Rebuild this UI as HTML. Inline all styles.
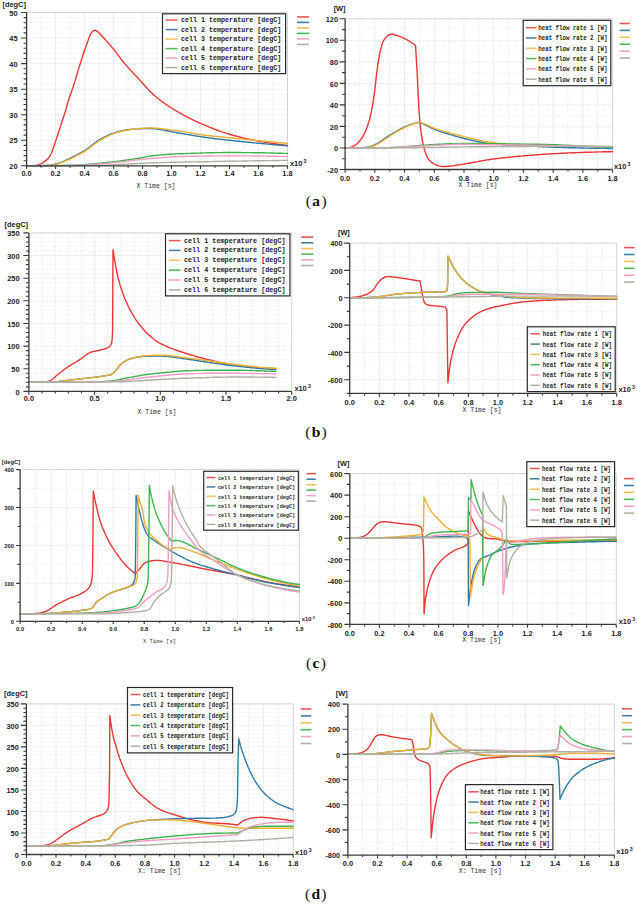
<!DOCTYPE html>
<html><head><meta charset="utf-8"><style>html,body{margin:0;padding:0;background:#fff;width:637px;height:904px;overflow:hidden}svg{display:block}</style></head><body>
<svg width="637" height="904" viewBox="0 0 637 904">
<rect width="637" height="904" fill="#fff"/>
<line x1="41.1" y1="12.5" x2="41.1" y2="165.8" stroke="#e2e2e2" stroke-width="0.9" stroke-dasharray="1 1"/>
<line x1="55.6" y1="12.5" x2="55.6" y2="165.8" stroke="#d8d8d8" stroke-width="0.9" stroke-dasharray="1 1"/>
<line x1="70.1" y1="12.5" x2="70.1" y2="165.8" stroke="#e2e2e2" stroke-width="0.9" stroke-dasharray="1 1"/>
<line x1="84.6" y1="12.5" x2="84.6" y2="165.8" stroke="#d8d8d8" stroke-width="0.9" stroke-dasharray="1 1"/>
<line x1="99.1" y1="12.5" x2="99.1" y2="165.8" stroke="#e2e2e2" stroke-width="0.9" stroke-dasharray="1 1"/>
<line x1="113.6" y1="12.5" x2="113.6" y2="165.8" stroke="#d8d8d8" stroke-width="0.9" stroke-dasharray="1 1"/>
<line x1="128.1" y1="12.5" x2="128.1" y2="165.8" stroke="#e2e2e2" stroke-width="0.9" stroke-dasharray="1 1"/>
<line x1="142.6" y1="12.5" x2="142.6" y2="165.8" stroke="#d8d8d8" stroke-width="0.9" stroke-dasharray="1 1"/>
<line x1="157" y1="12.5" x2="157" y2="165.8" stroke="#e2e2e2" stroke-width="0.9" stroke-dasharray="1 1"/>
<line x1="171.5" y1="12.5" x2="171.5" y2="165.8" stroke="#d8d8d8" stroke-width="0.9" stroke-dasharray="1 1"/>
<line x1="186" y1="12.5" x2="186" y2="165.8" stroke="#e2e2e2" stroke-width="0.9" stroke-dasharray="1 1"/>
<line x1="200.5" y1="12.5" x2="200.5" y2="165.8" stroke="#d8d8d8" stroke-width="0.9" stroke-dasharray="1 1"/>
<line x1="215" y1="12.5" x2="215" y2="165.8" stroke="#e2e2e2" stroke-width="0.9" stroke-dasharray="1 1"/>
<line x1="229.5" y1="12.5" x2="229.5" y2="165.8" stroke="#d8d8d8" stroke-width="0.9" stroke-dasharray="1 1"/>
<line x1="244" y1="12.5" x2="244" y2="165.8" stroke="#e2e2e2" stroke-width="0.9" stroke-dasharray="1 1"/>
<line x1="258.5" y1="12.5" x2="258.5" y2="165.8" stroke="#d8d8d8" stroke-width="0.9" stroke-dasharray="1 1"/>
<line x1="273" y1="12.5" x2="273" y2="165.8" stroke="#e2e2e2" stroke-width="0.9" stroke-dasharray="1 1"/>
<line x1="26.6" y1="160.7" x2="287.5" y2="160.7" stroke="#ececec" stroke-width="0.8" stroke-dasharray="1 1"/>
<line x1="26.6" y1="155.6" x2="287.5" y2="155.6" stroke="#ececec" stroke-width="0.8" stroke-dasharray="1 1"/>
<line x1="26.6" y1="150.5" x2="287.5" y2="150.5" stroke="#ececec" stroke-width="0.8" stroke-dasharray="1 1"/>
<line x1="26.6" y1="145.4" x2="287.5" y2="145.4" stroke="#ececec" stroke-width="0.8" stroke-dasharray="1 1"/>
<line x1="26.6" y1="140.2" x2="287.5" y2="140.2" stroke="#dcdcdc" stroke-width="0.8" stroke-dasharray="1 1"/>
<line x1="26.6" y1="135.1" x2="287.5" y2="135.1" stroke="#ececec" stroke-width="0.8" stroke-dasharray="1 1"/>
<line x1="26.6" y1="130" x2="287.5" y2="130" stroke="#ececec" stroke-width="0.8" stroke-dasharray="1 1"/>
<line x1="26.6" y1="124.9" x2="287.5" y2="124.9" stroke="#ececec" stroke-width="0.8" stroke-dasharray="1 1"/>
<line x1="26.6" y1="119.8" x2="287.5" y2="119.8" stroke="#ececec" stroke-width="0.8" stroke-dasharray="1 1"/>
<line x1="26.6" y1="114.7" x2="287.5" y2="114.7" stroke="#dcdcdc" stroke-width="0.8" stroke-dasharray="1 1"/>
<line x1="26.6" y1="109.6" x2="287.5" y2="109.6" stroke="#ececec" stroke-width="0.8" stroke-dasharray="1 1"/>
<line x1="26.6" y1="104.5" x2="287.5" y2="104.5" stroke="#ececec" stroke-width="0.8" stroke-dasharray="1 1"/>
<line x1="26.6" y1="99.4" x2="287.5" y2="99.4" stroke="#ececec" stroke-width="0.8" stroke-dasharray="1 1"/>
<line x1="26.6" y1="94.3" x2="287.5" y2="94.3" stroke="#ececec" stroke-width="0.8" stroke-dasharray="1 1"/>
<line x1="26.6" y1="89.2" x2="287.5" y2="89.2" stroke="#dcdcdc" stroke-width="0.8" stroke-dasharray="1 1"/>
<line x1="26.6" y1="84" x2="287.5" y2="84" stroke="#ececec" stroke-width="0.8" stroke-dasharray="1 1"/>
<line x1="26.6" y1="78.9" x2="287.5" y2="78.9" stroke="#ececec" stroke-width="0.8" stroke-dasharray="1 1"/>
<line x1="26.6" y1="73.8" x2="287.5" y2="73.8" stroke="#ececec" stroke-width="0.8" stroke-dasharray="1 1"/>
<line x1="26.6" y1="68.7" x2="287.5" y2="68.7" stroke="#ececec" stroke-width="0.8" stroke-dasharray="1 1"/>
<line x1="26.6" y1="63.6" x2="287.5" y2="63.6" stroke="#dcdcdc" stroke-width="0.8" stroke-dasharray="1 1"/>
<line x1="26.6" y1="58.5" x2="287.5" y2="58.5" stroke="#ececec" stroke-width="0.8" stroke-dasharray="1 1"/>
<line x1="26.6" y1="53.4" x2="287.5" y2="53.4" stroke="#ececec" stroke-width="0.8" stroke-dasharray="1 1"/>
<line x1="26.6" y1="48.3" x2="287.5" y2="48.3" stroke="#ececec" stroke-width="0.8" stroke-dasharray="1 1"/>
<line x1="26.6" y1="43.2" x2="287.5" y2="43.2" stroke="#ececec" stroke-width="0.8" stroke-dasharray="1 1"/>
<line x1="26.6" y1="38" x2="287.5" y2="38" stroke="#dcdcdc" stroke-width="0.8" stroke-dasharray="1 1"/>
<line x1="26.6" y1="32.9" x2="287.5" y2="32.9" stroke="#ececec" stroke-width="0.8" stroke-dasharray="1 1"/>
<line x1="26.6" y1="27.8" x2="287.5" y2="27.8" stroke="#ececec" stroke-width="0.8" stroke-dasharray="1 1"/>
<line x1="26.6" y1="22.7" x2="287.5" y2="22.7" stroke="#ececec" stroke-width="0.8" stroke-dasharray="1 1"/>
<line x1="26.6" y1="17.6" x2="287.5" y2="17.6" stroke="#ececec" stroke-width="0.8" stroke-dasharray="1 1"/>
<path d="M26.6 12.5 H287.5 V165.8" fill="none" stroke="#d4d4d4" stroke-width="1"/>
<path d="M26.6 165.8 L27.5 165.8 L28.6 165.8 L29.8 165.8 L31 165.7 L31.8 165.7 L32.6 165.7 L33.4 165.6 L34.2 165.6 L35.4 165.5 L36.6 165.3 L37.7 165 L38.9 164.6 L40 164.2 L41.1 163.7 L42.2 163.1 L43.2 162.5 L44.2 161.9 L44.8 161.4 L45.4 160.9 L46.1 160.4 L46.9 159.6 L47.8 158.7 L48.6 157.8 L49.3 156.9 L50 155.9 L50.6 154.8 L51.1 153.8 L51.5 153 L51.8 152.3 L52.1 151.5 L52.3 150.8 L52.6 150 L52.9 149.3 L53.1 148.5 L53.4 147.8 L53.7 147 L53.9 146.2 L54.2 145.5 L54.4 144.7 L54.7 144 L54.9 143.2 L55.2 142.5 L55.4 141.7 L55.7 140.9 L56 140.2 L56.2 139.4 L56.5 138.7 L56.7 137.9 L57 137.1 L57.2 136.4 L57.5 135.6 L57.7 134.9 L58 134.1 L58.2 133.3 L58.5 132.6 L58.7 131.8 L59 131 L59.2 130.3 L59.5 129.5 L59.7 128.8 L59.9 128 L60.2 127.2 L60.4 126.5 L60.7 125.7 L60.9 124.9 L61.2 124.2 L61.4 123.4 L61.7 122.7 L61.9 121.9 L62.2 121.1 L62.4 120.4 L62.7 119.6 L62.9 118.8 L63.2 118.1 L63.4 117.3 L63.7 116.6 L63.9 115.8 L64.2 115 L64.4 114.3 L64.7 113.5 L64.9 112.7 L65.2 112 L65.4 111.2 L65.6 110.4 L65.9 109.7 L66.1 108.9 L66.3 108.1 L66.5 107.4 L66.7 106.6 L66.9 105.8 L67.2 105.1 L67.4 104.3 L67.6 103.5 L67.8 102.7 L68 102 L68.2 101.2 L68.5 100.4 L68.7 99.7 L69 98.9 L69.2 98.1 L69.5 97.4 L69.7 96.6 L70 95.9 L70.3 95.1 L70.5 94.4 L70.8 93.6 L71.1 92.9 L71.4 92.1 L71.6 91.3 L71.9 90.6 L72.2 89.8 L72.4 89.1 L72.7 88.3 L72.9 87.6 L73.2 86.8 L73.4 86 L73.7 85.3 L73.9 84.5 L74.1 83.7 L74.4 83 L74.6 82.2 L74.8 81.4 L75.1 80.7 L75.3 79.9 L75.5 79.1 L75.8 78.4 L76 77.6 L76.2 76.8 L76.4 76.1 L76.7 75.3 L76.9 74.5 L77.1 73.8 L77.4 73 L77.6 72.2 L77.8 71.5 L78.1 70.7 L78.3 69.9 L78.5 69.2 L78.8 68.4 L79 67.6 L79.2 66.9 L79.5 66.1 L79.7 65.3 L80 64.6 L80.2 63.8 L80.4 63 L80.7 62.3 L80.9 61.5 L81.2 60.7 L81.4 60 L81.7 59.2 L81.9 58.5 L82.2 57.7 L82.4 56.9 L82.7 56.2 L82.9 55.4 L83.2 54.6 L83.4 53.9 L83.7 53.1 L83.9 52.4 L84.2 51.6 L84.4 50.8 L84.7 50.1 L84.9 49.3 L85.2 48.6 L85.5 47.8 L85.7 47.1 L86 46.3 L86.3 45.5 L86.5 44.8 L86.8 44 L87.1 43.3 L87.3 42.5 L87.6 41.8 L87.9 41 L88.1 40.3 L88.4 39.5 L88.7 38.7 L88.9 38 L89.2 37.2 L89.5 36.5 L89.8 35.7 L90.2 34.6 L90.8 33.6 L91.5 32.6 L92.2 31.7 L93.1 30.9 L94.1 30.4 L95.1 30.3 L96.2 30.6 L97.2 31.1 L98.1 31.9 L98.9 32.7 L99.5 33.3 L100 33.9 L100.6 34.5 L101.1 35.1 L101.6 35.7 L102.2 36.3 L102.7 36.8 L103.3 37.4 L103.9 38 L104.4 38.6 L105 39.2 L105.5 39.8 L106 40.4 L106.6 41 L107.1 41.6 L107.6 42.2 L108.1 42.8 L108.7 43.4 L109.2 44 L109.7 44.6 L110.2 45.2 L110.7 45.8 L111.2 46.5 L111.7 47.1 L112.2 47.7 L112.8 48.3 L113.3 48.9 L113.8 49.6 L114.3 50.2 L114.8 50.8 L115.3 51.4 L115.8 52.1 L116.3 52.7 L116.8 53.3 L117.2 54 L117.7 54.6 L118.2 55.2 L118.7 55.9 L119.2 56.5 L119.7 57.2 L120.1 57.8 L120.6 58.4 L121.1 59.1 L121.6 59.7 L122.1 60.3 L122.6 61 L123.1 61.6 L123.6 62.2 L124.1 62.8 L124.6 63.5 L125.1 64.1 L125.7 64.7 L126.2 65.3 L126.7 65.9 L127.2 66.5 L127.8 67.1 L128.3 67.7 L128.8 68.3 L129.4 68.9 L129.9 69.5 L130.4 70.1 L131 70.7 L131.5 71.2 L132.1 71.8 L132.6 72.4 L133.2 73 L133.7 73.6 L134.3 74.2 L134.8 74.8 L135.4 75.3 L135.9 75.9 L136.5 76.5 L137 77.1 L137.6 77.7 L138.1 78.3 L138.7 78.8 L139.2 79.4 L139.7 80 L140.3 80.6 L140.8 81.2 L141.4 81.8 L141.9 82.4 L142.4 83 L143 83.6 L143.5 84.2 L144 84.8 L144.6 85.4 L145.1 86 L145.6 86.6 L146.2 87.2 L146.7 87.8 L147.2 88.4 L147.8 89 L148.3 89.6 L148.9 90.1 L149.4 90.7 L150 91.3 L150.5 91.9 L151.1 92.4 L151.7 93 L152.3 93.5 L152.8 94.1 L153.4 94.6 L154 95.2 L154.6 95.7 L155.3 96.2 L155.9 96.7 L156.5 97.2 L157.1 97.7 L157.7 98.2 L158.4 98.7 L159 99.2 L159.6 99.7 L160.3 100.2 L160.9 100.7 L161.5 101.2 L162.2 101.6 L162.8 102.1 L163.5 102.6 L164.1 103.1 L164.8 103.5 L165.4 104 L166.1 104.4 L166.8 104.9 L167.4 105.3 L168.1 105.8 L168.8 106.2 L169.4 106.7 L170.1 107.1 L170.8 107.5 L171.5 108 L172.1 108.4 L172.8 108.8 L173.5 109.2 L174.2 109.7 L174.9 110.1 L175.6 110.5 L176.2 110.9 L176.9 111.3 L177.6 111.7 L178.3 112.1 L179 112.5 L179.7 112.9 L180.4 113.3 L181.1 113.7 L181.8 114.1 L182.5 114.5 L183.2 114.9 L183.9 115.3 L184.6 115.6 L185.3 116 L186 116.4 L186.7 116.8 L187.4 117.1 L188.2 117.5 L188.9 117.9 L189.6 118.2 L190.3 118.6 L191 118.9 L191.7 119.3 L192.5 119.6 L193.2 120 L193.9 120.3 L194.6 120.7 L195.4 121 L196.1 121.4 L196.8 121.7 L197.5 122 L198.3 122.4 L199 122.7 L199.7 123 L200.5 123.3 L201.2 123.6 L201.9 124 L202.7 124.3 L203.4 124.6 L204.2 124.9 L204.9 125.2 L205.6 125.5 L206.4 125.8 L207.1 126.1 L207.8 126.5 L208.6 126.8 L209.3 127.1 L210.1 127.4 L210.8 127.7 L211.6 128 L212.3 128.3 L213.1 128.5 L213.8 128.8 L214.6 129.1 L215.3 129.4 L216 129.7 L216.8 130 L217.5 130.3 L218.3 130.5 L219.1 130.8 L219.8 131.1 L220.6 131.3 L221.3 131.6 L222.1 131.9 L222.8 132.1 L223.6 132.4 L224.4 132.6 L225.1 132.9 L225.9 133.1 L226.6 133.4 L227.4 133.6 L228.2 133.8 L228.9 134.1 L229.7 134.3 L230.5 134.5 L231.3 134.7 L232 135 L232.8 135.2 L233.6 135.4 L234.3 135.6 L235.1 135.8 L235.9 136 L236.7 136.2 L237.4 136.4 L238.2 136.6 L239 136.8 L239.8 137 L240.5 137.2 L241.3 137.4 L242.1 137.6 L242.9 137.8 L243.7 138 L244.4 138.2 L245.2 138.4 L246 138.5 L246.8 138.7 L247.6 138.9 L248.3 139.1 L249.1 139.2 L249.9 139.4 L250.7 139.6 L251.5 139.7 L252.3 139.9 L253.1 140 L253.8 140.2 L254.6 140.3 L255.4 140.5 L256.2 140.6 L257 140.8 L257.8 140.9 L258.6 141.1 L259.4 141.2 L260.1 141.4 L260.9 141.5 L261.7 141.6 L262.5 141.8 L263.3 141.9 L264.1 142.1 L264.9 142.2 L265.7 142.3 L266.5 142.5 L267.3 142.6 L268 142.7 L268.8 142.9 L269.6 143 L270.4 143.1 L271.2 143.2 L272 143.4 L272.8 143.5 L273.6 143.6 L274.4 143.7 L275.2 143.8 L276 143.9 L276.8 144.1 L277.6 144.2 L278.3 144.3 L279.1 144.4 L279.9 144.5 L280.7 144.6 L281.5 144.7 L282.3 144.8 L283.1 144.9 L284.3 145 L285.5 145.1 L286.7 145.3 L287.5 145.4" fill="none" stroke="#ee3535" stroke-width="1.4" stroke-linejoin="round" stroke-linecap="round"/>
<path d="M26.6 165.8 L27.5 165.8 L28.6 165.8 L29.8 165.8 L31 165.8 L31.8 165.8 L32.6 165.8 L33.4 165.7 L34.2 165.7 L35 165.7 L35.8 165.7 L36.6 165.7 L37.4 165.7 L38.2 165.7 L39 165.6 L39.8 165.6 L40.6 165.6 L41.4 165.6 L42.2 165.5 L43 165.5 L43.8 165.5 L44.6 165.4 L45.5 165.4 L46.3 165.4 L47.1 165.3 L47.9 165.3 L48.7 165.2 L49.5 165.2 L50.2 165.1 L51 165 L51.8 164.8 L52.6 164.7 L53.4 164.5 L54.2 164.3 L55 164.1 L55.7 163.9 L56.5 163.7 L57.3 163.5 L58.1 163.3 L58.8 163.1 L59.6 162.8 L60.4 162.6 L61.1 162.3 L61.9 162 L62.6 161.7 L63.3 161.4 L64.1 161.1 L64.8 160.8 L65.5 160.4 L66.3 160.1 L67 159.7 L67.7 159.4 L68.4 159.1 L69.2 158.7 L69.9 158.3 L70.6 158 L71.3 157.6 L72 157.3 L72.8 156.9 L73.5 156.6 L74.2 156.2 L74.9 155.9 L75.6 155.5 L76.3 155.1 L77.1 154.8 L77.8 154.4 L78.5 154 L79.2 153.6 L79.9 153.2 L80.6 152.8 L81.3 152.4 L82 152 L82.7 151.6 L83.4 151.2 L84 150.8 L84.7 150.4 L85.4 150 L86.1 149.5 L86.7 149.1 L87.4 148.6 L88 148.1 L88.7 147.7 L89.3 147.2 L90 146.7 L90.6 146.2 L91.2 145.7 L91.8 145.2 L92.5 144.7 L93.1 144.2 L93.7 143.7 L94.4 143.2 L95 142.7 L95.7 142.3 L96.3 141.8 L97 141.3 L97.6 140.9 L98.3 140.5 L99 140.1 L99.7 139.6 L100.4 139.2 L101.1 138.8 L101.8 138.5 L102.5 138.1 L103.2 137.7 L103.9 137.3 L104.6 136.9 L105.3 136.6 L106 136.2 L106.8 135.9 L107.5 135.5 L108.2 135.2 L109 134.9 L109.7 134.5 L110.4 134.2 L111.2 133.9 L111.9 133.7 L112.7 133.4 L113.5 133.2 L114.2 132.9 L115 132.7 L115.7 132.4 L116.5 132.2 L117.3 132 L118.1 131.8 L118.8 131.5 L119.6 131.3 L120.4 131.1 L121.2 130.9 L121.9 130.8 L122.7 130.6 L123.5 130.4 L124.3 130.2 L125.1 130.1 L125.9 130 L126.7 129.8 L127.5 129.7 L128.3 129.6 L129.1 129.6 L129.9 129.5 L130.7 129.4 L131.5 129.3 L132.3 129.3 L133.1 129.2 L133.9 129.1 L134.7 129.1 L135.5 129 L136.3 129 L137.1 128.9 L137.9 128.9 L138.7 128.8 L139.5 128.8 L140.3 128.7 L141.1 128.7 L141.9 128.7 L142.7 128.6 L143.5 128.6 L144.3 128.6 L145.1 128.6 L145.9 128.5 L146.7 128.5 L147.5 128.5 L148.3 128.5 L149.1 128.5 L149.9 128.5 L150.7 128.5 L151.5 128.6 L152.3 128.6 L153.1 128.7 L153.9 128.7 L154.7 128.8 L155.5 128.9 L156.3 129 L157.1 129.1 L157.9 129.2 L158.7 129.3 L159.5 129.4 L160.3 129.5 L161 129.6 L161.8 129.8 L162.6 129.9 L163.4 130.1 L164.2 130.2 L165 130.4 L165.8 130.5 L166.6 130.7 L167.4 130.8 L168.1 131 L168.9 131.1 L169.7 131.3 L170.5 131.5 L171.3 131.6 L172.1 131.8 L172.9 131.9 L173.6 132.1 L174.4 132.2 L175.2 132.4 L176 132.5 L176.8 132.7 L177.6 132.8 L178.4 133 L179.2 133.1 L180 133.2 L180.8 133.3 L181.5 133.5 L182.3 133.6 L183.1 133.7 L183.9 133.9 L184.7 134 L185.5 134.1 L186.3 134.3 L187.1 134.4 L187.9 134.5 L188.7 134.7 L189.5 134.8 L190.3 134.9 L191 135.1 L191.8 135.2 L192.6 135.4 L193.4 135.5 L194.2 135.6 L195 135.8 L195.8 135.9 L196.6 136 L197.4 136.1 L198.2 136.3 L199 136.4 L199.7 136.5 L200.5 136.6 L201.3 136.8 L202.1 136.9 L202.9 137 L203.7 137.1 L204.5 137.2 L205.3 137.3 L206.1 137.5 L206.9 137.6 L207.7 137.7 L208.5 137.8 L209.3 137.9 L210.1 138 L210.9 138.1 L211.7 138.2 L212.5 138.3 L213.3 138.4 L214.1 138.5 L214.9 138.6 L215.6 138.7 L216.4 138.8 L217.2 138.9 L218 139 L218.8 139.1 L219.6 139.2 L220.4 139.3 L221.2 139.4 L222 139.4 L222.8 139.5 L223.6 139.6 L224.4 139.7 L225.2 139.8 L226 139.9 L226.8 140 L227.6 140.1 L228.4 140.2 L229.2 140.3 L230 140.3 L230.8 140.4 L231.6 140.5 L232.4 140.6 L233.2 140.7 L234 140.8 L234.8 140.9 L235.6 141 L236.4 141 L237.2 141.1 L238 141.2 L238.8 141.3 L239.6 141.4 L240.4 141.4 L241.2 141.5 L242 141.6 L242.8 141.7 L243.6 141.8 L244.4 141.8 L245.2 141.9 L246 142 L246.8 142.1 L247.6 142.2 L248.4 142.2 L249.2 142.3 L249.9 142.4 L250.7 142.5 L251.5 142.6 L252.3 142.6 L253.1 142.7 L253.9 142.8 L254.7 142.9 L255.5 142.9 L256.3 143 L257.1 143.1 L257.9 143.2 L258.7 143.2 L259.5 143.3 L260.3 143.4 L261.1 143.5 L261.9 143.5 L262.7 143.6 L263.5 143.7 L264.3 143.8 L265.1 143.9 L265.9 143.9 L266.7 144 L267.5 144.1 L268.3 144.1 L269.1 144.2 L269.9 144.3 L270.7 144.4 L271.5 144.4 L272.3 144.5 L273.1 144.6 L273.9 144.7 L274.7 144.7 L275.5 144.8 L276.3 144.9 L277.1 145 L277.9 145 L278.7 145.1 L279.5 145.2 L280.3 145.2 L281.1 145.3 L281.9 145.4 L282.7 145.5 L283.5 145.5 L284.7 145.6 L285.9 145.7 L287.1 145.8 L287.5 145.9" fill="none" stroke="#2d7ba6" stroke-width="1.4" stroke-linejoin="round" stroke-linecap="round"/>
<path d="M26.6 165.8 L27.5 165.8 L28.6 165.8 L29.8 165.8 L31 165.8 L31.8 165.8 L32.6 165.8 L33.4 165.8 L34.2 165.8 L35 165.8 L35.8 165.8 L36.6 165.7 L37.4 165.7 L38.2 165.7 L39 165.7 L39.8 165.7 L40.6 165.7 L41.4 165.7 L42.2 165.7 L43 165.7 L43.8 165.6 L44.6 165.6 L45.4 165.6 L46.2 165.6 L47 165.6 L47.8 165.5 L48.6 165.5 L49.4 165.4 L50.2 165.3 L51 165.2 L51.8 165.1 L52.6 165 L53.4 164.8 L54.2 164.6 L54.9 164.4 L55.7 164.2 L56.5 164 L57.3 163.8 L58 163.6 L58.8 163.4 L59.6 163.1 L60.3 162.9 L61.1 162.6 L61.9 162.4 L62.6 162.1 L63.4 161.8 L64.1 161.5 L64.8 161.2 L65.6 160.9 L66.3 160.6 L67.1 160.3 L67.8 160 L68.5 159.6 L69.3 159.3 L70 159 L70.7 158.7 L71.4 158.3 L72.2 158 L72.9 157.6 L73.6 157.3 L74.3 156.9 L75.1 156.6 L75.8 156.2 L76.5 155.9 L77.2 155.5 L77.9 155.1 L78.6 154.7 L79.3 154.3 L80 153.9 L80.7 153.6 L81.4 153.2 L82.1 152.7 L82.8 152.3 L83.5 151.9 L84.2 151.5 L84.8 151.1 L85.5 150.7 L86.2 150.2 L86.9 149.8 L87.5 149.3 L88.2 148.9 L88.8 148.4 L89.5 147.9 L90.1 147.4 L90.7 147 L91.4 146.5 L92 146 L92.7 145.5 L93.3 145 L93.9 144.5 L94.6 144.1 L95.2 143.6 L95.9 143.1 L96.5 142.7 L97.2 142.2 L97.9 141.8 L98.5 141.3 L99.2 140.9 L99.9 140.5 L100.6 140.1 L101.3 139.7 L102 139.3 L102.7 138.9 L103.4 138.5 L104.1 138.1 L104.8 137.7 L105.5 137.3 L106.2 136.9 L106.9 136.5 L107.6 136.2 L108.3 135.8 L109 135.5 L109.8 135.1 L110.5 134.8 L111.2 134.5 L112 134.2 L112.7 133.9 L113.5 133.7 L114.2 133.4 L115 133.2 L115.8 132.9 L116.5 132.7 L117.3 132.4 L118.1 132.2 L118.8 132 L119.6 131.8 L120.4 131.6 L121.2 131.4 L121.9 131.2 L122.7 131 L123.5 130.8 L124.3 130.6 L125.1 130.5 L125.9 130.3 L126.6 130.2 L127.4 130.1 L128.2 129.9 L129 129.8 L129.8 129.7 L130.6 129.6 L131.4 129.5 L132.2 129.4 L133 129.3 L133.8 129.2 L134.6 129.1 L135.4 129 L136.2 128.9 L137 128.8 L137.8 128.7 L138.6 128.6 L139.4 128.5 L140.2 128.5 L141 128.4 L141.8 128.3 L142.6 128.3 L143.4 128.2 L144.1 128.2 L145 128.1 L145.8 128.1 L146.6 128 L147.4 128 L148.2 128 L149 128 L149.8 128 L150.6 128 L151.4 128 L152.2 128 L153 128.1 L153.8 128.1 L154.6 128.2 L155.4 128.2 L156.2 128.3 L157 128.3 L157.8 128.4 L158.6 128.4 L159.4 128.5 L160.2 128.6 L161 128.7 L161.7 128.8 L162.5 128.9 L163.3 128.9 L164.1 129 L164.9 129.1 L165.7 129.2 L166.5 129.3 L167.3 129.4 L168.1 129.5 L168.9 129.7 L169.7 129.8 L170.5 129.9 L171.3 130 L172.1 130.1 L172.9 130.2 L173.7 130.3 L174.5 130.4 L175.3 130.5 L176.1 130.6 L176.8 130.7 L177.6 130.8 L178.4 131 L179.2 131.1 L180 131.2 L180.8 131.3 L181.6 131.4 L182.4 131.5 L183.2 131.6 L184 131.8 L184.8 131.9 L185.6 132 L186.4 132.1 L187.2 132.3 L187.9 132.4 L188.7 132.6 L189.5 132.7 L190.3 132.8 L191.1 133 L191.9 133.1 L192.7 133.3 L193.5 133.4 L194.3 133.6 L195 133.7 L195.8 133.8 L196.6 134 L197.4 134.1 L198.2 134.2 L199 134.4 L199.8 134.5 L200.6 134.6 L201.4 134.7 L202.2 134.9 L203 135 L203.7 135.1 L204.5 135.2 L205.3 135.3 L206.1 135.4 L206.9 135.5 L207.7 135.6 L208.5 135.7 L209.3 135.7 L210.1 135.8 L210.9 135.9 L211.7 136 L212.5 136.1 L213.3 136.2 L214.1 136.2 L214.9 136.3 L215.7 136.4 L216.5 136.5 L217.3 136.6 L218.1 136.6 L218.9 136.7 L219.7 136.8 L220.5 136.9 L221.3 136.9 L222.1 137 L222.9 137.1 L223.7 137.2 L224.5 137.2 L225.3 137.3 L226.1 137.4 L226.9 137.5 L227.7 137.6 L228.5 137.6 L229.3 137.7 L230.1 137.8 L230.9 137.9 L231.7 138 L232.4 138 L233.2 138.1 L234 138.2 L234.8 138.3 L235.6 138.4 L236.4 138.5 L237.2 138.5 L238 138.6 L238.8 138.7 L239.6 138.8 L240.4 138.9 L241.2 138.9 L242 139 L242.8 139.1 L243.6 139.2 L244.4 139.3 L245.2 139.4 L246 139.4 L246.8 139.5 L247.6 139.6 L248.4 139.7 L249.2 139.8 L250 139.8 L250.8 139.9 L251.6 140 L252.4 140.1 L253.2 140.2 L254 140.2 L254.8 140.3 L255.6 140.4 L256.4 140.5 L257.2 140.5 L258 140.6 L258.8 140.7 L259.6 140.8 L260.4 140.8 L261.2 140.9 L262 141 L262.8 141.1 L263.6 141.1 L264.4 141.2 L265.1 141.3 L265.9 141.4 L266.7 141.4 L267.5 141.5 L268.3 141.6 L269.1 141.7 L269.9 141.7 L270.7 141.8 L271.5 141.9 L272.3 142 L273.1 142 L273.9 142.1 L274.7 142.2 L275.5 142.3 L276.3 142.3 L277.1 142.4 L277.9 142.5 L278.7 142.5 L279.5 142.6 L280.3 142.7 L281.1 142.8 L281.9 142.8 L282.7 142.9 L283.5 143 L284.7 143.1 L285.9 143.2 L287.1 143.3 L287.5 143.3" fill="none" stroke="#eeae32" stroke-width="1.4" stroke-linejoin="round" stroke-linecap="round"/>
<path d="M26.6 165.8 L27.5 165.8 L28.6 165.8 L29.8 165.8 L31 165.8 L31.8 165.8 L32.6 165.8 L33.4 165.8 L34.2 165.8 L35 165.8 L35.8 165.8 L36.6 165.8 L37.4 165.8 L38.2 165.8 L39 165.8 L39.8 165.7 L40.6 165.7 L41.4 165.7 L42.2 165.7 L43 165.7 L43.8 165.7 L44.6 165.7 L45.4 165.7 L46.2 165.7 L47 165.7 L47.8 165.7 L48.6 165.7 L49.4 165.6 L50.2 165.6 L51 165.6 L51.8 165.6 L52.6 165.6 L53.4 165.6 L54.2 165.6 L55 165.6 L55.8 165.5 L56.6 165.5 L57.5 165.5 L58.3 165.5 L59.1 165.5 L59.9 165.5 L60.7 165.5 L61.5 165.5 L62.3 165.4 L63.1 165.4 L63.9 165.4 L64.7 165.4 L65.5 165.4 L66.3 165.4 L67.1 165.3 L67.9 165.3 L68.7 165.3 L69.5 165.3 L70.3 165.3 L71.1 165.3 L71.9 165.2 L72.7 165.2 L73.5 165.2 L74.3 165.2 L75.1 165.1 L75.9 165.1 L76.7 165.1 L77.5 165 L78.3 165 L79.1 164.9 L79.9 164.9 L80.7 164.8 L81.5 164.8 L82.3 164.7 L83.1 164.7 L83.9 164.6 L84.7 164.6 L85.5 164.5 L86.3 164.4 L87.1 164.4 L87.9 164.3 L88.7 164.2 L89.5 164.2 L90.3 164.1 L91.1 164 L91.9 164 L92.7 163.9 L93.5 163.8 L94.3 163.7 L95.1 163.7 L95.8 163.6 L96.6 163.5 L97.4 163.4 L98.2 163.3 L99 163.3 L99.8 163.2 L100.6 163.1 L101.4 163 L102.2 162.9 L103 162.8 L103.8 162.8 L104.6 162.7 L105.4 162.6 L106.2 162.5 L107 162.4 L107.8 162.3 L108.6 162.2 L109.4 162.2 L110.2 162.1 L111 162 L111.8 161.9 L112.6 161.8 L113.4 161.7 L114.2 161.6 L115 161.6 L115.8 161.5 L116.6 161.4 L117.4 161.3 L118.2 161.2 L119 161.1 L119.7 161 L120.5 160.9 L121.3 160.8 L122.1 160.7 L122.9 160.6 L123.7 160.5 L124.5 160.3 L125.3 160.2 L126.1 160.1 L126.9 160 L127.7 159.9 L128.5 159.8 L129.3 159.7 L130.1 159.5 L130.9 159.4 L131.6 159.3 L132.4 159.2 L133.2 159.1 L134 158.9 L134.8 158.8 L135.6 158.7 L136.4 158.6 L137.2 158.4 L138 158.3 L138.8 158.2 L139.6 158.1 L140.4 157.9 L141.1 157.8 L141.9 157.7 L142.7 157.5 L143.5 157.4 L144.3 157.2 L145.1 157.1 L145.9 156.9 L146.7 156.8 L147.4 156.6 L148.2 156.5 L149 156.3 L149.8 156.2 L150.6 156.1 L151.4 156 L152.2 155.8 L153 155.7 L153.8 155.6 L154.6 155.5 L155.4 155.5 L156.2 155.4 L157 155.3 L157.8 155.2 L158.6 155.1 L159.4 155.1 L160.2 155 L161 154.9 L161.8 154.9 L162.6 154.8 L163.4 154.7 L164.2 154.7 L165 154.6 L165.8 154.6 L166.6 154.5 L167.3 154.4 L168.1 154.4 L168.9 154.3 L169.7 154.3 L170.5 154.2 L171.3 154.2 L172.1 154.1 L172.9 154.1 L173.7 154 L174.5 154 L175.3 154 L176.1 153.9 L176.9 153.9 L177.8 153.9 L178.6 153.8 L179.4 153.8 L180.2 153.8 L181 153.7 L181.8 153.7 L182.6 153.7 L183.4 153.6 L184.2 153.6 L185 153.6 L185.8 153.5 L186.6 153.5 L187.4 153.5 L188.2 153.4 L189 153.4 L189.8 153.4 L190.6 153.4 L191.4 153.3 L192.2 153.3 L193 153.3 L193.8 153.2 L194.6 153.2 L195.4 153.2 L196.2 153.2 L197 153.1 L197.8 153.1 L198.6 153.1 L199.4 153.1 L200.2 153 L201 153 L201.8 153 L202.6 153 L203.4 152.9 L204.2 152.9 L205 152.9 L205.8 152.9 L206.6 152.8 L207.4 152.8 L208.2 152.8 L209 152.8 L209.8 152.8 L210.6 152.7 L211.4 152.7 L212.2 152.7 L213 152.7 L213.8 152.7 L214.6 152.7 L215.4 152.6 L216.2 152.6 L217 152.6 L217.8 152.6 L218.6 152.6 L219.4 152.6 L220.2 152.6 L221 152.6 L221.8 152.6 L222.6 152.5 L223.4 152.5 L224.2 152.5 L225 152.5 L225.8 152.5 L226.6 152.5 L227.4 152.5 L228.2 152.5 L229 152.5 L229.8 152.5 L230.6 152.5 L231.4 152.5 L232.2 152.5 L233 152.5 L233.8 152.5 L234.6 152.5 L235.4 152.5 L236.2 152.5 L237 152.5 L237.8 152.5 L238.6 152.5 L239.4 152.5 L240.2 152.5 L241 152.5 L241.8 152.6 L242.6 152.6 L243.4 152.6 L244.2 152.6 L245 152.6 L245.8 152.6 L246.6 152.6 L247.4 152.6 L248.2 152.6 L249 152.6 L249.8 152.6 L250.7 152.6 L251.5 152.6 L252.3 152.6 L253.1 152.7 L253.9 152.7 L254.7 152.7 L255.5 152.7 L256.3 152.7 L257.1 152.7 L257.9 152.7 L258.7 152.7 L259.5 152.7 L260.3 152.8 L261.1 152.8 L261.9 152.8 L262.7 152.8 L263.5 152.8 L264.3 152.8 L265.1 152.9 L265.9 152.9 L266.7 152.9 L267.5 152.9 L268.3 152.9 L269.1 152.9 L269.9 153 L270.7 153 L271.5 153 L272.3 153 L273.1 153 L273.9 153.1 L274.7 153.1 L275.5 153.1 L276.3 153.1 L277.1 153.2 L277.9 153.2 L278.7 153.2 L279.5 153.2 L280.3 153.3 L281.1 153.3 L281.9 153.3 L282.7 153.4 L283.5 153.4 L284.7 153.4 L285.9 153.5 L287.1 153.5 L287.5 153.5" fill="none" stroke="#3cb64c" stroke-width="1.4" stroke-linejoin="round" stroke-linecap="round"/>
<path d="M26.6 165.8 L27.5 165.8 L28.6 165.8 L29.8 165.8 L31 165.8 L31.8 165.8 L32.6 165.8 L33.4 165.8 L34.2 165.8 L35 165.8 L35.8 165.8 L36.6 165.8 L37.4 165.8 L38.2 165.8 L39 165.8 L39.8 165.8 L40.6 165.8 L41.4 165.8 L42.2 165.8 L43 165.8 L43.8 165.8 L44.6 165.8 L45.4 165.7 L46.2 165.7 L47 165.7 L47.8 165.7 L48.6 165.7 L49.4 165.7 L50.2 165.7 L51 165.7 L51.9 165.7 L52.7 165.7 L53.5 165.7 L54.3 165.7 L55.1 165.7 L55.9 165.7 L56.7 165.7 L57.5 165.7 L58.3 165.7 L59.1 165.7 L59.9 165.6 L60.7 165.6 L61.5 165.6 L62.3 165.6 L63.1 165.6 L63.9 165.6 L64.7 165.6 L65.5 165.6 L66.3 165.6 L67.1 165.6 L67.9 165.6 L68.7 165.6 L69.5 165.5 L70.3 165.5 L71.1 165.5 L71.9 165.5 L72.7 165.5 L73.5 165.5 L74.3 165.5 L75.1 165.4 L75.9 165.4 L76.7 165.4 L77.5 165.4 L78.3 165.3 L79.1 165.3 L79.9 165.3 L80.7 165.2 L81.5 165.2 L82.3 165.1 L83.1 165.1 L83.9 165.1 L84.7 165 L85.5 165 L86.3 164.9 L87.1 164.9 L87.9 164.8 L88.7 164.8 L89.5 164.7 L90.3 164.7 L91.1 164.6 L91.9 164.5 L92.7 164.5 L93.5 164.4 L94.3 164.4 L95.1 164.3 L95.9 164.2 L96.7 164.2 L97.5 164.1 L98.3 164 L99.1 164 L99.9 163.9 L100.7 163.8 L101.5 163.8 L102.3 163.7 L103.1 163.6 L103.9 163.6 L104.7 163.5 L105.5 163.4 L106.3 163.4 L107.1 163.3 L107.9 163.2 L108.7 163.2 L109.5 163.1 L110.3 163 L111.1 162.9 L111.9 162.9 L112.7 162.8 L113.5 162.7 L114.3 162.7 L115.1 162.6 L115.9 162.5 L116.7 162.4 L117.5 162.3 L118.3 162.3 L119.1 162.2 L119.9 162.1 L120.6 162 L121.4 161.9 L122.2 161.8 L123 161.7 L123.8 161.6 L124.6 161.5 L125.4 161.4 L126.2 161.3 L127 161.1 L127.8 161 L128.6 160.9 L129.4 160.8 L130.2 160.7 L131 160.6 L131.8 160.5 L132.6 160.4 L133.4 160.3 L134.2 160.2 L135 160.1 L135.8 160 L136.5 159.9 L137.3 159.9 L138.1 159.8 L138.9 159.7 L139.7 159.6 L140.5 159.5 L141.3 159.5 L142.1 159.4 L142.9 159.3 L143.7 159.2 L144.5 159.2 L145.3 159.1 L146.1 159 L146.9 158.9 L147.7 158.8 L148.5 158.8 L149.3 158.7 L150.1 158.6 L150.9 158.5 L151.7 158.5 L152.5 158.4 L153.3 158.3 L154.1 158.2 L154.9 158.2 L155.7 158.1 L156.5 158 L157.3 158 L158.1 157.9 L158.9 157.8 L159.7 157.8 L160.5 157.7 L161.3 157.6 L162.1 157.6 L162.9 157.5 L163.7 157.4 L164.5 157.4 L165.3 157.3 L166.1 157.3 L166.9 157.2 L167.7 157.2 L168.5 157.1 L169.3 157.1 L170.1 157 L170.9 157 L171.7 156.9 L172.5 156.9 L173.3 156.8 L174.1 156.8 L174.9 156.8 L175.7 156.7 L176.5 156.7 L177.3 156.7 L178.1 156.6 L178.9 156.6 L179.7 156.6 L180.5 156.6 L181.3 156.5 L182.1 156.5 L182.9 156.5 L183.7 156.5 L184.5 156.5 L185.3 156.4 L186.1 156.4 L186.9 156.4 L187.7 156.4 L188.5 156.4 L189.3 156.4 L190.1 156.3 L190.9 156.3 L191.7 156.3 L192.5 156.3 L193.3 156.3 L194.1 156.2 L194.9 156.2 L195.7 156.2 L196.5 156.2 L197.3 156.2 L198.1 156.2 L198.9 156.1 L199.7 156.1 L200.5 156.1 L201.3 156.1 L202.1 156.1 L202.9 156.1 L203.7 156.1 L204.5 156 L205.3 156 L206.1 156 L206.9 156 L207.7 156 L208.5 156 L209.3 156 L210.2 156 L211 156 L211.8 155.9 L212.6 155.9 L213.4 155.9 L214.2 155.9 L215 155.9 L215.8 155.9 L216.6 155.9 L217.4 155.9 L218.2 155.9 L219 155.9 L219.8 155.9 L220.6 155.9 L221.4 155.9 L222.2 155.9 L223 155.9 L223.8 155.8 L224.6 155.8 L225.4 155.8 L226.2 155.8 L227 155.8 L227.8 155.8 L228.6 155.8 L229.4 155.8 L230.2 155.8 L231 155.8 L231.8 155.8 L232.6 155.8 L233.4 155.8 L234.2 155.8 L235 155.8 L235.8 155.8 L236.6 155.8 L237.4 155.8 L238.2 155.9 L239 155.9 L239.8 155.9 L240.6 155.9 L241.4 155.9 L242.2 155.9 L243 155.9 L243.8 155.9 L244.6 155.9 L245.4 155.9 L246.2 155.9 L247 155.9 L247.8 155.9 L248.6 155.9 L249.4 155.9 L250.2 155.9 L251 155.9 L251.8 155.9 L252.6 155.9 L253.4 156 L254.2 156 L255 156 L255.8 156 L256.6 156 L257.4 156 L258.2 156 L259 156 L259.9 156 L260.7 156 L261.5 156.1 L262.3 156.1 L263.1 156.1 L263.9 156.1 L264.7 156.1 L265.5 156.1 L266.3 156.1 L267.1 156.1 L267.9 156.2 L268.7 156.2 L269.5 156.2 L270.3 156.2 L271.1 156.2 L271.9 156.2 L272.7 156.2 L273.5 156.3 L274.3 156.3 L275.1 156.3 L275.9 156.3 L276.7 156.3 L277.5 156.3 L278.3 156.4 L279.1 156.4 L279.9 156.4 L280.7 156.4 L281.5 156.4 L282.3 156.5 L283.1 156.5 L284.3 156.5 L285.5 156.5 L286.6 156.6 L287.5 156.6" fill="none" stroke="#f39cc6" stroke-width="1.4" stroke-linejoin="round" stroke-linecap="round"/>
<path d="M26.6 165.8 L27.5 165.8 L28.6 165.8 L29.8 165.8 L31 165.8 L31.8 165.8 L32.6 165.8 L33.4 165.8 L34.2 165.8 L35 165.8 L35.8 165.8 L36.6 165.8 L37.4 165.8 L38.2 165.8 L39 165.8 L39.8 165.8 L40.6 165.8 L41.4 165.8 L42.2 165.8 L43 165.8 L43.8 165.8 L44.6 165.8 L45.4 165.8 L46.2 165.8 L47 165.8 L47.8 165.7 L48.6 165.7 L49.5 165.7 L50.3 165.7 L51.1 165.7 L51.9 165.7 L52.7 165.7 L53.5 165.7 L54.3 165.7 L55.1 165.7 L55.9 165.7 L56.7 165.7 L57.5 165.7 L58.3 165.7 L59.1 165.7 L59.9 165.7 L60.7 165.7 L61.5 165.7 L62.3 165.7 L63.1 165.7 L63.9 165.7 L64.7 165.6 L65.5 165.6 L66.3 165.6 L67.1 165.6 L67.9 165.6 L68.7 165.6 L69.5 165.6 L70.3 165.6 L71.1 165.6 L71.9 165.6 L72.7 165.6 L73.5 165.6 L74.3 165.6 L75.1 165.6 L75.9 165.5 L76.7 165.5 L77.5 165.5 L78.3 165.5 L79.1 165.5 L79.9 165.5 L80.7 165.5 L81.5 165.5 L82.3 165.5 L83.1 165.5 L83.9 165.5 L84.7 165.5 L85.5 165.4 L86.3 165.4 L87.1 165.4 L87.9 165.4 L88.7 165.4 L89.5 165.4 L90.3 165.4 L91.1 165.4 L91.9 165.4 L92.7 165.4 L93.5 165.4 L94.4 165.3 L95.2 165.3 L96 165.3 L96.8 165.3 L97.6 165.3 L98.4 165.3 L99.2 165.3 L100 165.3 L100.8 165.3 L101.6 165.2 L102.4 165.2 L103.2 165.2 L104 165.2 L104.8 165.2 L105.6 165.1 L106.4 165.1 L107.2 165.1 L108 165.1 L108.8 165 L109.6 165 L110.4 165 L111.2 164.9 L112 164.9 L112.8 164.9 L113.6 164.8 L114.4 164.8 L115.2 164.8 L116 164.7 L116.8 164.7 L117.6 164.6 L118.4 164.6 L119.2 164.5 L120 164.5 L120.8 164.5 L121.6 164.4 L122.4 164.4 L123.2 164.3 L124 164.3 L124.8 164.2 L125.6 164.2 L126.4 164.1 L127.2 164.1 L128 164 L128.8 164 L129.6 163.9 L130.4 163.9 L131.2 163.8 L132 163.8 L132.8 163.8 L133.6 163.7 L134.4 163.7 L135.2 163.6 L136 163.6 L136.8 163.5 L137.6 163.5 L138.4 163.4 L139.2 163.4 L140 163.3 L140.8 163.3 L141.6 163.3 L142.4 163.2 L143.2 163.2 L144 163.1 L144.8 163.1 L145.6 163.1 L146.4 163 L147.2 163 L148 163 L148.8 162.9 L149.6 162.9 L150.4 162.9 L151.2 162.8 L152 162.8 L152.8 162.8 L153.6 162.8 L154.4 162.7 L155.2 162.7 L156 162.7 L156.8 162.7 L157.6 162.6 L158.4 162.6 L159.2 162.6 L160 162.6 L160.8 162.6 L161.6 162.5 L162.4 162.5 L163.2 162.5 L164 162.5 L164.8 162.5 L165.6 162.4 L166.4 162.4 L167.2 162.4 L168 162.4 L168.9 162.4 L169.7 162.4 L170.5 162.3 L171.3 162.3 L172.1 162.3 L172.9 162.3 L173.7 162.3 L174.5 162.3 L175.3 162.2 L176.1 162.2 L176.9 162.2 L177.7 162.2 L178.5 162.2 L179.3 162.2 L180.1 162.1 L180.9 162.1 L181.7 162.1 L182.5 162.1 L183.3 162.1 L184.1 162.1 L184.9 162.1 L185.7 162 L186.5 162 L187.3 162 L188.1 162 L188.9 162 L189.7 162 L190.5 162 L191.3 161.9 L192.1 161.9 L192.9 161.9 L193.7 161.9 L194.5 161.9 L195.3 161.9 L196.1 161.9 L196.9 161.8 L197.7 161.8 L198.5 161.8 L199.3 161.8 L200.1 161.8 L200.9 161.8 L201.7 161.8 L202.5 161.7 L203.3 161.7 L204.1 161.7 L204.9 161.7 L205.7 161.7 L206.5 161.7 L207.3 161.7 L208.1 161.6 L208.9 161.6 L209.7 161.6 L210.5 161.6 L211.3 161.6 L212.1 161.6 L212.9 161.6 L213.7 161.5 L214.5 161.5 L215.3 161.5 L216.1 161.5 L217 161.5 L217.8 161.5 L218.6 161.5 L219.4 161.4 L220.2 161.4 L221 161.4 L221.8 161.4 L222.6 161.4 L223.4 161.4 L224.2 161.4 L225 161.3 L225.8 161.3 L226.6 161.3 L227.4 161.3 L228.2 161.3 L229 161.3 L229.8 161.3 L230.6 161.2 L231.4 161.2 L232.2 161.2 L233 161.2 L233.8 161.2 L234.6 161.2 L235.4 161.2 L236.2 161.1 L237 161.1 L237.8 161.1 L238.6 161.1 L239.4 161.1 L240.2 161.1 L241 161.1 L241.8 161 L242.6 161 L243.4 161 L244.2 161 L245 161 L245.8 161 L246.6 161 L247.4 161 L248.2 160.9 L249 160.9 L249.8 160.9 L250.6 160.9 L251.4 160.9 L252.2 160.9 L253 160.9 L253.8 160.8 L254.6 160.8 L255.4 160.8 L256.2 160.8 L257 160.8 L257.8 160.8 L258.6 160.8 L259.4 160.8 L260.2 160.7 L261 160.7 L261.8 160.7 L262.6 160.7 L263.4 160.7 L264.3 160.7 L265.1 160.7 L265.9 160.7 L266.7 160.6 L267.5 160.6 L268.3 160.6 L269.1 160.6 L269.9 160.6 L270.7 160.6 L271.5 160.6 L272.3 160.6 L273.1 160.5 L273.9 160.5 L274.7 160.5 L275.5 160.5 L276.3 160.5 L277.1 160.5 L277.9 160.5 L278.7 160.5 L279.5 160.4 L280.3 160.4 L281.1 160.4 L281.9 160.4 L282.7 160.4 L283.5 160.4 L284.7 160.4 L285.9 160.4 L287.1 160.3 L287.5 160.3" fill="none" stroke="#b0b0a0" stroke-width="1.4" stroke-linejoin="round" stroke-linecap="round"/>
<path d="M26.6 12.5 V165.8 H287.5" fill="none" stroke="#3a3a3a" stroke-width="1.3"/>
<path d="M21.1 165.8H26.6M23.6 160.7H26.6M23.6 155.6H26.6M23.6 150.5H26.6M23.6 145.4H26.6M21.1 140.2H26.6M23.6 135.1H26.6M23.6 130H26.6M23.6 124.9H26.6M23.6 119.8H26.6M21.1 114.7H26.6M23.6 109.6H26.6M23.6 104.5H26.6M23.6 99.4H26.6M23.6 94.3H26.6M21.1 89.2H26.6M23.6 84H26.6M23.6 78.9H26.6M23.6 73.8H26.6M23.6 68.7H26.6M21.1 63.6H26.6M23.6 58.5H26.6M23.6 53.4H26.6M23.6 48.3H26.6M23.6 43.2H26.6M21.1 38H26.6M23.6 32.9H26.6M23.6 27.8H26.6M23.6 22.7H26.6M23.6 17.6H26.6M21.1 12.5H26.6M26.6 165.8V169.1M41.1 165.8V167.8M55.6 165.8V169.1M70.1 165.8V167.8M84.6 165.8V169.1M99.1 165.8V167.8M113.6 165.8V169.1M128.1 165.8V167.8M142.6 165.8V169.1M157 165.8V167.8M171.5 165.8V169.1M186 165.8V167.8M200.5 165.8V169.1M215 165.8V167.8M229.5 165.8V169.1M244 165.8V167.8M258.5 165.8V169.1M273 165.8V167.8M287.5 165.8V169.1" stroke="#3a3a3a" stroke-width="1.1"/>
<g font-family="Liberation Sans, sans-serif" font-weight="bold" font-size="7.4" fill="#1c1c24"><text x="17.6" y="166.4" text-anchor="end" dominant-baseline="central">20</text><text x="17.6" y="140.8" text-anchor="end" dominant-baseline="central">25</text><text x="17.6" y="115.3" text-anchor="end" dominant-baseline="central">30</text><text x="17.6" y="89.8" text-anchor="end" dominant-baseline="central">35</text><text x="17.6" y="64.2" text-anchor="end" dominant-baseline="central">40</text><text x="17.6" y="38.6" text-anchor="end" dominant-baseline="central">45</text><text x="17.6" y="13.1" text-anchor="end" dominant-baseline="central">50</text><text x="26.6" y="173.2" text-anchor="middle" dominant-baseline="central">0.0</text><text x="55.6" y="173.2" text-anchor="middle" dominant-baseline="central">0.2</text><text x="84.6" y="173.2" text-anchor="middle" dominant-baseline="central">0.4</text><text x="113.6" y="173.2" text-anchor="middle" dominant-baseline="central">0.6</text><text x="142.6" y="173.2" text-anchor="middle" dominant-baseline="central">0.8</text><text x="171.5" y="173.2" text-anchor="middle" dominant-baseline="central">1.0</text><text x="200.5" y="173.2" text-anchor="middle" dominant-baseline="central">1.2</text><text x="229.5" y="173.2" text-anchor="middle" dominant-baseline="central">1.4</text><text x="258.5" y="173.2" text-anchor="middle" dominant-baseline="central">1.6</text><text x="287.5" y="173.2" text-anchor="middle" dominant-baseline="central">1.8</text></g>
<text x="14.2" y="4.5" font-family="Liberation Sans, sans-serif" font-weight="bold" font-size="7.4" fill="#1c1c24" text-anchor="middle" dominant-baseline="central">[degC]</text>
<text x="290" y="163" font-family="Liberation Sans, sans-serif" font-weight="bold" font-size="7.4" fill="#1c1c24" dominant-baseline="central">x10<tspan font-size="5.2" dx="1.2" dy="-2.5">3</tspan></text>
<text x="156" y="186.3" font-family="Liberation Mono, monospace" font-size="6.5" fill="#333" text-anchor="middle" dominant-baseline="central">X Time [s]</text>
<rect x="162.5" y="13.8" width="123.1" height="59.8" fill="#fff" stroke="#2a2a2a" stroke-width="1.2"/>
<line x1="165.5" y1="20.1" x2="177.6" y2="20.1" stroke="#ee5555" stroke-width="1.5"/>
<text x="180.9" y="20.1" font-family="Liberation Mono, monospace" font-weight="bold" font-size="6.7" fill="#222" dominant-baseline="central" textLength="100.5" lengthAdjust="spacingAndGlyphs">cell 1 temperature [degC]</text>
<line x1="165.5" y1="29.6" x2="177.6" y2="29.6" stroke="#3d7fa6" stroke-width="1.5"/>
<text x="180.9" y="29.6" font-family="Liberation Mono, monospace" font-weight="bold" font-size="6.7" fill="#222" dominant-baseline="central" textLength="100.5" lengthAdjust="spacingAndGlyphs">cell 2 temperature [degC]</text>
<line x1="165.5" y1="39.1" x2="177.6" y2="39.1" stroke="#fbbd5a" stroke-width="1.5"/>
<text x="180.9" y="39.1" font-family="Liberation Mono, monospace" font-weight="bold" font-size="6.7" fill="#222" dominant-baseline="central" textLength="100.5" lengthAdjust="spacingAndGlyphs">cell 3 temperature [degC]</text>
<line x1="165.5" y1="48.6" x2="177.6" y2="48.6" stroke="#4cba5a" stroke-width="1.5"/>
<text x="180.9" y="48.6" font-family="Liberation Mono, monospace" font-weight="bold" font-size="6.7" fill="#222" dominant-baseline="central" textLength="100.5" lengthAdjust="spacingAndGlyphs">cell 4 temperature [degC]</text>
<line x1="165.5" y1="58.1" x2="177.6" y2="58.1" stroke="#f2a2c8" stroke-width="1.5"/>
<text x="180.9" y="58.1" font-family="Liberation Mono, monospace" font-weight="bold" font-size="6.7" fill="#222" dominant-baseline="central" textLength="100.5" lengthAdjust="spacingAndGlyphs">cell 5 temperature [degC]</text>
<line x1="165.5" y1="67.6" x2="177.6" y2="67.6" stroke="#b0b0a0" stroke-width="1.5"/>
<text x="180.9" y="67.6" font-family="Liberation Mono, monospace" font-weight="bold" font-size="6.7" fill="#222" dominant-baseline="central" textLength="100.5" lengthAdjust="spacingAndGlyphs">cell 6 temperature [degC]</text>
<line x1="297" y1="16.9" x2="309.1" y2="16.9" stroke="#ee5555" stroke-width="1.6"/>
<line x1="297" y1="22.4" x2="309.1" y2="22.4" stroke="#3d7fa6" stroke-width="1.6"/>
<line x1="297" y1="27.9" x2="309.1" y2="27.9" stroke="#fbbd5a" stroke-width="1.6"/>
<line x1="297" y1="33.4" x2="309.1" y2="33.4" stroke="#4cba5a" stroke-width="1.6"/>
<line x1="297" y1="38.9" x2="309.1" y2="38.9" stroke="#f2a2c8" stroke-width="1.6"/>
<line x1="297" y1="44.4" x2="309.1" y2="44.4" stroke="#b0b0a0" stroke-width="1.6"/>
<line x1="360" y1="18.8" x2="360" y2="169.5" stroke="#e2e2e2" stroke-width="0.9" stroke-dasharray="1 1"/>
<line x1="374.8" y1="18.8" x2="374.8" y2="169.5" stroke="#d8d8d8" stroke-width="0.9" stroke-dasharray="1 1"/>
<line x1="389.7" y1="18.8" x2="389.7" y2="169.5" stroke="#e2e2e2" stroke-width="0.9" stroke-dasharray="1 1"/>
<line x1="404.5" y1="18.8" x2="404.5" y2="169.5" stroke="#d8d8d8" stroke-width="0.9" stroke-dasharray="1 1"/>
<line x1="419.4" y1="18.8" x2="419.4" y2="169.5" stroke="#e2e2e2" stroke-width="0.9" stroke-dasharray="1 1"/>
<line x1="434.3" y1="18.8" x2="434.3" y2="169.5" stroke="#d8d8d8" stroke-width="0.9" stroke-dasharray="1 1"/>
<line x1="449.1" y1="18.8" x2="449.1" y2="169.5" stroke="#e2e2e2" stroke-width="0.9" stroke-dasharray="1 1"/>
<line x1="464" y1="18.8" x2="464" y2="169.5" stroke="#d8d8d8" stroke-width="0.9" stroke-dasharray="1 1"/>
<line x1="478.9" y1="18.8" x2="478.9" y2="169.5" stroke="#e2e2e2" stroke-width="0.9" stroke-dasharray="1 1"/>
<line x1="493.7" y1="18.8" x2="493.7" y2="169.5" stroke="#d8d8d8" stroke-width="0.9" stroke-dasharray="1 1"/>
<line x1="508.6" y1="18.8" x2="508.6" y2="169.5" stroke="#e2e2e2" stroke-width="0.9" stroke-dasharray="1 1"/>
<line x1="523.4" y1="18.8" x2="523.4" y2="169.5" stroke="#d8d8d8" stroke-width="0.9" stroke-dasharray="1 1"/>
<line x1="538.3" y1="18.8" x2="538.3" y2="169.5" stroke="#e2e2e2" stroke-width="0.9" stroke-dasharray="1 1"/>
<line x1="553.2" y1="18.8" x2="553.2" y2="169.5" stroke="#d8d8d8" stroke-width="0.9" stroke-dasharray="1 1"/>
<line x1="568" y1="18.8" x2="568" y2="169.5" stroke="#e2e2e2" stroke-width="0.9" stroke-dasharray="1 1"/>
<line x1="582.9" y1="18.8" x2="582.9" y2="169.5" stroke="#d8d8d8" stroke-width="0.9" stroke-dasharray="1 1"/>
<line x1="597.7" y1="18.8" x2="597.7" y2="169.5" stroke="#e2e2e2" stroke-width="0.9" stroke-dasharray="1 1"/>
<line x1="345.1" y1="158.7" x2="612.6" y2="158.7" stroke="#ececec" stroke-width="0.8" stroke-dasharray="1 1"/>
<line x1="345.1" y1="148" x2="612.6" y2="148" stroke="#dcdcdc" stroke-width="0.8" stroke-dasharray="1 1"/>
<line x1="345.1" y1="137.2" x2="612.6" y2="137.2" stroke="#ececec" stroke-width="0.8" stroke-dasharray="1 1"/>
<line x1="345.1" y1="126.4" x2="612.6" y2="126.4" stroke="#dcdcdc" stroke-width="0.8" stroke-dasharray="1 1"/>
<line x1="345.1" y1="115.7" x2="612.6" y2="115.7" stroke="#ececec" stroke-width="0.8" stroke-dasharray="1 1"/>
<line x1="345.1" y1="104.9" x2="612.6" y2="104.9" stroke="#dcdcdc" stroke-width="0.8" stroke-dasharray="1 1"/>
<line x1="345.1" y1="94.2" x2="612.6" y2="94.2" stroke="#ececec" stroke-width="0.8" stroke-dasharray="1 1"/>
<line x1="345.1" y1="83.4" x2="612.6" y2="83.4" stroke="#dcdcdc" stroke-width="0.8" stroke-dasharray="1 1"/>
<line x1="345.1" y1="72.6" x2="612.6" y2="72.6" stroke="#ececec" stroke-width="0.8" stroke-dasharray="1 1"/>
<line x1="345.1" y1="61.9" x2="612.6" y2="61.9" stroke="#dcdcdc" stroke-width="0.8" stroke-dasharray="1 1"/>
<line x1="345.1" y1="51.1" x2="612.6" y2="51.1" stroke="#ececec" stroke-width="0.8" stroke-dasharray="1 1"/>
<line x1="345.1" y1="40.3" x2="612.6" y2="40.3" stroke="#dcdcdc" stroke-width="0.8" stroke-dasharray="1 1"/>
<line x1="345.1" y1="29.6" x2="612.6" y2="29.6" stroke="#ececec" stroke-width="0.8" stroke-dasharray="1 1"/>
<path d="M345.1 18.8 H612.6 V169.5" fill="none" stroke="#d4d4d4" stroke-width="1"/>
<path d="M345.1 148 L346 147.9 L347.1 147.9 L348.3 147.7 L349.5 147.5 L350.6 147.2 L351.8 146.8 L352.5 146.5 L353.2 146.1 L354 145.8 L355 145.2 L356 144.6 L357 143.8 L357.8 143 L358.7 142.1 L359.2 141.5 L359.7 140.9 L360.2 140.3 L360.7 139.6 L361.1 139 L361.6 138.3 L362 137.7 L362.5 137 L362.9 136.3 L363.3 135.6 L363.7 134.9 L364.1 134.2 L364.4 133.5 L364.8 132.8 L365.1 132 L365.4 131.3 L365.7 130.6 L366 129.8 L366.3 129.1 L366.6 128.3 L366.9 127.6 L367.1 126.8 L367.4 126.1 L367.7 125.3 L367.9 124.5 L368.2 123.8 L368.4 123 L368.7 122.2 L368.9 121.5 L369.1 120.7 L369.4 119.9 L369.6 119.2 L369.8 118.4 L370 117.6 L370.2 116.8 L370.4 116.1 L370.5 115.3 L370.7 114.5 L370.9 113.7 L371.1 112.9 L371.2 112.1 L371.4 111.4 L371.6 110.6 L371.7 109.8 L371.9 109 L372 108.2 L372.2 107.4 L372.3 106.6 L372.5 105.8 L372.6 105 L372.7 104.3 L372.9 103.5 L373 102.7 L373.1 101.9 L373.3 101.1 L373.4 100.3 L373.5 99.5 L373.6 98.7 L373.7 97.9 L373.8 97.1 L373.9 96.3 L374.1 95.5 L374.2 94.7 L374.3 93.9 L374.4 93.1 L374.5 92.3 L374.6 91.5 L374.7 90.8 L374.8 90 L374.9 89.2 L375 88.4 L375.1 87.6 L375.2 86.8 L375.3 86 L375.4 85.2 L375.5 84.4 L375.5 83.6 L375.6 82.8 L375.7 82 L375.8 81.2 L375.9 80.4 L376 79.6 L376.1 78.8 L376.1 78 L376.2 77.2 L376.3 76.4 L376.4 75.6 L376.5 74.8 L376.6 74 L376.7 73.2 L376.8 72.4 L376.9 71.6 L377 70.8 L377.1 70 L377.2 69.2 L377.3 68.4 L377.5 67.6 L377.6 66.9 L377.7 66.1 L377.8 65.3 L377.9 64.5 L378 63.7 L378.1 62.9 L378.3 62.1 L378.4 61.3 L378.5 60.5 L378.7 59.7 L378.8 58.9 L378.9 58.1 L379.1 57.3 L379.2 56.5 L379.4 55.8 L379.5 55 L379.7 54.2 L379.8 53.4 L380 52.6 L380.2 51.8 L380.4 51 L380.5 50.3 L380.7 49.5 L380.9 48.7 L381.1 47.9 L381.3 47.1 L381.5 46.4 L381.7 45.6 L381.9 44.8 L382.1 44 L382.4 43.3 L382.8 42.2 L383.3 41.1 L383.9 40.1 L384.6 39.1 L385.1 38.4 L385.6 37.8 L386.1 37.2 L386.9 36.3 L387.8 35.6 L388.8 34.9 L389.9 34.5 L391.1 34.3 L392.2 34.3 L393.4 34.5 L394.6 34.8 L395.3 35 L396.1 35.2 L396.9 35.4 L397.6 35.7 L398.4 36 L399.2 36.2 L399.9 36.5 L400.7 36.8 L401.4 37.1 L402.1 37.4 L402.9 37.7 L403.6 38.1 L404.3 38.4 L405 38.8 L405.8 39.1 L406.5 39.5 L407.2 39.9 L407.9 40.3 L408.6 40.7 L409.2 41.1 L409.9 41.5 L410.6 41.9 L411.3 42.4 L411.9 42.8 L412.9 43.5 L413.9 44.2 L414.9 44.9 L415.5 45.4 L415.5 45.4 L415.6 46.2 L415.7 47.4 L415.7 48.6 L415.8 49.8 L415.9 50.6 L415.9 51.4 L415.9 52.2 L416 53 L416 53.8 L416.1 54.6 L416.1 55.4 L416.2 56.2 L416.2 57 L416.3 57.8 L416.3 58.6 L416.4 59.4 L416.4 60.2 L416.5 61 L416.5 61.8 L416.6 62.6 L416.6 63.4 L416.6 64.2 L416.7 65 L416.7 65.8 L416.8 66.6 L416.8 67.4 L416.9 68.2 L416.9 69 L417 69.8 L417 70.6 L417 71.4 L417.1 72.2 L417.1 73 L417.2 73.8 L417.2 74.6 L417.3 75.4 L417.3 76.2 L417.3 77 L417.4 77.8 L417.4 78.6 L417.5 79.4 L417.5 80.2 L417.6 81 L417.6 81.8 L417.6 82.6 L417.7 83.4 L417.7 84.2 L417.7 85 L417.8 85.8 L417.8 86.6 L417.9 87.4 L417.9 88.2 L417.9 89 L418 89.8 L418 90.6 L418 91.4 L418.1 92.2 L418.1 93 L418.2 93.8 L418.2 94.6 L418.2 95.4 L418.3 96.2 L418.3 97 L418.3 97.8 L418.4 98.6 L418.4 99.4 L418.5 100.2 L418.5 101 L418.5 101.8 L418.6 102.6 L418.6 103.4 L418.7 104.2 L418.7 105 L418.7 105.8 L418.8 106.6 L418.8 107.4 L418.9 108.2 L418.9 109 L419 109.8 L419 110.6 L419.1 111.4 L419.1 112.2 L419.2 113 L419.2 113.8 L419.3 114.6 L419.4 115.4 L419.4 116.2 L419.5 117 L419.6 117.8 L419.6 118.6 L419.7 119.4 L419.8 120.2 L419.8 121 L419.9 121.8 L420 122.6 L420.1 123.4 L420.1 124.2 L420.2 125 L420.3 125.8 L420.4 126.6 L420.5 127.4 L420.6 128.2 L420.7 129 L420.8 129.7 L420.9 130.5 L421 131.3 L421.1 132.1 L421.2 132.9 L421.3 133.7 L421.4 134.5 L421.5 135.3 L421.7 136.1 L421.8 136.9 L421.9 137.7 L422 138.5 L422.2 139.3 L422.3 140.1 L422.5 140.8 L422.6 141.6 L422.8 142.4 L422.9 143.2 L423.1 144 L423.2 144.8 L423.4 145.5 L423.6 146.3 L423.8 147.1 L424 147.9 L424.2 148.6 L424.4 149.4 L424.7 150.2 L424.9 150.9 L425.2 151.7 L425.4 152.5 L425.7 153.2 L426 154 L426.2 154.7 L426.5 155.5 L427 156.6 L427.6 157.6 L428.2 158.7 L428.9 159.6 L429.7 160.5 L430.5 161.4 L431.4 162.2 L432.4 162.9 L433.4 163.6 L434.4 164.2 L435.5 164.7 L436.6 165.1 L437.7 165.5 L438.5 165.7 L439.3 165.9 L440.5 166.2 L441.6 166.4 L442.8 166.5 L444 166.5 L445.2 166.5 L446 166.5 L446.8 166.5 L447.6 166.4 L448.4 166.3 L449.2 166.3 L450 166.2 L450.8 166.1 L451.6 166 L452.4 165.9 L453.2 165.7 L454 165.6 L454.8 165.5 L455.6 165.4 L456.4 165.3 L457.1 165.1 L457.9 165 L458.7 164.9 L459.5 164.8 L460.3 164.6 L461.1 164.5 L461.9 164.4 L462.7 164.3 L463.5 164.1 L464.3 164 L465.1 163.9 L465.8 163.7 L466.6 163.6 L467.4 163.4 L468.2 163.3 L469 163.2 L469.8 163 L470.6 162.9 L471.4 162.7 L472.2 162.6 L472.9 162.5 L473.7 162.3 L474.5 162.2 L475.3 162 L476.1 161.9 L476.9 161.8 L477.7 161.6 L478.5 161.5 L479.3 161.3 L480 161.2 L480.8 161 L481.6 160.9 L482.4 160.8 L483.2 160.6 L484 160.5 L484.8 160.3 L485.6 160.2 L486.4 160.1 L487.2 159.9 L487.9 159.8 L488.7 159.7 L489.5 159.6 L490.3 159.5 L491.1 159.3 L491.9 159.2 L492.7 159.1 L493.5 159 L494.3 158.9 L495.1 158.8 L495.9 158.7 L496.7 158.6 L497.5 158.5 L498.3 158.4 L499.1 158.3 L499.9 158.2 L500.6 158.1 L501.4 158 L502.2 157.9 L503 157.8 L503.8 157.8 L504.6 157.7 L505.4 157.6 L506.2 157.5 L507 157.4 L507.8 157.3 L508.6 157.3 L509.4 157.2 L510.2 157.1 L511 157 L511.8 156.9 L512.6 156.9 L513.4 156.8 L514.2 156.7 L515 156.6 L515.8 156.6 L516.6 156.5 L517.4 156.4 L518.2 156.3 L519 156.3 L519.8 156.2 L520.6 156.1 L521.4 156 L522.2 156 L523 155.9 L523.8 155.8 L524.6 155.8 L525.4 155.7 L526.2 155.6 L527 155.6 L527.8 155.5 L528.6 155.4 L529.4 155.4 L530.2 155.3 L531 155.2 L531.8 155.2 L532.6 155.1 L533.4 155.1 L534.2 155 L535 154.9 L535.8 154.9 L536.6 154.8 L537.4 154.7 L538.2 154.7 L538.9 154.6 L539.7 154.6 L540.5 154.5 L541.3 154.5 L542.1 154.4 L542.9 154.3 L543.7 154.3 L544.5 154.2 L545.3 154.2 L546.1 154.1 L546.9 154.1 L547.7 154 L548.5 154 L549.3 153.9 L550.1 153.9 L550.9 153.8 L551.7 153.8 L552.5 153.7 L553.3 153.7 L554.1 153.6 L554.9 153.6 L555.7 153.6 L556.5 153.5 L557.3 153.5 L558.1 153.4 L558.9 153.4 L559.7 153.4 L560.5 153.3 L561.3 153.3 L562.1 153.2 L562.9 153.2 L563.7 153.2 L564.5 153.1 L565.3 153.1 L566.1 153 L566.9 153 L567.7 153 L568.5 152.9 L569.3 152.9 L570.1 152.9 L571 152.8 L571.8 152.8 L572.6 152.8 L573.4 152.7 L574.2 152.7 L575 152.7 L575.8 152.6 L576.6 152.6 L577.4 152.6 L578.2 152.6 L579 152.5 L579.8 152.5 L580.6 152.5 L581.4 152.4 L582.2 152.4 L583 152.4 L583.8 152.4 L584.6 152.3 L585.4 152.3 L586.2 152.3 L587 152.3 L587.8 152.2 L588.6 152.2 L589.4 152.2 L590.2 152.2 L591 152.1 L591.8 152.1 L592.6 152.1 L593.4 152.1 L594.2 152.1 L595 152 L595.8 152 L596.6 152 L597.4 152 L598.2 151.9 L599 151.9 L599.8 151.9 L600.6 151.9 L601.4 151.9 L602.2 151.8 L603 151.8 L603.8 151.8 L604.6 151.8 L605.4 151.8 L606.2 151.8 L607 151.7 L607.8 151.7 L608.6 151.7 L609.8 151.7 L611 151.7 L612.2 151.6 L612.6 151.6" fill="none" stroke="#ee3535" stroke-width="1.4" stroke-linejoin="round" stroke-linecap="round"/>
<path d="M345.1 148 L346 148 L347.1 148 L348.3 148 L349.1 148 L349.9 148 L350.7 148 L351.6 148 L352.4 147.9 L353.2 147.9 L354 147.9 L354.8 147.9 L355.6 147.9 L356.4 147.9 L357.2 147.9 L358 147.9 L358.8 147.9 L359.6 147.9 L360.4 147.8 L361.2 147.8 L362 147.7 L362.8 147.7 L363.7 147.6 L364.5 147.5 L365.3 147.4 L366.1 147.3 L366.9 147.2 L367.7 147.1 L368.4 146.9 L369.2 146.8 L370 146.6 L370.8 146.3 L371.5 146.1 L372.3 145.8 L373.1 145.5 L373.8 145.2 L374.5 144.9 L375.3 144.6 L376 144.2 L376.7 143.8 L377.4 143.5 L378.1 143 L378.8 142.6 L379.5 142.2 L380.2 141.7 L380.8 141.3 L381.5 140.8 L382.1 140.3 L382.8 139.8 L383.4 139.4 L384.1 138.9 L384.7 138.4 L385.4 138 L386.1 137.5 L386.7 137.1 L387.4 136.6 L388.1 136.2 L388.8 135.8 L389.5 135.4 L390.2 134.9 L390.9 134.5 L391.6 134.1 L392.2 133.7 L392.9 133.3 L393.6 132.9 L394.3 132.5 L395 132.1 L395.7 131.7 L396.5 131.3 L397.2 130.9 L397.9 130.5 L398.6 130.1 L399.3 129.7 L400 129.3 L400.7 129 L401.4 128.6 L402.1 128.2 L402.8 127.8 L403.5 127.5 L404.3 127.1 L405 126.7 L405.7 126.4 L406.5 126.1 L407.2 125.8 L408 125.5 L408.7 125.2 L409.5 124.9 L410.3 124.7 L411 124.4 L411.8 124.2 L412.6 123.9 L413.3 123.7 L414.1 123.5 L414.9 123.3 L415.7 123.1 L416.8 122.8 L418 122.5 L418.8 122.4 L418.8 122.4 L419.6 122.6 L420.7 123 L421.8 123.4 L423 123.8 L423.7 124.1 L424.4 124.4 L425.2 124.8 L425.9 125.1 L426.6 125.5 L427.3 125.8 L428.1 126.2 L428.8 126.6 L429.5 126.9 L430.2 127.3 L430.9 127.7 L431.6 128.1 L432.3 128.4 L433 128.8 L433.8 129.1 L434.5 129.4 L435.3 129.7 L436 130 L436.8 130.3 L437.5 130.5 L438.3 130.8 L439 131.1 L439.8 131.3 L440.5 131.6 L441.3 131.8 L442.1 132.1 L442.8 132.3 L443.6 132.6 L444.4 132.8 L445.1 133 L445.9 133.3 L446.7 133.5 L447.4 133.7 L448.2 134 L449 134.2 L449.8 134.4 L450.5 134.6 L451.3 134.9 L452.1 135.1 L452.8 135.3 L453.6 135.5 L454.4 135.8 L455.1 136 L455.9 136.2 L456.7 136.4 L457.5 136.7 L458.2 136.9 L459 137.1 L459.8 137.3 L460.5 137.5 L461.3 137.8 L462.1 138 L462.9 138.2 L463.6 138.4 L464.4 138.6 L465.2 138.8 L466 139 L466.7 139.2 L467.5 139.4 L468.3 139.6 L469.1 139.8 L469.9 139.9 L470.6 140.1 L471.4 140.3 L472.2 140.5 L473 140.6 L473.8 140.8 L474.6 140.9 L475.4 141.1 L476.1 141.3 L476.9 141.4 L477.7 141.6 L478.5 141.7 L479.3 141.9 L480.1 142 L480.9 142.2 L481.7 142.3 L482.4 142.4 L483.2 142.6 L484 142.7 L484.8 142.8 L485.6 142.9 L486.4 143.1 L487.2 143.2 L488 143.3 L488.8 143.4 L489.6 143.5 L490.4 143.6 L491.2 143.6 L492 143.7 L492.8 143.8 L493.6 143.9 L494.4 144 L495.2 144 L496 144.1 L496.8 144.2 L497.6 144.2 L498.4 144.3 L499.2 144.4 L500 144.4 L500.8 144.5 L501.6 144.6 L502.4 144.6 L503.2 144.7 L504 144.7 L504.8 144.8 L505.6 144.8 L506.4 144.9 L507.2 144.9 L508 145 L508.8 145 L509.6 145.1 L510.4 145.1 L511.2 145.2 L512 145.2 L512.8 145.3 L513.6 145.3 L514.4 145.4 L515.2 145.4 L516 145.5 L516.8 145.5 L517.6 145.5 L518.4 145.6 L519.2 145.6 L520 145.7 L520.8 145.7 L521.6 145.7 L522.4 145.8 L523.2 145.8 L524 145.9 L524.8 145.9 L525.6 145.9 L526.4 146 L527.2 146 L528 146 L528.8 146.1 L529.6 146.1 L530.4 146.2 L531.2 146.2 L532 146.2 L532.8 146.3 L533.6 146.3 L534.4 146.3 L535.2 146.4 L536 146.4 L536.8 146.4 L537.6 146.5 L538.4 146.5 L539.2 146.5 L540 146.6 L540.8 146.6 L541.6 146.6 L542.4 146.7 L543.2 146.7 L544 146.8 L544.8 146.8 L545.6 146.8 L546.4 146.9 L547.2 146.9 L548 146.9 L548.8 147 L549.6 147 L550.4 147 L551.2 147.1 L552 147.1 L552.9 147.1 L553.7 147.2 L554.5 147.2 L555.3 147.2 L556.1 147.3 L556.9 147.3 L557.7 147.3 L558.5 147.3 L559.3 147.4 L560.1 147.4 L560.9 147.4 L561.7 147.5 L562.5 147.5 L563.3 147.5 L564.1 147.5 L564.9 147.6 L565.7 147.6 L566.5 147.6 L567.3 147.6 L568.1 147.6 L568.9 147.7 L569.7 147.7 L570.5 147.7 L571.3 147.7 L572.1 147.8 L572.9 147.8 L573.7 147.8 L574.5 147.8 L575.3 147.8 L576.1 147.9 L576.9 147.9 L577.7 147.9 L578.5 147.9 L579.3 147.9 L580.1 148 L580.9 148 L581.7 148 L582.5 148 L583.3 148 L584.1 148 L584.9 148.1 L585.7 148.1 L586.5 148.1 L587.3 148.1 L588.1 148.1 L588.9 148.2 L589.7 148.2 L590.5 148.2 L591.3 148.2 L592.1 148.2 L592.9 148.2 L593.7 148.2 L594.6 148.3 L595.4 148.3 L596.2 148.3 L597 148.3 L597.8 148.3 L598.6 148.3 L599.4 148.3 L600.2 148.4 L601 148.4 L601.8 148.4 L602.6 148.4 L603.4 148.4 L604.2 148.4 L605 148.4 L605.8 148.4 L606.6 148.4 L607.4 148.5 L608.2 148.5 L609.4 148.5 L610.6 148.5 L611.7 148.5 L612.6 148.5" fill="none" stroke="#2d7ba6" stroke-width="1.4" stroke-linejoin="round" stroke-linecap="round"/>
<path d="M345.1 148 L346 148 L347.1 148 L348.3 148 L349.1 148 L349.9 148 L350.7 148 L351.5 148 L352.4 148 L353.2 148 L354 148 L354.8 147.9 L355.6 147.9 L356.4 147.9 L357.2 147.9 L358 147.9 L358.8 147.9 L359.6 147.9 L360.4 147.9 L361.2 147.9 L362 147.8 L362.8 147.8 L363.6 147.8 L364.4 147.7 L365.2 147.6 L366 147.6 L366.8 147.5 L367.6 147.4 L368.4 147.3 L369.2 147.1 L370 147 L370.8 146.8 L371.6 146.5 L372.3 146.3 L373.1 146 L373.9 145.7 L374.6 145.5 L375.3 145.1 L376.1 144.8 L376.8 144.5 L377.5 144.1 L378.2 143.7 L378.9 143.3 L379.6 142.9 L380.3 142.4 L380.9 142 L381.6 141.5 L382.3 141.1 L382.9 140.6 L383.6 140.1 L384.2 139.6 L384.9 139.2 L385.5 138.7 L386.2 138.3 L386.9 137.8 L387.6 137.4 L388.2 137 L388.9 136.5 L389.6 136.1 L390.3 135.7 L391 135.2 L391.7 134.8 L392.3 134.4 L393 134 L393.7 133.6 L394.4 133.1 L395.1 132.7 L395.8 132.3 L396.5 131.9 L397.2 131.5 L397.9 131.1 L398.6 130.7 L399.3 130.3 L400 129.9 L400.7 129.5 L401.4 129.1 L402.1 128.8 L402.8 128.4 L403.5 128 L404.3 127.6 L405 127.3 L405.7 126.9 L406.4 126.6 L407.2 126.3 L407.9 125.9 L408.7 125.6 L409.4 125.4 L410.2 125.1 L410.9 124.8 L411.7 124.5 L412.4 124.2 L413.2 124 L414 123.7 L414.7 123.5 L415.5 123.3 L416.3 123 L417.4 122.7 L418.6 122.4 L419.4 122.2 L419.4 122.2 L420.2 122.5 L421.4 122.8 L422.5 123.2 L423.6 123.6 L424.4 123.9 L425.1 124.2 L425.8 124.5 L426.6 124.8 L427.3 125.1 L428 125.5 L428.8 125.8 L429.5 126.2 L430.2 126.5 L430.9 126.9 L431.7 127.2 L432.4 127.5 L433.1 127.9 L433.9 128.2 L434.6 128.4 L435.4 128.7 L436.1 129 L436.9 129.2 L437.7 129.5 L438.4 129.7 L439.2 130 L440 130.2 L440.7 130.4 L441.5 130.7 L442.3 130.9 L443 131.1 L443.8 131.3 L444.6 131.6 L445.4 131.8 L446.1 132 L446.9 132.2 L447.7 132.4 L448.5 132.6 L449.2 132.8 L450 133 L450.8 133.2 L451.6 133.5 L452.3 133.7 L453.1 133.9 L453.9 134.1 L454.7 134.3 L455.4 134.5 L456.2 134.7 L457 134.9 L457.8 135.1 L458.5 135.3 L459.3 135.5 L460.1 135.7 L460.9 135.9 L461.6 136.1 L462.4 136.3 L463.2 136.5 L464 136.7 L464.8 136.9 L465.5 137.1 L466.3 137.3 L467.1 137.5 L467.9 137.6 L468.7 137.8 L469.5 138 L470.2 138.2 L471 138.4 L471.8 138.5 L472.6 138.7 L473.4 138.9 L474.1 139.1 L474.9 139.3 L475.7 139.4 L476.5 139.6 L477.3 139.8 L478.1 140 L478.8 140.1 L479.6 140.3 L480.4 140.5 L481.2 140.6 L482 140.8 L482.8 141 L483.6 141.1 L484.4 141.3 L485.1 141.4 L485.9 141.6 L486.7 141.7 L487.5 141.8 L488.3 142 L489.1 142.1 L489.9 142.2 L490.7 142.3 L491.5 142.4 L492.3 142.5 L493.1 142.6 L493.9 142.7 L494.7 142.8 L495.5 142.9 L496.3 143 L497.1 143.1 L497.9 143.2 L498.7 143.3 L499.5 143.4 L500.3 143.5 L501.1 143.5 L501.9 143.6 L502.7 143.7 L503.5 143.8 L504.3 143.8 L505.1 143.9 L505.9 144 L506.7 144 L507.5 144.1 L508.3 144.1 L509.1 144.2 L509.9 144.2 L510.7 144.3 L511.5 144.3 L512.3 144.4 L513.1 144.4 L513.9 144.5 L514.7 144.5 L515.5 144.5 L516.3 144.6 L517.1 144.6 L517.9 144.7 L518.7 144.7 L519.5 144.7 L520.3 144.8 L521.1 144.8 L521.9 144.8 L522.7 144.9 L523.5 144.9 L524.3 144.9 L525.1 144.9 L525.9 145 L526.7 145 L527.5 145 L528.3 145.1 L529.1 145.1 L529.9 145.1 L530.7 145.1 L531.5 145.2 L532.3 145.2 L533.1 145.2 L533.9 145.2 L534.7 145.3 L535.5 145.3 L536.3 145.3 L537.1 145.3 L537.9 145.4 L538.7 145.4 L539.5 145.4 L540.3 145.4 L541.1 145.5 L542 145.5 L542.8 145.5 L543.6 145.5 L544.4 145.6 L545.2 145.6 L546 145.6 L546.8 145.6 L547.6 145.7 L548.4 145.7 L549.2 145.7 L550 145.7 L550.8 145.8 L551.6 145.8 L552.4 145.8 L553.2 145.8 L554 145.8 L554.8 145.9 L555.6 145.9 L556.4 145.9 L557.2 145.9 L558 145.9 L558.8 146 L559.6 146 L560.4 146 L561.2 146 L562 146 L562.8 146 L563.6 146.1 L564.4 146.1 L565.2 146.1 L566 146.1 L566.8 146.1 L567.6 146.1 L568.4 146.1 L569.2 146.2 L570 146.2 L570.8 146.2 L571.7 146.2 L572.5 146.2 L573.3 146.2 L574.1 146.2 L574.9 146.3 L575.7 146.3 L576.5 146.3 L577.3 146.3 L578.1 146.3 L578.9 146.3 L579.7 146.3 L580.5 146.3 L581.3 146.4 L582.1 146.4 L582.9 146.4 L583.7 146.4 L584.5 146.4 L585.3 146.4 L586.1 146.4 L586.9 146.4 L587.7 146.4 L588.5 146.5 L589.3 146.5 L590.1 146.5 L590.9 146.5 L591.7 146.5 L592.5 146.5 L593.3 146.5 L594.1 146.5 L594.9 146.5 L595.7 146.5 L596.5 146.6 L597.3 146.6 L598.1 146.6 L599 146.6 L599.8 146.6 L600.6 146.6 L601.4 146.6 L602.2 146.6 L603 146.6 L603.8 146.6 L604.6 146.6 L605.4 146.6 L606.2 146.6 L607 146.6 L607.8 146.7 L608.6 146.7 L609.8 146.7 L611 146.7 L612.2 146.7 L612.6 146.7" fill="none" stroke="#eeae32" stroke-width="1.4" stroke-linejoin="round" stroke-linecap="round"/>
<path d="M345.1 148 L346 148 L347.1 148 L348.3 148 L349.5 148 L350.3 148 L351.1 148 L351.9 148 L352.7 148 L353.5 148 L354.3 148 L355.1 148 L355.9 148 L356.7 148 L357.5 148 L358.3 147.9 L359.1 147.9 L359.9 147.9 L360.7 147.9 L361.5 147.9 L362.3 147.9 L363.1 147.9 L363.9 147.9 L364.7 147.9 L365.5 147.9 L366.3 147.9 L367.1 147.9 L367.9 147.9 L368.7 147.9 L369.5 147.9 L370.3 147.9 L371.1 147.9 L372 147.9 L372.8 147.9 L373.6 147.9 L374.4 147.9 L375.2 147.9 L376 147.9 L376.8 147.8 L377.6 147.8 L378.4 147.8 L379.2 147.8 L380 147.8 L380.8 147.8 L381.6 147.8 L382.4 147.8 L383.2 147.7 L384 147.7 L384.8 147.7 L385.6 147.7 L386.4 147.7 L387.2 147.6 L388 147.6 L388.8 147.6 L389.6 147.6 L390.4 147.5 L391.2 147.5 L392 147.5 L392.8 147.4 L393.6 147.4 L394.4 147.3 L395.2 147.3 L396 147.2 L396.8 147.2 L397.6 147.1 L398.4 147.1 L399.2 147 L400 147 L400.8 146.9 L401.6 146.9 L402.4 146.8 L403.2 146.8 L404 146.7 L404.8 146.7 L405.6 146.6 L406.4 146.5 L407.2 146.5 L408 146.4 L408.8 146.4 L409.6 146.3 L410.4 146.2 L411.2 146.2 L412 146.1 L412.8 146 L413.6 146 L414.4 145.9 L415.2 145.8 L416 145.8 L416.8 145.7 L417.6 145.6 L418.4 145.6 L419.2 145.5 L420 145.5 L420.8 145.4 L421.6 145.3 L422.4 145.3 L423.2 145.2 L424 145.2 L424.8 145.1 L425.6 145.1 L426.4 145 L427.2 145 L428 144.9 L428.8 144.9 L429.6 144.8 L430.4 144.8 L431.2 144.7 L432 144.7 L432.8 144.6 L433.6 144.6 L434.4 144.5 L435.2 144.5 L436 144.4 L436.8 144.4 L437.6 144.3 L438.4 144.3 L439.2 144.3 L440 144.2 L440.8 144.2 L441.6 144.1 L442.4 144.1 L443.2 144 L444 144 L444.8 144 L445.6 143.9 L446.4 143.9 L447.2 143.8 L448 143.8 L448.8 143.8 L449.6 143.8 L450.4 143.7 L451.2 143.7 L452 143.7 L452.8 143.7 L453.6 143.7 L454.4 143.6 L455.2 143.6 L456 143.6 L456.8 143.6 L457.6 143.6 L458.4 143.6 L459.2 143.6 L460 143.5 L460.8 143.5 L461.6 143.5 L462.4 143.5 L463.2 143.5 L464 143.5 L464.8 143.5 L465.6 143.5 L466.4 143.5 L467.2 143.5 L468 143.5 L468.8 143.5 L469.6 143.5 L470.4 143.5 L471.2 143.5 L472 143.5 L472.8 143.5 L473.6 143.5 L474.4 143.5 L475.2 143.5 L476 143.5 L476.8 143.5 L477.6 143.5 L478.4 143.5 L479.2 143.5 L480 143.5 L480.8 143.5 L481.6 143.5 L482.4 143.5 L483.2 143.5 L484 143.5 L484.8 143.5 L485.6 143.5 L486.4 143.6 L487.2 143.6 L488 143.6 L488.8 143.6 L489.6 143.6 L490.4 143.6 L491.2 143.6 L492 143.6 L492.8 143.6 L493.7 143.7 L494.5 143.7 L495.3 143.7 L496.1 143.7 L496.9 143.7 L497.7 143.7 L498.5 143.7 L499.3 143.7 L500.1 143.8 L500.9 143.8 L501.7 143.8 L502.5 143.8 L503.3 143.8 L504.1 143.8 L504.9 143.8 L505.7 143.8 L506.5 143.9 L507.3 143.9 L508.1 143.9 L508.9 143.9 L509.7 143.9 L510.5 143.9 L511.3 143.9 L512.1 143.9 L512.9 143.9 L513.7 143.9 L514.5 144 L515.3 144 L516.1 144 L516.9 144 L517.7 144 L518.5 144 L519.3 144 L520.1 144 L520.9 144 L521.7 144.1 L522.5 144.1 L523.3 144.1 L524.1 144.1 L524.9 144.1 L525.7 144.1 L526.5 144.1 L527.3 144.1 L528.1 144.1 L528.9 144.2 L529.7 144.2 L530.5 144.2 L531.3 144.2 L532.1 144.2 L532.9 144.2 L533.7 144.2 L534.5 144.2 L535.3 144.3 L536.1 144.3 L536.9 144.3 L537.7 144.3 L538.5 144.3 L539.3 144.3 L540.1 144.3 L540.9 144.4 L541.7 144.4 L542.5 144.4 L543.3 144.4 L544.1 144.4 L544.9 144.4 L545.7 144.5 L546.5 144.5 L547.3 144.5 L548.1 144.5 L549 144.5 L549.8 144.6 L550.6 144.6 L551.4 144.6 L552.2 144.6 L553 144.6 L553.8 144.7 L554.6 144.7 L555.4 144.7 L556.2 144.8 L557 144.8 L557.8 144.8 L558.6 144.9 L559.4 144.9 L560.2 144.9 L561 145 L561.8 145 L562.6 145 L563.4 145.1 L564.2 145.1 L565 145.1 L565.8 145.2 L566.6 145.2 L567.4 145.3 L568.2 145.3 L569 145.3 L569.8 145.4 L570.6 145.4 L571.4 145.5 L572.2 145.5 L573 145.5 L573.8 145.6 L574.6 145.6 L575.4 145.7 L576.2 145.7 L577 145.7 L577.8 145.8 L578.6 145.8 L579.4 145.9 L580.2 145.9 L581 145.9 L581.8 146 L582.6 146 L583.4 146.1 L584.2 146.1 L585 146.1 L585.8 146.2 L586.6 146.2 L587.4 146.2 L588.2 146.3 L589 146.3 L589.8 146.4 L590.6 146.4 L591.4 146.4 L592.2 146.5 L593 146.5 L593.8 146.6 L594.6 146.6 L595.4 146.6 L596.2 146.7 L597 146.7 L597.8 146.8 L598.6 146.8 L599.4 146.8 L600.2 146.9 L601 146.9 L601.8 147 L602.6 147 L603.4 147.1 L604.2 147.1 L605 147.1 L605.8 147.2 L606.6 147.2 L607.4 147.3 L608.2 147.3 L609.4 147.4 L610.6 147.4 L611.7 147.5 L612.6 147.5" fill="none" stroke="#3cb64c" stroke-width="1.4" stroke-linejoin="round" stroke-linecap="round"/>
<path d="M345.1 148 L346 148 L347.1 148 L348.3 148 L349.5 148 L350.3 148 L351.1 148 L351.9 148 L352.7 148 L353.5 148 L354.3 148 L355.1 148 L355.9 148 L356.7 148 L357.5 148 L358.3 148 L359.1 148 L359.9 147.9 L360.7 147.9 L361.5 147.9 L362.3 147.9 L363.1 147.9 L363.9 147.9 L364.7 147.9 L365.5 147.9 L366.3 147.9 L367.1 147.9 L367.9 147.9 L368.7 147.9 L369.5 147.9 L370.3 147.9 L371.1 147.9 L371.9 147.9 L372.7 147.9 L373.5 147.9 L374.3 147.9 L375.1 147.9 L375.9 147.9 L376.7 147.9 L377.5 147.9 L378.4 147.9 L379.2 147.8 L380 147.8 L380.8 147.8 L381.6 147.8 L382.4 147.8 L383.2 147.8 L384 147.8 L384.8 147.8 L385.6 147.8 L386.4 147.8 L387.2 147.8 L388 147.8 L388.8 147.8 L389.6 147.8 L390.4 147.7 L391.2 147.7 L392 147.7 L392.8 147.7 L393.6 147.6 L394.4 147.6 L395.2 147.5 L396 147.5 L396.8 147.4 L397.6 147.4 L398.4 147.3 L399.2 147.3 L400 147.2 L400.8 147.1 L401.6 147.1 L402.4 147 L403.2 147 L404 146.9 L404.8 146.9 L405.6 146.8 L406.4 146.8 L407.2 146.8 L408 146.7 L408.8 146.7 L409.6 146.6 L410.4 146.6 L411.2 146.5 L412 146.5 L412.8 146.5 L413.6 146.4 L414.4 146.4 L415.2 146.3 L416 146.3 L416.8 146.3 L417.6 146.2 L418.4 146.2 L419.2 146.1 L420 146.1 L420.8 146.1 L421.6 146 L422.4 146 L423.2 145.9 L424 145.9 L424.8 145.9 L425.6 145.8 L426.4 145.8 L427.2 145.7 L428 145.7 L428.8 145.7 L429.6 145.6 L430.4 145.6 L431.2 145.6 L432 145.5 L432.8 145.5 L433.6 145.4 L434.4 145.4 L435.2 145.4 L436 145.3 L436.8 145.3 L437.6 145.3 L438.4 145.2 L439.2 145.2 L440 145.1 L440.8 145.1 L441.6 145.1 L442.4 145 L443.2 145 L444 144.9 L444.8 144.9 L445.6 144.8 L446.4 144.8 L447.2 144.8 L448 144.7 L448.8 144.7 L449.6 144.6 L450.4 144.6 L451.2 144.6 L452 144.5 L452.8 144.5 L453.6 144.5 L454.4 144.4 L455.2 144.4 L456 144.4 L456.8 144.4 L457.6 144.3 L458.4 144.3 L459.2 144.3 L460 144.3 L460.8 144.3 L461.6 144.3 L462.4 144.3 L463.2 144.3 L464 144.3 L464.8 144.3 L465.6 144.3 L466.4 144.3 L467.2 144.3 L468 144.4 L468.8 144.4 L469.6 144.4 L470.4 144.4 L471.2 144.4 L472 144.4 L472.8 144.4 L473.6 144.4 L474.4 144.4 L475.2 144.4 L476 144.5 L476.8 144.5 L477.6 144.5 L478.4 144.5 L479.2 144.5 L480 144.5 L480.8 144.5 L481.6 144.5 L482.4 144.6 L483.2 144.6 L484 144.6 L484.8 144.6 L485.6 144.6 L486.4 144.6 L487.2 144.6 L488 144.7 L488.8 144.7 L489.6 144.7 L490.4 144.7 L491.2 144.7 L492 144.7 L492.8 144.7 L493.6 144.7 L494.4 144.8 L495.2 144.8 L496 144.8 L496.8 144.8 L497.6 144.8 L498.4 144.8 L499.2 144.8 L500 144.8 L500.8 144.8 L501.6 144.9 L502.4 144.9 L503.2 144.9 L504 144.9 L504.8 144.9 L505.7 144.9 L506.5 144.9 L507.3 144.9 L508.1 144.9 L508.9 145 L509.7 145 L510.5 145 L511.3 145 L512.1 145 L512.9 145 L513.7 145 L514.5 145 L515.3 145.1 L516.1 145.1 L516.9 145.1 L517.7 145.1 L518.5 145.1 L519.3 145.1 L520.1 145.1 L520.9 145.1 L521.7 145.1 L522.5 145.2 L523.3 145.2 L524.1 145.2 L524.9 145.2 L525.7 145.2 L526.5 145.2 L527.3 145.2 L528.1 145.2 L528.9 145.3 L529.7 145.3 L530.5 145.3 L531.3 145.3 L532.1 145.3 L532.9 145.3 L533.7 145.3 L534.5 145.3 L535.3 145.4 L536.1 145.4 L536.9 145.4 L537.7 145.4 L538.5 145.4 L539.3 145.4 L540.1 145.4 L540.9 145.4 L541.7 145.5 L542.5 145.5 L543.3 145.5 L544.1 145.5 L544.9 145.5 L545.7 145.5 L546.5 145.5 L547.3 145.5 L548.1 145.6 L548.9 145.6 L549.7 145.6 L550.5 145.6 L551.3 145.6 L552.1 145.6 L552.9 145.6 L553.7 145.6 L554.5 145.7 L555.3 145.7 L556.1 145.7 L556.9 145.7 L557.7 145.7 L558.5 145.7 L559.3 145.7 L560.1 145.8 L560.9 145.8 L561.7 145.8 L562.5 145.8 L563.3 145.8 L564.1 145.8 L564.9 145.8 L565.7 145.8 L566.5 145.9 L567.3 145.9 L568.1 145.9 L568.9 145.9 L569.7 145.9 L570.5 145.9 L571.3 145.9 L572.1 146 L572.9 146 L573.7 146 L574.5 146 L575.3 146 L576.2 146 L577 146 L577.8 146 L578.6 146.1 L579.4 146.1 L580.2 146.1 L581 146.1 L581.8 146.1 L582.6 146.1 L583.4 146.1 L584.2 146.2 L585 146.2 L585.8 146.2 L586.6 146.2 L587.4 146.2 L588.2 146.2 L589 146.2 L589.8 146.3 L590.6 146.3 L591.4 146.3 L592.2 146.3 L593 146.3 L593.8 146.3 L594.6 146.3 L595.4 146.4 L596.2 146.4 L597 146.4 L597.8 146.4 L598.6 146.4 L599.4 146.4 L600.2 146.4 L601 146.5 L601.8 146.5 L602.6 146.5 L603.4 146.5 L604.2 146.5 L605 146.5 L605.8 146.6 L606.6 146.6 L607.4 146.6 L608.2 146.6 L609.4 146.6 L610.6 146.6 L611.7 146.7 L612.6 146.7" fill="none" stroke="#f39cc6" stroke-width="1.4" stroke-linejoin="round" stroke-linecap="round"/>
<path d="M345.1 148 L346 148 L347.1 148 L348.3 148 L349.5 148 L350.3 148 L351.1 148 L351.9 148 L352.7 148 L353.5 148 L354.3 148 L355.1 148 L355.9 148 L356.7 148 L357.5 148 L358.3 148 L359.1 148 L359.9 148 L360.7 148 L361.5 148 L362.3 147.9 L363.1 147.9 L363.9 147.9 L364.8 147.9 L365.6 147.9 L366.4 147.9 L367.2 147.9 L368 147.9 L368.8 147.9 L369.6 147.9 L370.4 147.9 L371.2 147.9 L372 147.9 L372.8 147.9 L373.6 147.9 L374.4 147.9 L375.2 147.9 L376 147.9 L376.8 147.9 L377.6 147.9 L378.4 147.9 L379.2 147.9 L380 147.9 L380.8 147.9 L381.6 147.9 L382.4 147.9 L383.2 147.9 L384 147.9 L384.8 147.9 L385.6 147.9 L386.4 147.9 L387.2 147.9 L388 147.8 L388.8 147.8 L389.6 147.8 L390.4 147.8 L391.2 147.8 L392 147.8 L392.8 147.8 L393.6 147.8 L394.4 147.8 L395.2 147.8 L396 147.8 L396.8 147.8 L397.6 147.8 L398.4 147.8 L399.2 147.8 L400 147.8 L400.8 147.8 L401.6 147.8 L402.5 147.8 L403.3 147.8 L404.1 147.8 L404.9 147.7 L405.7 147.7 L406.5 147.7 L407.3 147.7 L408.1 147.7 L408.9 147.7 L409.7 147.7 L410.5 147.7 L411.3 147.7 L412.1 147.7 L412.9 147.7 L413.7 147.7 L414.5 147.7 L415.3 147.7 L416.1 147.7 L416.9 147.7 L417.7 147.7 L418.5 147.7 L419.3 147.6 L420.1 147.6 L420.9 147.6 L421.7 147.6 L422.5 147.6 L423.3 147.6 L424.1 147.6 L424.9 147.6 L425.7 147.6 L426.5 147.6 L427.3 147.6 L428.1 147.5 L428.9 147.5 L429.7 147.5 L430.5 147.5 L431.3 147.5 L432.1 147.5 L432.9 147.5 L433.7 147.4 L434.5 147.4 L435.3 147.4 L436.1 147.4 L436.9 147.4 L437.7 147.4 L438.5 147.4 L439.3 147.3 L440.1 147.3 L441 147.3 L441.8 147.3 L442.6 147.3 L443.4 147.3 L444.2 147.2 L445 147.2 L445.8 147.2 L446.6 147.2 L447.4 147.2 L448.2 147.2 L449 147.1 L449.8 147.1 L450.6 147.1 L451.4 147.1 L452.2 147.1 L453 147.1 L453.8 147 L454.6 147 L455.4 147 L456.2 147 L457 147 L457.8 147 L458.6 147 L459.4 147 L460.2 146.9 L461 146.9 L461.8 146.9 L462.6 146.9 L463.4 146.9 L464.2 146.9 L465 146.9 L465.8 146.9 L466.6 146.9 L467.4 146.9 L468.2 146.9 L469 146.8 L469.8 146.8 L470.6 146.8 L471.4 146.8 L472.2 146.8 L473 146.8 L473.8 146.8 L474.6 146.8 L475.4 146.8 L476.2 146.8 L477 146.8 L477.8 146.8 L478.6 146.7 L479.4 146.7 L480.3 146.7 L481.1 146.7 L481.9 146.7 L482.7 146.7 L483.5 146.7 L484.3 146.7 L485.1 146.7 L485.9 146.7 L486.7 146.7 L487.5 146.7 L488.3 146.7 L489.1 146.7 L489.9 146.6 L490.7 146.6 L491.5 146.6 L492.3 146.6 L493.1 146.6 L493.9 146.6 L494.7 146.6 L495.5 146.6 L496.3 146.6 L497.1 146.6 L497.9 146.6 L498.7 146.6 L499.5 146.6 L500.3 146.6 L501.1 146.6 L501.9 146.6 L502.7 146.6 L503.5 146.6 L504.3 146.5 L505.1 146.5 L505.9 146.5 L506.7 146.5 L507.5 146.5 L508.3 146.5 L509.1 146.5 L509.9 146.5 L510.7 146.5 L511.5 146.5 L512.3 146.5 L513.1 146.5 L513.9 146.5 L514.7 146.5 L515.5 146.5 L516.3 146.5 L517.1 146.5 L517.9 146.5 L518.8 146.5 L519.6 146.5 L520.4 146.5 L521.2 146.5 L522 146.5 L522.8 146.5 L523.6 146.5 L524.4 146.5 L525.2 146.5 L526 146.5 L526.8 146.5 L527.6 146.5 L528.4 146.5 L529.2 146.5 L530 146.5 L530.8 146.4 L531.6 146.4 L532.4 146.4 L533.2 146.4 L534 146.4 L534.8 146.4 L535.6 146.4 L536.4 146.4 L537.2 146.4 L538 146.4 L538.8 146.4 L539.6 146.4 L540.4 146.4 L541.2 146.4 L542 146.4 L542.8 146.4 L543.6 146.4 L544.4 146.4 L545.2 146.4 L546 146.4 L546.8 146.4 L547.6 146.4 L548.4 146.4 L549.2 146.4 L550 146.4 L550.8 146.4 L551.6 146.4 L552.4 146.4 L553.2 146.4 L554 146.4 L554.8 146.4 L555.6 146.4 L556.5 146.4 L557.3 146.4 L558.1 146.4 L558.9 146.4 L559.7 146.4 L560.5 146.4 L561.3 146.4 L562.1 146.4 L562.9 146.4 L563.7 146.4 L564.5 146.4 L565.3 146.4 L566.1 146.4 L566.9 146.4 L567.7 146.4 L568.5 146.4 L569.3 146.4 L570.1 146.4 L570.9 146.4 L571.7 146.4 L572.5 146.4 L573.3 146.4 L574.1 146.4 L574.9 146.4 L575.7 146.4 L576.5 146.4 L577.3 146.4 L578.1 146.4 L578.9 146.4 L579.7 146.4 L580.5 146.4 L581.3 146.4 L582.1 146.4 L582.9 146.4 L583.7 146.4 L584.5 146.4 L585.3 146.4 L586.1 146.4 L586.9 146.4 L587.7 146.4 L588.5 146.4 L589.3 146.4 L590.1 146.4 L590.9 146.4 L591.7 146.4 L592.5 146.4 L593.3 146.4 L594.2 146.4 L595 146.4 L595.8 146.4 L596.6 146.4 L597.4 146.4 L598.2 146.4 L599 146.4 L599.8 146.4 L600.6 146.4 L601.4 146.4 L602.2 146.4 L603 146.4 L603.8 146.4 L604.6 146.4 L605.4 146.4 L606.2 146.4 L607 146.4 L607.8 146.4 L608.6 146.4 L609.8 146.4 L611 146.4 L612.2 146.4 L612.6 146.4" fill="none" stroke="#b0b0a0" stroke-width="1.4" stroke-linejoin="round" stroke-linecap="round"/>
<path d="M345.1 18.8 V169.5 H612.6" fill="none" stroke="#3a3a3a" stroke-width="1.3"/>
<path d="M339.6 169.5H345.1M342.1 158.7H345.1M339.6 148H345.1M342.1 137.2H345.1M339.6 126.4H345.1M342.1 115.7H345.1M339.6 104.9H345.1M342.1 94.2H345.1M339.6 83.4H345.1M342.1 72.6H345.1M339.6 61.9H345.1M342.1 51.1H345.1M339.6 40.3H345.1M342.1 29.6H345.1M339.6 18.8H345.1M345.1 169.5V172.8M360 169.5V171.5M374.8 169.5V172.8M389.7 169.5V171.5M404.5 169.5V172.8M419.4 169.5V171.5M434.3 169.5V172.8M449.1 169.5V171.5M464 169.5V172.8M478.9 169.5V171.5M493.7 169.5V172.8M508.6 169.5V171.5M523.4 169.5V172.8M538.3 169.5V171.5M553.2 169.5V172.8M568 169.5V171.5M582.9 169.5V172.8M597.7 169.5V171.5M612.6 169.5V172.8" stroke="#3a3a3a" stroke-width="1.1"/>
<g font-family="Liberation Sans, sans-serif" font-weight="bold" font-size="7.4" fill="#1c1c24"><text x="338" y="170.1" text-anchor="end" dominant-baseline="central">-20</text><text x="338" y="148.6" text-anchor="end" dominant-baseline="central">0</text><text x="338" y="127" text-anchor="end" dominant-baseline="central">20</text><text x="338" y="105.5" text-anchor="end" dominant-baseline="central">40</text><text x="338" y="84" text-anchor="end" dominant-baseline="central">60</text><text x="338" y="62.5" text-anchor="end" dominant-baseline="central">80</text><text x="338" y="40.9" text-anchor="end" dominant-baseline="central">100</text><text x="338" y="19.4" text-anchor="end" dominant-baseline="central">120</text><text x="345.1" y="178.1" text-anchor="middle" dominant-baseline="central">0.0</text><text x="374.8" y="178.1" text-anchor="middle" dominant-baseline="central">0.2</text><text x="404.5" y="178.1" text-anchor="middle" dominant-baseline="central">0.4</text><text x="434.3" y="178.1" text-anchor="middle" dominant-baseline="central">0.6</text><text x="464" y="178.1" text-anchor="middle" dominant-baseline="central">0.8</text><text x="493.7" y="178.1" text-anchor="middle" dominant-baseline="central">1.0</text><text x="523.4" y="178.1" text-anchor="middle" dominant-baseline="central">1.2</text><text x="553.2" y="178.1" text-anchor="middle" dominant-baseline="central">1.4</text><text x="582.9" y="178.1" text-anchor="middle" dominant-baseline="central">1.6</text><text x="612.6" y="178.1" text-anchor="middle" dominant-baseline="central">1.8</text></g>
<text x="339.6" y="8.2" font-family="Liberation Sans, sans-serif" font-weight="bold" font-size="7.4" fill="#1c1c24" text-anchor="middle" dominant-baseline="central">[W]</text>
<text x="614" y="166" font-family="Liberation Sans, sans-serif" font-weight="bold" font-size="7.4" fill="#1c1c24" dominant-baseline="central">x10<tspan font-size="5.2" dx="1.2" dy="-2.5">3</tspan></text>
<text x="478" y="185.6" font-family="Liberation Mono, monospace" font-size="6.5" fill="#333" text-anchor="middle" dominant-baseline="central">X Time [s]</text>
<rect x="523.2" y="20.3" width="87.6" height="65.4" fill="#fff" stroke="#2a2a2a" stroke-width="1.2"/>
<line x1="526" y1="27.7" x2="536.4" y2="27.7" stroke="#ee5555" stroke-width="1.5"/>
<text x="538.3" y="28.6" font-family="Liberation Mono, monospace" font-weight="bold" font-size="6.4" fill="#222" dominant-baseline="central" textLength="69.1" lengthAdjust="spacingAndGlyphs">heat flow rate 1 [W]</text>
<line x1="526" y1="38" x2="536.4" y2="38" stroke="#3d7fa6" stroke-width="1.5"/>
<text x="538.3" y="38.9" font-family="Liberation Mono, monospace" font-weight="bold" font-size="6.4" fill="#222" dominant-baseline="central" textLength="69.1" lengthAdjust="spacingAndGlyphs">heat flow rate 2 [W]</text>
<line x1="526" y1="48.3" x2="536.4" y2="48.3" stroke="#fbbd5a" stroke-width="1.5"/>
<text x="538.3" y="49.2" font-family="Liberation Mono, monospace" font-weight="bold" font-size="6.4" fill="#222" dominant-baseline="central" textLength="69.1" lengthAdjust="spacingAndGlyphs">heat flow rate 3 [W]</text>
<line x1="526" y1="58.6" x2="536.4" y2="58.6" stroke="#4cba5a" stroke-width="1.5"/>
<text x="538.3" y="59.5" font-family="Liberation Mono, monospace" font-weight="bold" font-size="6.4" fill="#222" dominant-baseline="central" textLength="69.1" lengthAdjust="spacingAndGlyphs">heat flow rate 4 [W]</text>
<line x1="526" y1="68.9" x2="536.4" y2="68.9" stroke="#f2a2c8" stroke-width="1.5"/>
<text x="538.3" y="69.8" font-family="Liberation Mono, monospace" font-weight="bold" font-size="6.4" fill="#222" dominant-baseline="central" textLength="69.1" lengthAdjust="spacingAndGlyphs">heat flow rate 5 [W]</text>
<line x1="526" y1="79.2" x2="536.4" y2="79.2" stroke="#b0b0a0" stroke-width="1.5"/>
<text x="538.3" y="80.1" font-family="Liberation Mono, monospace" font-weight="bold" font-size="6.4" fill="#222" dominant-baseline="central" textLength="69.1" lengthAdjust="spacingAndGlyphs">heat flow rate 6 [W]</text>
<line x1="619.6" y1="23.5" x2="630" y2="23.5" stroke="#ee5555" stroke-width="1.6"/>
<line x1="619.6" y1="30.4" x2="630" y2="30.4" stroke="#3d7fa6" stroke-width="1.6"/>
<line x1="619.6" y1="37.3" x2="630" y2="37.3" stroke="#fbbd5a" stroke-width="1.6"/>
<line x1="619.6" y1="44.2" x2="630" y2="44.2" stroke="#4cba5a" stroke-width="1.6"/>
<line x1="619.6" y1="51.1" x2="630" y2="51.1" stroke="#f2a2c8" stroke-width="1.6"/>
<line x1="619.6" y1="58" x2="630" y2="58" stroke="#b0b0a0" stroke-width="1.6"/>
<line x1="42" y1="232.9" x2="42" y2="391.4" stroke="#e2e2e2" stroke-width="0.9" stroke-dasharray="1 1"/>
<line x1="55.2" y1="232.9" x2="55.2" y2="391.4" stroke="#e2e2e2" stroke-width="0.9" stroke-dasharray="1 1"/>
<line x1="68.3" y1="232.9" x2="68.3" y2="391.4" stroke="#e2e2e2" stroke-width="0.9" stroke-dasharray="1 1"/>
<line x1="81.5" y1="232.9" x2="81.5" y2="391.4" stroke="#e2e2e2" stroke-width="0.9" stroke-dasharray="1 1"/>
<line x1="94.6" y1="232.9" x2="94.6" y2="391.4" stroke="#d8d8d8" stroke-width="0.9" stroke-dasharray="1 1"/>
<line x1="107.7" y1="232.9" x2="107.7" y2="391.4" stroke="#e2e2e2" stroke-width="0.9" stroke-dasharray="1 1"/>
<line x1="120.9" y1="232.9" x2="120.9" y2="391.4" stroke="#e2e2e2" stroke-width="0.9" stroke-dasharray="1 1"/>
<line x1="134" y1="232.9" x2="134" y2="391.4" stroke="#e2e2e2" stroke-width="0.9" stroke-dasharray="1 1"/>
<line x1="147.2" y1="232.9" x2="147.2" y2="391.4" stroke="#e2e2e2" stroke-width="0.9" stroke-dasharray="1 1"/>
<line x1="160.3" y1="232.9" x2="160.3" y2="391.4" stroke="#d8d8d8" stroke-width="0.9" stroke-dasharray="1 1"/>
<line x1="173.4" y1="232.9" x2="173.4" y2="391.4" stroke="#e2e2e2" stroke-width="0.9" stroke-dasharray="1 1"/>
<line x1="186.6" y1="232.9" x2="186.6" y2="391.4" stroke="#e2e2e2" stroke-width="0.9" stroke-dasharray="1 1"/>
<line x1="199.7" y1="232.9" x2="199.7" y2="391.4" stroke="#e2e2e2" stroke-width="0.9" stroke-dasharray="1 1"/>
<line x1="212.9" y1="232.9" x2="212.9" y2="391.4" stroke="#e2e2e2" stroke-width="0.9" stroke-dasharray="1 1"/>
<line x1="226" y1="232.9" x2="226" y2="391.4" stroke="#d8d8d8" stroke-width="0.9" stroke-dasharray="1 1"/>
<line x1="239.1" y1="232.9" x2="239.1" y2="391.4" stroke="#e2e2e2" stroke-width="0.9" stroke-dasharray="1 1"/>
<line x1="252.3" y1="232.9" x2="252.3" y2="391.4" stroke="#e2e2e2" stroke-width="0.9" stroke-dasharray="1 1"/>
<line x1="265.4" y1="232.9" x2="265.4" y2="391.4" stroke="#e2e2e2" stroke-width="0.9" stroke-dasharray="1 1"/>
<line x1="278.6" y1="232.9" x2="278.6" y2="391.4" stroke="#e2e2e2" stroke-width="0.9" stroke-dasharray="1 1"/>
<line x1="28.9" y1="386.9" x2="291.7" y2="386.9" stroke="#ececec" stroke-width="0.8" stroke-dasharray="1 1"/>
<line x1="28.9" y1="382.3" x2="291.7" y2="382.3" stroke="#ececec" stroke-width="0.8" stroke-dasharray="1 1"/>
<line x1="28.9" y1="377.8" x2="291.7" y2="377.8" stroke="#ececec" stroke-width="0.8" stroke-dasharray="1 1"/>
<line x1="28.9" y1="373.3" x2="291.7" y2="373.3" stroke="#ececec" stroke-width="0.8" stroke-dasharray="1 1"/>
<line x1="28.9" y1="368.8" x2="291.7" y2="368.8" stroke="#dcdcdc" stroke-width="0.8" stroke-dasharray="1 1"/>
<line x1="28.9" y1="364.2" x2="291.7" y2="364.2" stroke="#ececec" stroke-width="0.8" stroke-dasharray="1 1"/>
<line x1="28.9" y1="359.7" x2="291.7" y2="359.7" stroke="#ececec" stroke-width="0.8" stroke-dasharray="1 1"/>
<line x1="28.9" y1="355.2" x2="291.7" y2="355.2" stroke="#ececec" stroke-width="0.8" stroke-dasharray="1 1"/>
<line x1="28.9" y1="350.6" x2="291.7" y2="350.6" stroke="#ececec" stroke-width="0.8" stroke-dasharray="1 1"/>
<line x1="28.9" y1="346.1" x2="291.7" y2="346.1" stroke="#dcdcdc" stroke-width="0.8" stroke-dasharray="1 1"/>
<line x1="28.9" y1="341.6" x2="291.7" y2="341.6" stroke="#ececec" stroke-width="0.8" stroke-dasharray="1 1"/>
<line x1="28.9" y1="337.1" x2="291.7" y2="337.1" stroke="#ececec" stroke-width="0.8" stroke-dasharray="1 1"/>
<line x1="28.9" y1="332.5" x2="291.7" y2="332.5" stroke="#ececec" stroke-width="0.8" stroke-dasharray="1 1"/>
<line x1="28.9" y1="328" x2="291.7" y2="328" stroke="#ececec" stroke-width="0.8" stroke-dasharray="1 1"/>
<line x1="28.9" y1="323.5" x2="291.7" y2="323.5" stroke="#dcdcdc" stroke-width="0.8" stroke-dasharray="1 1"/>
<line x1="28.9" y1="318.9" x2="291.7" y2="318.9" stroke="#ececec" stroke-width="0.8" stroke-dasharray="1 1"/>
<line x1="28.9" y1="314.4" x2="291.7" y2="314.4" stroke="#ececec" stroke-width="0.8" stroke-dasharray="1 1"/>
<line x1="28.9" y1="309.9" x2="291.7" y2="309.9" stroke="#ececec" stroke-width="0.8" stroke-dasharray="1 1"/>
<line x1="28.9" y1="305.4" x2="291.7" y2="305.4" stroke="#ececec" stroke-width="0.8" stroke-dasharray="1 1"/>
<line x1="28.9" y1="300.8" x2="291.7" y2="300.8" stroke="#dcdcdc" stroke-width="0.8" stroke-dasharray="1 1"/>
<line x1="28.9" y1="296.3" x2="291.7" y2="296.3" stroke="#ececec" stroke-width="0.8" stroke-dasharray="1 1"/>
<line x1="28.9" y1="291.8" x2="291.7" y2="291.8" stroke="#ececec" stroke-width="0.8" stroke-dasharray="1 1"/>
<line x1="28.9" y1="287.2" x2="291.7" y2="287.2" stroke="#ececec" stroke-width="0.8" stroke-dasharray="1 1"/>
<line x1="28.9" y1="282.7" x2="291.7" y2="282.7" stroke="#ececec" stroke-width="0.8" stroke-dasharray="1 1"/>
<line x1="28.9" y1="278.2" x2="291.7" y2="278.2" stroke="#dcdcdc" stroke-width="0.8" stroke-dasharray="1 1"/>
<line x1="28.9" y1="273.7" x2="291.7" y2="273.7" stroke="#ececec" stroke-width="0.8" stroke-dasharray="1 1"/>
<line x1="28.9" y1="269.1" x2="291.7" y2="269.1" stroke="#ececec" stroke-width="0.8" stroke-dasharray="1 1"/>
<line x1="28.9" y1="264.6" x2="291.7" y2="264.6" stroke="#ececec" stroke-width="0.8" stroke-dasharray="1 1"/>
<line x1="28.9" y1="260.1" x2="291.7" y2="260.1" stroke="#ececec" stroke-width="0.8" stroke-dasharray="1 1"/>
<line x1="28.9" y1="255.5" x2="291.7" y2="255.5" stroke="#dcdcdc" stroke-width="0.8" stroke-dasharray="1 1"/>
<line x1="28.9" y1="251" x2="291.7" y2="251" stroke="#ececec" stroke-width="0.8" stroke-dasharray="1 1"/>
<line x1="28.9" y1="246.5" x2="291.7" y2="246.5" stroke="#ececec" stroke-width="0.8" stroke-dasharray="1 1"/>
<line x1="28.9" y1="242" x2="291.7" y2="242" stroke="#ececec" stroke-width="0.8" stroke-dasharray="1 1"/>
<line x1="28.9" y1="237.4" x2="291.7" y2="237.4" stroke="#ececec" stroke-width="0.8" stroke-dasharray="1 1"/>
<path d="M28.9 232.9 H291.7 V391.4" fill="none" stroke="#d4d4d4" stroke-width="1"/>
<path d="M28.9 382.3 L29.8 382.3 L30.9 382.3 L32.1 382.3 L33.3 382.3 L34.1 382.3 L34.9 382.3 L35.7 382.3 L36.5 382.3 L37.3 382.3 L38.1 382.3 L38.9 382.3 L39.8 382.3 L40.6 382.3 L41.4 382.3 L42.2 382.2 L43 382.1 L43.8 382.1 L44.6 382 L45.4 381.9 L46.1 381.7 L46.9 381.6 L47.7 381.4 L48.5 381.2 L49.6 380.8 L50.7 380.3 L51.8 379.7 L52.7 379 L53.3 378.5 L53.9 378 L54.5 377.4 L55.1 376.9 L55.7 376.3 L56.3 375.8 L56.9 375.3 L57.5 374.7 L58.1 374.2 L58.7 373.7 L59.4 373.2 L60 372.7 L60.6 372.2 L61.3 371.7 L61.9 371.2 L62.5 370.7 L63.2 370.3 L63.8 369.8 L64.5 369.3 L65.1 368.8 L65.8 368.4 L66.4 367.9 L67.1 367.4 L67.8 367 L68.4 366.5 L69.1 366.1 L69.8 365.7 L70.5 365.2 L71.1 364.8 L71.8 364.4 L72.5 364 L73.2 363.6 L73.9 363.2 L74.6 362.8 L75.3 362.4 L76 362 L76.7 361.5 L77.4 361.1 L78.1 360.7 L78.7 360.3 L79.4 359.9 L80.1 359.4 L80.8 359 L81.4 358.5 L82.1 358 L82.7 357.5 L83.3 357 L83.9 356.5 L84.6 356 L85.2 355.5 L85.8 355 L86.5 354.6 L87.1 354.1 L87.8 353.6 L88.8 353.1 L89.9 352.5 L91.1 352.1 L91.8 351.9 L92.6 351.7 L93.4 351.6 L94.2 351.4 L95 351.2 L95.8 351.1 L96.5 350.9 L97.3 350.8 L98.1 350.6 L98.9 350.4 L99.7 350.2 L100.5 350 L101.2 349.8 L102 349.6 L102.8 349.4 L103.6 349.2 L104.3 349 L105.1 348.8 L105.9 348.5 L106.6 348.2 L107.7 347.7 L108.7 347.2 L109.7 346.4 L110.4 345.6 L111 344.5 L111.5 343.4 L111.7 342.3 L111.9 341.5 L112 340.7 L112.1 339.9 L112.1 339.1 L112.2 338.3 L112.3 337.5 L112.3 336.7 L112.3 335.9 L112.4 335.1 L112.4 334.3 L112.5 333.1 L112.5 331.9 L112.6 330.7 L112.6 330.3 L113 249.7 L113 249.7 L113.1 250.5 L113.3 251.7 L113.5 252.8 L113.7 254 L113.8 254.8 L113.9 255.6 L114.1 256.4 L114.2 257.2 L114.3 258 L114.4 258.8 L114.6 259.6 L114.7 260.3 L114.8 261.1 L115 261.9 L115.1 262.7 L115.2 263.5 L115.4 264.3 L115.5 265.1 L115.7 265.9 L115.8 266.7 L116 267.5 L116.1 268.2 L116.3 269 L116.4 269.8 L116.6 270.6 L116.7 271.4 L116.9 272.2 L117 273 L117.2 273.8 L117.4 274.5 L117.6 275.3 L117.7 276.1 L117.9 276.9 L118.1 277.7 L118.3 278.4 L118.5 279.2 L118.7 280 L118.9 280.8 L119.1 281.5 L119.3 282.3 L119.6 283.1 L119.8 283.9 L120 284.6 L120.2 285.4 L120.5 286.2 L120.7 286.9 L120.9 287.7 L121.2 288.5 L121.4 289.2 L121.7 290 L121.9 290.8 L122.2 291.5 L122.4 292.3 L122.7 293 L123 293.8 L123.3 294.5 L123.5 295.3 L123.8 296 L124.1 296.8 L124.4 297.5 L124.7 298.3 L125 299 L125.3 299.7 L125.7 300.5 L126 301.2 L126.3 301.9 L126.6 302.7 L127 303.4 L127.3 304.1 L127.6 304.9 L128 305.6 L128.3 306.3 L128.7 307 L129 307.8 L129.4 308.5 L129.8 309.2 L130.1 309.9 L130.5 310.6 L130.9 311.3 L131.3 312 L131.7 312.7 L132.1 313.4 L132.5 314.1 L132.9 314.8 L133.3 315.5 L133.7 316.2 L134.1 316.9 L134.5 317.6 L134.9 318.2 L135.4 318.9 L135.8 319.6 L136.3 320.2 L136.7 320.9 L137.2 321.6 L137.7 322.2 L138.1 322.9 L138.6 323.5 L139.1 324.1 L139.6 324.8 L140.1 325.4 L140.6 326 L141.1 326.7 L141.6 327.3 L142.1 327.9 L142.6 328.5 L143.2 329.1 L143.7 329.7 L144.2 330.3 L144.8 330.9 L145.3 331.5 L145.9 332 L146.5 332.6 L147 333.2 L147.6 333.7 L148.2 334.3 L148.8 334.8 L149.4 335.4 L150 335.9 L150.6 336.4 L151.2 337 L151.8 337.5 L152.4 338 L153 338.5 L153.6 339 L154.3 339.5 L154.9 340 L155.6 340.4 L156.2 340.9 L156.9 341.4 L157.5 341.8 L158.2 342.2 L158.9 342.7 L159.6 343.1 L160.3 343.4 L161 343.8 L161.7 344.2 L162.4 344.5 L163.2 344.9 L163.9 345.2 L164.6 345.6 L165.3 345.9 L166.1 346.2 L166.8 346.5 L167.6 346.9 L168.3 347.2 L169 347.5 L169.8 347.8 L170.5 348.1 L171.3 348.4 L172 348.6 L172.8 348.9 L173.5 349.2 L174.3 349.5 L175 349.7 L175.8 350 L176.6 350.3 L177.3 350.5 L178.1 350.8 L178.8 351 L179.6 351.3 L180.4 351.5 L181.1 351.8 L181.9 352 L182.6 352.3 L183.4 352.5 L184.2 352.8 L184.9 353 L185.7 353.3 L186.5 353.5 L187.2 353.8 L188 354 L188.8 354.2 L189.5 354.5 L190.3 354.7 L191.1 354.9 L191.8 355.2 L192.6 355.4 L193.4 355.6 L194.1 355.9 L194.9 356.1 L195.7 356.3 L196.4 356.5 L197.2 356.7 L198 357 L198.8 357.2 L199.5 357.4 L200.3 357.6 L201.1 357.8 L201.9 358 L202.6 358.2 L203.4 358.4 L204.2 358.6 L205 358.8 L205.7 359 L206.5 359.2 L207.3 359.4 L208.1 359.6 L208.9 359.8 L209.6 360 L210.4 360.1 L211.2 360.3 L212 360.5 L212.8 360.7 L213.5 360.9 L214.3 361.1 L215.1 361.2 L215.9 361.4 L216.7 361.6 L217.5 361.8 L218.2 362 L219 362.1 L219.8 362.3 L220.6 362.5 L221.4 362.7 L222.2 362.8 L222.9 363 L223.7 363.2 L224.5 363.3 L225.3 363.5 L226.1 363.7 L226.9 363.8 L227.7 364 L228.4 364.1 L229.2 364.2 L230 364.4 L230.8 364.5 L231.6 364.6 L232.4 364.8 L233.2 364.9 L234 365 L234.8 365.1 L235.6 365.2 L236.4 365.3 L237.2 365.4 L238 365.5 L238.8 365.6 L239.6 365.7 L240.4 365.8 L241.2 365.9 L241.9 366 L242.7 366.1 L243.5 366.1 L244.3 366.2 L245.1 366.3 L245.9 366.4 L246.7 366.5 L247.5 366.6 L248.3 366.7 L249.1 366.8 L249.9 366.8 L250.7 366.9 L251.5 367 L252.3 367.1 L253.1 367.2 L253.9 367.2 L254.7 367.3 L255.5 367.4 L256.3 367.5 L257.1 367.5 L257.9 367.6 L258.7 367.7 L259.5 367.7 L260.3 367.8 L261.1 367.8 L261.9 367.9 L262.7 368 L263.5 368 L264.3 368.1 L265.1 368.1 L265.9 368.2 L266.7 368.2 L267.5 368.2 L268.3 368.3 L269.1 368.3 L269.9 368.3 L270.7 368.4 L271.5 368.4 L272.7 368.4 L273.9 368.5 L275.1 368.5 L275.9 368.5" fill="none" stroke="#ee3535" stroke-width="1.4" stroke-linejoin="round" stroke-linecap="round"/>
<path d="M28.9 382.3 L29.8 382.3 L30.9 382.3 L32.1 382.3 L32.9 382.3 L33.7 382.3 L34.5 382.3 L35.3 382.3 L36.2 382.3 L37 382.3 L37.8 382.3 L38.6 382.3 L39.4 382.3 L40.2 382.3 L41 382.3 L41.8 382.3 L42.6 382.3 L43.4 382.3 L44.2 382.3 L45 382.2 L45.8 382.2 L46.6 382.2 L47.4 382.2 L48.2 382.2 L49.1 382.2 L49.9 382.2 L50.7 382.1 L51.5 382.1 L52.3 382.1 L53.1 382 L53.9 382 L54.7 381.9 L55.5 381.8 L56.3 381.8 L57.1 381.7 L57.9 381.6 L58.7 381.5 L59.5 381.4 L60.3 381.3 L61.1 381.2 L61.9 381.1 L62.7 381 L63.5 380.9 L64.3 380.8 L65.1 380.7 L65.9 380.6 L66.7 380.5 L67.5 380.4 L68.3 380.3 L69.1 380.2 L69.9 380.1 L70.7 380 L71.5 379.9 L72.3 379.8 L73.1 379.7 L73.9 379.6 L74.7 379.5 L75.5 379.4 L76.3 379.3 L77.1 379.2 L77.9 379.1 L78.7 379 L79.5 379 L80.3 378.9 L81.1 378.8 L81.9 378.7 L82.7 378.6 L83.5 378.5 L84.3 378.4 L85.1 378.4 L85.9 378.3 L86.7 378.2 L87.5 378.1 L88.3 378 L89.1 377.9 L89.9 377.8 L90.7 377.7 L91.5 377.6 L92.3 377.5 L93.1 377.4 L93.9 377.3 L94.7 377.2 L95.5 377.1 L96.3 377 L97.1 376.9 L97.9 376.8 L98.7 376.7 L99.5 376.6 L100.3 376.5 L101.1 376.4 L101.9 376.2 L102.7 376.1 L103.5 376 L104.3 375.8 L105.1 375.7 L105.9 375.6 L106.7 375.4 L107.5 375.3 L108.3 375.1 L109.4 374.9 L110.6 374.7 L111.4 374.5 L111.8 374.4 L111.8 374.4 L112.4 373.8 L113.3 373 L114.1 372.2 L115 371.3 L115.5 370.7 L116 370.1 L116.5 369.5 L117 368.9 L117.5 368.2 L118 367.6 L118.5 366.9 L119 366.3 L119.7 365.4 L120.6 364.6 L121.5 363.8 L122.1 363.3 L122.7 362.8 L123.4 362.3 L124.1 361.9 L124.7 361.4 L125.4 361 L126.1 360.6 L126.8 360.2 L127.5 359.9 L128.3 359.5 L129 359.2 L129.8 359 L130.5 358.7 L131.3 358.5 L132.1 358.3 L132.8 358.1 L133.6 357.9 L134.4 357.8 L135.2 357.6 L136 357.4 L136.8 357.3 L137.6 357.2 L138.4 357 L139.2 356.9 L139.9 356.8 L140.7 356.7 L141.5 356.6 L142.3 356.5 L143.1 356.5 L143.9 356.4 L144.7 356.4 L145.5 356.3 L146.3 356.3 L147.1 356.3 L147.9 356.2 L148.8 356.2 L149.6 356.2 L150.4 356.2 L151.2 356.2 L152 356.2 L152.8 356.1 L153.6 356.1 L154.4 356.1 L155.2 356.1 L156 356.1 L156.8 356.1 L157.6 356.1 L158.4 356.1 L159.2 356.1 L160 356.1 L160.8 356.1 L161.6 356.1 L162.4 356.1 L163.2 356.2 L164 356.2 L164.8 356.3 L165.6 356.3 L166.4 356.4 L167.2 356.4 L168 356.5 L168.8 356.6 L169.6 356.7 L170.4 356.8 L171.2 356.9 L172 357 L172.8 357.1 L173.6 357.2 L174.4 357.3 L175.2 357.4 L176 357.5 L176.8 357.7 L177.5 357.8 L178.3 357.9 L179.1 358 L179.9 358.1 L180.7 358.2 L181.5 358.4 L182.3 358.5 L183.1 358.6 L183.9 358.7 L184.7 358.8 L185.5 358.9 L186.3 359 L187.1 359.1 L187.9 359.2 L188.7 359.3 L189.5 359.5 L190.3 359.6 L191.1 359.7 L191.9 359.8 L192.6 359.9 L193.4 360 L194.2 360.2 L195 360.3 L195.8 360.4 L196.6 360.5 L197.4 360.7 L198.2 360.8 L199 360.9 L199.8 361 L200.6 361.2 L201.4 361.3 L202.2 361.4 L203 361.5 L203.8 361.7 L204.5 361.8 L205.3 361.9 L206.1 362 L206.9 362.1 L207.7 362.3 L208.5 362.4 L209.3 362.5 L210.1 362.6 L210.9 362.7 L211.7 362.8 L212.5 363 L213.3 363.1 L214.1 363.2 L214.9 363.3 L215.7 363.4 L216.5 363.5 L217.3 363.6 L218 363.7 L218.8 363.9 L219.6 364 L220.4 364.1 L221.2 364.2 L222 364.3 L222.8 364.4 L223.6 364.5 L224.4 364.6 L225.2 364.7 L226 364.8 L226.8 365 L227.6 365.1 L228.4 365.2 L229.2 365.3 L230 365.4 L230.8 365.5 L231.6 365.6 L232.4 365.7 L233.2 365.7 L234 365.8 L234.8 365.9 L235.6 366 L236.4 366.1 L237.2 366.2 L238 366.3 L238.8 366.4 L239.6 366.5 L240.4 366.5 L241.1 366.6 L241.9 366.7 L242.7 366.8 L243.5 366.9 L244.3 367 L245.1 367 L245.9 367.1 L246.7 367.2 L247.5 367.3 L248.3 367.4 L249.1 367.4 L249.9 367.5 L250.7 367.6 L251.5 367.7 L252.3 367.8 L253.1 367.8 L253.9 367.9 L254.7 368 L255.5 368.1 L256.3 368.1 L257.1 368.2 L257.9 368.3 L258.7 368.3 L259.5 368.4 L260.3 368.5 L261.1 368.6 L261.9 368.6 L262.7 368.7 L263.5 368.8 L264.3 368.8 L265.1 368.9 L265.9 368.9 L266.7 369 L267.5 369.1 L268.3 369.1 L269.1 369.2 L269.9 369.3 L270.7 369.3 L271.5 369.4 L272.3 369.4 L273.5 369.5 L274.7 369.6 L275.5 369.6 L275.9 369.7" fill="none" stroke="#2d7ba6" stroke-width="1.4" stroke-linejoin="round" stroke-linecap="round"/>
<path d="M28.9 382.3 L29.8 382.3 L30.9 382.3 L32.1 382.3 L32.9 382.3 L33.7 382.3 L34.5 382.3 L35.3 382.3 L36.2 382.3 L37 382.3 L37.8 382.3 L38.6 382.3 L39.4 382.3 L40.2 382.3 L41 382.3 L41.8 382.3 L42.6 382.3 L43.4 382.3 L44.2 382.3 L45 382.2 L45.8 382.2 L46.6 382.2 L47.4 382.2 L48.2 382.2 L49 382.2 L49.9 382.2 L50.7 382.1 L51.5 382.1 L52.3 382.1 L53.1 382 L53.9 382 L54.7 381.9 L55.5 381.8 L56.3 381.8 L57.1 381.7 L57.9 381.6 L58.7 381.5 L59.5 381.5 L60.3 381.4 L61.1 381.3 L61.9 381.2 L62.7 381.1 L63.5 381 L64.3 380.9 L65.1 380.8 L65.9 380.7 L66.7 380.6 L67.5 380.5 L68.3 380.4 L69.1 380.3 L69.9 380.2 L70.7 380.1 L71.5 380 L72.3 379.9 L73.1 379.8 L73.9 379.7 L74.7 379.6 L75.5 379.5 L76.3 379.4 L77.1 379.3 L77.9 379.2 L78.7 379.1 L79.5 379.1 L80.3 379 L81.1 378.9 L81.9 378.8 L82.7 378.7 L83.5 378.6 L84.3 378.5 L85.1 378.4 L85.9 378.4 L86.7 378.3 L87.5 378.2 L88.3 378.1 L89.1 378 L89.9 377.9 L90.7 377.8 L91.5 377.7 L92.3 377.6 L93.1 377.5 L93.9 377.4 L94.7 377.3 L95.5 377.2 L96.3 377.1 L97.1 377 L97.9 376.9 L98.7 376.8 L99.5 376.7 L100.3 376.6 L101.1 376.5 L101.9 376.3 L102.7 376.2 L103.5 376.1 L104.3 375.9 L105.1 375.8 L105.9 375.7 L106.7 375.5 L107.5 375.4 L108.3 375.2 L109.4 375 L110.6 374.8 L111.4 374.6 L111.8 374.5 L111.8 374.5 L112.5 373.9 L113.3 373.1 L114.1 372.3 L115 371.4 L115.5 370.8 L116 370.2 L116.5 369.6 L117 368.9 L117.5 368.3 L118 367.7 L118.4 367 L118.9 366.4 L119.4 365.8 L120.3 364.9 L121.1 364.1 L121.7 363.5 L122.4 363 L123 362.6 L123.7 362.1 L124.3 361.7 L125 361.2 L125.7 360.8 L126.4 360.4 L127.1 360 L127.8 359.7 L128.6 359.4 L129.3 359.1 L130.1 358.8 L130.8 358.5 L131.6 358.3 L132.4 358.1 L133.1 357.9 L133.9 357.7 L134.7 357.5 L135.5 357.4 L136.3 357.2 L137.1 357 L137.9 356.9 L138.6 356.7 L139.4 356.6 L140.2 356.5 L141 356.4 L141.8 356.3 L142.6 356.2 L143.4 356.1 L144.2 356 L145 355.9 L145.8 355.9 L146.6 355.8 L147.4 355.7 L148.2 355.7 L149 355.6 L149.8 355.6 L150.6 355.5 L151.4 355.5 L152.2 355.4 L153 355.4 L153.8 355.3 L154.6 355.3 L155.4 355.3 L156.2 355.2 L157 355.2 L157.8 355.2 L158.6 355.2 L159.5 355.2 L160.3 355.2 L161.1 355.2 L161.9 355.2 L162.7 355.2 L163.5 355.3 L164.3 355.3 L165.1 355.3 L165.9 355.4 L166.7 355.5 L167.5 355.5 L168.3 355.6 L169.1 355.7 L169.9 355.8 L170.7 355.8 L171.5 355.9 L172.3 356 L173.1 356.1 L173.9 356.2 L174.7 356.3 L175.5 356.4 L176.3 356.5 L177 356.6 L177.8 356.8 L178.6 356.9 L179.4 357 L180.2 357.1 L181 357.2 L181.8 357.3 L182.6 357.4 L183.4 357.5 L184.2 357.6 L185 357.7 L185.8 357.8 L186.6 357.9 L187.4 358 L188.2 358.1 L189 358.2 L189.8 358.3 L190.6 358.4 L191.4 358.5 L192.2 358.6 L193 358.7 L193.8 358.8 L194.6 358.9 L195.4 359 L196.2 359.1 L197 359.2 L197.8 359.3 L198.6 359.4 L199.4 359.5 L200.2 359.6 L201 359.7 L201.7 359.8 L202.5 359.9 L203.3 360 L204.1 360.2 L204.9 360.3 L205.7 360.4 L206.5 360.5 L207.3 360.6 L208.1 360.7 L208.9 360.8 L209.7 360.9 L210.5 361 L211.3 361.2 L212.1 361.3 L212.9 361.4 L213.7 361.5 L214.5 361.6 L215.3 361.7 L216.1 361.9 L216.9 362 L217.7 362.1 L218.4 362.2 L219.2 362.3 L220 362.5 L220.8 362.6 L221.6 362.7 L222.4 362.8 L223.2 362.9 L224 363.1 L224.8 363.2 L225.6 363.3 L226.4 363.4 L227.2 363.5 L228 363.7 L228.8 363.8 L229.6 363.9 L230.4 364 L231.2 364.1 L232 364.2 L232.8 364.3 L233.6 364.4 L234.4 364.5 L235.1 364.6 L235.9 364.7 L236.7 364.8 L237.5 364.9 L238.3 365 L239.1 365.1 L239.9 365.2 L240.7 365.3 L241.5 365.3 L242.3 365.4 L243.1 365.5 L243.9 365.6 L244.7 365.7 L245.5 365.8 L246.3 365.9 L247.1 366 L247.9 366 L248.7 366.1 L249.5 366.2 L250.3 366.3 L251.1 366.4 L251.9 366.5 L252.7 366.5 L253.5 366.6 L254.3 366.7 L255.1 366.8 L255.9 366.9 L256.7 366.9 L257.5 367 L258.3 367.1 L259.1 367.2 L259.9 367.2 L260.7 367.3 L261.5 367.4 L262.3 367.4 L263.1 367.5 L263.9 367.6 L264.7 367.6 L265.5 367.7 L266.3 367.8 L267.1 367.8 L267.9 367.9 L268.7 368 L269.5 368 L270.3 368.1 L271.1 368.2 L271.9 368.2 L273.1 368.3 L274.3 368.4 L275.5 368.5 L275.9 368.5" fill="none" stroke="#eeae32" stroke-width="1.4" stroke-linejoin="round" stroke-linecap="round"/>
<path d="M28.9 382.3 L29.8 382.3 L30.9 382.3 L32.1 382.3 L33.3 382.3 L34.1 382.3 L34.9 382.3 L35.7 382.3 L36.5 382.3 L37.3 382.3 L38.1 382.3 L38.9 382.3 L39.7 382.3 L40.5 382.3 L41.3 382.3 L42.1 382.3 L42.9 382.3 L43.7 382.3 L44.5 382.3 L45.3 382.3 L46.1 382.3 L46.9 382.3 L47.8 382.3 L48.6 382.3 L49.4 382.3 L50.2 382.3 L51 382.3 L51.8 382.3 L52.6 382.3 L53.4 382.3 L54.2 382.3 L55 382.3 L55.8 382.3 L56.6 382.3 L57.4 382.3 L58.2 382.3 L59 382.3 L59.8 382.3 L60.6 382.3 L61.4 382.3 L62.2 382.3 L63 382.3 L63.8 382.3 L64.6 382.3 L65.4 382.3 L66.2 382.3 L67 382.3 L67.8 382.3 L68.6 382.3 L69.4 382.3 L70.2 382.3 L71 382.3 L71.8 382.3 L72.6 382.3 L73.4 382.3 L74.2 382.3 L75 382.3 L75.8 382.3 L76.6 382.3 L77.4 382.3 L78.2 382.3 L79 382.3 L79.8 382.3 L80.6 382.3 L81.4 382.3 L82.2 382.2 L83 382.2 L83.8 382.2 L84.7 382.2 L85.5 382.2 L86.3 382.2 L87.1 382.2 L87.9 382.2 L88.7 382.1 L89.5 382.1 L90.3 382.1 L91.1 382.1 L91.9 382 L92.7 382 L93.5 382 L94.3 382 L95.1 381.9 L95.9 381.9 L96.7 381.9 L97.5 381.8 L98.3 381.8 L99.1 381.8 L99.9 381.7 L100.7 381.7 L101.5 381.6 L102.3 381.6 L103.1 381.6 L103.9 381.5 L104.7 381.5 L105.5 381.4 L106.3 381.3 L107.1 381.3 L107.9 381.2 L108.7 381.1 L109.5 381.1 L110.3 381 L111.1 380.9 L111.9 380.8 L112.7 380.7 L113.5 380.6 L114.3 380.5 L115.1 380.4 L115.9 380.3 L116.6 380.1 L117.4 380 L118.2 379.8 L119 379.7 L119.8 379.5 L120.6 379.3 L121.4 379.2 L122.1 379 L122.9 378.8 L123.7 378.7 L124.5 378.5 L125.3 378.3 L126.1 378.2 L126.9 378 L127.6 377.9 L128.4 377.7 L129.2 377.6 L130 377.4 L130.8 377.3 L131.6 377.1 L132.4 377 L133.2 376.8 L133.9 376.7 L134.7 376.5 L135.5 376.4 L136.3 376.2 L137.1 376.1 L137.9 375.9 L138.7 375.8 L139.5 375.7 L140.3 375.5 L141 375.4 L141.8 375.2 L142.6 375.1 L143.4 375 L144.2 374.8 L145 374.7 L145.8 374.6 L146.6 374.5 L147.4 374.4 L148.2 374.3 L149 374.2 L149.8 374.1 L150.6 374 L151.4 373.9 L152.2 373.8 L153 373.7 L153.8 373.6 L154.6 373.6 L155.4 373.5 L156.2 373.4 L157 373.3 L157.8 373.3 L158.6 373.2 L159.4 373.1 L160.2 373.1 L160.9 373 L161.7 372.9 L162.5 372.8 L163.3 372.7 L164.1 372.7 L164.9 372.6 L165.7 372.5 L166.5 372.4 L167.3 372.3 L168.1 372.2 L168.9 372.1 L169.7 372.1 L170.5 372 L171.3 371.9 L172.1 371.8 L172.9 371.7 L173.7 371.6 L174.5 371.6 L175.3 371.5 L176.1 371.4 L176.9 371.3 L177.7 371.3 L178.5 371.2 L179.3 371.1 L180.1 371.1 L180.9 371 L181.7 371 L182.5 370.9 L183.3 370.9 L184.1 370.8 L184.9 370.8 L185.7 370.8 L186.5 370.8 L187.3 370.7 L188.1 370.7 L188.9 370.7 L189.7 370.7 L190.5 370.6 L191.3 370.6 L192.1 370.6 L192.9 370.6 L193.7 370.5 L194.5 370.5 L195.3 370.5 L196.1 370.5 L196.9 370.5 L197.7 370.4 L198.5 370.4 L199.3 370.4 L200.1 370.4 L200.9 370.4 L201.8 370.4 L202.6 370.4 L203.4 370.4 L204.2 370.3 L205 370.3 L205.8 370.3 L206.6 370.3 L207.4 370.3 L208.2 370.3 L209 370.3 L209.8 370.3 L210.6 370.3 L211.4 370.3 L212.2 370.3 L213 370.3 L213.8 370.3 L214.6 370.3 L215.4 370.3 L216.2 370.3 L217 370.3 L217.8 370.3 L218.6 370.3 L219.4 370.3 L220.2 370.3 L221 370.3 L221.8 370.3 L222.6 370.3 L223.4 370.3 L224.2 370.3 L225 370.3 L225.8 370.3 L226.6 370.3 L227.4 370.3 L228.2 370.3 L229 370.3 L229.8 370.3 L230.6 370.3 L231.4 370.3 L232.2 370.3 L233 370.3 L233.8 370.3 L234.6 370.3 L235.4 370.3 L236.2 370.3 L237 370.3 L237.8 370.3 L238.7 370.3 L239.5 370.3 L240.3 370.3 L241.1 370.3 L241.9 370.3 L242.7 370.3 L243.5 370.4 L244.3 370.4 L245.1 370.4 L245.9 370.4 L246.7 370.4 L247.5 370.4 L248.3 370.4 L249.1 370.5 L249.9 370.5 L250.7 370.5 L251.5 370.5 L252.3 370.5 L253.1 370.6 L253.9 370.6 L254.7 370.6 L255.5 370.6 L256.3 370.7 L257.1 370.7 L257.9 370.7 L258.7 370.7 L259.5 370.8 L260.3 370.8 L261.1 370.8 L261.9 370.9 L262.7 370.9 L263.5 370.9 L264.3 371 L265.1 371 L265.9 371 L266.7 371.1 L267.5 371.1 L268.3 371.1 L269.1 371.2 L269.9 371.2 L270.7 371.2 L271.5 371.3 L272.7 371.3 L273.9 371.4 L275.1 371.4 L275.9 371.5" fill="none" stroke="#3cb64c" stroke-width="1.4" stroke-linejoin="round" stroke-linecap="round"/>
<path d="M28.9 382.3 L29.8 382.3 L30.9 382.3 L32.1 382.3 L33.3 382.3 L34.1 382.3 L34.9 382.3 L35.7 382.3 L36.5 382.3 L37.3 382.3 L38.1 382.3 L38.9 382.3 L39.7 382.3 L40.5 382.3 L41.3 382.3 L42.1 382.3 L42.9 382.3 L43.7 382.3 L44.5 382.3 L45.3 382.3 L46.1 382.3 L46.9 382.3 L47.8 382.3 L48.6 382.3 L49.4 382.3 L50.2 382.3 L51 382.3 L51.8 382.3 L52.6 382.3 L53.4 382.3 L54.2 382.3 L55 382.3 L55.8 382.3 L56.6 382.3 L57.4 382.3 L58.2 382.3 L59 382.3 L59.8 382.3 L60.6 382.3 L61.4 382.3 L62.2 382.3 L63 382.3 L63.8 382.3 L64.6 382.3 L65.4 382.3 L66.2 382.3 L67 382.3 L67.8 382.3 L68.6 382.3 L69.4 382.3 L70.2 382.3 L71 382.3 L71.8 382.3 L72.6 382.2 L73.4 382.2 L74.2 382.2 L75 382.2 L75.8 382.2 L76.6 382.2 L77.4 382.2 L78.2 382.2 L79 382.2 L79.8 382.2 L80.6 382.2 L81.4 382.2 L82.2 382.2 L83 382.2 L83.8 382.2 L84.7 382.2 L85.5 382.2 L86.3 382.2 L87.1 382.2 L87.9 382.2 L88.7 382.2 L89.5 382.2 L90.3 382.1 L91.1 382.1 L91.9 382.1 L92.7 382.1 L93.5 382.1 L94.3 382.1 L95.1 382.1 L95.9 382.1 L96.7 382.1 L97.5 382.1 L98.3 382.1 L99.1 382 L99.9 382 L100.7 382 L101.5 382 L102.3 381.9 L103.1 381.9 L103.9 381.9 L104.7 381.8 L105.5 381.8 L106.3 381.8 L107.1 381.7 L107.9 381.7 L108.7 381.7 L109.5 381.6 L110.3 381.6 L111.1 381.5 L111.9 381.5 L112.7 381.4 L113.5 381.4 L114.3 381.4 L115.1 381.3 L115.9 381.2 L116.7 381.2 L117.5 381.1 L118.3 381 L119.1 381 L119.9 380.9 L120.7 380.8 L121.5 380.7 L122.3 380.6 L123.1 380.5 L123.9 380.4 L124.7 380.4 L125.5 380.3 L126.3 380.2 L127.1 380 L127.9 379.9 L128.7 379.8 L129.5 379.7 L130.3 379.6 L131.1 379.5 L131.8 379.4 L132.6 379.3 L133.4 379.2 L134.2 379.1 L135 378.9 L135.8 378.8 L136.6 378.7 L137.4 378.6 L138.2 378.5 L139 378.4 L139.8 378.3 L140.6 378.2 L141.4 378 L142.2 377.9 L143 377.8 L143.8 377.7 L144.6 377.6 L145.4 377.5 L146.2 377.4 L147 377.3 L147.7 377.2 L148.5 377.2 L149.3 377.1 L150.1 377 L150.9 376.9 L151.7 376.8 L152.5 376.7 L153.3 376.7 L154.1 376.6 L154.9 376.5 L155.7 376.4 L156.5 376.3 L157.3 376.3 L158.1 376.2 L158.9 376.1 L159.7 376 L160.5 375.9 L161.3 375.9 L162.1 375.8 L162.9 375.7 L163.7 375.6 L164.5 375.5 L165.3 375.5 L166.1 375.4 L166.9 375.3 L167.7 375.2 L168.5 375.2 L169.3 375.1 L170.1 375 L170.9 375 L171.7 374.9 L172.5 374.8 L173.3 374.8 L174.1 374.7 L174.9 374.6 L175.7 374.6 L176.5 374.5 L177.3 374.5 L178.1 374.4 L178.9 374.4 L179.7 374.3 L180.5 374.3 L181.3 374.2 L182.1 374.2 L182.9 374.1 L183.7 374.1 L184.5 374 L185.3 374 L186.1 374 L186.9 373.9 L187.7 373.9 L188.5 373.9 L189.3 373.8 L190.1 373.8 L190.9 373.8 L191.7 373.7 L192.5 373.7 L193.3 373.7 L194.1 373.7 L194.9 373.6 L195.7 373.6 L196.5 373.6 L197.3 373.5 L198.1 373.5 L198.9 373.5 L199.7 373.5 L200.5 373.4 L201.3 373.4 L202.1 373.4 L202.9 373.4 L203.7 373.4 L204.5 373.3 L205.3 373.3 L206.1 373.3 L207 373.3 L207.8 373.3 L208.6 373.3 L209.4 373.3 L210.2 373.3 L211 373.3 L211.8 373.3 L212.6 373.3 L213.4 373.3 L214.2 373.3 L215 373.3 L215.8 373.3 L216.6 373.3 L217.4 373.3 L218.2 373.3 L219 373.3 L219.8 373.3 L220.6 373.3 L221.4 373.3 L222.2 373.3 L223 373.3 L223.8 373.3 L224.6 373.3 L225.4 373.3 L226.2 373.3 L227 373.3 L227.8 373.3 L228.6 373.3 L229.4 373.3 L230.2 373.3 L231 373.3 L231.8 373.3 L232.6 373.3 L233.4 373.3 L234.2 373.3 L235 373.3 L235.8 373.3 L236.6 373.3 L237.4 373.3 L238.2 373.3 L239 373.3 L239.8 373.4 L240.6 373.4 L241.4 373.4 L242.2 373.4 L243 373.4 L243.9 373.4 L244.7 373.4 L245.5 373.4 L246.3 373.4 L247.1 373.4 L247.9 373.4 L248.7 373.4 L249.5 373.4 L250.3 373.4 L251.1 373.5 L251.9 373.5 L252.7 373.5 L253.5 373.5 L254.3 373.5 L255.1 373.5 L255.9 373.5 L256.7 373.5 L257.5 373.6 L258.3 373.6 L259.1 373.6 L259.9 373.6 L260.7 373.6 L261.5 373.6 L262.3 373.6 L263.1 373.7 L263.9 373.7 L264.7 373.7 L265.5 373.7 L266.3 373.7 L267.1 373.8 L267.9 373.8 L268.7 373.8 L269.5 373.8 L270.3 373.8 L271.1 373.9 L271.9 373.9 L273.1 373.9 L274.3 374 L275.5 374 L275.9 374" fill="none" stroke="#f39cc6" stroke-width="1.4" stroke-linejoin="round" stroke-linecap="round"/>
<path d="M28.9 382.3 L29.8 382.3 L30.9 382.3 L32.1 382.3 L33.3 382.3 L34.1 382.3 L34.9 382.3 L35.7 382.3 L36.5 382.3 L37.3 382.3 L38.1 382.3 L38.9 382.3 L39.7 382.3 L40.5 382.3 L41.3 382.3 L42.1 382.3 L42.9 382.3 L43.7 382.3 L44.5 382.3 L45.3 382.3 L46.2 382.3 L47 382.3 L47.8 382.3 L48.6 382.3 L49.4 382.3 L50.2 382.3 L51 382.3 L51.8 382.3 L52.6 382.3 L53.4 382.3 L54.2 382.3 L55 382.3 L55.8 382.3 L56.6 382.3 L57.4 382.3 L58.2 382.3 L59 382.3 L59.8 382.3 L60.6 382.3 L61.4 382.3 L62.2 382.3 L63 382.3 L63.8 382.3 L64.6 382.3 L65.4 382.3 L66.2 382.3 L67 382.2 L67.8 382.2 L68.6 382.2 L69.4 382.2 L70.2 382.2 L71 382.2 L71.8 382.2 L72.6 382.2 L73.4 382.2 L74.2 382.2 L75 382.2 L75.8 382.2 L76.6 382.2 L77.4 382.2 L78.2 382.2 L79.1 382.2 L79.9 382.2 L80.7 382.2 L81.5 382.2 L82.3 382.2 L83.1 382.2 L83.9 382.1 L84.7 382.1 L85.5 382.1 L86.3 382.1 L87.1 382.1 L87.9 382.1 L88.7 382.1 L89.5 382.1 L90.3 382.1 L91.1 382.1 L91.9 382.1 L92.7 382.1 L93.5 382.1 L94.3 382.1 L95.1 382.1 L95.9 382.1 L96.7 382 L97.5 382 L98.3 382 L99.1 382 L99.9 382 L100.7 382 L101.5 382 L102.3 382 L103.1 382 L103.9 382 L104.7 382 L105.5 382 L106.3 382 L107.1 381.9 L107.9 381.9 L108.7 381.9 L109.5 381.9 L110.3 381.9 L111.1 381.9 L112 381.9 L112.8 381.9 L113.6 381.9 L114.4 381.9 L115.2 381.9 L116 381.8 L116.8 381.8 L117.6 381.8 L118.4 381.8 L119.2 381.8 L120 381.7 L120.8 381.7 L121.6 381.7 L122.4 381.7 L123.2 381.6 L124 381.6 L124.8 381.6 L125.6 381.5 L126.4 381.5 L127.2 381.4 L128 381.4 L128.8 381.4 L129.6 381.3 L130.4 381.3 L131.2 381.2 L132 381.2 L132.8 381.1 L133.6 381.1 L134.4 381.1 L135.2 381 L136 381 L136.8 380.9 L137.6 380.9 L138.4 380.8 L139.2 380.8 L140 380.7 L140.8 380.7 L141.6 380.6 L142.4 380.6 L143.2 380.5 L144 380.5 L144.8 380.4 L145.6 380.3 L146.4 380.3 L147.2 380.2 L148 380.2 L148.8 380.1 L149.6 380.1 L150.4 380 L151.2 380 L152 379.9 L152.8 379.9 L153.6 379.8 L154.4 379.8 L155.2 379.8 L156 379.7 L156.8 379.7 L157.6 379.6 L158.4 379.6 L159.2 379.5 L160 379.5 L160.8 379.5 L161.6 379.4 L162.4 379.4 L163.2 379.3 L164 379.3 L164.8 379.2 L165.6 379.2 L166.4 379.2 L167.2 379.1 L168 379.1 L168.8 379 L169.6 379 L170.4 379 L171.2 378.9 L172.1 378.9 L172.9 378.8 L173.7 378.8 L174.5 378.7 L175.3 378.7 L176.1 378.7 L176.9 378.6 L177.7 378.6 L178.5 378.5 L179.3 378.5 L180.1 378.5 L180.9 378.4 L181.7 378.4 L182.5 378.4 L183.3 378.3 L184.1 378.3 L184.9 378.3 L185.7 378.3 L186.5 378.2 L187.3 378.2 L188.1 378.2 L188.9 378.1 L189.7 378.1 L190.5 378.1 L191.3 378.1 L192.1 378 L192.9 378 L193.7 378 L194.5 377.9 L195.3 377.9 L196.1 377.9 L196.9 377.9 L197.7 377.8 L198.5 377.8 L199.3 377.8 L200.1 377.7 L200.9 377.7 L201.7 377.7 L202.5 377.7 L203.3 377.6 L204.1 377.6 L204.9 377.6 L205.7 377.6 L206.5 377.5 L207.3 377.5 L208.1 377.5 L208.9 377.5 L209.7 377.4 L210.5 377.4 L211.3 377.4 L212.1 377.4 L212.9 377.3 L213.7 377.3 L214.6 377.3 L215.4 377.3 L216.2 377.3 L217 377.2 L217.8 377.2 L218.6 377.2 L219.4 377.2 L220.2 377.2 L221 377.2 L221.8 377.1 L222.6 377.1 L223.4 377.1 L224.2 377.1 L225 377.1 L225.8 377.1 L226.6 377.1 L227.4 377.1 L228.2 377 L229 377 L229.8 377 L230.6 377 L231.4 377 L232.2 377 L233 377 L233.8 377 L234.6 377 L235.4 377 L236.2 377 L237 377 L237.8 377 L238.6 377 L239.4 377 L240.2 377 L241 377 L241.8 377 L242.6 377 L243.4 377 L244.2 377 L245 377 L245.8 377 L246.6 377 L247.4 377 L248.3 377 L249.1 377 L249.9 377 L250.7 377 L251.5 377 L252.3 377 L253.1 377 L253.9 377 L254.7 377.1 L255.5 377.1 L256.3 377.1 L257.1 377.1 L257.9 377.1 L258.7 377.1 L259.5 377.1 L260.3 377.1 L261.1 377.1 L261.9 377.1 L262.7 377.1 L263.5 377.1 L264.3 377.1 L265.1 377.2 L265.9 377.2 L266.7 377.2 L267.5 377.2 L268.3 377.2 L269.1 377.2 L269.9 377.2 L270.7 377.3 L271.5 377.3 L272.7 377.3 L273.9 377.3 L275.1 377.3 L275.9 377.4" fill="none" stroke="#b0b0a0" stroke-width="1.4" stroke-linejoin="round" stroke-linecap="round"/>
<path d="M28.9 232.9 V391.4 H291.7" fill="none" stroke="#3a3a3a" stroke-width="1.3"/>
<path d="M23.4 391.4H28.9M25.9 386.9H28.9M25.9 382.3H28.9M25.9 377.8H28.9M25.9 373.3H28.9M23.4 368.8H28.9M25.9 364.2H28.9M25.9 359.7H28.9M25.9 355.2H28.9M25.9 350.6H28.9M23.4 346.1H28.9M25.9 341.6H28.9M25.9 337.1H28.9M25.9 332.5H28.9M25.9 328H28.9M23.4 323.5H28.9M25.9 318.9H28.9M25.9 314.4H28.9M25.9 309.9H28.9M25.9 305.4H28.9M23.4 300.8H28.9M25.9 296.3H28.9M25.9 291.8H28.9M25.9 287.2H28.9M25.9 282.7H28.9M23.4 278.2H28.9M25.9 273.7H28.9M25.9 269.1H28.9M25.9 264.6H28.9M25.9 260.1H28.9M23.4 255.5H28.9M25.9 251H28.9M25.9 246.5H28.9M25.9 242H28.9M25.9 237.4H28.9M23.4 232.9H28.9M28.9 391.4V394.7M42 391.4V393.4M55.2 391.4V393.4M68.3 391.4V393.4M81.5 391.4V393.4M94.6 391.4V394.7M107.7 391.4V393.4M120.9 391.4V393.4M134 391.4V393.4M147.2 391.4V393.4M160.3 391.4V394.7M173.4 391.4V393.4M186.6 391.4V393.4M199.7 391.4V393.4M212.9 391.4V393.4M226 391.4V394.7M239.1 391.4V393.4M252.3 391.4V393.4M265.4 391.4V393.4M278.6 391.4V393.4M291.7 391.4V394.7" stroke="#3a3a3a" stroke-width="1.1"/>
<g font-family="Liberation Sans, sans-serif" font-weight="bold" font-size="7.4" fill="#1c1c24"><text x="19.6" y="392" text-anchor="end" dominant-baseline="central">0</text><text x="19.6" y="369.4" text-anchor="end" dominant-baseline="central">50</text><text x="19.6" y="346.7" text-anchor="end" dominant-baseline="central">100</text><text x="19.6" y="324.1" text-anchor="end" dominant-baseline="central">150</text><text x="19.6" y="301.4" text-anchor="end" dominant-baseline="central">200</text><text x="19.6" y="278.8" text-anchor="end" dominant-baseline="central">250</text><text x="19.6" y="256.1" text-anchor="end" dominant-baseline="central">300</text><text x="19.6" y="233.5" text-anchor="end" dominant-baseline="central">350</text><text x="28.9" y="398.6" text-anchor="middle" dominant-baseline="central">0.0</text><text x="94.6" y="398.6" text-anchor="middle" dominant-baseline="central">0.5</text><text x="160.3" y="398.6" text-anchor="middle" dominant-baseline="central">1.0</text><text x="226" y="398.6" text-anchor="middle" dominant-baseline="central">1.5</text><text x="291.7" y="398.6" text-anchor="middle" dominant-baseline="central">2.0</text></g>
<text x="16.3" y="224.4" font-family="Liberation Sans, sans-serif" font-weight="bold" font-size="7.4" fill="#1c1c24" text-anchor="middle" dominant-baseline="central">[degC]</text>
<text x="294.4" y="388.8" font-family="Liberation Sans, sans-serif" font-weight="bold" font-size="7.4" fill="#1c1c24" dominant-baseline="central">x10<tspan font-size="5.2" dx="1.2" dy="-2.5">3</tspan></text>
<text x="157" y="412" font-family="Liberation Mono, monospace" font-size="6.5" fill="#333" text-anchor="middle" dominant-baseline="central">X Time [s]</text>
<rect x="165.5" y="233.8" width="124.4" height="62.1" fill="#fff" stroke="#2a2a2a" stroke-width="1.2"/>
<line x1="168.8" y1="240.6" x2="180.6" y2="240.6" stroke="#ee5555" stroke-width="1.5"/>
<text x="183.9" y="240.6" font-family="Liberation Mono, monospace" font-weight="bold" font-size="6.8" fill="#222" dominant-baseline="central" textLength="101.7" lengthAdjust="spacingAndGlyphs">cell 1 temperature [degC]</text>
<line x1="168.8" y1="250.4" x2="180.6" y2="250.4" stroke="#3d7fa6" stroke-width="1.5"/>
<text x="183.9" y="250.4" font-family="Liberation Mono, monospace" font-weight="bold" font-size="6.8" fill="#222" dominant-baseline="central" textLength="101.7" lengthAdjust="spacingAndGlyphs">cell 2 temperature [degC]</text>
<line x1="168.8" y1="260.3" x2="180.6" y2="260.3" stroke="#fbbd5a" stroke-width="1.5"/>
<text x="183.9" y="260.3" font-family="Liberation Mono, monospace" font-weight="bold" font-size="6.8" fill="#222" dominant-baseline="central" textLength="101.7" lengthAdjust="spacingAndGlyphs">cell 3 temperature [degC]</text>
<line x1="168.8" y1="270.1" x2="180.6" y2="270.1" stroke="#4cba5a" stroke-width="1.5"/>
<text x="183.9" y="270.1" font-family="Liberation Mono, monospace" font-weight="bold" font-size="6.8" fill="#222" dominant-baseline="central" textLength="101.7" lengthAdjust="spacingAndGlyphs">cell 4 temperature [degC]</text>
<line x1="168.8" y1="280" x2="180.6" y2="280" stroke="#f2a2c8" stroke-width="1.5"/>
<text x="183.9" y="280" font-family="Liberation Mono, monospace" font-weight="bold" font-size="6.8" fill="#222" dominant-baseline="central" textLength="101.7" lengthAdjust="spacingAndGlyphs">cell 5 temperature [degC]</text>
<line x1="168.8" y1="289.9" x2="180.6" y2="289.9" stroke="#b0b0a0" stroke-width="1.5"/>
<text x="183.9" y="289.9" font-family="Liberation Mono, monospace" font-weight="bold" font-size="6.8" fill="#222" dominant-baseline="central" textLength="101.7" lengthAdjust="spacingAndGlyphs">cell 6 temperature [degC]</text>
<line x1="301.2" y1="237.1" x2="313.3" y2="237.1" stroke="#ee5555" stroke-width="1.6"/>
<line x1="301.2" y1="242.8" x2="313.3" y2="242.8" stroke="#3d7fa6" stroke-width="1.6"/>
<line x1="301.2" y1="248.5" x2="313.3" y2="248.5" stroke="#fbbd5a" stroke-width="1.6"/>
<line x1="301.2" y1="254.1" x2="313.3" y2="254.1" stroke="#4cba5a" stroke-width="1.6"/>
<line x1="301.2" y1="259.8" x2="313.3" y2="259.8" stroke="#f2a2c8" stroke-width="1.6"/>
<line x1="301.2" y1="265.5" x2="313.3" y2="265.5" stroke="#b0b0a0" stroke-width="1.6"/>
<line x1="364.5" y1="243.1" x2="364.5" y2="393.4" stroke="#e2e2e2" stroke-width="0.9" stroke-dasharray="1 1"/>
<line x1="379.4" y1="243.1" x2="379.4" y2="393.4" stroke="#d8d8d8" stroke-width="0.9" stroke-dasharray="1 1"/>
<line x1="394.2" y1="243.1" x2="394.2" y2="393.4" stroke="#e2e2e2" stroke-width="0.9" stroke-dasharray="1 1"/>
<line x1="409" y1="243.1" x2="409" y2="393.4" stroke="#d8d8d8" stroke-width="0.9" stroke-dasharray="1 1"/>
<line x1="423.9" y1="243.1" x2="423.9" y2="393.4" stroke="#e2e2e2" stroke-width="0.9" stroke-dasharray="1 1"/>
<line x1="438.7" y1="243.1" x2="438.7" y2="393.4" stroke="#d8d8d8" stroke-width="0.9" stroke-dasharray="1 1"/>
<line x1="453.5" y1="243.1" x2="453.5" y2="393.4" stroke="#e2e2e2" stroke-width="0.9" stroke-dasharray="1 1"/>
<line x1="468.4" y1="243.1" x2="468.4" y2="393.4" stroke="#d8d8d8" stroke-width="0.9" stroke-dasharray="1 1"/>
<line x1="483.2" y1="243.1" x2="483.2" y2="393.4" stroke="#e2e2e2" stroke-width="0.9" stroke-dasharray="1 1"/>
<line x1="498" y1="243.1" x2="498" y2="393.4" stroke="#d8d8d8" stroke-width="0.9" stroke-dasharray="1 1"/>
<line x1="512.9" y1="243.1" x2="512.9" y2="393.4" stroke="#e2e2e2" stroke-width="0.9" stroke-dasharray="1 1"/>
<line x1="527.7" y1="243.1" x2="527.7" y2="393.4" stroke="#d8d8d8" stroke-width="0.9" stroke-dasharray="1 1"/>
<line x1="542.5" y1="243.1" x2="542.5" y2="393.4" stroke="#e2e2e2" stroke-width="0.9" stroke-dasharray="1 1"/>
<line x1="557.4" y1="243.1" x2="557.4" y2="393.4" stroke="#d8d8d8" stroke-width="0.9" stroke-dasharray="1 1"/>
<line x1="572.2" y1="243.1" x2="572.2" y2="393.4" stroke="#e2e2e2" stroke-width="0.9" stroke-dasharray="1 1"/>
<line x1="587" y1="243.1" x2="587" y2="393.4" stroke="#d8d8d8" stroke-width="0.9" stroke-dasharray="1 1"/>
<line x1="601.9" y1="243.1" x2="601.9" y2="393.4" stroke="#e2e2e2" stroke-width="0.9" stroke-dasharray="1 1"/>
<line x1="349.7" y1="379.7" x2="616.7" y2="379.7" stroke="#dcdcdc" stroke-width="0.8" stroke-dasharray="1 1"/>
<line x1="349.7" y1="366.1" x2="616.7" y2="366.1" stroke="#ececec" stroke-width="0.8" stroke-dasharray="1 1"/>
<line x1="349.7" y1="352.4" x2="616.7" y2="352.4" stroke="#dcdcdc" stroke-width="0.8" stroke-dasharray="1 1"/>
<line x1="349.7" y1="338.7" x2="616.7" y2="338.7" stroke="#ececec" stroke-width="0.8" stroke-dasharray="1 1"/>
<line x1="349.7" y1="325.1" x2="616.7" y2="325.1" stroke="#dcdcdc" stroke-width="0.8" stroke-dasharray="1 1"/>
<line x1="349.7" y1="311.4" x2="616.7" y2="311.4" stroke="#ececec" stroke-width="0.8" stroke-dasharray="1 1"/>
<line x1="349.7" y1="297.8" x2="616.7" y2="297.8" stroke="#dcdcdc" stroke-width="0.8" stroke-dasharray="1 1"/>
<line x1="349.7" y1="284.1" x2="616.7" y2="284.1" stroke="#ececec" stroke-width="0.8" stroke-dasharray="1 1"/>
<line x1="349.7" y1="270.4" x2="616.7" y2="270.4" stroke="#dcdcdc" stroke-width="0.8" stroke-dasharray="1 1"/>
<line x1="349.7" y1="256.8" x2="616.7" y2="256.8" stroke="#ececec" stroke-width="0.8" stroke-dasharray="1 1"/>
<path d="M349.7 243.1 H616.7 V393.4" fill="none" stroke="#d4d4d4" stroke-width="1"/>
<path d="M349.7 297.8 L350.5 297.6 L351.7 297.5 L352.9 297.3 L353.7 297.2 L354.5 297.1 L355.3 297.1 L356.1 297 L356.9 296.9 L357.7 296.8 L358.5 296.6 L359.3 296.5 L360.1 296.3 L360.9 296.2 L361.7 296 L362.4 295.8 L363.2 295.5 L364 295.3 L364.8 295 L365.5 294.8 L366.3 294.5 L367 294.1 L367.7 293.8 L368.4 293.4 L369.1 293 L369.8 292.6 L370.5 292.1 L371.2 291.7 L371.8 291.2 L372.4 290.7 L373 290.1 L373.5 289.5 L374 288.9 L374.5 288.2 L374.9 287.6 L375.4 286.9 L375.8 286.2 L376.2 285.5 L376.7 284.8 L377.1 284.2 L377.6 283.5 L378.1 282.9 L378.6 282.2 L379.1 281.6 L379.6 281 L380.2 280.4 L380.8 279.9 L381.4 279.3 L382 278.8 L382.6 278.4 L383.3 277.9 L384 277.5 L385.1 277 L386.2 276.7 L387.4 276.6 L388.6 276.5 L389.4 276.6 L390.2 276.7 L391 276.7 L391.8 276.8 L392.6 276.9 L393.4 277 L394.2 277.1 L395 277.2 L395.8 277.3 L396.6 277.4 L397.4 277.5 L398.2 277.6 L399 277.7 L399.8 277.9 L400.6 278 L401.4 278.1 L402.2 278.2 L403 278.3 L403.8 278.5 L404.6 278.6 L405.4 278.7 L406.2 278.9 L407 279 L407.8 279.1 L408.6 279.2 L409.4 279.4 L410.2 279.5 L411 279.6 L411.8 279.7 L412.6 279.9 L413.4 280 L414.2 280.1 L415 280.2 L415.8 280.4 L416.6 280.5 L417.7 280.7 L418.9 280.9 L419.7 281 L420.2 281.1 L420.2 281.1 L420.3 281.9 L420.4 282.7 L420.6 283.9 L420.7 284.7 L420.9 285.5 L421 286.3 L421.1 287.1 L421.3 287.9 L421.4 288.7 L421.5 289.5 L421.7 290.3 L421.8 291.1 L422 291.9 L422.1 292.7 L422.2 293.5 L422.3 294.3 L422.5 295.1 L422.6 295.9 L422.8 296.7 L422.9 297.5 L423.1 298.3 L423.3 299.1 L423.5 299.9 L423.7 300.6 L424 301.4 L424.5 302.5 L425.2 303.4 L426.1 304.1 L427.2 304.7 L428.3 305 L429.1 305.2 L429.9 305.4 L430.7 305.5 L431.5 305.6 L432.3 305.7 L433.1 305.7 L433.9 305.8 L434.7 305.9 L435.5 305.9 L436.4 306 L437.2 306.1 L438 306.2 L438.8 306.2 L439.6 306.3 L440.4 306.4 L441.2 306.5 L442 306.6 L443.2 306.8 L444.4 306.9 L445.2 307 L445.2 307 L446.9 310.1 L447.3 338.7 L447.9 382.7 L447.9 382.7 L448 381.9 L448.1 380.7 L448.3 379.5 L448.4 378.4 L448.5 377.6 L448.6 376.8 L448.7 376 L448.7 375.2 L448.8 374.4 L448.9 373.6 L449 372.8 L449.1 372 L449.2 371.2 L449.3 370.4 L449.4 369.6 L449.5 368.8 L449.6 368 L449.7 367.2 L449.9 366.4 L450 365.6 L450.1 364.8 L450.2 364 L450.3 363.3 L450.5 362.5 L450.6 361.7 L450.8 360.9 L450.9 360.1 L451.1 359.3 L451.3 358.5 L451.4 357.7 L451.6 357 L451.8 356.2 L451.9 355.4 L452.1 354.6 L452.3 353.8 L452.5 353.1 L452.7 352.3 L452.9 351.5 L453.1 350.7 L453.3 350 L453.5 349.2 L453.7 348.4 L454 347.6 L454.2 346.9 L454.4 346.1 L454.7 345.3 L454.9 344.6 L455.2 343.8 L455.4 343.1 L455.7 342.3 L456 341.6 L456.3 340.8 L456.6 340.1 L456.9 339.3 L457.2 338.6 L457.5 337.8 L457.8 337.1 L458.1 336.4 L458.5 335.6 L458.8 334.9 L459.1 334.2 L459.5 333.5 L459.8 332.7 L460.2 332 L460.5 331.3 L460.9 330.6 L461.3 329.9 L461.7 329.2 L462.1 328.5 L462.5 327.8 L462.9 327.1 L463.4 326.5 L463.8 325.8 L464.3 325.2 L464.8 324.5 L465.3 323.9 L465.8 323.3 L466.3 322.7 L466.9 322.1 L467.5 321.5 L468 321 L468.6 320.4 L469.2 319.9 L469.8 319.3 L470.4 318.8 L471 318.3 L471.6 317.8 L472.2 317.2 L472.8 316.7 L473.5 316.3 L474.1 315.8 L474.8 315.3 L475.4 314.8 L476.1 314.4 L476.7 313.9 L477.4 313.5 L478.1 313.1 L478.8 312.7 L479.5 312.3 L480.2 311.9 L480.9 311.6 L481.6 311.2 L482.4 310.9 L483.1 310.6 L483.8 310.3 L484.6 310 L485.3 309.7 L486.1 309.4 L486.9 309.2 L487.6 308.9 L488.4 308.7 L489.2 308.5 L489.9 308.2 L490.7 308 L491.5 307.8 L492.2 307.6 L493 307.4 L493.8 307.2 L494.6 307 L495.4 306.9 L496.1 306.7 L496.9 306.5 L497.7 306.4 L498.5 306.2 L499.3 306 L500.1 305.9 L500.9 305.7 L501.6 305.5 L502.4 305.4 L503.2 305.2 L504 305.1 L504.8 304.9 L505.6 304.7 L506.4 304.6 L507.1 304.4 L507.9 304.3 L508.7 304.1 L509.5 304 L510.3 303.8 L511.1 303.7 L511.9 303.5 L512.7 303.4 L513.4 303.2 L514.2 303.1 L515 303 L515.8 302.8 L516.6 302.7 L517.4 302.6 L518.2 302.5 L519 302.4 L519.8 302.3 L520.6 302.2 L521.4 302.1 L522.2 302 L523 301.9 L523.8 301.9 L524.6 301.8 L525.4 301.7 L526.2 301.6 L527 301.6 L527.8 301.5 L528.6 301.4 L529.4 301.4 L530.2 301.3 L531 301.2 L531.8 301.2 L532.6 301.1 L533.4 301 L534.2 301 L535 300.9 L535.8 300.9 L536.6 300.8 L537.4 300.8 L538.2 300.7 L539 300.7 L539.8 300.6 L540.6 300.6 L541.4 300.5 L542.2 300.5 L543 300.5 L543.8 300.4 L544.6 300.4 L545.4 300.4 L546.2 300.3 L547 300.3 L547.8 300.3 L548.6 300.2 L549.4 300.2 L550.2 300.2 L551 300.1 L551.8 300.1 L552.6 300.1 L553.4 300 L554.2 300 L555 300 L555.8 299.9 L556.6 299.9 L557.4 299.9 L558.2 299.9 L559 299.8 L559.8 299.8 L560.6 299.8 L561.4 299.8 L562.2 299.7 L563 299.7 L563.8 299.7 L564.6 299.7 L565.4 299.7 L566.2 299.6 L567 299.6 L567.8 299.6 L568.6 299.6 L569.4 299.6 L570.2 299.6 L571 299.6 L571.8 299.5 L572.6 299.5 L573.4 299.5 L574.2 299.5 L575 299.5 L575.8 299.5 L576.6 299.5 L577.4 299.5 L578.2 299.4 L579 299.4 L579.8 299.4 L580.6 299.4 L581.4 299.4 L582.2 299.4 L583 299.4 L583.8 299.4 L584.6 299.4 L585.4 299.3 L586.2 299.3 L587 299.3 L587.8 299.3 L588.6 299.3 L589.4 299.3 L590.2 299.3 L591 299.3 L591.8 299.3 L592.6 299.3 L593.5 299.3 L594.3 299.2 L595.1 299.2 L595.9 299.2 L596.7 299.2 L597.5 299.2 L598.3 299.2 L599.1 299.2 L599.9 299.2 L600.7 299.2 L601.5 299.2 L602.3 299.2 L603.1 299.2 L603.9 299.2 L604.7 299.2 L605.5 299.2 L606.3 299.2 L607.1 299.1 L607.9 299.1 L608.7 299.1 L609.5 299.1 L610.3 299.1 L611.1 299.1 L611.9 299.1 L612.7 299.1 L613.9 299.1 L615.1 299.1 L616.3 299.1 L616.7 299.1" fill="none" stroke="#ee3535" stroke-width="1.4" stroke-linejoin="round" stroke-linecap="round"/>
<path d="M349.7 297.8 L350.6 297.8 L351.7 297.8 L352.9 297.7 L354.1 297.7 L354.9 297.7 L355.7 297.7 L356.5 297.7 L357.3 297.7 L358.1 297.7 L359 297.7 L359.8 297.7 L360.6 297.7 L361.4 297.7 L362.2 297.7 L363 297.6 L363.8 297.6 L364.6 297.6 L365.4 297.6 L366.2 297.6 L367 297.5 L367.8 297.5 L368.6 297.5 L369.4 297.4 L370.2 297.4 L371 297.3 L371.8 297.3 L372.6 297.2 L373.4 297.2 L374.2 297.1 L375 297 L375.8 297 L376.6 296.9 L377.4 296.8 L378.2 296.8 L379 296.7 L379.8 296.6 L380.6 296.5 L381.4 296.4 L382.2 296.3 L383 296.2 L383.8 296.1 L384.6 295.9 L385.4 295.8 L386.2 295.7 L387 295.5 L387.8 295.4 L388.6 295.2 L389.4 295.1 L390.2 295 L390.9 294.8 L391.7 294.7 L392.5 294.6 L393.3 294.5 L394.1 294.4 L394.9 294.3 L395.7 294.2 L396.5 294.1 L397.3 294 L398.1 293.9 L398.9 293.9 L399.7 293.8 L400.5 293.7 L401.3 293.7 L402.1 293.6 L402.9 293.5 L403.7 293.5 L404.5 293.4 L405.4 293.3 L406.2 293.3 L407 293.2 L407.8 293.2 L408.6 293.1 L409.4 293.1 L410.2 293 L411 293 L411.8 292.9 L412.6 292.9 L413.4 292.8 L414.2 292.8 L415 292.7 L415.8 292.7 L416.6 292.7 L417.4 292.6 L418.2 292.6 L419 292.6 L419.8 292.5 L420.6 292.5 L421.4 292.5 L422.2 292.4 L423 292.4 L423.8 292.4 L424.6 292.3 L425.4 292.3 L426.2 292.3 L427 292.3 L427.8 292.2 L428.7 292.2 L429.5 292.2 L430.3 292.2 L431.1 292.2 L431.9 292.1 L432.7 292.1 L433.5 292.1 L434.3 292.1 L435.1 292 L435.9 292 L436.7 292 L437.5 292 L438.3 291.9 L439.1 291.9 L439.9 291.9 L440.7 291.9 L441.5 291.9 L442.3 291.8 L443.1 291.8 L444.3 291.7 L445.4 291.6 L446.3 291.1 L446.8 290.3 L447.1 289.3 L447.3 288.1 L447.4 286.9 L447.5 285.7 L447.6 284.5 L447.6 284.1 L448 256.1 L448 256.1 L448.4 256.9 L448.9 257.9 L449.4 259 L449.9 260.1 L450.2 260.8 L450.6 261.6 L450.9 262.3 L451.3 263 L451.6 263.7 L452 264.4 L452.3 265.1 L452.7 265.9 L453.1 266.6 L453.5 267.3 L453.9 268 L454.3 268.7 L454.7 269.4 L455.1 270 L455.6 270.7 L456 271.4 L456.5 272 L456.9 272.7 L457.4 273.3 L457.9 274 L458.4 274.6 L458.9 275.2 L459.4 275.9 L459.9 276.5 L460.4 277.1 L460.9 277.7 L461.5 278.3 L462 278.9 L462.6 279.5 L463.2 280 L463.7 280.6 L464.3 281.1 L464.9 281.7 L465.5 282.2 L466.2 282.7 L466.8 283.2 L467.4 283.7 L468 284.2 L468.7 284.7 L469.3 285.2 L470 285.6 L470.6 286.1 L471.3 286.6 L472 287 L472.6 287.4 L473.3 287.9 L474 288.3 L474.7 288.7 L475.4 289.1 L476.1 289.5 L476.8 289.8 L477.5 290.2 L478.3 290.5 L479 290.8 L479.7 291.1 L480.5 291.4 L481.2 291.7 L482 292 L482.8 292.2 L483.5 292.5 L484.3 292.7 L485 293 L485.8 293.2 L486.6 293.5 L487.4 293.7 L488.1 293.9 L488.9 294.1 L489.7 294.3 L490.5 294.5 L491.3 294.7 L492 294.8 L492.8 295 L493.6 295.1 L494.4 295.3 L495.2 295.4 L496 295.6 L496.8 295.7 L497.6 295.9 L498.4 296 L499.1 296.1 L499.9 296.3 L500.7 296.4 L501.5 296.5 L502.3 296.6 L503.1 296.8 L503.9 296.9 L504.7 297 L505.5 297.1 L506.3 297.2 L507.1 297.3 L507.9 297.4 L508.7 297.4 L509.5 297.5 L510.3 297.6 L511.1 297.6 L511.9 297.7 L512.7 297.7 L513.5 297.8 L514.3 297.8 L515.1 297.9 L515.9 297.9 L516.7 297.9 L517.5 298 L518.3 298 L519.1 298 L519.9 298.1 L520.7 298.1 L521.5 298.1 L522.3 298.1 L523.1 298.2 L523.9 298.2 L524.7 298.2 L525.5 298.3 L526.3 298.3 L527.1 298.3 L527.9 298.3 L528.7 298.3 L529.6 298.4 L530.4 298.4 L531.2 298.4 L532 298.4 L532.8 298.4 L533.6 298.5 L534.4 298.5 L535.2 298.5 L536 298.5 L536.8 298.5 L537.6 298.5 L538.4 298.5 L539.2 298.5 L540 298.5 L540.8 298.6 L541.6 298.6 L542.4 298.6 L543.2 298.6 L544 298.6 L544.8 298.6 L545.6 298.6 L546.4 298.6 L547.2 298.6 L548 298.6 L548.8 298.6 L549.6 298.6 L550.4 298.6 L551.2 298.6 L552 298.6 L552.8 298.6 L553.6 298.6 L554.5 298.7 L555.3 298.7 L556.1 298.7 L556.9 298.7 L557.7 298.7 L558.5 298.7 L559.3 298.7 L560.1 298.7 L560.9 298.7 L561.7 298.7 L562.5 298.7 L563.3 298.7 L564.1 298.7 L564.9 298.7 L565.7 298.7 L566.5 298.7 L567.3 298.7 L568.1 298.7 L568.9 298.7 L569.7 298.7 L570.5 298.7 L571.3 298.7 L572.1 298.7 L572.9 298.8 L573.7 298.8 L574.5 298.8 L575.3 298.8 L576.1 298.8 L576.9 298.8 L577.7 298.8 L578.5 298.8 L579.4 298.8 L580.2 298.8 L581 298.8 L581.8 298.8 L582.6 298.8 L583.4 298.8 L584.2 298.8 L585 298.8 L585.8 298.8 L586.6 298.8 L587.4 298.8 L588.2 298.8 L589 298.8 L589.8 298.8 L590.6 298.8 L591.4 298.8 L592.2 298.8 L593 298.8 L593.8 298.8 L594.6 298.8 L595.4 298.8 L596.2 298.8 L597 298.8 L597.8 298.8 L598.6 298.8 L599.4 298.8 L600.2 298.8 L601 298.8 L601.8 298.8 L602.6 298.8 L603.4 298.8 L604.3 298.8 L605.1 298.8 L605.9 298.8 L606.7 298.8 L607.5 298.8 L608.3 298.8 L609.1 298.8 L609.9 298.8 L610.7 298.8 L611.5 298.8 L612.3 298.8 L613.1 298.8 L614.3 298.8 L615.4 298.8 L616.3 298.8 L616.7 298.8" fill="none" stroke="#2d7ba6" stroke-width="1.4" stroke-linejoin="round" stroke-linecap="round"/>
<path d="M349.7 297.8 L350.6 297.8 L351.7 297.8 L352.9 297.7 L354.1 297.7 L354.9 297.7 L355.7 297.7 L356.5 297.7 L357.3 297.7 L358.1 297.7 L359 297.7 L359.8 297.7 L360.6 297.7 L361.4 297.7 L362.2 297.7 L363 297.6 L363.8 297.6 L364.6 297.6 L365.4 297.6 L366.2 297.6 L367 297.5 L367.8 297.5 L368.6 297.5 L369.4 297.4 L370.2 297.4 L371 297.3 L371.8 297.3 L372.6 297.2 L373.4 297.2 L374.2 297.1 L375 297 L375.8 297 L376.6 296.9 L377.4 296.8 L378.2 296.8 L379 296.7 L379.8 296.6 L380.6 296.5 L381.4 296.4 L382.2 296.3 L383 296.2 L383.8 296.1 L384.6 295.9 L385.4 295.8 L386.2 295.7 L387 295.5 L387.8 295.4 L388.6 295.2 L389.4 295.1 L390.2 295 L390.9 294.8 L391.7 294.7 L392.5 294.6 L393.3 294.5 L394.1 294.4 L394.9 294.3 L395.7 294.2 L396.5 294.1 L397.3 294 L398.1 293.9 L398.9 293.9 L399.7 293.8 L400.5 293.7 L401.3 293.7 L402.1 293.6 L402.9 293.5 L403.7 293.5 L404.5 293.4 L405.4 293.3 L406.2 293.3 L407 293.2 L407.8 293.2 L408.6 293.1 L409.4 293.1 L410.2 293 L411 293 L411.8 292.9 L412.6 292.9 L413.4 292.8 L414.2 292.8 L415 292.7 L415.8 292.7 L416.6 292.7 L417.4 292.6 L418.2 292.6 L419 292.6 L419.8 292.5 L420.6 292.5 L421.4 292.5 L422.2 292.4 L423 292.4 L423.8 292.4 L424.6 292.3 L425.4 292.3 L426.2 292.3 L427 292.3 L427.8 292.2 L428.7 292.2 L429.5 292.2 L430.3 292.2 L431.1 292.2 L431.9 292.1 L432.7 292.1 L433.5 292.1 L434.3 292.1 L435.1 292 L435.9 292 L436.7 292 L437.5 292 L438.3 291.9 L439.1 291.9 L439.9 291.9 L440.7 291.9 L441.5 291.9 L442.3 291.8 L443.1 291.8 L444.3 291.7 L445.4 291.6 L446.3 291.1 L446.8 290.3 L447.1 289.3 L447.3 288.1 L447.4 286.9 L447.5 285.7 L447.6 284.5 L447.6 284.1 L448 256.1 L448 256.1 L448.4 256.9 L448.9 257.9 L449.4 259 L449.9 260.1 L450.2 260.8 L450.6 261.6 L450.9 262.3 L451.3 263 L451.6 263.7 L452 264.4 L452.3 265.1 L452.7 265.9 L453.1 266.6 L453.5 267.3 L453.9 268 L454.3 268.7 L454.7 269.3 L455.1 270 L455.6 270.7 L456 271.4 L456.5 272 L456.9 272.7 L457.4 273.3 L457.9 274 L458.4 274.6 L458.9 275.2 L459.4 275.9 L459.9 276.5 L460.4 277.1 L460.9 277.7 L461.5 278.3 L462 278.9 L462.6 279.4 L463.2 280 L463.7 280.6 L464.3 281.1 L464.9 281.6 L465.5 282.2 L466.1 282.7 L466.8 283.2 L467.4 283.7 L468 284.2 L468.7 284.7 L469.3 285.2 L469.9 285.6 L470.6 286.1 L471.2 286.6 L471.9 287 L472.6 287.5 L473.3 287.9 L473.9 288.3 L474.6 288.7 L475.3 289.1 L476 289.5 L476.8 289.8 L477.5 290.2 L478.2 290.5 L479 290.8 L479.7 291.1 L480.5 291.4 L481.2 291.6 L482 291.9 L482.8 292.1 L483.5 292.3 L484.3 292.6 L485.1 292.8 L485.8 293 L486.6 293.2 L487.4 293.4 L488.2 293.6 L489 293.7 L489.7 293.9 L490.5 294.1 L491.3 294.2 L492.1 294.4 L492.9 294.5 L493.7 294.6 L494.5 294.8 L495.3 294.9 L496.1 295 L496.9 295.1 L497.7 295.3 L498.4 295.4 L499.2 295.5 L500 295.6 L500.8 295.7 L501.6 295.8 L502.4 295.9 L503.2 296 L504 296.2 L504.8 296.3 L505.6 296.4 L506.4 296.4 L507.2 296.5 L508 296.6 L508.8 296.7 L509.6 296.8 L510.4 296.9 L511.2 297 L512 297 L512.8 297.1 L513.6 297.2 L514.4 297.2 L515.2 297.3 L516 297.3 L516.8 297.4 L517.6 297.4 L518.4 297.5 L519.2 297.5 L520 297.5 L520.8 297.6 L521.6 297.6 L522.4 297.6 L523.2 297.7 L524 297.7 L524.8 297.7 L525.6 297.7 L526.4 297.8 L527.2 297.8 L528 297.8 L528.8 297.8 L529.6 297.8 L530.4 297.9 L531.2 297.9 L532 297.9 L532.8 297.9 L533.6 297.9 L534.4 297.9 L535.2 298 L536 298 L536.8 298 L537.6 298 L538.4 298 L539.3 298 L540.1 298 L540.9 298 L541.7 298 L542.5 298 L543.3 298 L544.1 298 L544.9 298 L545.7 298 L546.5 298 L547.3 298 L548.1 298 L548.9 298.1 L549.7 298.1 L550.5 298.1 L551.3 298.1 L552.1 298.1 L552.9 298.1 L553.7 298.1 L554.5 298.1 L555.3 298.1 L556.1 298.1 L556.9 298.1 L557.7 298.1 L558.5 298.1 L559.3 298.1 L560.1 298.1 L560.9 298.1 L561.7 298.1 L562.5 298.1 L563.3 298.1 L564.1 298.1 L564.9 298.1 L565.7 298.1 L566.5 298.1 L567.3 298.1 L568.1 298.1 L568.9 298.1 L569.7 298.1 L570.6 298.1 L571.4 298.1 L572.2 298.1 L573 298.1 L573.8 298.1 L574.6 298.1 L575.4 298.1 L576.2 298.1 L577 298.1 L577.8 298.1 L578.6 298.1 L579.4 298.1 L580.2 298.1 L581 298.1 L581.8 298.1 L582.6 298.1 L583.4 298.1 L584.2 298.1 L585 298.1 L585.8 298.1 L586.6 298.1 L587.4 298.1 L588.2 298.1 L589 298.1 L589.8 298.1 L590.6 298.1 L591.4 298.2 L592.2 298.2 L593 298.2 L593.8 298.2 L594.6 298.2 L595.4 298.2 L596.2 298.2 L597 298.2 L597.8 298.2 L598.6 298.2 L599.4 298.2 L600.2 298.2 L601 298.2 L601.9 298.2 L602.7 298.2 L603.5 298.2 L604.3 298.2 L605.1 298.2 L605.9 298.2 L606.7 298.2 L607.5 298.2 L608.3 298.2 L609.1 298.2 L609.9 298.2 L610.7 298.2 L611.5 298.2 L612.3 298.2 L613.1 298.2 L614.3 298.2 L615.4 298.2 L616.3 298.2 L616.7 298.2" fill="none" stroke="#eeae32" stroke-width="1.4" stroke-linejoin="round" stroke-linecap="round"/>
<path d="M349.7 297.8 L350.6 297.8 L351.7 297.8 L352.9 297.8 L354.1 297.8 L354.9 297.7 L355.7 297.7 L356.5 297.7 L357.3 297.7 L358.1 297.7 L358.9 297.7 L359.7 297.7 L360.5 297.7 L361.3 297.7 L362.1 297.7 L362.9 297.7 L363.7 297.7 L364.5 297.7 L365.3 297.7 L366.1 297.7 L366.9 297.7 L367.7 297.7 L368.5 297.7 L369.4 297.7 L370.2 297.7 L371 297.7 L371.8 297.7 L372.6 297.7 L373.4 297.7 L374.2 297.7 L375 297.7 L375.8 297.7 L376.6 297.6 L377.4 297.6 L378.2 297.6 L379 297.6 L379.8 297.6 L380.6 297.6 L381.4 297.6 L382.2 297.6 L383 297.6 L383.8 297.6 L384.6 297.6 L385.4 297.6 L386.2 297.6 L387 297.6 L387.8 297.6 L388.6 297.5 L389.4 297.5 L390.2 297.5 L391 297.5 L391.8 297.5 L392.6 297.5 L393.4 297.5 L394.2 297.5 L395 297.5 L395.8 297.5 L396.6 297.5 L397.4 297.5 L398.2 297.5 L399 297.4 L399.8 297.4 L400.6 297.4 L401.4 297.4 L402.2 297.4 L403 297.4 L403.8 297.4 L404.6 297.4 L405.4 297.4 L406.2 297.4 L407 297.4 L407.9 297.4 L408.7 297.3 L409.5 297.3 L410.3 297.3 L411.1 297.3 L411.9 297.3 L412.7 297.3 L413.5 297.3 L414.3 297.3 L415.1 297.3 L415.9 297.3 L416.7 297.3 L417.5 297.2 L418.3 297.2 L419.1 297.2 L419.9 297.2 L420.7 297.2 L421.5 297.2 L422.3 297.2 L423.1 297.2 L423.9 297.2 L424.7 297.1 L425.5 297.1 L426.3 297.1 L427.1 297.1 L427.9 297.1 L428.7 297.1 L429.5 297 L430.3 297 L431.1 297 L431.9 297 L432.7 297 L433.5 297 L434.3 296.9 L435.1 296.9 L435.9 296.9 L436.7 296.9 L437.5 296.8 L438.3 296.8 L439.1 296.8 L439.9 296.7 L440.7 296.7 L441.5 296.7 L442.3 296.6 L443.1 296.5 L443.9 296.5 L444.7 296.4 L445.5 296.3 L446.3 296.2 L447.1 296.1 L447.9 296 L448.7 295.9 L449.5 295.7 L450.3 295.5 L451 295.3 L451.8 295.1 L452.6 294.8 L453.3 294.6 L454.1 294.4 L454.9 294.2 L455.7 294 L456.4 293.8 L457.2 293.7 L458 293.6 L458.8 293.5 L459.6 293.3 L460.4 293.2 L461.2 293.1 L462 293 L462.8 293 L463.6 292.9 L464.4 292.8 L465.2 292.7 L466 292.7 L466.8 292.6 L467.6 292.6 L468.4 292.6 L469.2 292.5 L470 292.5 L470.8 292.5 L471.6 292.5 L472.4 292.5 L473.2 292.5 L474 292.5 L474.8 292.4 L475.6 292.4 L476.4 292.4 L477.2 292.4 L478 292.4 L478.8 292.4 L479.6 292.4 L480.4 292.4 L481.2 292.4 L482 292.4 L482.8 292.3 L483.6 292.3 L484.4 292.3 L485.2 292.3 L486 292.3 L486.8 292.3 L487.6 292.3 L488.4 292.3 L489.2 292.3 L490 292.3 L490.8 292.3 L491.7 292.3 L492.5 292.3 L493.3 292.3 L494.1 292.3 L494.9 292.3 L495.7 292.3 L496.5 292.3 L497.3 292.3 L498.1 292.3 L498.9 292.3 L499.7 292.4 L500.5 292.4 L501.3 292.4 L502.1 292.4 L502.9 292.5 L503.7 292.5 L504.5 292.5 L505.3 292.6 L506.1 292.6 L506.9 292.6 L507.7 292.7 L508.5 292.7 L509.3 292.7 L510.1 292.8 L510.9 292.8 L511.7 292.9 L512.5 292.9 L513.3 292.9 L514.1 293 L514.9 293 L515.7 293.1 L516.5 293.1 L517.3 293.2 L518.1 293.2 L518.9 293.3 L519.7 293.3 L520.5 293.3 L521.3 293.4 L522.1 293.4 L522.9 293.5 L523.7 293.5 L524.5 293.5 L525.3 293.6 L526.1 293.6 L526.9 293.6 L527.7 293.7 L528.5 293.7 L529.3 293.7 L530.1 293.7 L530.9 293.8 L531.7 293.8 L532.5 293.8 L533.3 293.8 L534.1 293.9 L534.9 293.9 L535.7 293.9 L536.5 294 L537.3 294 L538.1 294 L538.9 294 L539.7 294.1 L540.5 294.1 L541.3 294.1 L542.1 294.1 L542.9 294.1 L543.7 294.2 L544.5 294.2 L545.4 294.2 L546.2 294.2 L547 294.3 L547.8 294.3 L548.6 294.3 L549.4 294.3 L550.2 294.4 L551 294.4 L551.8 294.4 L552.6 294.4 L553.4 294.5 L554.2 294.5 L555 294.5 L555.8 294.5 L556.6 294.5 L557.4 294.6 L558.2 294.6 L559 294.6 L559.8 294.6 L560.6 294.7 L561.4 294.7 L562.2 294.7 L563 294.7 L563.8 294.8 L564.6 294.8 L565.4 294.8 L566.2 294.8 L567 294.9 L567.8 294.9 L568.6 294.9 L569.4 294.9 L570.2 295 L571 295 L571.8 295 L572.6 295 L573.4 295.1 L574.2 295.1 L575 295.1 L575.8 295.1 L576.6 295.2 L577.4 295.2 L578.2 295.2 L579 295.2 L579.8 295.3 L580.6 295.3 L581.4 295.3 L582.2 295.3 L583 295.4 L583.8 295.4 L584.6 295.4 L585.4 295.5 L586.2 295.5 L587 295.5 L587.8 295.5 L588.6 295.6 L589.4 295.6 L590.2 295.6 L591 295.6 L591.8 295.7 L592.7 295.7 L593.5 295.7 L594.3 295.7 L595.1 295.8 L595.9 295.8 L596.7 295.8 L597.5 295.9 L598.3 295.9 L599.1 295.9 L599.9 295.9 L600.7 296 L601.5 296 L602.3 296 L603.1 296 L603.9 296.1 L604.7 296.1 L605.5 296.1 L606.3 296.2 L607.1 296.2 L607.9 296.2 L608.7 296.2 L609.5 296.3 L610.3 296.3 L611.1 296.3 L611.9 296.4 L612.7 296.4 L613.9 296.4 L615.1 296.5 L616.3 296.5 L616.7 296.5" fill="none" stroke="#3cb64c" stroke-width="1.4" stroke-linejoin="round" stroke-linecap="round"/>
<path d="M349.7 297.8 L350.6 297.8 L351.7 297.8 L352.9 297.8 L354.1 297.8 L354.9 297.8 L355.7 297.8 L356.5 297.7 L357.3 297.7 L358.1 297.7 L358.9 297.7 L359.7 297.7 L360.5 297.7 L361.3 297.7 L362.1 297.7 L362.9 297.7 L363.7 297.7 L364.5 297.7 L365.3 297.7 L366.1 297.7 L367 297.7 L367.8 297.7 L368.6 297.7 L369.4 297.7 L370.2 297.7 L371 297.7 L371.8 297.7 L372.6 297.7 L373.4 297.7 L374.2 297.7 L375 297.7 L375.8 297.7 L376.6 297.7 L377.4 297.7 L378.2 297.7 L379 297.7 L379.8 297.7 L380.6 297.7 L381.4 297.7 L382.2 297.7 L383 297.7 L383.8 297.6 L384.6 297.6 L385.4 297.6 L386.2 297.6 L387 297.6 L387.8 297.6 L388.6 297.6 L389.4 297.6 L390.2 297.6 L391 297.6 L391.8 297.6 L392.6 297.6 L393.4 297.6 L394.2 297.6 L395 297.6 L395.8 297.6 L396.6 297.6 L397.4 297.6 L398.2 297.6 L399 297.6 L399.8 297.5 L400.7 297.5 L401.5 297.5 L402.3 297.5 L403.1 297.5 L403.9 297.5 L404.7 297.5 L405.5 297.5 L406.3 297.5 L407.1 297.5 L407.9 297.5 L408.7 297.5 L409.5 297.5 L410.3 297.5 L411.1 297.5 L411.9 297.5 L412.7 297.5 L413.5 297.4 L414.3 297.4 L415.1 297.4 L415.9 297.4 L416.7 297.4 L417.5 297.4 L418.3 297.4 L419.1 297.4 L419.9 297.4 L420.7 297.4 L421.5 297.4 L422.3 297.4 L423.1 297.3 L423.9 297.3 L424.7 297.3 L425.5 297.3 L426.3 297.3 L427.1 297.3 L427.9 297.3 L428.7 297.3 L429.5 297.3 L430.3 297.2 L431.1 297.2 L431.9 297.2 L432.7 297.2 L433.5 297.2 L434.4 297.2 L435.2 297.1 L436 297.1 L436.8 297.1 L437.6 297.1 L438.4 297.1 L439.2 297.1 L440 297 L440.8 297 L441.6 297 L442.4 296.9 L443.2 296.9 L444 296.9 L444.8 296.8 L445.6 296.8 L446.4 296.7 L447.2 296.7 L448 296.6 L448.8 296.5 L449.6 296.4 L450.4 296.2 L451.1 296.1 L451.9 295.9 L452.7 295.8 L453.5 295.6 L454.3 295.5 L455.1 295.4 L455.9 295.3 L456.7 295.2 L457.5 295.1 L458.3 295 L459.1 295 L459.9 294.9 L460.7 294.9 L461.5 294.9 L462.3 294.8 L463.1 294.8 L463.9 294.7 L464.7 294.7 L465.5 294.6 L466.3 294.6 L467.1 294.6 L467.9 294.5 L468.7 294.5 L469.5 294.5 L470.3 294.4 L471.1 294.4 L471.9 294.4 L472.7 294.4 L473.5 294.3 L474.3 294.3 L475.1 294.3 L475.9 294.3 L476.7 294.3 L477.5 294.3 L478.3 294.2 L479.1 294.2 L479.9 294.2 L480.7 294.2 L481.5 294.2 L482.3 294.2 L483.1 294.2 L483.9 294.2 L484.7 294.2 L485.5 294.2 L486.3 294.2 L487.1 294.2 L487.9 294.2 L488.7 294.2 L489.5 294.2 L490.4 294.2 L491.2 294.2 L492 294.2 L492.8 294.2 L493.6 294.2 L494.4 294.2 L495.2 294.2 L496 294.2 L496.8 294.2 L497.6 294.2 L498.4 294.2 L499.2 294.2 L500 294.2 L500.8 294.2 L501.6 294.2 L502.4 294.2 L503.2 294.2 L504 294.2 L504.8 294.2 L505.6 294.2 L506.4 294.2 L507.2 294.2 L508 294.2 L508.8 294.3 L509.6 294.3 L510.4 294.3 L511.2 294.3 L512 294.3 L512.8 294.3 L513.6 294.3 L514.4 294.3 L515.2 294.3 L516 294.3 L516.8 294.3 L517.6 294.3 L518.4 294.3 L519.2 294.3 L520 294.3 L520.8 294.3 L521.6 294.3 L522.4 294.3 L523.2 294.3 L524.1 294.3 L524.9 294.3 L525.7 294.3 L526.5 294.3 L527.3 294.3 L528.1 294.3 L528.9 294.3 L529.7 294.4 L530.5 294.4 L531.3 294.4 L532.1 294.4 L532.9 294.4 L533.7 294.4 L534.5 294.4 L535.3 294.4 L536.1 294.4 L536.9 294.4 L537.7 294.5 L538.5 294.5 L539.3 294.5 L540.1 294.5 L540.9 294.5 L541.7 294.5 L542.5 294.5 L543.3 294.6 L544.1 294.6 L544.9 294.6 L545.7 294.6 L546.5 294.6 L547.3 294.6 L548.1 294.7 L548.9 294.7 L549.7 294.7 L550.5 294.7 L551.3 294.7 L552.1 294.8 L552.9 294.8 L553.7 294.8 L554.5 294.8 L555.3 294.9 L556.1 294.9 L556.9 294.9 L557.7 294.9 L558.5 294.9 L559.3 295 L560.2 295 L561 295 L561.8 295 L562.6 295 L563.4 295.1 L564.2 295.1 L565 295.1 L565.8 295.1 L566.6 295.2 L567.4 295.2 L568.2 295.2 L569 295.2 L569.8 295.2 L570.6 295.3 L571.4 295.3 L572.2 295.3 L573 295.3 L573.8 295.3 L574.6 295.4 L575.4 295.4 L576.2 295.4 L577 295.4 L577.8 295.4 L578.6 295.5 L579.4 295.5 L580.2 295.5 L581 295.5 L581.8 295.5 L582.6 295.6 L583.4 295.6 L584.2 295.6 L585 295.6 L585.8 295.6 L586.6 295.7 L587.4 295.7 L588.2 295.7 L589 295.7 L589.8 295.7 L590.6 295.8 L591.4 295.8 L592.2 295.8 L593 295.8 L593.8 295.9 L594.6 295.9 L595.4 295.9 L596.2 295.9 L597 295.9 L597.9 296 L598.7 296 L599.5 296 L600.3 296 L601.1 296.1 L601.9 296.1 L602.7 296.1 L603.5 296.1 L604.3 296.2 L605.1 296.2 L605.9 296.2 L606.7 296.2 L607.5 296.2 L608.3 296.3 L609.1 296.3 L609.9 296.3 L610.7 296.3 L611.5 296.4 L612.3 296.4 L613.5 296.4 L614.7 296.5 L615.8 296.5 L616.7 296.5" fill="none" stroke="#f39cc6" stroke-width="1.4" stroke-linejoin="round" stroke-linecap="round"/>
<path d="M349.7 297.8 L350.6 297.8 L351.7 297.8 L352.9 297.8 L354.1 297.8 L354.9 297.8 L355.7 297.8 L356.5 297.7 L357.3 297.7 L358.1 297.7 L358.9 297.7 L359.7 297.7 L360.5 297.7 L361.3 297.7 L362.1 297.7 L362.9 297.7 L363.7 297.7 L364.5 297.7 L365.3 297.7 L366.1 297.7 L366.9 297.7 L367.7 297.7 L368.5 297.7 L369.3 297.7 L370.1 297.7 L370.9 297.7 L371.8 297.7 L372.6 297.7 L373.4 297.7 L374.2 297.7 L375 297.7 L375.8 297.7 L376.6 297.7 L377.4 297.7 L378.2 297.7 L379 297.7 L379.8 297.7 L380.6 297.7 L381.4 297.7 L382.2 297.7 L383 297.7 L383.8 297.6 L384.6 297.6 L385.4 297.6 L386.2 297.6 L387 297.6 L387.8 297.6 L388.6 297.6 L389.4 297.6 L390.2 297.6 L391 297.6 L391.8 297.6 L392.6 297.6 L393.4 297.6 L394.2 297.6 L395 297.6 L395.8 297.6 L396.6 297.6 L397.4 297.6 L398.2 297.6 L399 297.5 L399.8 297.5 L400.6 297.5 L401.4 297.5 L402.2 297.5 L403 297.5 L403.8 297.5 L404.6 297.5 L405.4 297.5 L406.2 297.5 L407 297.5 L407.8 297.5 L408.6 297.5 L409.4 297.5 L410.2 297.5 L411 297.5 L411.8 297.4 L412.6 297.4 L413.4 297.4 L414.2 297.4 L415 297.4 L415.8 297.4 L416.7 297.4 L417.5 297.4 L418.3 297.4 L419.1 297.4 L419.9 297.4 L420.7 297.4 L421.5 297.4 L422.3 297.4 L423.1 297.4 L423.9 297.3 L424.7 297.3 L425.5 297.3 L426.3 297.3 L427.1 297.3 L427.9 297.3 L428.7 297.3 L429.5 297.3 L430.3 297.3 L431.1 297.3 L431.9 297.3 L432.7 297.2 L433.5 297.2 L434.3 297.2 L435.1 297.2 L435.9 297.2 L436.7 297.2 L437.5 297.2 L438.3 297.2 L439.1 297.1 L439.9 297.1 L440.7 297.1 L441.5 297.1 L442.3 297.1 L443.1 297.1 L443.9 297.1 L444.7 297 L445.5 297 L446.3 297 L447.1 297 L447.9 297 L448.7 297 L449.5 297 L450.3 296.9 L451.1 296.9 L451.9 296.9 L452.7 296.9 L453.5 296.9 L454.3 296.9 L455.1 296.9 L455.9 296.8 L456.7 296.8 L457.5 296.8 L458.3 296.8 L459.1 296.8 L459.9 296.8 L460.7 296.8 L461.5 296.8 L462.4 296.7 L463.2 296.7 L464 296.7 L464.8 296.7 L465.6 296.7 L466.4 296.7 L467.2 296.7 L468 296.7 L468.8 296.7 L469.6 296.6 L470.4 296.6 L471.2 296.6 L472 296.6 L472.8 296.6 L473.6 296.6 L474.4 296.6 L475.2 296.6 L476 296.6 L476.8 296.6 L477.6 296.5 L478.4 296.5 L479.2 296.5 L480 296.5 L480.8 296.5 L481.6 296.5 L482.4 296.5 L483.2 296.5 L484 296.5 L484.8 296.5 L485.6 296.4 L486.4 296.4 L487.2 296.4 L488 296.4 L488.8 296.4 L489.6 296.4 L490.4 296.4 L491.2 296.4 L492 296.4 L492.8 296.4 L493.6 296.4 L494.4 296.3 L495.2 296.3 L496 296.3 L496.8 296.3 L497.6 296.3 L498.4 296.3 L499.2 296.3 L500 296.3 L500.8 296.3 L501.6 296.3 L502.4 296.3 L503.2 296.2 L504 296.2 L504.8 296.2 L505.6 296.2 L506.4 296.2 L507.3 296.2 L508.1 296.2 L508.9 296.2 L509.7 296.2 L510.5 296.2 L511.3 296.2 L512.1 296.2 L512.9 296.2 L513.7 296.2 L514.5 296.2 L515.3 296.2 L516.1 296.1 L516.9 296.1 L517.7 296.1 L518.5 296.1 L519.3 296.1 L520.1 296.1 L520.9 296.1 L521.7 296.1 L522.5 296.1 L523.3 296.1 L524.1 296.1 L524.9 296.1 L525.7 296.1 L526.5 296.1 L527.3 296.1 L528.1 296.1 L528.9 296.1 L529.7 296.1 L530.5 296.1 L531.3 296.1 L532.1 296.1 L532.9 296.1 L533.7 296.1 L534.5 296.1 L535.3 296.1 L536.1 296.1 L536.9 296.1 L537.7 296.1 L538.5 296.1 L539.3 296.1 L540.1 296.1 L540.9 296.1 L541.7 296.1 L542.5 296.1 L543.3 296.1 L544.1 296.1 L544.9 296.1 L545.7 296.1 L546.5 296.1 L547.3 296.1 L548.1 296.1 L548.9 296.1 L549.7 296.1 L550.5 296.1 L551.4 296.1 L552.2 296.1 L553 296.1 L553.8 296.1 L554.6 296.1 L555.4 296.1 L556.2 296.1 L557 296.1 L557.8 296.1 L558.6 296.1 L559.4 296.1 L560.2 296.1 L561 296.1 L561.8 296.1 L562.6 296.1 L563.4 296.1 L564.2 296.1 L565 296.1 L565.8 296.1 L566.6 296.1 L567.4 296.1 L568.2 296.1 L569 296.1 L569.8 296.1 L570.6 296.1 L571.4 296.1 L572.2 296.1 L573 296.1 L573.8 296.1 L574.6 296.1 L575.4 296.1 L576.2 296.1 L577 296.1 L577.8 296.1 L578.6 296.1 L579.4 296.1 L580.2 296.1 L581 296.1 L581.8 296.1 L582.6 296.1 L583.4 296.1 L584.2 296.1 L585 296.1 L585.8 296.1 L586.6 296.1 L587.4 296.1 L588.2 296.1 L589 296.1 L589.8 296.1 L590.6 296.1 L591.4 296.1 L592.2 296.1 L593 296.1 L593.8 296.1 L594.6 296.1 L595.5 296.1 L596.3 296.1 L597.1 296.1 L597.9 296.1 L598.7 296.1 L599.5 296.1 L600.3 296.1 L601.1 296.1 L601.9 296.1 L602.7 296.1 L603.5 296.1 L604.3 296.1 L605.1 296.1 L605.9 296.1 L606.7 296.1 L607.5 296.1 L608.3 296.1 L609.1 296.1 L609.9 296.1 L610.7 296.1 L611.5 296.1 L612.3 296.1 L613.5 296.1 L614.7 296.1 L615.8 296.1 L616.7 296.1" fill="none" stroke="#b0b0a0" stroke-width="1.4" stroke-linejoin="round" stroke-linecap="round"/>
<path d="M349.7 243.1 V393.4 H616.7" fill="none" stroke="#3a3a3a" stroke-width="1.3"/>
<path d="M346.7 393.4H349.7M344.2 379.7H349.7M346.7 366.1H349.7M344.2 352.4H349.7M346.7 338.7H349.7M344.2 325.1H349.7M346.7 311.4H349.7M344.2 297.8H349.7M346.7 284.1H349.7M344.2 270.4H349.7M346.7 256.8H349.7M344.2 243.1H349.7M349.7 393.4V396.7M364.5 393.4V395.4M379.4 393.4V396.7M394.2 393.4V395.4M409 393.4V396.7M423.9 393.4V395.4M438.7 393.4V396.7M453.5 393.4V395.4M468.4 393.4V396.7M483.2 393.4V395.4M498 393.4V396.7M512.9 393.4V395.4M527.7 393.4V396.7M542.5 393.4V395.4M557.4 393.4V396.7M572.2 393.4V395.4M587 393.4V396.7M601.9 393.4V395.4M616.7 393.4V396.7" stroke="#3a3a3a" stroke-width="1.1"/>
<g font-family="Liberation Sans, sans-serif" font-weight="bold" font-size="7.4" fill="#1c1c24"><text x="342.6" y="380.3" text-anchor="end" dominant-baseline="central">-600</text><text x="342.6" y="353" text-anchor="end" dominant-baseline="central">-400</text><text x="342.6" y="325.7" text-anchor="end" dominant-baseline="central">-200</text><text x="342.6" y="298.4" text-anchor="end" dominant-baseline="central">0</text><text x="342.6" y="271" text-anchor="end" dominant-baseline="central">200</text><text x="342.6" y="243.7" text-anchor="end" dominant-baseline="central">400</text><text x="349.7" y="402.7" text-anchor="middle" dominant-baseline="central">0.0</text><text x="379.4" y="402.7" text-anchor="middle" dominant-baseline="central">0.2</text><text x="409" y="402.7" text-anchor="middle" dominant-baseline="central">0.4</text><text x="438.7" y="402.7" text-anchor="middle" dominant-baseline="central">0.6</text><text x="468.4" y="402.7" text-anchor="middle" dominant-baseline="central">0.8</text><text x="498" y="402.7" text-anchor="middle" dominant-baseline="central">1.0</text><text x="527.7" y="402.7" text-anchor="middle" dominant-baseline="central">1.2</text><text x="557.4" y="402.7" text-anchor="middle" dominant-baseline="central">1.4</text><text x="587" y="402.7" text-anchor="middle" dominant-baseline="central">1.6</text><text x="616.7" y="402.7" text-anchor="middle" dominant-baseline="central">1.8</text></g>
<text x="343.9" y="232" font-family="Liberation Sans, sans-serif" font-weight="bold" font-size="7.4" fill="#1c1c24" text-anchor="middle" dominant-baseline="central">[W]</text>
<text x="618.5" y="389.3" font-family="Liberation Sans, sans-serif" font-weight="bold" font-size="7.4" fill="#1c1c24" dominant-baseline="central">x10<tspan font-size="5.2" dx="1.2" dy="-2.5">3</tspan></text>
<text x="482" y="410" font-family="Liberation Mono, monospace" font-size="6.5" fill="#333" text-anchor="middle" dominant-baseline="central">X Time [s]</text>
<rect x="527.3" y="326.8" width="87.9" height="64.8" fill="#fff" stroke="#2a2a2a" stroke-width="1.2"/>
<line x1="530.5" y1="333.8" x2="539.8" y2="333.8" stroke="#ee5555" stroke-width="1.5"/>
<text x="542.8" y="334.7" font-family="Liberation Mono, monospace" font-weight="bold" font-size="6.4" fill="#222" dominant-baseline="central" textLength="69.1" lengthAdjust="spacingAndGlyphs">heat flow rate 1 [W]</text>
<line x1="530.5" y1="344.1" x2="539.8" y2="344.1" stroke="#3d7fa6" stroke-width="1.5"/>
<text x="542.8" y="345" font-family="Liberation Mono, monospace" font-weight="bold" font-size="6.4" fill="#222" dominant-baseline="central" textLength="69.1" lengthAdjust="spacingAndGlyphs">heat flow rate 2 [W]</text>
<line x1="530.5" y1="354.4" x2="539.8" y2="354.4" stroke="#fbbd5a" stroke-width="1.5"/>
<text x="542.8" y="355.3" font-family="Liberation Mono, monospace" font-weight="bold" font-size="6.4" fill="#222" dominant-baseline="central" textLength="69.1" lengthAdjust="spacingAndGlyphs">heat flow rate 3 [W]</text>
<line x1="530.5" y1="364.7" x2="539.8" y2="364.7" stroke="#4cba5a" stroke-width="1.5"/>
<text x="542.8" y="365.6" font-family="Liberation Mono, monospace" font-weight="bold" font-size="6.4" fill="#222" dominant-baseline="central" textLength="69.1" lengthAdjust="spacingAndGlyphs">heat flow rate 4 [W]</text>
<line x1="530.5" y1="375" x2="539.8" y2="375" stroke="#f2a2c8" stroke-width="1.5"/>
<text x="542.8" y="375.9" font-family="Liberation Mono, monospace" font-weight="bold" font-size="6.4" fill="#222" dominant-baseline="central" textLength="69.1" lengthAdjust="spacingAndGlyphs">heat flow rate 5 [W]</text>
<line x1="530.5" y1="385.3" x2="539.8" y2="385.3" stroke="#b0b0a0" stroke-width="1.5"/>
<text x="542.8" y="386.2" font-family="Liberation Mono, monospace" font-weight="bold" font-size="6.4" fill="#222" dominant-baseline="central" textLength="69.1" lengthAdjust="spacingAndGlyphs">heat flow rate 6 [W]</text>
<line x1="624" y1="247.6" x2="634.5" y2="247.6" stroke="#ee5555" stroke-width="1.6"/>
<line x1="624" y1="254.5" x2="634.5" y2="254.5" stroke="#3d7fa6" stroke-width="1.6"/>
<line x1="624" y1="261.4" x2="634.5" y2="261.4" stroke="#fbbd5a" stroke-width="1.6"/>
<line x1="624" y1="268.3" x2="634.5" y2="268.3" stroke="#4cba5a" stroke-width="1.6"/>
<line x1="624" y1="275.2" x2="634.5" y2="275.2" stroke="#f2a2c8" stroke-width="1.6"/>
<line x1="624" y1="282.1" x2="634.5" y2="282.1" stroke="#b0b0a0" stroke-width="1.6"/>
<line x1="35.6" y1="469.6" x2="35.6" y2="621.3" stroke="#e2e2e2" stroke-width="0.9" stroke-dasharray="1 1"/>
<line x1="51.1" y1="469.6" x2="51.1" y2="621.3" stroke="#d8d8d8" stroke-width="0.9" stroke-dasharray="1 1"/>
<line x1="66.7" y1="469.6" x2="66.7" y2="621.3" stroke="#e2e2e2" stroke-width="0.9" stroke-dasharray="1 1"/>
<line x1="82.2" y1="469.6" x2="82.2" y2="621.3" stroke="#d8d8d8" stroke-width="0.9" stroke-dasharray="1 1"/>
<line x1="97.7" y1="469.6" x2="97.7" y2="621.3" stroke="#e2e2e2" stroke-width="0.9" stroke-dasharray="1 1"/>
<line x1="113.2" y1="469.6" x2="113.2" y2="621.3" stroke="#d8d8d8" stroke-width="0.9" stroke-dasharray="1 1"/>
<line x1="128.7" y1="469.6" x2="128.7" y2="621.3" stroke="#e2e2e2" stroke-width="0.9" stroke-dasharray="1 1"/>
<line x1="144.2" y1="469.6" x2="144.2" y2="621.3" stroke="#d8d8d8" stroke-width="0.9" stroke-dasharray="1 1"/>
<line x1="159.7" y1="469.6" x2="159.7" y2="621.3" stroke="#e2e2e2" stroke-width="0.9" stroke-dasharray="1 1"/>
<line x1="175.3" y1="469.6" x2="175.3" y2="621.3" stroke="#d8d8d8" stroke-width="0.9" stroke-dasharray="1 1"/>
<line x1="190.8" y1="469.6" x2="190.8" y2="621.3" stroke="#e2e2e2" stroke-width="0.9" stroke-dasharray="1 1"/>
<line x1="206.3" y1="469.6" x2="206.3" y2="621.3" stroke="#d8d8d8" stroke-width="0.9" stroke-dasharray="1 1"/>
<line x1="221.8" y1="469.6" x2="221.8" y2="621.3" stroke="#e2e2e2" stroke-width="0.9" stroke-dasharray="1 1"/>
<line x1="237.3" y1="469.6" x2="237.3" y2="621.3" stroke="#d8d8d8" stroke-width="0.9" stroke-dasharray="1 1"/>
<line x1="252.8" y1="469.6" x2="252.8" y2="621.3" stroke="#e2e2e2" stroke-width="0.9" stroke-dasharray="1 1"/>
<line x1="268.4" y1="469.6" x2="268.4" y2="621.3" stroke="#d8d8d8" stroke-width="0.9" stroke-dasharray="1 1"/>
<line x1="283.9" y1="469.6" x2="283.9" y2="621.3" stroke="#e2e2e2" stroke-width="0.9" stroke-dasharray="1 1"/>
<line x1="20.1" y1="602.3" x2="299.4" y2="602.3" stroke="#ececec" stroke-width="0.8" stroke-dasharray="1 1"/>
<line x1="20.1" y1="583.4" x2="299.4" y2="583.4" stroke="#dcdcdc" stroke-width="0.8" stroke-dasharray="1 1"/>
<line x1="20.1" y1="564.4" x2="299.4" y2="564.4" stroke="#ececec" stroke-width="0.8" stroke-dasharray="1 1"/>
<line x1="20.1" y1="545.5" x2="299.4" y2="545.5" stroke="#dcdcdc" stroke-width="0.8" stroke-dasharray="1 1"/>
<line x1="20.1" y1="526.5" x2="299.4" y2="526.5" stroke="#ececec" stroke-width="0.8" stroke-dasharray="1 1"/>
<line x1="20.1" y1="507.5" x2="299.4" y2="507.5" stroke="#dcdcdc" stroke-width="0.8" stroke-dasharray="1 1"/>
<line x1="20.1" y1="488.6" x2="299.4" y2="488.6" stroke="#ececec" stroke-width="0.8" stroke-dasharray="1 1"/>
<path d="M20.1 469.6 H299.4 V621.3" fill="none" stroke="#d4d4d4" stroke-width="1"/>
<path d="M20.1 613.7 L21 613.7 L22.1 613.7 L23.3 613.7 L24.5 613.7 L25.3 613.7 L26.1 613.7 L26.9 613.7 L27.7 613.7 L28.5 613.7 L29.3 613.7 L30.1 613.6 L30.9 613.6 L31.8 613.6 L32.6 613.6 L33.4 613.6 L34.2 613.5 L35 613.5 L35.8 613.4 L36.6 613.4 L37.4 613.3 L38.2 613.2 L39 613.1 L39.8 613 L40.5 612.8 L41.3 612.7 L42.1 612.5 L42.9 612.3 L43.7 612.1 L44.4 611.8 L45.2 611.5 L45.9 611.3 L46.7 610.9 L47.4 610.6 L48.1 610.2 L48.8 609.8 L49.4 609.3 L50.1 608.9 L50.8 608.4 L51.4 608 L52.1 607.5 L52.7 607 L53.4 606.6 L54.1 606.2 L54.8 605.7 L55.5 605.3 L56.1 604.9 L56.8 604.5 L57.6 604.1 L58.3 603.8 L59 603.4 L59.7 603 L60.4 602.6 L61.1 602.3 L61.8 601.9 L62.5 601.5 L63.2 601.2 L64 600.8 L64.7 600.5 L65.4 600.1 L66.1 599.8 L66.9 599.4 L67.6 599.1 L68.3 598.8 L69.1 598.4 L69.8 598.1 L70.6 597.8 L71.3 597.5 L72.1 597.3 L72.8 597 L73.6 596.7 L74.3 596.4 L75.1 596.2 L75.8 595.9 L76.6 595.6 L77.3 595.3 L78.1 595 L78.8 594.7 L79.6 594.4 L80.3 594 L81 593.7 L81.7 593.3 L82.4 593 L83.1 592.6 L83.8 592.2 L84.5 591.7 L85.2 591.3 L85.8 590.8 L86.5 590.3 L87.1 589.8 L87.9 589 L88.7 588.1 L89.4 587.1 L90 586.1 L90.5 585 L91 583.9 L91.2 583.1 L91.4 582.3 L91.6 581.6 L91.7 580.8 L91.8 580 L91.9 579.2 L92 578.4 L92.1 577.6 L92.2 576.8 L92.2 576 L92.3 575.2 L92.3 574.4 L92.4 573.6 L92.4 572.8 L92.5 572 L92.5 571.2 L92.5 570.4 L92.5 569.6 L92.5 568.8 L92.6 568 L92.6 567.2 L92.6 566.4 L92.6 565.5 L92.6 564.7 L92.6 563.9 L92.6 563.1 L92.7 562.3 L92.7 561.5 L92.7 560.7 L92.7 559.9 L92.7 559.1 L92.7 558.3 L92.7 557.5 L92.7 556.7 L92.7 555.9 L92.7 555.1 L92.8 554.3 L92.8 553.5 L92.8 552.7 L92.8 551.9 L92.8 551.1 L92.8 550.3 L92.8 549.5 L92.8 548.7 L92.8 547.9 L92.8 547.1 L92.8 546.3 L92.8 545.5 L92.9 544.7 L92.9 543.9 L92.9 543 L92.9 542.2 L92.9 541.4 L92.9 540.6 L92.9 539.8 L92.9 539 L92.9 538.2 L92.9 537.4 L92.9 536.6 L92.9 535.8 L92.9 535 L93 534.2 L93 533.4 L93 532.6 L93 531.8 L93 531 L93 530.2 L93 529.4 L93 528.6 L93 527.8 L93 527 L93 526.2 L93 525.4 L93 524.6 L93 523.8 L93 523 L93.1 522.2 L93.1 521.4 L93.1 520.5 L93.1 519.7 L93.1 518.9 L93.1 518.1 L93.1 517.3 L93.1 516.5 L93.1 515.7 L93.1 514.9 L93.1 514.1 L93.1 513.3 L93.1 512.5 L93.1 511.7 L93.1 510.9 L93.1 510.1 L93.2 509.3 L93.2 508.5 L93.2 507.7 L93.2 506.9 L93.2 506.1 L93.2 505.3 L93.2 504.5 L93.2 503.7 L93.2 502.9 L93.2 502.1 L93.2 501.3 L93.2 500.5 L93.2 499.7 L93.2 498.9 L93.2 498 L93.2 497.2 L93.3 496.4 L93.3 495.6 L93.3 494.8 L93.3 493.6 L93.3 492.5 L93.3 491.7 L93.3 491.2 L93.3 491.2 L93.4 492.1 L93.7 493.2 L93.9 494.4 L94 495.2 L94.2 496 L94.3 496.8 L94.5 497.6 L94.7 498.3 L94.8 499.1 L95 499.9 L95.1 500.7 L95.3 501.5 L95.5 502.3 L95.6 503.1 L95.8 503.9 L96 504.7 L96.2 505.5 L96.3 506.2 L96.5 507 L96.7 507.8 L96.9 508.6 L97.1 509.4 L97.3 510.2 L97.4 511 L97.6 511.7 L97.8 512.5 L98 513.3 L98.2 514.1 L98.4 514.9 L98.6 515.6 L98.8 516.4 L99 517.2 L99.3 518 L99.5 518.8 L99.7 519.5 L99.9 520.3 L100.2 521.1 L100.4 521.8 L100.7 522.6 L100.9 523.4 L101.2 524.1 L101.5 524.9 L101.8 525.6 L102 526.4 L102.3 527.2 L102.6 527.9 L102.9 528.6 L103.3 529.4 L103.6 530.1 L103.9 530.9 L104.2 531.6 L104.6 532.3 L104.9 533.1 L105.2 533.8 L105.6 534.5 L105.9 535.3 L106.2 536 L106.6 536.7 L106.9 537.5 L107.3 538.2 L107.7 538.9 L108 539.6 L108.4 540.3 L108.8 541.1 L109.1 541.8 L109.5 542.5 L109.9 543.2 L110.3 543.9 L110.7 544.6 L111.1 545.3 L111.6 546 L112 546.7 L112.4 547.3 L112.9 548 L113.3 548.7 L113.7 549.4 L114.2 550 L114.6 550.7 L115.1 551.4 L115.6 552 L116 552.7 L116.5 553.3 L117 554 L117.4 554.7 L117.9 555.3 L118.4 556 L118.8 556.6 L119.3 557.3 L119.8 557.9 L120.2 558.6 L120.7 559.3 L121.2 559.9 L121.7 560.5 L122.2 561.2 L122.7 561.8 L123.2 562.4 L123.7 563 L124.3 563.6 L124.8 564.2 L125.3 564.8 L125.9 565.4 L126.5 566 L127 566.6 L127.6 567.1 L128.2 567.7 L128.8 568.3 L129.4 568.8 L130 569.3 L130.6 569.9 L131.2 570.4 L131.8 570.9 L132.4 571.4 L133.4 572.1 L134.3 572.8 L135 573.3 L135.4 573.5 L135.4 573.5 L136 572.9 L136.8 572.1 L137.6 571.2 L138.4 570.3 L139 569.7 L139.5 569.1 L140 568.5 L140.5 567.8 L141 567.2 L141.4 566.6 L141.9 565.9 L142.4 565.3 L143.1 564.3 L144 563.5 L145 562.9 L146 562.3 L147.1 561.9 L147.9 561.7 L148.7 561.5 L149.5 561.3 L150.3 561.1 L151 561 L151.8 560.8 L152.6 560.7 L153.4 560.6 L154.2 560.5 L155 560.4 L155.8 560.4 L156.6 560.4 L157.4 560.4 L158.2 560.4 L159 560.5 L159.8 560.5 L160.6 560.6 L161.4 560.7 L162.2 560.9 L163 561 L163.8 561.1 L164.6 561.2 L165.4 561.4 L166.2 561.5 L167 561.6 L167.8 561.8 L168.5 561.9 L169.3 562 L170.1 562.1 L170.9 562.3 L171.7 562.4 L172.5 562.5 L173.3 562.7 L174.1 562.8 L174.9 563 L175.7 563.1 L176.5 563.2 L177.3 563.4 L178 563.5 L178.8 563.7 L179.6 563.8 L180.4 564 L181.2 564.1 L182 564.3 L182.8 564.4 L183.6 564.6 L184.4 564.7 L185.1 564.9 L185.9 565.1 L186.7 565.2 L187.5 565.4 L188.3 565.5 L189.1 565.7 L189.9 565.9 L190.7 566 L191.4 566.2 L192.2 566.4 L193 566.5 L193.8 566.7 L194.6 566.9 L195.4 567 L196.1 567.2 L196.9 567.4 L197.7 567.5 L198.5 567.7 L199.3 567.9 L200.1 568 L200.9 568.2 L201.7 568.3 L202.4 568.5 L203.2 568.7 L204 568.8 L204.8 569 L205.6 569.1 L206.4 569.2 L207.2 569.4 L208 569.5 L208.8 569.7 L209.5 569.8 L210.3 570 L211.1 570.1 L211.9 570.2 L212.7 570.4 L213.5 570.5 L214.3 570.7 L215.1 570.8 L215.9 571 L216.7 571.1 L217.5 571.2 L218.2 571.4 L219 571.5 L219.8 571.7 L220.6 571.8 L221.4 572 L222.2 572.1 L223 572.3 L223.8 572.4 L224.6 572.6 L225.3 572.7 L226.1 572.8 L226.9 573 L227.7 573.1 L228.5 573.3 L229.3 573.4 L230.1 573.6 L230.9 573.7 L231.7 573.9 L232.5 574 L233.2 574.2 L234 574.3 L234.8 574.5 L235.6 574.7 L236.4 574.8 L237.2 575 L238 575.2 L238.7 575.4 L239.5 575.5 L240.3 575.7 L241.1 575.9 L241.9 576.1 L242.6 576.3 L243.4 576.5 L244.2 576.7 L245 576.9 L245.8 577.1 L246.5 577.3 L247.3 577.5 L248.1 577.7 L248.9 577.9 L249.7 578.1 L250.4 578.2 L251.2 578.4 L252 578.6 L252.8 578.8 L253.6 579 L254.3 579.2 L255.1 579.4 L255.9 579.5 L256.7 579.7 L257.5 579.9 L258.3 580.1 L259 580.3 L259.8 580.4 L260.6 580.6 L261.4 580.8 L262.2 581 L263 581.1 L263.7 581.3 L264.5 581.5 L265.3 581.6 L266.1 581.8 L266.9 581.9 L267.7 582.1 L268.5 582.3 L269.3 582.4 L270 582.6 L270.8 582.7 L271.6 582.8 L272.4 583 L273.2 583.1 L274 583.3 L274.8 583.4 L275.6 583.5 L276.4 583.7 L277.2 583.8 L278 583.9 L278.7 584.1 L279.5 584.2 L280.3 584.3 L281.1 584.5 L281.9 584.6 L282.7 584.7 L283.5 584.8 L284.3 585 L285.1 585.1 L285.9 585.2 L286.7 585.3 L287.5 585.4 L288.3 585.6 L289.1 585.7 L289.9 585.8 L290.7 585.9 L291.4 586 L292.2 586.2 L293 586.3 L293.8 586.4 L294.6 586.5 L295.4 586.6 L296.6 586.8 L297.8 586.9 L299 587.1 L299.4 587.2" fill="none" stroke="#ee3535" stroke-width="1.4" stroke-linejoin="round" stroke-linecap="round"/>
<path d="M20.1 613.7 L21 613.7 L22.1 613.7 L23.3 613.7 L24.1 613.7 L24.9 613.7 L25.7 613.7 L26.5 613.7 L27.3 613.7 L28.1 613.7 L29 613.7 L29.8 613.7 L30.6 613.7 L31.4 613.7 L32.2 613.7 L33 613.6 L33.8 613.6 L34.6 613.6 L35.4 613.6 L36.2 613.6 L37 613.6 L37.8 613.6 L38.6 613.6 L39.4 613.6 L40.2 613.6 L41 613.5 L41.8 613.5 L42.6 613.5 L43.4 613.5 L44.2 613.5 L45 613.5 L45.9 613.5 L46.7 613.4 L47.5 613.4 L48.3 613.4 L49.1 613.4 L49.9 613.4 L50.7 613.3 L51.5 613.3 L52.3 613.3 L53.1 613.2 L53.9 613.2 L54.7 613.1 L55.5 613.1 L56.3 613 L57.1 612.9 L57.9 612.8 L58.7 612.7 L59.5 612.7 L60.3 612.6 L61.1 612.5 L61.9 612.4 L62.7 612.3 L63.5 612.2 L64.3 612.2 L65.1 612.1 L65.9 612 L66.7 611.9 L67.5 611.9 L68.3 611.8 L69.1 611.7 L69.9 611.7 L70.7 611.6 L71.5 611.5 L72.3 611.4 L73.1 611.3 L73.9 611.3 L74.7 611.2 L75.5 611.1 L76.3 611 L77.1 610.9 L77.9 610.8 L78.7 610.7 L79.5 610.6 L80.3 610.5 L81.1 610.4 L81.9 610.3 L82.7 610.2 L83.5 610.1 L84.3 610 L85.1 609.9 L85.9 609.8 L86.7 609.7 L87.5 609.5 L88.3 609.4 L89.1 609.2 L90.2 608.9 L91.3 608.4 L92.3 607.7 L93.1 606.9 L93.8 605.9 L94.2 605.3 L94.6 604.6 L95.1 603.9 L95.5 603.3 L96.3 602.3 L97.1 601.5 L98 600.7 L98.7 600.3 L99.4 599.9 L100.1 599.4 L100.7 599 L101.4 598.6 L102.1 598.1 L102.8 597.7 L103.4 597.3 L104.1 596.8 L104.8 596.4 L105.5 595.9 L106.2 595.5 L106.8 595.1 L107.5 594.7 L108.2 594.3 L108.9 593.9 L109.7 593.5 L110.4 593.2 L111.1 592.9 L111.8 592.5 L112.6 592.2 L113.3 592 L114.1 591.7 L114.9 591.4 L115.6 591.2 L116.4 590.9 L117.2 590.7 L117.9 590.4 L118.7 590.2 L119.5 589.9 L120.2 589.7 L121 589.4 L121.8 589.2 L122.5 589 L123.3 588.7 L124.1 588.5 L124.8 588.3 L125.6 588 L126.4 587.8 L127.1 587.5 L127.9 587.2 L128.6 586.9 L129.3 586.5 L130 586.1 L131.1 585.5 L132 584.8 L132.8 584 L133.5 583 L134 581.9 L134.4 580.8 L134.7 579.7 L135 578.5 L135.2 577.7 L135.7 545.5 L136.1 495.4 L136.1 495.4 L136.3 496.2 L136.5 497.4 L136.7 498.6 L136.9 499.4 L137 500.2 L137.2 500.9 L137.4 501.7 L137.5 502.5 L137.7 503.3 L137.9 504.1 L138 504.9 L138.2 505.7 L138.4 506.5 L138.6 507.3 L138.7 508.1 L138.9 508.9 L139.1 509.6 L139.3 510.4 L139.5 511.2 L139.7 512 L139.9 512.8 L140.1 513.6 L140.3 514.4 L140.4 515.2 L140.6 515.9 L140.8 516.7 L141 517.5 L141.2 518.3 L141.4 519.1 L141.6 519.9 L141.8 520.6 L142 521.4 L142.3 522.2 L142.5 523 L142.7 523.8 L142.9 524.5 L143.2 525.3 L143.4 526.1 L143.7 526.9 L144 527.6 L144.3 528.4 L144.6 529.1 L144.9 529.9 L145.2 530.6 L145.6 531.3 L145.9 532 L146.3 532.8 L146.7 533.5 L147.1 534.2 L147.7 535.2 L148.4 536.1 L149 536.7 L149.4 537 L149.4 537 L150 537.5 L151 538.2 L152 538.9 L152.9 539.6 L153.6 540 L154.3 540.5 L154.9 540.9 L155.6 541.4 L156.3 541.8 L156.9 542.3 L157.6 542.7 L158.3 543.2 L158.9 543.6 L159.6 544 L160.3 544.5 L161 544.9 L161.6 545.3 L162.3 545.8 L163 546.2 L163.7 546.6 L164.4 547 L165 547.4 L165.7 547.9 L166.4 548.3 L167.1 548.7 L167.8 549.1 L168.5 549.5 L169.2 549.9 L169.9 550.3 L170.5 550.8 L171.2 551.2 L171.9 551.6 L172.6 552 L173.3 552.4 L174 552.7 L174.7 553.1 L175.4 553.5 L176.1 553.9 L176.8 554.3 L177.5 554.7 L178.2 555.1 L178.9 555.4 L179.7 555.8 L180.4 556.2 L181.1 556.6 L181.8 556.9 L182.5 557.3 L183.2 557.7 L183.9 558.1 L184.6 558.4 L185.4 558.8 L186.1 559.1 L186.8 559.5 L187.5 559.8 L188.3 560.2 L189 560.5 L189.7 560.8 L190.5 561.1 L191.2 561.4 L191.9 561.7 L192.7 562 L193.4 562.3 L194.2 562.6 L194.9 562.9 L195.7 563.2 L196.4 563.5 L197.2 563.7 L197.9 564 L198.7 564.3 L199.5 564.5 L200.2 564.8 L201 565.1 L201.7 565.3 L202.5 565.6 L203.3 565.8 L204 566 L204.8 566.3 L205.6 566.5 L206.3 566.7 L207.1 567 L207.9 567.2 L208.6 567.4 L209.4 567.7 L210.2 567.9 L210.9 568.1 L211.7 568.3 L212.5 568.5 L213.3 568.8 L214 569 L214.8 569.2 L215.6 569.4 L216.4 569.6 L217.1 569.8 L217.9 570 L218.7 570.3 L219.5 570.5 L220.2 570.7 L221 570.9 L221.8 571.1 L222.6 571.3 L223.3 571.5 L224.1 571.7 L224.9 571.9 L225.7 572.1 L226.4 572.3 L227.2 572.5 L228 572.7 L228.8 572.9 L229.6 573.1 L230.3 573.3 L231.1 573.5 L231.9 573.6 L232.7 573.8 L233.4 574 L234.2 574.2 L235 574.4 L235.8 574.6 L236.6 574.8 L237.3 575 L238.1 575.2 L238.9 575.4 L239.7 575.7 L240.4 575.9 L241.2 576.1 L242 576.3 L242.8 576.5 L243.5 576.7 L244.3 576.9 L245.1 577.1 L245.8 577.4 L246.6 577.6 L247.4 577.8 L248.2 578 L248.9 578.2 L249.7 578.4 L250.5 578.6 L251.3 578.8 L252 579 L252.8 579.2 L253.6 579.4 L254.4 579.6 L255.2 579.8 L255.9 579.9 L256.7 580.1 L257.5 580.3 L258.3 580.5 L259.1 580.7 L259.9 580.8 L260.6 581 L261.4 581.2 L262.2 581.4 L263 581.5 L263.8 581.7 L264.6 581.9 L265.4 582 L266.1 582.2 L266.9 582.3 L267.7 582.5 L268.5 582.6 L269.3 582.8 L270.1 582.9 L270.9 583.1 L271.7 583.2 L272.4 583.4 L273.2 583.5 L274 583.6 L274.8 583.8 L275.6 583.9 L276.4 584.1 L277.2 584.2 L278 584.3 L278.8 584.4 L279.6 584.6 L280.4 584.7 L281.1 584.8 L281.9 585 L282.7 585.1 L283.5 585.2 L284.3 585.3 L285.1 585.5 L285.9 585.6 L286.7 585.7 L287.5 585.8 L288.3 586 L289.1 586.1 L289.9 586.2 L290.7 586.3 L291.5 586.4 L292.2 586.5 L293 586.7 L293.8 586.8 L294.6 586.9 L295.4 587 L296.6 587.2 L297.8 587.3 L299 587.5 L299.4 587.5" fill="none" stroke="#2d7ba6" stroke-width="1.4" stroke-linejoin="round" stroke-linecap="round"/>
<path d="M20.1 613.7 L21 613.7 L22.1 613.7 L23.3 613.7 L24.5 613.7 L25.3 613.7 L26.1 613.7 L26.9 613.7 L27.7 613.7 L28.5 613.7 L29.4 613.7 L30.2 613.7 L31 613.7 L31.8 613.7 L32.6 613.7 L33.4 613.7 L34.2 613.7 L35 613.6 L35.8 613.6 L36.6 613.6 L37.4 613.6 L38.2 613.6 L39 613.6 L39.8 613.6 L40.6 613.6 L41.4 613.6 L42.2 613.6 L43 613.6 L43.8 613.5 L44.6 613.5 L45.4 613.5 L46.2 613.5 L47 613.5 L47.8 613.5 L48.7 613.5 L49.5 613.4 L50.3 613.4 L51.1 613.4 L51.9 613.4 L52.7 613.3 L53.5 613.3 L54.3 613.2 L55.1 613.2 L55.9 613.1 L56.7 613 L57.5 613 L58.3 612.9 L59.1 612.8 L59.9 612.7 L60.7 612.6 L61.5 612.6 L62.3 612.5 L63.1 612.4 L63.9 612.3 L64.7 612.3 L65.5 612.2 L66.3 612.1 L67.1 612 L67.9 612 L68.7 611.9 L69.5 611.8 L70.3 611.8 L71.1 611.7 L71.9 611.6 L72.7 611.5 L73.5 611.4 L74.3 611.4 L75.1 611.3 L75.9 611.2 L76.7 611.1 L77.5 611 L78.3 610.9 L79.1 610.8 L79.9 610.7 L80.7 610.6 L81.5 610.5 L82.3 610.4 L83.1 610.3 L83.9 610.2 L84.7 610.1 L85.5 610 L86.3 609.9 L87.1 609.8 L87.9 609.6 L88.6 609.4 L89.4 609.2 L90.5 608.9 L91.6 608.4 L92.5 607.7 L93.3 606.8 L94 605.8 L94.4 605.1 L94.9 604.5 L95.3 603.8 L96 602.8 L96.8 601.9 L97.7 601.1 L98.6 600.4 L99.3 600 L100 599.5 L100.6 599.1 L101.3 598.6 L102 598.2 L102.6 597.7 L103.3 597.3 L104 596.8 L104.7 596.4 L105.3 596 L106 595.6 L106.7 595.1 L107.4 594.7 L108.1 594.3 L108.8 594 L109.5 593.6 L110.3 593.2 L111 592.9 L111.7 592.6 L112.5 592.3 L113.2 592 L114 591.7 L114.7 591.5 L115.5 591.2 L116.3 590.9 L117 590.7 L117.8 590.5 L118.6 590.2 L119.3 590 L120.1 589.7 L120.9 589.5 L121.6 589.2 L122.4 589 L123.2 588.7 L123.9 588.5 L124.7 588.3 L125.5 588 L126.2 587.8 L127 587.5 L127.7 587.2 L128.5 587 L129.3 586.7 L130 586.5 L130.8 586.2 L131.5 585.9 L132.6 585.5 L133.7 584.9 L134.6 584.2 L135.4 583.3 L136 582.3 L136.4 581.2 L136.7 580.1 L137 578.9 L137.2 578.1 L137.3 577.7 L137.7 545.5 L138.1 495.4 L138.1 495.4 L138.3 496.2 L138.6 497.4 L138.9 498.5 L139.1 499.3 L139.3 500.1 L139.6 500.8 L139.8 501.6 L140 502.4 L140.3 503.1 L140.6 503.9 L140.8 504.7 L141.1 505.4 L141.4 506.2 L141.6 506.9 L141.9 507.7 L142.1 508.5 L142.3 509.3 L142.5 510 L142.7 510.8 L142.8 511.6 L142.9 512.4 L143.1 513.2 L143.2 514 L143.3 514.8 L143.4 515.6 L143.5 516.4 L143.6 517.2 L143.7 518 L143.8 518.8 L143.9 519.6 L144.1 520.4 L144.2 521.2 L144.4 522 L144.6 522.7 L144.8 523.5 L145.1 524.3 L145.3 525 L145.6 525.8 L145.9 526.6 L146.2 527.3 L146.5 528 L146.8 528.8 L147.2 529.5 L147.6 530.2 L148 530.9 L148.4 531.6 L148.8 532.3 L149.3 532.9 L149.8 533.6 L150.3 534.2 L150.8 534.8 L151.3 535.4 L151.9 536 L152.4 536.6 L153 537.2 L153.6 537.7 L154.2 538.2 L154.8 538.8 L155.4 539.3 L156 539.8 L156.6 540.4 L157.2 540.9 L157.9 541.4 L158.5 541.9 L159.1 542.5 L159.7 543 L160.3 543.5 L160.9 544 L161.6 544.5 L162.2 545 L162.8 545.5 L163.5 546 L164.1 546.5 L164.8 547 L165.4 547.4 L166.1 547.9 L167 548.6 L168 549.2 L168.7 549.7 L168.7 549.7 L169.5 549.3 L170.6 548.9 L171.7 548.5 L172.9 548.2 L173.7 548.1 L174.5 547.9 L175.3 547.8 L176.1 547.7 L176.9 547.6 L177.7 547.6 L178.5 547.6 L179.7 547.6 L180.8 547.7 L181.6 547.9 L182.4 548 L183.2 548.2 L184 548.4 L184.7 548.7 L185.5 548.9 L186.3 549.2 L187 549.4 L187.8 549.7 L188.6 549.9 L189.3 550.2 L190.1 550.4 L190.8 550.7 L191.6 550.9 L192.4 551.2 L193.1 551.5 L193.9 551.8 L194.6 552.1 L195.4 552.3 L196.1 552.6 L196.9 552.9 L197.6 553.2 L198.4 553.5 L199.1 553.8 L199.8 554.1 L200.6 554.4 L201.3 554.7 L202.1 555 L202.8 555.4 L203.6 555.7 L204.3 556 L205 556.3 L205.8 556.6 L206.5 556.9 L207.2 557.3 L208 557.6 L208.7 557.9 L209.5 558.2 L210.2 558.5 L210.9 558.9 L211.7 559.2 L212.4 559.5 L213.1 559.8 L213.9 560.2 L214.6 560.5 L215.3 560.8 L216.1 561.1 L216.8 561.4 L217.6 561.7 L218.3 562 L219.1 562.3 L219.8 562.6 L220.5 562.9 L221.3 563.2 L222 563.5 L222.8 563.8 L223.5 564.1 L224.3 564.4 L225 564.7 L225.8 565 L226.5 565.3 L227.3 565.6 L228 565.9 L228.8 566.2 L229.5 566.4 L230.3 566.7 L231 567 L231.8 567.3 L232.5 567.6 L233.3 567.9 L234 568.1 L234.8 568.4 L235.5 568.7 L236.3 569 L237 569.2 L237.8 569.5 L238.6 569.8 L239.3 570.1 L240.1 570.3 L240.8 570.6 L241.6 570.9 L242.3 571.1 L243.1 571.4 L243.9 571.7 L244.6 571.9 L245.4 572.2 L246.1 572.4 L246.9 572.7 L247.7 573 L248.4 573.2 L249.2 573.5 L249.9 573.7 L250.7 574 L251.5 574.2 L252.2 574.5 L253 574.7 L253.8 574.9 L254.5 575.2 L255.3 575.4 L256.1 575.7 L256.8 575.9 L257.6 576.1 L258.4 576.4 L259.2 576.6 L259.9 576.8 L260.7 577 L261.5 577.3 L262.2 577.5 L263 577.7 L263.8 577.9 L264.6 578.2 L265.3 578.4 L266.1 578.6 L266.9 578.8 L267.6 579 L268.4 579.2 L269.2 579.4 L270 579.6 L270.8 579.8 L271.5 580 L272.3 580.2 L273.1 580.4 L273.9 580.6 L274.6 580.8 L275.4 581 L276.2 581.2 L277 581.4 L277.8 581.6 L278.5 581.8 L279.3 582 L280.1 582.1 L280.9 582.3 L281.7 582.5 L282.5 582.7 L283.2 582.9 L284 583 L284.8 583.2 L285.6 583.4 L286.4 583.5 L287.2 583.7 L288 583.9 L288.7 584 L289.5 584.2 L290.3 584.3 L291.1 584.5 L291.9 584.6 L292.7 584.8 L293.5 585 L294.3 585.1 L295.1 585.2 L295.8 585.4 L297 585.6 L298.2 585.8 L299 586 L299.4 586" fill="none" stroke="#eeae32" stroke-width="1.4" stroke-linejoin="round" stroke-linecap="round"/>
<path d="M20.1 613.7 L21 613.7 L22.1 613.7 L23.3 613.7 L24.5 613.7 L25.3 613.7 L26.1 613.7 L26.9 613.7 L27.7 613.7 L28.5 613.7 L29.3 613.7 L30.1 613.7 L30.9 613.7 L31.7 613.7 L32.5 613.7 L33.3 613.7 L34.1 613.7 L34.9 613.7 L35.7 613.7 L36.5 613.7 L37.3 613.7 L38.1 613.7 L38.9 613.7 L39.8 613.7 L40.6 613.7 L41.4 613.7 L42.2 613.7 L43 613.7 L43.8 613.7 L44.6 613.7 L45.4 613.7 L46.2 613.7 L47 613.6 L47.8 613.6 L48.6 613.6 L49.4 613.6 L50.2 613.6 L51 613.6 L51.8 613.6 L52.6 613.6 L53.4 613.6 L54.2 613.6 L55 613.6 L55.8 613.6 L56.6 613.6 L57.4 613.6 L58.2 613.6 L59 613.6 L59.8 613.6 L60.6 613.6 L61.4 613.6 L62.2 613.6 L63 613.6 L63.8 613.5 L64.6 613.5 L65.4 613.5 L66.2 613.5 L67 613.5 L67.8 613.5 L68.6 613.5 L69.4 613.5 L70.2 613.5 L71 613.5 L71.8 613.4 L72.6 613.4 L73.4 613.4 L74.2 613.4 L75 613.4 L75.8 613.4 L76.6 613.3 L77.4 613.3 L78.3 613.3 L79.1 613.2 L79.9 613.2 L80.7 613.2 L81.5 613.2 L82.3 613.1 L83.1 613.1 L83.9 613.1 L84.7 613 L85.5 613 L86.3 613 L87.1 612.9 L87.9 612.9 L88.7 612.8 L89.5 612.8 L90.3 612.7 L91.1 612.7 L91.9 612.7 L92.7 612.6 L93.5 612.6 L94.3 612.5 L95.1 612.5 L95.9 612.4 L96.7 612.4 L97.5 612.3 L98.3 612.3 L99.1 612.2 L99.9 612.2 L100.7 612.1 L101.5 612.1 L102.3 612 L103.1 611.9 L103.9 611.8 L104.7 611.8 L105.5 611.7 L106.3 611.6 L107.1 611.5 L107.9 611.4 L108.7 611.3 L109.4 611.2 L110.2 611.1 L111 611 L111.8 610.9 L112.6 610.8 L113.4 610.6 L114.2 610.5 L115 610.4 L115.8 610.3 L116.6 610.2 L117.4 610.1 L118.2 610 L119 609.8 L119.8 609.7 L120.6 609.6 L121.4 609.4 L122.1 609.3 L122.9 609.2 L123.7 609 L124.5 608.9 L125.3 608.7 L126.1 608.6 L126.9 608.4 L127.7 608.2 L128.4 608.1 L129.2 607.9 L130 607.7 L130.8 607.6 L131.6 607.4 L132.3 607.2 L133.1 607 L134.3 606.6 L135.3 606.1 L136.4 605.5 L137.3 604.8 L138.2 603.9 L139 603 L139.7 602.1 L140.4 601.1 L140.8 600.4 L141.2 599.7 L141.6 599 L141.9 598.3 L142.3 597.6 L142.6 596.9 L143 596.1 L143.3 595.4 L143.6 594.7 L143.9 593.9 L144.3 593.2 L144.6 592.5 L144.9 591.7 L145.2 591 L145.5 590.2 L145.8 589.5 L146.1 588.7 L146.3 588 L146.5 587.2 L146.8 586.4 L147 585.7 L147.2 584.9 L147.4 584.1 L147.6 583.3 L147.7 582.5 L147.8 581.8 L147.9 581 L148 580.2 L148.1 579.4 L148.1 578.6 L148.2 577.8 L148.2 577 L148.2 576.2 L148.2 575.4 L148.3 574.6 L148.3 573.8 L148.3 573 L148.3 572.2 L148.3 571.3 L148.4 570.5 L148.4 569.7 L148.4 568.9 L148.4 568.1 L148.4 567.3 L148.4 566.5 L148.4 565.7 L148.5 564.9 L148.5 564.1 L148.5 563.3 L148.5 562.5 L148.5 561.7 L148.5 560.9 L148.5 560.1 L148.5 559.3 L148.6 558.5 L148.6 557.7 L148.6 556.9 L148.6 556.1 L148.6 555.3 L148.6 554.5 L148.6 553.7 L148.6 552.9 L148.6 552.1 L148.7 551.3 L148.7 550.5 L148.7 549.7 L148.7 548.9 L148.7 548.1 L148.7 547.3 L148.7 546.5 L148.7 545.7 L148.7 544.9 L148.8 544.1 L148.8 543.3 L148.8 542.5 L148.8 541.7 L148.8 540.9 L148.8 540.1 L148.8 539.3 L148.8 538.5 L148.8 537.7 L148.8 536.9 L148.9 536.1 L148.9 535.3 L148.9 534.5 L148.9 533.7 L148.9 532.9 L148.9 532 L148.9 531.2 L148.9 530.4 L148.9 529.6 L148.9 528.8 L148.9 528 L149 527.2 L149 526.4 L149 525.6 L149 524.8 L149 524 L149 523.2 L149 522.4 L149 521.6 L149 520.8 L149 520 L149 519.2 L149 518.4 L149.1 517.6 L149.1 516.8 L149.1 516 L149.1 515.2 L149.1 514.4 L149.1 513.6 L149.1 512.8 L149.1 512 L149.1 511.2 L149.1 510.4 L149.1 509.6 L149.1 508.8 L149.2 508 L149.2 507.2 L149.2 506.4 L149.2 505.6 L149.2 504.8 L149.2 504 L149.2 503.2 L149.2 502.4 L149.2 501.6 L149.2 500.8 L149.2 500 L149.2 499.2 L149.2 498.4 L149.2 497.6 L149.3 496.8 L149.3 496 L149.3 495.2 L149.3 494.4 L149.3 493.5 L149.3 492.7 L149.3 491.9 L149.3 491.1 L149.3 490.3 L149.3 489.5 L149.3 488.3 L149.3 487.2 L149.3 486 L149.4 485.5 L149.4 485.5 L149.5 486.4 L149.7 487.5 L149.9 488.7 L150.1 489.5 L150.2 490.3 L150.4 491.1 L150.5 491.9 L150.7 492.7 L150.9 493.5 L151 494.3 L151.2 495.1 L151.4 495.8 L151.6 496.6 L151.7 497.4 L151.9 498.2 L152.1 499 L152.3 499.8 L152.5 500.6 L152.6 501.4 L152.8 502.2 L153 502.9 L153.2 503.7 L153.4 504.5 L153.6 505.3 L153.9 506.1 L154.1 506.8 L154.3 507.6 L154.5 508.4 L154.8 509.2 L155 509.9 L155.3 510.7 L155.5 511.5 L155.8 512.2 L156.1 513 L156.4 513.8 L156.6 514.5 L156.9 515.3 L157.2 516 L157.5 516.8 L157.8 517.5 L158.1 518.3 L158.5 519 L158.8 519.8 L159.1 520.5 L159.4 521.2 L159.8 522 L160.1 522.7 L160.5 523.4 L160.8 524.2 L161.2 524.9 L161.5 525.6 L161.9 526.3 L162.3 527 L162.7 527.8 L163.1 528.5 L163.4 529.2 L163.8 529.9 L164.2 530.6 L164.6 531.3 L165.1 532 L165.5 532.7 L165.9 533.4 L166.3 534 L166.8 534.7 L167.2 535.4 L167.7 536.1 L168.1 536.7 L168.6 537.4 L169.1 538 L169.6 538.7 L170.1 539.3 L170.9 540.2 L171.7 541.1 L172 541.4 L172 541.4 L172.8 541.1 L173.9 540.7 L175.1 540.5 L176.3 540.4 L177.4 540.5 L178.6 540.6 L179.8 540.9 L180.6 541.1 L181.3 541.4 L182.1 541.7 L182.8 542 L183.6 542.2 L184.3 542.5 L185.1 542.8 L185.8 543.2 L186.5 543.5 L187.2 543.9 L188 544.2 L188.7 544.6 L189.4 545 L190.1 545.4 L190.8 545.7 L191.5 546.1 L192.2 546.5 L192.9 546.8 L193.6 547.2 L194.4 547.6 L195.1 547.9 L195.8 548.3 L196.5 548.6 L197.2 549 L198 549.3 L198.7 549.7 L199.4 550 L200.1 550.4 L200.9 550.7 L201.6 551.1 L202.3 551.4 L203 551.7 L203.8 552 L204.5 552.4 L205.2 552.7 L206 553 L206.7 553.3 L207.4 553.7 L208.2 554 L208.9 554.3 L209.6 554.7 L210.4 555 L211.1 555.4 L211.8 555.7 L212.5 556.1 L213.2 556.4 L214 556.8 L214.7 557.1 L215.4 557.5 L216.1 557.8 L216.8 558.2 L217.6 558.5 L218.3 558.9 L219 559.2 L219.7 559.6 L220.5 559.9 L221.2 560.3 L221.9 560.6 L222.6 561 L223.3 561.3 L224.1 561.7 L224.8 562.1 L225.5 562.4 L226.2 562.8 L226.9 563.1 L227.7 563.4 L228.4 563.8 L229.1 564.1 L229.8 564.5 L230.6 564.8 L231.3 565.2 L232 565.5 L232.8 565.8 L233.5 566.2 L234.2 566.5 L235 566.8 L235.7 567.1 L236.4 567.4 L237.2 567.8 L237.9 568.1 L238.7 568.4 L239.4 568.7 L240.2 569 L240.9 569.2 L241.6 569.5 L242.4 569.8 L243.1 570.1 L243.9 570.4 L244.6 570.7 L245.4 570.9 L246.2 571.2 L246.9 571.5 L247.7 571.8 L248.4 572 L249.2 572.3 L249.9 572.5 L250.7 572.8 L251.5 573.1 L252.2 573.3 L253 573.6 L253.8 573.8 L254.5 574 L255.3 574.3 L256 574.5 L256.8 574.8 L257.6 575 L258.4 575.2 L259.1 575.5 L259.9 575.7 L260.7 575.9 L261.4 576.1 L262.2 576.4 L263 576.6 L263.7 576.8 L264.5 577 L265.3 577.2 L266.1 577.4 L266.8 577.7 L267.6 577.9 L268.4 578.1 L269.2 578.3 L269.9 578.5 L270.7 578.7 L271.5 578.9 L272.3 579.1 L273 579.3 L273.8 579.5 L274.6 579.7 L275.4 579.9 L276.2 580.1 L276.9 580.3 L277.7 580.5 L278.5 580.7 L279.3 580.8 L280.1 581 L280.8 581.2 L281.6 581.4 L282.4 581.5 L283.2 581.7 L284 581.9 L284.8 582 L285.6 582.2 L286.3 582.3 L287.1 582.5 L287.9 582.6 L288.7 582.8 L289.5 582.9 L290.3 583.1 L291.1 583.2 L291.9 583.3 L292.7 583.5 L293.4 583.6 L294.2 583.7 L295 583.9 L296.2 584.1 L297.4 584.2 L298.6 584.4 L299.4 584.5" fill="none" stroke="#3cb64c" stroke-width="1.4" stroke-linejoin="round" stroke-linecap="round"/>
<path d="M20.1 613.7 L21 613.7 L22.1 613.7 L23.3 613.7 L24.5 613.7 L25.3 613.7 L26.1 613.7 L26.9 613.7 L27.7 613.7 L28.5 613.7 L29.3 613.7 L30.1 613.7 L30.9 613.7 L31.7 613.7 L32.5 613.7 L33.3 613.7 L34.1 613.7 L35 613.7 L35.8 613.7 L36.6 613.7 L37.4 613.7 L38.2 613.7 L39 613.7 L39.8 613.7 L40.6 613.7 L41.4 613.7 L42.2 613.7 L43 613.7 L43.8 613.7 L44.6 613.7 L45.4 613.7 L46.2 613.7 L47 613.7 L47.8 613.7 L48.6 613.7 L49.4 613.6 L50.2 613.6 L51 613.6 L51.8 613.6 L52.6 613.6 L53.4 613.6 L54.2 613.6 L55 613.6 L55.8 613.6 L56.6 613.6 L57.4 613.6 L58.2 613.6 L59 613.6 L59.8 613.6 L60.6 613.6 L61.4 613.6 L62.2 613.6 L63 613.6 L63.9 613.6 L64.7 613.6 L65.5 613.5 L66.3 613.5 L67.1 613.5 L67.9 613.5 L68.7 613.5 L69.5 613.5 L70.3 613.5 L71.1 613.5 L71.9 613.5 L72.7 613.5 L73.5 613.5 L74.3 613.5 L75.1 613.5 L75.9 613.4 L76.7 613.4 L77.5 613.4 L78.3 613.4 L79.1 613.4 L79.9 613.4 L80.7 613.4 L81.5 613.4 L82.3 613.4 L83.1 613.4 L83.9 613.4 L84.7 613.4 L85.5 613.3 L86.3 613.3 L87.1 613.3 L87.9 613.3 L88.7 613.3 L89.5 613.3 L90.3 613.3 L91.1 613.3 L91.9 613.3 L92.8 613.2 L93.6 613.2 L94.4 613.2 L95.2 613.2 L96 613.2 L96.8 613.2 L97.6 613.2 L98.4 613.2 L99.2 613.2 L100 613.1 L100.8 613.1 L101.6 613.1 L102.4 613.1 L103.2 613 L104 613 L104.8 612.9 L105.6 612.9 L106.4 612.8 L107.2 612.8 L108 612.7 L108.8 612.6 L109.6 612.6 L110.4 612.5 L111.2 612.4 L112 612.3 L112.8 612.2 L113.6 612.1 L114.4 612 L115.2 611.9 L116 611.8 L116.8 611.7 L117.6 611.6 L118.4 611.5 L119.2 611.4 L119.9 611.3 L120.7 611.1 L121.5 611 L122.3 610.9 L123.1 610.8 L123.9 610.7 L124.7 610.5 L125.5 610.4 L126.3 610.3 L127.1 610.2 L127.9 610.1 L128.7 609.9 L129.5 609.8 L130.3 609.7 L131.1 609.5 L131.8 609.4 L132.6 609.3 L133.4 609.1 L134.2 608.9 L135 608.7 L136.1 608.4 L137.2 607.9 L138.3 607.4 L139.2 606.6 L140.1 605.8 L140.6 605.2 L141.1 604.6 L141.7 604 L142.2 603.4 L142.7 602.8 L143.3 602.3 L143.9 601.7 L144.5 601.2 L145.1 600.6 L145.7 600.1 L146.3 599.6 L146.9 599.1 L147.5 598.6 L148.2 598.1 L148.8 597.6 L149.4 597.1 L150.1 596.6 L150.7 596.1 L151.4 595.7 L152 595.2 L152.7 594.7 L153.3 594.2 L154 593.8 L154.6 593.3 L155.2 592.8 L155.9 592.3 L156.6 591.9 L157.2 591.5 L157.9 591.1 L158.6 590.7 L159.4 590.4 L160.1 590 L160.8 589.6 L161.9 589.1 L162.9 588.4 L163.8 587.7 L164.6 586.8 L165.4 585.9 L166 584.9 L166.5 583.8 L166.9 582.7 L167.2 581.5 L167.3 580.7 L167.4 579.9 L167.5 579.1 L167.6 578.3 L167.6 577.5 L167.7 576.7 L167.8 575.9 L167.8 575.1 L167.9 574.3 L167.9 573.5 L167.9 572.7 L167.9 571.9 L168 571.1 L168 570.3 L168 569.5 L168 568.7 L168.1 567.9 L168.1 567.1 L168.1 566.3 L168.1 565.5 L168.1 564.7 L168.1 563.9 L168.1 563.1 L168.2 562.3 L168.2 561.5 L168.2 560.7 L168.2 559.9 L168.2 559.1 L168.2 558.3 L168.2 557.5 L168.3 556.7 L168.3 555.9 L168.3 555.1 L168.3 554.3 L168.3 553.5 L168.3 552.7 L168.3 551.9 L168.3 551.1 L168.4 550.3 L168.4 549.5 L168.4 548.3 L168.4 547.1 L168.4 545.9 L168.4 545.5 L169 490.5 L169 490.5 L169.1 491.3 L169.3 492.5 L169.4 493.6 L169.6 494.8 L169.7 495.6 L169.9 496.4 L170 497.2 L170.1 498 L170.3 498.8 L170.4 499.6 L170.6 500.4 L170.7 501.1 L170.9 501.9 L171.1 502.7 L171.2 503.5 L171.4 504.3 L171.6 505 L171.8 505.8 L172 506.6 L172.3 507.4 L172.5 508.1 L172.7 508.9 L173 509.7 L173.2 510.4 L173.5 511.2 L173.8 511.9 L174.1 512.7 L174.4 513.4 L174.7 514.2 L175 514.9 L175.3 515.6 L175.6 516.4 L176 517.1 L176.4 517.8 L176.7 518.5 L177.1 519.2 L177.5 519.9 L177.9 520.6 L178.3 521.3 L178.6 522 L179 522.7 L179.5 523.4 L179.9 524.1 L180.3 524.8 L180.7 525.5 L181.1 526.1 L181.6 526.8 L182 527.5 L182.4 528.2 L182.9 528.8 L183.3 529.5 L183.8 530.2 L184.2 530.8 L184.7 531.5 L185.1 532.1 L185.6 532.8 L186.1 533.4 L186.5 534.1 L187 534.7 L187.5 535.4 L188 536 L188.4 536.7 L188.9 537.3 L189.4 538 L189.9 538.6 L190.4 539.2 L190.9 539.9 L191.4 540.5 L191.8 541.1 L192.3 541.8 L192.8 542.4 L193.3 543.1 L193.8 543.7 L194.3 544.3 L194.7 545 L195.2 545.6 L195.7 546.2 L196.2 546.9 L196.7 547.5 L197.3 548.1 L197.8 548.7 L198.3 549.3 L198.9 549.9 L199.5 550.4 L200.1 551 L200.7 551.5 L201.3 552 L201.9 552.5 L202.5 553 L203.2 553.5 L203.8 553.9 L204.5 554.4 L205.2 554.8 L205.8 555.3 L206.5 555.7 L207.2 556.1 L207.9 556.6 L208.5 557 L209.2 557.5 L209.9 557.9 L210.5 558.4 L211.2 558.8 L211.8 559.3 L212.5 559.7 L213.2 560.2 L213.8 560.6 L214.5 561.1 L215.1 561.5 L215.8 562 L216.5 562.4 L217.1 562.9 L217.8 563.3 L218.5 563.8 L219.2 564.2 L219.8 564.6 L220.5 565.1 L221.2 565.5 L221.9 565.9 L222.5 566.4 L223.2 566.8 L223.9 567.2 L224.6 567.6 L225.2 568.1 L225.9 568.5 L226.6 568.9 L227.3 569.4 L228 569.8 L228.6 570.2 L229.3 570.6 L230 571 L230.7 571.4 L231.4 571.8 L232.1 572.2 L232.8 572.6 L233.5 573 L234.2 573.4 L234.9 573.8 L235.6 574.2 L236.3 574.5 L237 574.9 L237.8 575.2 L238.5 575.6 L239.2 575.9 L239.9 576.3 L240.7 576.6 L241.4 576.9 L242.1 577.3 L242.9 577.6 L243.6 577.9 L244.3 578.2 L245.1 578.5 L245.8 578.8 L246.6 579.1 L247.3 579.4 L248.1 579.7 L248.8 580 L249.6 580.3 L250.3 580.6 L251.1 580.8 L251.8 581.1 L252.6 581.4 L253.3 581.6 L254.1 581.9 L254.8 582.1 L255.6 582.4 L256.4 582.6 L257.1 582.9 L257.9 583.1 L258.7 583.4 L259.4 583.6 L260.2 583.8 L261 584 L261.7 584.3 L262.5 584.5 L263.3 584.7 L264.1 584.9 L264.8 585.1 L265.6 585.3 L266.4 585.5 L267.2 585.7 L267.9 585.9 L268.7 586.1 L269.5 586.3 L270.3 586.5 L271.1 586.7 L271.8 586.9 L272.6 587.1 L273.4 587.2 L274.2 587.4 L275 587.6 L275.7 587.8 L276.5 587.9 L277.3 588.1 L278.1 588.3 L278.9 588.4 L279.7 588.6 L280.5 588.8 L281.2 588.9 L282 589.1 L282.8 589.2 L283.6 589.4 L284.4 589.5 L285.2 589.7 L286 589.8 L286.7 590 L287.5 590.1 L288.3 590.3 L289.1 590.4 L289.9 590.6 L290.7 590.7 L291.5 590.8 L292.3 591 L293.1 591.1 L293.9 591.2 L294.6 591.4 L295.4 591.5 L296.6 591.7 L297.8 591.9 L299 592 L299.4 592.1" fill="none" stroke="#f39cc6" stroke-width="1.4" stroke-linejoin="round" stroke-linecap="round"/>
<path d="M20.1 613.7 L21 613.7 L22.1 613.7 L23.3 613.7 L24.5 613.7 L25.3 613.7 L26.1 613.7 L26.9 613.7 L27.7 613.7 L28.5 613.7 L29.3 613.7 L30.1 613.7 L30.9 613.7 L31.7 613.7 L32.5 613.7 L33.3 613.7 L34.1 613.7 L34.9 613.7 L35.7 613.7 L36.5 613.7 L37.4 613.7 L38.2 613.7 L39 613.7 L39.8 613.7 L40.6 613.7 L41.4 613.7 L42.2 613.7 L43 613.7 L43.8 613.7 L44.6 613.7 L45.4 613.7 L46.2 613.7 L47 613.7 L47.8 613.7 L48.6 613.7 L49.4 613.7 L50.2 613.7 L51 613.7 L51.8 613.7 L52.6 613.7 L53.4 613.7 L54.2 613.7 L55 613.7 L55.8 613.7 L56.6 613.7 L57.4 613.7 L58.2 613.7 L59 613.7 L59.8 613.7 L60.6 613.7 L61.4 613.7 L62.2 613.7 L63 613.7 L63.8 613.7 L64.6 613.7 L65.4 613.7 L66.2 613.7 L67 613.7 L67.8 613.7 L68.6 613.7 L69.4 613.7 L70.2 613.7 L71.1 613.7 L71.9 613.7 L72.7 613.7 L73.5 613.7 L74.3 613.7 L75.1 613.7 L75.9 613.7 L76.7 613.7 L77.5 613.7 L78.3 613.7 L79.1 613.7 L79.9 613.7 L80.7 613.7 L81.5 613.7 L82.3 613.7 L83.1 613.7 L83.9 613.7 L84.7 613.7 L85.5 613.7 L86.3 613.7 L87.1 613.7 L87.9 613.7 L88.7 613.7 L89.5 613.7 L90.3 613.7 L91.1 613.7 L91.9 613.7 L92.7 613.7 L93.5 613.7 L94.3 613.7 L95.1 613.7 L95.9 613.7 L96.7 613.7 L97.5 613.7 L98.3 613.7 L99.1 613.7 L99.9 613.7 L100.7 613.7 L101.5 613.7 L102.3 613.7 L103.1 613.7 L103.9 613.7 L104.8 613.7 L105.6 613.7 L106.4 613.6 L107.2 613.6 L108 613.6 L108.8 613.6 L109.6 613.6 L110.4 613.5 L111.2 613.5 L112 613.5 L112.8 613.4 L113.6 613.4 L114.4 613.4 L115.2 613.3 L116 613.3 L116.8 613.3 L117.6 613.2 L118.4 613.2 L119.2 613.1 L120 613.1 L120.8 613 L121.6 613 L122.4 612.9 L123.2 612.9 L124 612.8 L124.8 612.8 L125.6 612.7 L126.4 612.7 L127.2 612.6 L128 612.6 L128.8 612.5 L129.6 612.4 L130.4 612.4 L131.2 612.3 L132 612.3 L132.8 612.2 L133.6 612.1 L134.4 612.1 L135.2 612 L136 611.9 L136.8 611.9 L137.6 611.8 L138.4 611.7 L139.2 611.7 L140 611.6 L140.8 611.5 L141.6 611.4 L142.4 611.3 L143.2 611.2 L144 611.1 L144.8 610.9 L145.5 610.8 L146.7 610.5 L147.8 610.1 L148.9 609.6 L149.8 608.9 L150.5 608 L151.1 607 L151.7 605.9 L152.1 605.2 L152.5 604.5 L152.8 603.8 L153.2 603.1 L153.9 602.1 L154.6 601.1 L155.1 600.5 L155.6 599.9 L156.2 599.3 L156.7 598.7 L157.3 598.2 L157.8 597.6 L158.4 597 L159 596.5 L159.6 595.9 L160.2 595.4 L160.8 594.9 L161.4 594.4 L162 593.9 L163 593.2 L164 592.5 L164.7 592.1 L165.4 591.7 L166.4 591.1 L167.3 590.3 L168.2 589.5 L168.9 588.5 L169.5 587.5 L170 586.5 L170.4 585.3 L170.7 584.2 L170.8 583.4 L171 582.6 L171.1 581.8 L171.2 581 L171.3 580.2 L171.4 579.4 L171.4 578.6 L171.4 577.8 L171.5 577 L171.5 576.2 L171.5 575.4 L171.5 574.6 L171.6 573.8 L171.6 573 L171.6 572.2 L171.6 571.4 L171.6 570.6 L171.7 569.8 L171.7 569 L171.7 568.2 L171.7 567.4 L171.7 566.6 L171.7 565.8 L171.7 565 L171.7 564.2 L171.8 563.4 L171.8 562.6 L171.8 561.8 L171.8 560.9 L171.8 560.1 L171.8 559.3 L171.8 558.5 L171.8 557.7 L171.8 556.9 L171.9 556.1 L171.9 555.3 L171.9 554.5 L171.9 553.7 L171.9 552.9 L171.9 552.1 L171.9 551.3 L171.9 550.5 L171.9 549.7 L172 548.9 L172 548.1 L172 547.3 L172 546.5 L172 545.7 L172 544.9 L172 544.1 L172 543.3 L172 542.5 L172.1 541.7 L172.1 540.9 L172.1 540.1 L172.1 539.3 L172.1 538.5 L172.1 537.7 L172.1 536.9 L172.1 536.1 L172.1 535.3 L172.1 534.5 L172.2 533.7 L172.2 532.9 L172.2 532.1 L172.2 531.3 L172.2 530.5 L172.2 529.7 L172.2 528.9 L172.2 528.1 L172.2 527.3 L172.2 526.4 L172.2 525.6 L172.3 524.8 L172.3 524 L172.3 523.2 L172.3 522.4 L172.3 521.6 L172.3 520.8 L172.3 520 L172.3 519.2 L172.3 518.4 L172.3 517.6 L172.3 516.8 L172.3 516 L172.4 515.2 L172.4 514.4 L172.4 513.6 L172.4 512.8 L172.4 512 L172.4 511.2 L172.4 510.4 L172.4 509.6 L172.4 508.8 L172.4 508 L172.4 507.2 L172.4 506.4 L172.4 505.6 L172.5 504.8 L172.5 504 L172.5 503.2 L172.5 502.4 L172.5 501.6 L172.5 500.8 L172.5 500 L172.5 499.2 L172.5 498.4 L172.5 497.6 L172.5 496.8 L172.5 496 L172.5 495.2 L172.5 494.4 L172.6 493.6 L172.6 492.7 L172.6 491.9 L172.6 491.1 L172.6 490.3 L172.6 489.5 L172.6 488.3 L172.6 487.2 L172.6 486 L172.6 485.5 L172.6 485.5 L172.8 486.4 L173.1 487.5 L173.3 488.7 L173.6 489.8 L173.8 490.6 L173.9 491.4 L174.1 492.2 L174.3 493 L174.5 493.7 L174.7 494.5 L174.9 495.3 L175.1 496.1 L175.4 496.9 L175.6 497.6 L175.8 498.4 L176 499.2 L176.3 499.9 L176.5 500.7 L176.8 501.4 L177 502.2 L177.3 503 L177.6 503.7 L177.9 504.5 L178.1 505.2 L178.4 506 L178.7 506.7 L179 507.5 L179.3 508.2 L179.6 509 L179.9 509.7 L180.2 510.5 L180.5 511.2 L180.8 512 L181.1 512.7 L181.4 513.5 L181.7 514.2 L182 514.9 L182.3 515.7 L182.6 516.4 L183 517.1 L183.3 517.9 L183.7 518.6 L184 519.3 L184.4 520 L184.7 520.8 L185.1 521.5 L185.4 522.2 L185.8 522.9 L186.2 523.6 L186.6 524.3 L187 525 L187.3 525.7 L187.7 526.4 L188.1 527.1 L188.5 527.8 L188.9 528.5 L189.4 529.2 L189.8 529.9 L190.2 530.6 L190.6 531.3 L191 531.9 L191.5 532.6 L191.9 533.3 L192.4 534 L192.8 534.6 L193.2 535.3 L193.7 536 L194.1 536.6 L194.6 537.3 L195 538 L195.4 538.7 L195.8 539.4 L196.2 540.1 L196.6 540.8 L197 541.5 L197.4 542.2 L197.7 542.9 L198.1 543.6 L198.5 544.3 L199 545 L199.7 545.9 L200.4 546.9 L201 547.4 L201.6 548 L202.2 548.5 L202.8 549 L203.4 549.5 L204 550 L204.7 550.5 L205.3 551 L206 551.4 L206.7 551.9 L207.3 552.3 L208 552.8 L208.6 553.3 L209.3 553.7 L209.9 554.2 L210.6 554.7 L211.2 555.2 L211.9 555.7 L212.5 556.1 L213.1 556.6 L213.8 557.1 L214.4 557.6 L215.1 558.1 L215.7 558.5 L216.4 559 L217 559.5 L217.6 560 L218.3 560.5 L218.9 561 L219.6 561.4 L220.2 561.9 L220.8 562.4 L221.5 562.9 L222.1 563.4 L222.7 564 L223.3 564.5 L223.9 565 L224.6 565.5 L225.2 566 L225.8 566.5 L226.4 567.1 L227 567.6 L227.6 568.1 L228.2 568.6 L228.9 569.1 L229.5 569.6 L230.1 570.1 L230.7 570.6 L231.4 571.1 L232 571.6 L232.7 572.1 L233.3 572.5 L234 573 L234.7 573.4 L235.3 573.9 L236 574.3 L236.7 574.7 L237.4 575 L238.1 575.4 L238.9 575.8 L239.6 576.1 L240.3 576.4 L241.1 576.8 L241.8 577.1 L242.5 577.4 L243.3 577.7 L244 578 L244.8 578.3 L245.5 578.6 L246.3 578.8 L247 579.1 L247.8 579.4 L248.6 579.6 L249.3 579.9 L250.1 580.2 L250.8 580.4 L251.6 580.7 L252.4 580.9 L253.1 581.2 L253.9 581.4 L254.6 581.7 L255.4 581.9 L256.2 582.2 L256.9 582.4 L257.7 582.7 L258.5 582.9 L259.2 583.1 L260 583.4 L260.8 583.6 L261.5 583.8 L262.3 584.1 L263.1 584.3 L263.9 584.5 L264.6 584.7 L265.4 584.9 L266.2 585.1 L267 585.3 L267.8 585.5 L268.5 585.7 L269.3 585.9 L270.1 586 L270.9 586.2 L271.7 586.4 L272.5 586.6 L273.2 586.7 L274 586.9 L274.8 587 L275.6 587.2 L276.4 587.3 L277.2 587.5 L278 587.6 L278.8 587.8 L279.6 587.9 L280.3 588.1 L281.1 588.2 L281.9 588.3 L282.7 588.5 L283.5 588.6 L284.3 588.8 L285.1 588.9 L285.9 589 L286.7 589.1 L287.5 589.3 L288.3 589.4 L289.1 589.5 L289.9 589.6 L290.6 589.8 L291.4 589.9 L292.2 590 L293 590.1 L293.8 590.2 L294.6 590.3 L295.4 590.4 L296.6 590.6 L297.8 590.8 L299 590.9 L299.4 591" fill="none" stroke="#b0b0a0" stroke-width="1.4" stroke-linejoin="round" stroke-linecap="round"/>
<path d="M20.1 469.6 V621.3 H299.4" fill="none" stroke="#3a3a3a" stroke-width="1.3"/>
<path d="M16.1 621.3H20.1M17.6 602.3H20.1M16.1 583.4H20.1M17.6 564.4H20.1M16.1 545.5H20.1M17.6 526.5H20.1M16.1 507.5H20.1M17.6 488.6H20.1M16.1 469.6H20.1M20.1 621.3V624.1M35.6 621.3V623.1M51.1 621.3V624.1M66.7 621.3V623.1M82.2 621.3V624.1M97.7 621.3V623.1M113.2 621.3V624.1M128.7 621.3V623.1M144.2 621.3V624.1M159.7 621.3V623.1M175.3 621.3V624.1M190.8 621.3V623.1M206.3 621.3V624.1M221.8 621.3V623.1M237.3 621.3V624.1M252.8 621.3V623.1M268.4 621.3V624.1M283.9 621.3V623.1M299.4 621.3V624.1" stroke="#3a3a3a" stroke-width="1.1"/>
<g font-family="Liberation Sans, sans-serif" font-weight="bold" font-size="5.8" fill="#1c1c24"><text x="14" y="621.9" text-anchor="end" dominant-baseline="central">0</text><text x="14" y="584" text-anchor="end" dominant-baseline="central">100</text><text x="14" y="546.1" text-anchor="end" dominant-baseline="central">200</text><text x="14" y="508.1" text-anchor="end" dominant-baseline="central">300</text><text x="14" y="470.2" text-anchor="end" dominant-baseline="central">400</text><text x="20.1" y="629.2" text-anchor="middle" dominant-baseline="central">0.0</text><text x="51.1" y="629.2" text-anchor="middle" dominant-baseline="central">0.2</text><text x="82.2" y="629.2" text-anchor="middle" dominant-baseline="central">0.4</text><text x="113.2" y="629.2" text-anchor="middle" dominant-baseline="central">0.6</text><text x="144.2" y="629.2" text-anchor="middle" dominant-baseline="central">0.8</text><text x="175.3" y="629.2" text-anchor="middle" dominant-baseline="central">1.0</text><text x="206.3" y="629.2" text-anchor="middle" dominant-baseline="central">1.2</text><text x="237.3" y="629.2" text-anchor="middle" dominant-baseline="central">1.4</text><text x="268.4" y="629.2" text-anchor="middle" dominant-baseline="central">1.6</text><text x="299.4" y="629.2" text-anchor="middle" dominant-baseline="central">1.8</text></g>
<text x="11" y="461.8" font-family="Liberation Sans, sans-serif" font-weight="bold" font-size="5.8" fill="#1c1c24" text-anchor="middle" dominant-baseline="central">[degC]</text>
<text x="301.7" y="619.2" font-family="Liberation Sans, sans-serif" font-weight="bold" font-size="5.8" fill="#1c1c24" dominant-baseline="central">x10<tspan font-size="4.1" dx="1.2" dy="-2.5">3</tspan></text>
<text x="159.5" y="641" font-family="Liberation Mono, monospace" font-size="5.5" fill="#333" text-anchor="middle" dominant-baseline="central">X Time [s]</text>
<rect x="203.7" y="471.3" width="94.6" height="58.9" fill="#fff" stroke="#2a2a2a" stroke-width="1.2"/>
<line x1="206.6" y1="477.5" x2="215.4" y2="477.5" stroke="#ee5555" stroke-width="1.5"/>
<text x="217.9" y="478.4" font-family="Liberation Mono, monospace" font-weight="bold" font-size="5.9" fill="#222" dominant-baseline="central" textLength="77.2" lengthAdjust="spacingAndGlyphs">cell 1 temperature [degC]</text>
<line x1="206.6" y1="486.9" x2="215.4" y2="486.9" stroke="#3d7fa6" stroke-width="1.5"/>
<text x="217.9" y="487.8" font-family="Liberation Mono, monospace" font-weight="bold" font-size="5.9" fill="#222" dominant-baseline="central" textLength="77.2" lengthAdjust="spacingAndGlyphs">cell 2 temperature [degC]</text>
<line x1="206.6" y1="496.3" x2="215.4" y2="496.3" stroke="#fbbd5a" stroke-width="1.5"/>
<text x="217.9" y="497.2" font-family="Liberation Mono, monospace" font-weight="bold" font-size="5.9" fill="#222" dominant-baseline="central" textLength="77.2" lengthAdjust="spacingAndGlyphs">cell 3 temperature [degC]</text>
<line x1="206.6" y1="505.6" x2="215.4" y2="505.6" stroke="#4cba5a" stroke-width="1.5"/>
<text x="217.9" y="506.5" font-family="Liberation Mono, monospace" font-weight="bold" font-size="5.9" fill="#222" dominant-baseline="central" textLength="77.2" lengthAdjust="spacingAndGlyphs">cell 4 temperature [degC]</text>
<line x1="206.6" y1="515" x2="215.4" y2="515" stroke="#f2a2c8" stroke-width="1.5"/>
<text x="217.9" y="515.9" font-family="Liberation Mono, monospace" font-weight="bold" font-size="5.9" fill="#222" dominant-baseline="central" textLength="77.2" lengthAdjust="spacingAndGlyphs">cell 5 temperature [degC]</text>
<line x1="206.6" y1="524.4" x2="215.4" y2="524.4" stroke="#b0b0a0" stroke-width="1.5"/>
<text x="217.9" y="525.3" font-family="Liberation Mono, monospace" font-weight="bold" font-size="5.9" fill="#222" dominant-baseline="central" textLength="77.2" lengthAdjust="spacingAndGlyphs">cell 6 temperature [degC]</text>
<line x1="306.4" y1="473.7" x2="315.8" y2="473.7" stroke="#ee5555" stroke-width="1.6"/>
<line x1="306.4" y1="479.2" x2="315.8" y2="479.2" stroke="#3d7fa6" stroke-width="1.6"/>
<line x1="306.4" y1="484.7" x2="315.8" y2="484.7" stroke="#fbbd5a" stroke-width="1.6"/>
<line x1="306.4" y1="490.1" x2="315.8" y2="490.1" stroke="#4cba5a" stroke-width="1.6"/>
<line x1="306.4" y1="495.6" x2="315.8" y2="495.6" stroke="#f2a2c8" stroke-width="1.6"/>
<line x1="306.4" y1="501.1" x2="315.8" y2="501.1" stroke="#b0b0a0" stroke-width="1.6"/>
<line x1="364.6" y1="473.6" x2="364.6" y2="624.4" stroke="#e2e2e2" stroke-width="0.9" stroke-dasharray="1 1"/>
<line x1="379.4" y1="473.6" x2="379.4" y2="624.4" stroke="#d8d8d8" stroke-width="0.9" stroke-dasharray="1 1"/>
<line x1="394.2" y1="473.6" x2="394.2" y2="624.4" stroke="#e2e2e2" stroke-width="0.9" stroke-dasharray="1 1"/>
<line x1="409" y1="473.6" x2="409" y2="624.4" stroke="#d8d8d8" stroke-width="0.9" stroke-dasharray="1 1"/>
<line x1="423.8" y1="473.6" x2="423.8" y2="624.4" stroke="#e2e2e2" stroke-width="0.9" stroke-dasharray="1 1"/>
<line x1="438.6" y1="473.6" x2="438.6" y2="624.4" stroke="#d8d8d8" stroke-width="0.9" stroke-dasharray="1 1"/>
<line x1="453.4" y1="473.6" x2="453.4" y2="624.4" stroke="#e2e2e2" stroke-width="0.9" stroke-dasharray="1 1"/>
<line x1="468.2" y1="473.6" x2="468.2" y2="624.4" stroke="#d8d8d8" stroke-width="0.9" stroke-dasharray="1 1"/>
<line x1="483" y1="473.6" x2="483" y2="624.4" stroke="#e2e2e2" stroke-width="0.9" stroke-dasharray="1 1"/>
<line x1="497.9" y1="473.6" x2="497.9" y2="624.4" stroke="#d8d8d8" stroke-width="0.9" stroke-dasharray="1 1"/>
<line x1="512.7" y1="473.6" x2="512.7" y2="624.4" stroke="#e2e2e2" stroke-width="0.9" stroke-dasharray="1 1"/>
<line x1="527.5" y1="473.6" x2="527.5" y2="624.4" stroke="#d8d8d8" stroke-width="0.9" stroke-dasharray="1 1"/>
<line x1="542.3" y1="473.6" x2="542.3" y2="624.4" stroke="#e2e2e2" stroke-width="0.9" stroke-dasharray="1 1"/>
<line x1="557.1" y1="473.6" x2="557.1" y2="624.4" stroke="#d8d8d8" stroke-width="0.9" stroke-dasharray="1 1"/>
<line x1="571.9" y1="473.6" x2="571.9" y2="624.4" stroke="#e2e2e2" stroke-width="0.9" stroke-dasharray="1 1"/>
<line x1="586.7" y1="473.6" x2="586.7" y2="624.4" stroke="#d8d8d8" stroke-width="0.9" stroke-dasharray="1 1"/>
<line x1="601.5" y1="473.6" x2="601.5" y2="624.4" stroke="#e2e2e2" stroke-width="0.9" stroke-dasharray="1 1"/>
<line x1="349.8" y1="613.6" x2="616.3" y2="613.6" stroke="#ececec" stroke-width="0.8" stroke-dasharray="1 1"/>
<line x1="349.8" y1="602.9" x2="616.3" y2="602.9" stroke="#dcdcdc" stroke-width="0.8" stroke-dasharray="1 1"/>
<line x1="349.8" y1="592.1" x2="616.3" y2="592.1" stroke="#ececec" stroke-width="0.8" stroke-dasharray="1 1"/>
<line x1="349.8" y1="581.3" x2="616.3" y2="581.3" stroke="#dcdcdc" stroke-width="0.8" stroke-dasharray="1 1"/>
<line x1="349.8" y1="570.5" x2="616.3" y2="570.5" stroke="#ececec" stroke-width="0.8" stroke-dasharray="1 1"/>
<line x1="349.8" y1="559.8" x2="616.3" y2="559.8" stroke="#dcdcdc" stroke-width="0.8" stroke-dasharray="1 1"/>
<line x1="349.8" y1="549" x2="616.3" y2="549" stroke="#ececec" stroke-width="0.8" stroke-dasharray="1 1"/>
<line x1="349.8" y1="538.2" x2="616.3" y2="538.2" stroke="#dcdcdc" stroke-width="0.8" stroke-dasharray="1 1"/>
<line x1="349.8" y1="527.5" x2="616.3" y2="527.5" stroke="#ececec" stroke-width="0.8" stroke-dasharray="1 1"/>
<line x1="349.8" y1="516.7" x2="616.3" y2="516.7" stroke="#dcdcdc" stroke-width="0.8" stroke-dasharray="1 1"/>
<line x1="349.8" y1="505.9" x2="616.3" y2="505.9" stroke="#ececec" stroke-width="0.8" stroke-dasharray="1 1"/>
<line x1="349.8" y1="495.1" x2="616.3" y2="495.1" stroke="#dcdcdc" stroke-width="0.8" stroke-dasharray="1 1"/>
<line x1="349.8" y1="484.4" x2="616.3" y2="484.4" stroke="#ececec" stroke-width="0.8" stroke-dasharray="1 1"/>
<path d="M349.8 473.6 H616.3 V624.4" fill="none" stroke="#d4d4d4" stroke-width="1"/>
<path d="M349.8 538.2 L350.7 538.2 L351.8 538.2 L353 538.2 L353.8 538.1 L354.6 538.1 L355.4 538 L356.2 538 L357 537.9 L357.8 537.8 L358.6 537.7 L359.4 537.5 L360.2 537.4 L361 537.2 L361.8 537 L362.6 536.8 L363.3 536.5 L364 536.1 L364.7 535.8 L365.4 535.4 L366.1 534.9 L366.8 534.5 L367.4 534 L368 533.5 L368.6 532.9 L369.2 532.4 L369.7 531.8 L370.3 531.2 L370.8 530.6 L371.3 530 L371.8 529.3 L372.4 528.7 L372.9 528.1 L373.4 527.5 L374 526.9 L374.5 526.3 L375.1 525.7 L375.6 525.2 L376.2 524.6 L377.1 523.8 L378.1 523.2 L379.2 522.7 L380.3 522.2 L381.5 521.9 L382.7 521.8 L383.9 521.7 L384.7 521.8 L385.5 521.8 L386.3 521.9 L387.1 521.9 L387.9 522 L388.7 522.1 L389.5 522.2 L390.3 522.3 L391.1 522.4 L391.9 522.5 L392.7 522.6 L393.5 522.6 L394.3 522.7 L395.1 522.8 L395.9 522.9 L396.7 523.1 L397.5 523.2 L398.3 523.3 L399.1 523.4 L399.9 523.5 L400.7 523.6 L401.5 523.7 L402.3 523.8 L403.1 523.8 L403.9 523.9 L404.7 524 L405.5 524.1 L406.3 524.1 L407.1 524.2 L407.9 524.3 L408.7 524.3 L409.5 524.4 L410.3 524.5 L411.1 524.6 L411.9 524.7 L412.7 524.7 L413.5 524.8 L414.3 525 L415.1 525.1 L415.9 525.2 L416.7 525.4 L417.5 525.5 L418.6 525.8 L419.7 526.3 L420.6 527 L421.3 527.9 L421.7 528.9 L421.9 530.1 L422 530.9 L422.1 531.7 L422.2 532.5 L422.3 533.3 L422.4 534.1 L422.5 534.9 L422.5 535.7 L422.6 536.5 L422.7 537.3 L422.8 538.1 L422.8 538.9 L422.9 539.7 L423 540.5 L423.1 541.3 L423.1 542.1 L423.2 543.3 L423.3 544.5 L423.4 545.3 L423.8 559.8 L424.1 613.6 L424.1 613.6 L424.2 612.8 L424.3 611.6 L424.4 610.4 L424.4 609.6 L424.5 608.8 L424.6 608 L424.7 607.2 L424.7 606.4 L424.8 605.6 L424.9 604.8 L424.9 604 L425 603.2 L425.1 602.4 L425.2 601.6 L425.3 600.8 L425.4 600 L425.5 599.2 L425.6 598.4 L425.8 597.6 L425.9 596.8 L426 596 L426.1 595.2 L426.3 594.4 L426.4 593.6 L426.6 592.8 L426.7 592 L426.9 591.2 L427 590.5 L427.2 589.7 L427.4 588.9 L427.6 588.1 L427.8 587.3 L428 586.5 L428.2 585.8 L428.4 585 L428.6 584.2 L428.8 583.4 L429.1 582.7 L429.3 581.9 L429.5 581.1 L429.8 580.3 L430 579.6 L430.3 578.8 L430.5 578 L430.8 577.3 L431.1 576.5 L431.3 575.8 L431.6 575 L432 574.3 L432.3 573.5 L432.6 572.8 L433 572.1 L433.3 571.4 L433.7 570.7 L434.1 570 L434.5 569.3 L434.9 568.6 L435.3 567.9 L435.8 567.2 L436.2 566.5 L436.7 565.9 L437.2 565.2 L437.7 564.6 L438.2 564 L438.7 563.3 L439.2 562.7 L439.7 562.1 L440.3 561.5 L440.8 560.9 L441.4 560.3 L441.9 559.7 L442.5 559.2 L443.1 558.6 L443.6 558.1 L444.2 557.5 L444.9 557 L445.5 556.5 L446.1 556 L446.7 555.5 L447.4 555 L448 554.5 L448.7 554.1 L449.4 553.6 L450 553.2 L450.7 552.7 L451.4 552.3 L452.1 551.9 L452.8 551.4 L453.5 551 L454.1 550.6 L454.9 550.2 L455.6 549.9 L456.3 549.5 L457 549.2 L457.8 548.9 L458.6 548.7 L459.3 548.4 L460.1 548.2 L460.9 547.9 L461.6 547.7 L462.4 547.4 L463.1 547.1 L463.8 546.7 L464.5 546.3 L465.5 545.6 L466.4 544.9 L467.2 544 L467.8 543 L468.1 541.9 L468.2 541.5 L468.5 510.7 L468.5 510.7 L468.8 511.5 L469.3 512.6 L469.7 513.6 L470.2 514.8 L470.5 515.5 L470.8 516.2 L471.1 517 L471.4 517.7 L471.7 518.5 L472.1 519.2 L472.4 519.9 L472.7 520.6 L473.1 521.4 L473.4 522.1 L473.8 522.8 L474.1 523.5 L474.5 524.3 L474.8 525 L475.2 525.7 L475.6 526.4 L475.9 527.1 L476.3 527.8 L476.7 528.5 L477.1 529.2 L477.5 529.9 L477.9 530.6 L478.3 531.3 L478.8 532 L479.2 532.6 L479.7 533.3 L480.2 533.9 L480.7 534.5 L481.5 535.4 L482.4 536.2 L483.3 536.9 L484.4 537.4 L485.5 537.8 L486.7 538.1 L487.5 538.2 L488.3 538.4 L489.1 538.5 L489.9 538.6 L490.7 538.7 L491.5 538.7 L492.3 538.8 L493.1 538.8 L493.9 538.9 L494.7 538.9 L495.5 538.9 L496.3 539 L497.1 539.1 L498.2 539.2 L499.4 539.5 L500.6 539.8 L501.3 540 L502.1 540.3 L502.9 540.5 L504 540.8 L505.2 541 L506.4 541.2 L507.2 541.2 L508 541.3 L508.8 541.3 L509.6 541.4 L510.4 541.4 L511.2 541.4 L512 541.4 L512.8 541.5 L513.6 541.5 L514.4 541.5 L515.2 541.5 L516 541.5 L516.8 541.5 L517.6 541.5 L518.4 541.5 L519.2 541.5 L520 541.5 L520.8 541.5 L521.6 541.5 L522.4 541.5 L523.2 541.5 L524 541.5 L524.8 541.5 L525.6 541.5 L526.4 541.5 L527.2 541.5 L528 541.5 L528.8 541.5 L529.7 541.5 L530.5 541.5 L531.3 541.5 L532.1 541.5 L532.9 541.5 L533.7 541.5 L534.5 541.5 L535.3 541.5 L536.1 541.5 L536.9 541.5 L537.7 541.5 L538.5 541.4 L539.3 541.4 L540.1 541.4 L540.9 541.4 L541.7 541.4 L542.5 541.4 L543.3 541.4 L544.1 541.4 L544.9 541.4 L545.7 541.4 L546.5 541.4 L547.3 541.4 L548.1 541.3 L548.9 541.3 L549.7 541.3 L550.5 541.3 L551.3 541.3 L552.1 541.3 L552.9 541.3 L553.7 541.2 L554.5 541.2 L555.3 541.2 L556.1 541.2 L556.9 541.2 L557.7 541.2 L558.5 541.2 L559.3 541.1 L560.1 541.1 L560.9 541.1 L561.7 541.1 L562.5 541.1 L563.3 541.1 L564.1 541 L565 541 L565.8 541 L566.6 541 L567.4 541 L568.2 541 L569 541 L569.8 541 L570.6 540.9 L571.4 540.9 L572.2 540.9 L573 540.9 L573.8 540.9 L574.6 540.9 L575.4 540.9 L576.2 540.9 L577 540.9 L577.8 540.8 L578.6 540.8 L579.4 540.8 L580.2 540.8 L581 540.8 L581.8 540.8 L582.6 540.8 L583.4 540.8 L584.2 540.8 L585 540.8 L585.8 540.7 L586.6 540.7 L587.4 540.7 L588.2 540.7 L589 540.7 L589.8 540.7 L590.6 540.7 L591.4 540.7 L592.2 540.7 L593 540.7 L593.8 540.6 L594.6 540.6 L595.4 540.6 L596.2 540.6 L597 540.6 L597.8 540.6 L598.6 540.6 L599.5 540.6 L600.3 540.6 L601.1 540.6 L601.9 540.5 L602.7 540.5 L603.5 540.5 L604.3 540.5 L605.1 540.5 L605.9 540.5 L606.7 540.5 L607.5 540.5 L608.3 540.5 L609.1 540.5 L609.9 540.5 L610.7 540.4 L611.5 540.4 L612.3 540.4 L613.5 540.4 L614.7 540.4 L615.9 540.4 L616.3 540.4" fill="none" stroke="#ee3535" stroke-width="1.4" stroke-linejoin="round" stroke-linecap="round"/>
<path d="M349.8 538.2 L350.7 538.2 L351.8 538.2 L353 538.2 L354.2 538.2 L355 538.2 L355.8 538.2 L356.6 538.2 L357.4 538.2 L358.2 538.2 L359 538.2 L359.8 538.2 L360.6 538.2 L361.4 538.2 L362.3 538.2 L363.1 538.2 L363.9 538.2 L364.7 538.2 L365.5 538.2 L366.3 538.1 L367.1 538.1 L367.9 538.1 L368.7 538.1 L369.5 538.1 L370.3 538.1 L371.1 538.1 L371.9 538.1 L372.7 538.1 L373.5 538.1 L374.3 538.1 L375.1 538.1 L375.9 538.1 L376.7 538 L377.5 538 L378.3 538 L379.1 538 L379.9 538 L380.7 538 L381.5 538 L382.3 538 L383.1 538 L383.9 537.9 L384.7 537.9 L385.5 537.9 L386.4 537.9 L387.2 537.9 L388 537.9 L388.8 537.8 L389.6 537.8 L390.4 537.8 L391.2 537.8 L392 537.8 L392.8 537.7 L393.6 537.7 L394.4 537.7 L395.2 537.7 L396 537.7 L396.8 537.6 L397.6 537.6 L398.4 537.6 L399.2 537.6 L400 537.6 L400.8 537.5 L401.6 537.5 L402.4 537.5 L403.2 537.5 L404 537.5 L404.8 537.5 L405.6 537.4 L406.4 537.4 L407.2 537.4 L408 537.4 L408.8 537.4 L409.6 537.4 L410.4 537.3 L411.3 537.3 L412.1 537.3 L412.9 537.3 L413.7 537.3 L414.5 537.3 L415.3 537.3 L416.1 537.3 L416.9 537.3 L417.7 537.2 L418.5 537.2 L419.3 537.2 L420.1 537.2 L420.9 537.2 L421.7 537.2 L422.5 537.2 L423.3 537.2 L424.1 537.1 L424.9 537.1 L425.7 537.1 L426.5 537.1 L427.3 537.1 L428.1 537.1 L428.9 537.1 L429.7 537 L430.5 537 L431.3 537 L432.1 537 L432.9 537 L433.7 537 L434.5 536.9 L435.4 536.9 L436.2 536.9 L437 536.9 L437.8 536.9 L438.6 536.8 L439.4 536.8 L440.2 536.8 L441 536.7 L441.8 536.7 L442.6 536.6 L443.4 536.6 L444.2 536.6 L445 536.5 L445.8 536.5 L446.6 536.4 L447.4 536.4 L448.2 536.3 L449 536.3 L449.8 536.2 L450.6 536.2 L451.4 536.2 L452.2 536.1 L453 536.1 L453.8 536.1 L454.6 536.1 L455.4 536.1 L456.2 536.1 L457 536.2 L457.8 536.3 L458.6 536.3 L459.4 536.4 L460.2 536.5 L461 536.6 L461.8 536.7 L462.6 536.9 L463.4 537 L464.6 537.3 L465.7 537.6 L466.7 538.1 L467.5 538.9 L468 540 L468.2 540.4 L468.5 605.5 L468.5 605.5 L468.6 604.7 L468.7 603.5 L468.9 602.4 L469 601.2 L469.1 600.4 L469.2 599.6 L469.3 598.8 L469.3 598 L469.4 597.2 L469.5 596.4 L469.6 595.6 L469.7 594.8 L469.8 594 L469.9 593.2 L470 592.4 L470.1 591.6 L470.2 590.8 L470.3 590 L470.4 589.2 L470.5 588.4 L470.6 587.6 L470.7 586.8 L470.8 586 L471 585.2 L471.1 584.5 L471.2 583.7 L471.4 582.9 L471.5 582.1 L471.7 581.3 L471.8 580.5 L472 579.7 L472.1 578.9 L472.3 578.2 L472.5 577.4 L472.6 576.6 L472.8 575.8 L473 575 L473.2 574.2 L473.4 573.5 L473.6 572.7 L473.8 571.9 L474 571.1 L474.3 570.4 L474.5 569.6 L474.8 568.9 L475.1 568.1 L475.4 567.4 L475.7 566.7 L476.1 565.9 L476.4 565.2 L476.8 564.5 L477.1 563.8 L477.5 563.1 L477.9 562.4 L478.4 561.7 L479.1 560.7 L479.8 559.8 L480.7 559 L481.6 558.3 L482.7 557.7 L483.8 557.2 L484.9 556.8 L485.6 556.5 L486.4 556.3 L487.1 556 L487.9 555.7 L488.6 555.4 L489.4 555.1 L490.1 554.8 L490.8 554.4 L491.6 554.1 L492.3 553.7 L493 553.4 L493.7 553 L494.5 552.7 L495.2 552.4 L495.9 552 L496.6 551.7 L497.4 551.4 L498.1 551.1 L498.9 550.8 L499.6 550.5 L500.4 550.3 L501.1 550 L501.9 549.7 L502.7 549.5 L503.4 549.2 L504.2 549 L505 548.8 L505.7 548.5 L506.5 548.3 L507.3 548.1 L508 547.9 L508.8 547.7 L509.6 547.5 L510.4 547.3 L511.2 547.2 L511.9 547 L512.7 546.8 L513.5 546.6 L514.3 546.5 L515.1 546.3 L515.9 546.1 L516.7 546 L517.4 545.8 L518.2 545.7 L519 545.6 L519.8 545.4 L520.6 545.3 L521.4 545.2 L522.2 545.1 L523 544.9 L523.8 544.8 L524.6 544.7 L525.4 544.6 L526.2 544.5 L527 544.4 L527.8 544.3 L528.5 544.2 L529.3 544.1 L530.1 544 L530.9 543.9 L531.7 543.9 L532.5 543.8 L533.3 543.7 L534.1 543.7 L534.9 543.6 L535.7 543.6 L536.5 543.5 L537.3 543.5 L538.1 543.4 L538.9 543.4 L539.7 543.4 L540.5 543.3 L541.3 543.3 L542.1 543.2 L542.9 543.2 L543.7 543.2 L544.5 543.1 L545.3 543.1 L546.2 543.1 L547 543 L547.8 543 L548.6 543 L549.4 543 L550.2 542.9 L551 542.9 L551.8 542.9 L552.6 542.9 L553.4 542.8 L554.2 542.8 L555 542.8 L555.8 542.8 L556.6 542.7 L557.4 542.7 L558.2 542.7 L559 542.7 L559.8 542.6 L560.6 542.6 L561.4 542.6 L562.2 542.6 L563 542.6 L563.8 542.5 L564.6 542.5 L565.4 542.5 L566.2 542.5 L567 542.5 L567.8 542.4 L568.6 542.4 L569.4 542.4 L570.2 542.4 L571 542.3 L571.8 542.3 L572.6 542.3 L573.4 542.3 L574.2 542.3 L575 542.2 L575.8 542.2 L576.6 542.2 L577.4 542.2 L578.2 542.1 L579 542.1 L579.8 542.1 L580.6 542.1 L581.4 542.1 L582.2 542 L583 542 L583.8 542 L584.6 542 L585.4 541.9 L586.2 541.9 L587 541.9 L587.8 541.9 L588.6 541.9 L589.4 541.8 L590.2 541.8 L591 541.8 L591.8 541.8 L592.6 541.8 L593.4 541.7 L594.3 541.7 L595.1 541.7 L595.9 541.7 L596.7 541.7 L597.5 541.6 L598.3 541.6 L599.1 541.6 L599.9 541.6 L600.7 541.6 L601.5 541.6 L602.3 541.5 L603.1 541.5 L603.9 541.5 L604.7 541.5 L605.5 541.5 L606.3 541.4 L607.1 541.4 L607.9 541.4 L608.7 541.4 L609.5 541.4 L610.3 541.4 L611.1 541.3 L611.9 541.3 L613.1 541.3 L614.3 541.3 L615.4 541.3 L616.3 541.2" fill="none" stroke="#2d7ba6" stroke-width="1.4" stroke-linejoin="round" stroke-linecap="round"/>
<path d="M349.8 538.2 L350.7 538.2 L351.8 538.2 L353 538.2 L354.2 538.2 L355 538.2 L355.8 538.2 L356.6 538.2 L357.4 538.2 L358.2 538.2 L359 538.2 L359.8 538.2 L360.6 538.2 L361.4 538.2 L362.3 538.1 L363.1 538.1 L363.9 538.1 L364.7 538.1 L365.5 538.1 L366.3 538.1 L367.1 538.1 L367.9 538.1 L368.7 538 L369.5 538 L370.3 538 L371.1 538 L371.9 538 L372.7 537.9 L373.5 537.9 L374.3 537.9 L375.1 537.8 L375.9 537.8 L376.7 537.8 L377.5 537.8 L378.3 537.7 L379.1 537.7 L379.9 537.7 L380.7 537.6 L381.5 537.6 L382.3 537.6 L383.1 537.5 L383.9 537.5 L384.7 537.5 L385.5 537.4 L386.3 537.4 L387.1 537.3 L387.9 537.3 L388.7 537.3 L389.5 537.2 L390.4 537.2 L391.2 537.1 L392 537.1 L392.8 537 L393.6 537 L394.4 536.9 L395.2 536.9 L396 536.8 L396.8 536.8 L397.6 536.7 L398.4 536.7 L399.2 536.6 L400 536.6 L400.8 536.5 L401.6 536.5 L402.4 536.4 L403.2 536.3 L404 536.3 L404.8 536.2 L405.6 536.2 L406.4 536.1 L407.2 536 L408 536 L408.8 535.9 L409.6 535.8 L410.4 535.7 L411.2 535.7 L412 535.6 L412.8 535.6 L413.6 535.5 L414.4 535.4 L415.2 535.3 L416 535.3 L416.8 535.2 L417.6 535 L418.4 534.9 L419.2 534.8 L420.3 534.5 L421.4 534.1 L422.3 533.4 L422.9 532.5 L423.2 531.5 L423.3 530.3 L423.4 529.1 L423.4 528.3 L423.4 527.5 L423.5 526.7 L423.5 525.9 L423.5 525.1 L423.5 524.3 L423.5 523.5 L423.6 522.7 L423.6 521.9 L423.6 521.1 L423.6 520.3 L423.6 519.5 L423.6 518.7 L423.6 517.9 L423.7 517.1 L423.7 516.3 L423.7 515.4 L423.7 514.6 L423.7 513.8 L423.7 513 L423.7 512.2 L423.7 511.4 L423.8 510.6 L423.8 509.8 L423.8 509 L423.8 508.2 L423.8 507.4 L423.8 506.6 L423.8 505.8 L423.8 505 L423.9 504.2 L423.9 503.4 L423.9 502.6 L423.9 501.8 L423.9 501 L423.9 499.8 L424 498.6 L424 497.4 L424 497 L424 497 L424.3 497.8 L424.8 498.9 L425.2 499.9 L425.6 500.7 L425.9 501.4 L426.2 502.1 L426.6 502.9 L426.9 503.6 L427.3 504.3 L427.6 505 L428 505.8 L428.4 506.5 L428.7 507.2 L429.1 507.9 L429.5 508.6 L429.9 509.3 L430.4 510 L430.8 510.6 L431.3 511.3 L431.7 511.9 L432.2 512.6 L432.7 513.2 L433.2 513.8 L433.8 514.4 L434.3 515 L434.9 515.6 L435.4 516.2 L436 516.8 L436.6 517.3 L437.1 517.9 L437.7 518.5 L438.2 519.1 L438.8 519.6 L439.4 520.2 L439.9 520.8 L440.5 521.4 L441 522 L441.6 522.6 L442.1 523.2 L442.7 523.8 L443.2 524.3 L443.8 524.9 L444.4 525.4 L445 526 L445.6 526.5 L446.2 527 L446.9 527.5 L447.5 528 L448.2 528.4 L448.8 528.9 L449.5 529.3 L450.2 529.7 L450.9 530.1 L451.6 530.5 L452.3 530.9 L453 531.3 L453.7 531.7 L454.4 532 L455.2 532.4 L455.9 532.7 L456.6 533 L457.4 533.4 L458.1 533.7 L458.9 534 L459.6 534.2 L460.4 534.5 L461.2 534.7 L461.9 534.9 L462.7 535.1 L463.5 535.3 L464.3 535.4 L465.1 535.6 L465.9 535.8 L467 536.1 L468 536.7 L468.8 537.4 L469.4 538.3 L469.7 539.5 L469.8 540.6 L469.8 541.4 L469.9 542.2 L469.9 543 L469.9 543.9 L469.9 544.7 L469.9 545.5 L469.9 546.3 L469.9 547.1 L470 547.9 L470 548.7 L470 549.5 L470 550.3 L470 551.1 L470 551.9 L470 552.7 L470 553.5 L470.1 554.3 L470.1 555.1 L470.1 555.9 L470.1 556.7 L470.1 557.5 L470.1 558.3 L470.1 559.1 L470.1 560 L470.1 560.8 L470.1 561.6 L470.1 562.4 L470.1 563.2 L470.2 564 L470.2 564.8 L470.2 565.6 L470.2 566.4 L470.2 567.2 L470.2 568 L470.2 568.8 L470.2 569.6 L470.2 570.4 L470.2 571.2 L470.2 572 L470.2 572.8 L470.3 573.6 L470.3 574.4 L470.3 575.2 L470.3 576.1 L470.3 576.9 L470.3 577.7 L470.3 578.5 L470.3 579.3 L470.3 580.1 L470.3 580.9 L470.3 581.7 L470.3 582.5 L470.3 583.3 L470.4 584.1 L470.4 584.9 L470.4 585.7 L470.4 586.5 L470.4 587.3 L470.4 588.1 L470.4 588.9 L470.4 589.7 L470.4 590.5 L470.4 591.3 L470.4 592.2 L470.4 593 L470.4 594.1 L470.5 595.3 L470.5 596.2 L470.5 596.2 L470.6 595.3 L470.8 594.2 L471 593 L471.1 592.2 L471.3 591.4 L471.4 590.6 L471.5 589.8 L471.7 589 L471.8 588.2 L471.9 587.4 L472.1 586.6 L472.2 585.8 L472.4 585 L472.5 584.2 L472.7 583.4 L472.8 582.6 L473 581.8 L473.2 581 L473.3 580.3 L473.5 579.5 L473.7 578.7 L473.8 577.9 L474 577.1 L474.2 576.3 L474.4 575.5 L474.6 574.7 L474.8 574 L475.1 573.2 L475.3 572.4 L475.6 571.7 L475.8 570.9 L476.1 570.1 L476.4 569.4 L476.7 568.6 L477 567.9 L477.3 567.1 L477.6 566.4 L477.9 565.6 L478.3 564.9 L478.6 564.2 L479 563.5 L479.4 562.7 L479.8 562 L480.2 561.3 L480.6 560.6 L481 560 L481.6 559 L482.3 558 L482.6 557.6 L483 527.7 L483 527.7 L483.4 528.4 L483.9 529.5 L484.5 530.6 L485.1 531.6 L485.9 532.5 L486.7 533.3 L487.7 534.1 L488.7 534.7 L489.4 535.1 L490.1 535.5 L490.8 535.8 L491.6 536.1 L492.3 536.4 L493.1 536.6 L493.9 536.8 L494.6 537 L495.4 537.2 L496.2 537.4 L497 537.6 L497.7 537.8 L498.5 538 L499.3 538.3 L500 538.5 L500.8 538.8 L501.6 539.1 L502.3 539.4 L503.1 539.7 L503.8 539.9 L504.6 540.2 L505.4 540.4 L506.1 540.6 L506.9 540.7 L507.7 540.8 L508.5 540.9 L509.3 540.9 L510.1 540.9 L510.9 540.9 L511.7 540.9 L512.5 540.9 L513.3 540.9 L514.1 540.9 L514.9 540.9 L515.8 540.9 L516.6 540.9 L517.4 540.9 L518.2 540.9 L519 540.9 L519.8 540.9 L520.6 540.9 L521.4 540.9 L522.2 540.9 L523 540.9 L523.8 540.9 L524.6 540.9 L525.4 540.9 L526.2 540.9 L527 540.9 L527.8 540.9 L528.6 540.9 L529.4 540.9 L530.2 540.9 L531 540.9 L531.8 540.9 L532.6 540.9 L533.4 540.9 L534.3 540.9 L535.1 540.9 L535.9 540.9 L536.7 540.9 L537.5 540.8 L538.3 540.8 L539.1 540.8 L539.9 540.8 L540.7 540.8 L541.5 540.8 L542.3 540.8 L543.1 540.7 L543.9 540.7 L544.7 540.7 L545.5 540.7 L546.3 540.7 L547.1 540.7 L547.9 540.6 L548.7 540.6 L549.5 540.6 L550.3 540.6 L551.1 540.6 L551.9 540.5 L552.8 540.5 L553.6 540.5 L554.4 540.5 L555.2 540.5 L556 540.5 L556.8 540.4 L557.6 540.4 L558.4 540.4 L559.2 540.4 L560 540.4 L560.8 540.3 L561.6 540.3 L562.4 540.3 L563.2 540.3 L564 540.3 L564.8 540.3 L565.6 540.3 L566.4 540.2 L567.2 540.2 L568 540.2 L568.8 540.2 L569.6 540.2 L570.4 540.2 L571.3 540.2 L572.1 540.2 L572.9 540.2 L573.7 540.1 L574.5 540.1 L575.3 540.1 L576.1 540.1 L576.9 540.1 L577.7 540.1 L578.5 540.1 L579.3 540.1 L580.1 540.1 L580.9 540.1 L581.7 540.1 L582.5 540.1 L583.3 540.1 L584.1 540 L584.9 540 L585.7 540 L586.5 540 L587.3 540 L588.1 540 L588.9 540 L589.8 540 L590.6 540 L591.4 540 L592.2 540 L593 540 L593.8 540 L594.6 540 L595.4 540 L596.2 539.9 L597 539.9 L597.8 539.9 L598.6 539.9 L599.4 539.9 L600.2 539.9 L601 539.9 L601.8 539.9 L602.6 539.9 L603.4 539.9 L604.2 539.9 L605 539.9 L605.8 539.9 L606.6 539.9 L607.5 539.9 L608.3 539.9 L609.1 539.9 L609.9 539.9 L610.7 539.9 L611.5 539.9 L612.3 539.9 L613.5 539.9 L614.7 539.8 L615.9 539.8 L616.3 539.8" fill="none" stroke="#eeae32" stroke-width="1.4" stroke-linejoin="round" stroke-linecap="round"/>
<path d="M349.8 538.2 L350.7 538.2 L351.8 538.2 L353 538.2 L353.8 538.2 L354.6 538.2 L355.4 538.2 L356.2 538.2 L357 538.2 L357.9 538.2 L358.7 538.2 L359.5 538.2 L360.3 538.2 L361.1 538.2 L361.9 538.2 L362.7 538.2 L363.5 538.2 L364.3 538.2 L365.1 538.2 L365.9 538.2 L366.7 538.2 L367.5 538.2 L368.3 538.2 L369.1 538.2 L369.9 538.2 L370.7 538.2 L371.5 538.2 L372.3 538.2 L373.2 538.2 L374 538.2 L374.8 538.2 L375.6 538.2 L376.4 538.2 L377.2 538.2 L378 538.2 L378.8 538.2 L379.6 538.2 L380.4 538.2 L381.2 538.2 L382 538.2 L382.8 538.2 L383.6 538.2 L384.4 538.2 L385.2 538.2 L386 538.2 L386.8 538.2 L387.6 538.2 L388.5 538.2 L389.3 538.2 L390.1 538.2 L390.9 538.2 L391.7 538.2 L392.5 538.2 L393.3 538.1 L394.1 538.1 L394.9 538.1 L395.7 538.1 L396.5 538.1 L397.3 538.1 L398.1 538.1 L398.9 538.1 L399.7 538.1 L400.5 538.1 L401.3 538.1 L402.1 538.1 L402.9 538.1 L403.8 538.1 L404.6 538.1 L405.4 538.1 L406.2 538.1 L407 538.1 L407.8 538.1 L408.6 538.1 L409.4 538.1 L410.2 538.1 L411 538.1 L411.8 538 L412.6 538 L413.4 538 L414.2 538 L415 538 L415.8 538 L416.6 538 L417.4 538 L418.2 538 L419 538 L419.9 537.9 L420.7 537.9 L421.5 537.8 L422.3 537.8 L423.4 537.6 L424.5 537.2 L425.6 536.6 L426.5 535.9 L427.4 535.2 L428.4 534.5 L429.4 533.9 L430.6 533.5 L431.7 533.2 L432.5 533.1 L433.3 532.9 L434.1 532.8 L434.9 532.7 L435.7 532.6 L436.5 532.5 L437.3 532.4 L438.1 532.4 L438.9 532.3 L439.7 532.2 L440.5 532.2 L441.3 532.1 L442.1 532.1 L442.9 532 L443.7 532 L444.5 531.9 L445.3 531.9 L446.1 531.9 L446.9 531.8 L447.7 531.8 L448.5 531.8 L449.3 531.7 L450.2 531.7 L451 531.7 L451.8 531.6 L452.6 531.6 L453.4 531.6 L454.2 531.5 L455 531.5 L455.8 531.4 L456.6 531.4 L457.4 531.4 L458.2 531.4 L459 531.3 L459.8 531.3 L460.6 531.3 L461.4 531.2 L462.2 531.2 L463 531.1 L463.8 531.1 L464.6 531.1 L465.8 531 L467 530.9 L467.8 530.8 L468.2 530.8 L468.5 497.8 L468.5 497.8 L469 498.7 L469.6 499.4 L470.5 499.7 L470.9 499.5 L471.2 479.7 L471.2 479.7 L471.4 480.6 L471.6 481.4 L471.8 482.5 L472 483.3 L472.2 484.1 L472.4 484.9 L472.6 485.7 L472.8 486.5 L473 487.3 L473.2 488.1 L473.4 488.8 L473.6 489.6 L473.8 490.4 L474 491.2 L474.2 492 L474.4 492.8 L474.6 493.6 L474.8 494.3 L475.1 495.1 L475.3 495.9 L475.5 496.7 L475.8 497.5 L476 498.2 L476.2 499 L476.5 499.8 L476.7 500.6 L477 501.3 L477.2 502.1 L477.5 502.9 L477.8 503.6 L478 504.4 L478.3 505.2 L478.6 505.9 L478.9 506.7 L479.2 507.5 L479.5 508.2 L479.8 509 L480.1 509.7 L480.4 510.5 L480.7 511.2 L481 512 L481.4 512.7 L481.9 513.8 L482.2 514.5 L482.6 515.3 L483 585.4 L483 585.4 L483.2 584.6 L483.4 583.4 L483.6 582.2 L483.7 581.4 L483.8 580.6 L484 579.8 L484.1 579 L484.2 578.2 L484.4 577.4 L484.5 576.6 L484.7 575.8 L484.8 575 L485 574.2 L485.1 573.4 L485.3 572.7 L485.4 571.9 L485.6 571.1 L485.8 570.3 L486 569.5 L486.2 568.7 L486.4 567.9 L486.7 567.2 L486.9 566.4 L487.1 565.6 L487.4 564.9 L487.7 564.1 L487.9 563.3 L488.2 562.6 L488.5 561.8 L488.8 561.1 L489.1 560.3 L489.4 559.6 L489.7 558.8 L490.1 558.1 L490.5 557.4 L490.9 556.7 L491.3 556 L491.7 555.3 L492.2 554.7 L493.1 553.8 L494 553.1 L494.6 552.6 L495.3 552.1 L495.9 551.6 L496.6 551.1 L497.2 550.6 L497.8 550.1 L498.4 549.6 L499 549.1 L499.6 548.5 L500.2 547.9 L500.8 547.4 L501.3 546.8 L501.9 546.2 L502.4 545.6 L502.9 544.9 L503.4 544.3 L503.8 543.6 L504.3 542.9 L504.7 542.3 L505.4 541.3 L506 540.3 L506.4 539.5 L506.4 539.5 L506.9 540.2 L507.6 541.2 L508.3 542.1 L509.1 543 L510 543.7 L511 544.2 L512.2 544.4 L513.4 544.4 L514.2 544.5 L515 544.4 L515.8 544.4 L516.6 544.4 L517.4 544.4 L518.2 544.4 L519 544.4 L519.8 544.4 L520.6 544.3 L521.4 544.3 L522.2 544.3 L523 544.3 L523.8 544.3 L524.6 544.2 L525.4 544.2 L526.3 544.2 L527.1 544.2 L527.9 544.1 L528.7 544.1 L529.5 544.1 L530.3 544.1 L531.1 544 L531.9 544 L532.7 544 L533.5 543.9 L534.3 543.9 L535.1 543.9 L535.9 543.8 L536.7 543.8 L537.5 543.7 L538.3 543.7 L539.1 543.7 L539.9 543.6 L540.7 543.6 L541.5 543.5 L542.3 543.5 L543.1 543.4 L544 543.4 L544.8 543.3 L545.6 543.3 L546.4 543.2 L547.2 543.2 L548 543.1 L548.8 543 L549.6 543 L550.4 542.9 L551.2 542.9 L552 542.8 L552.8 542.8 L553.6 542.7 L554.4 542.6 L555.2 542.6 L556 542.5 L556.8 542.5 L557.6 542.4 L558.4 542.4 L559.2 542.3 L560 542.2 L560.8 542.2 L561.6 542.1 L562.4 542.1 L563.2 542 L564 542 L564.8 541.9 L565.6 541.9 L566.5 541.8 L567.3 541.8 L568.1 541.7 L568.9 541.6 L569.7 541.6 L570.5 541.5 L571.3 541.5 L572.1 541.4 L572.9 541.4 L573.7 541.4 L574.5 541.3 L575.3 541.3 L576.1 541.2 L576.9 541.2 L577.7 541.1 L578.5 541.1 L579.3 541 L580.1 541 L580.9 540.9 L581.7 540.9 L582.5 540.8 L583.3 540.8 L584.1 540.7 L584.9 540.7 L585.7 540.6 L586.5 540.6 L587.4 540.5 L588.2 540.5 L589 540.5 L589.8 540.4 L590.6 540.4 L591.4 540.3 L592.2 540.3 L593 540.2 L593.8 540.2 L594.6 540.1 L595.4 540.1 L596.2 540 L597 540 L597.8 539.9 L598.6 539.9 L599.4 539.8 L600.2 539.8 L601 539.8 L601.8 539.7 L602.6 539.7 L603.4 539.6 L604.2 539.6 L605 539.5 L605.8 539.5 L606.7 539.4 L607.5 539.4 L608.3 539.3 L609.1 539.3 L609.9 539.2 L610.7 539.2 L611.5 539.2 L612.3 539.1 L613.1 539.1 L614.3 539 L615.4 538.9 L616.3 538.9" fill="none" stroke="#3cb64c" stroke-width="1.4" stroke-linejoin="round" stroke-linecap="round"/>
<path d="M349.8 538.2 L350.7 538.2 L351.8 538.2 L353 538.2 L353.8 538.2 L354.6 538.2 L355.4 538.2 L356.2 538.2 L357 538.2 L357.9 538.2 L358.7 538.2 L359.5 538.2 L360.3 538.2 L361.1 538.2 L361.9 538.2 L362.7 538.2 L363.5 538.2 L364.3 538.2 L365.1 538.2 L365.9 538.2 L366.7 538.2 L367.5 538.2 L368.3 538.2 L369.1 538.2 L369.9 538.2 L370.7 538.2 L371.5 538.2 L372.3 538.2 L373.1 538.2 L374 538.2 L374.8 538.2 L375.6 538.2 L376.4 538.2 L377.2 538.2 L378 538.2 L378.8 538.2 L379.6 538.2 L380.4 538.2 L381.2 538.2 L382 538.2 L382.8 538.2 L383.6 538.2 L384.4 538.2 L385.2 538.2 L386 538.2 L386.8 538.2 L387.6 538.2 L388.4 538.2 L389.2 538.2 L390.1 538.2 L390.9 538.2 L391.7 538.2 L392.5 538.2 L393.3 538.2 L394.1 538.2 L394.9 538.2 L395.7 538.2 L396.5 538.2 L397.3 538.2 L398.1 538.2 L398.9 538.2 L399.7 538.2 L400.5 538.2 L401.3 538.2 L402.1 538.2 L402.9 538.2 L403.7 538.2 L404.5 538.2 L405.4 538.2 L406.2 538.2 L407 538.2 L407.8 538.2 L408.6 538.1 L409.4 538.1 L410.2 538.1 L411 538.1 L411.8 538.1 L412.6 538.1 L413.4 538.1 L414.2 538.1 L415 538.1 L415.8 538.1 L416.6 538.1 L417.4 538.1 L418.2 538.1 L419 538.1 L419.8 538.1 L420.6 538 L421.4 538 L422.3 538 L423.1 537.9 L423.9 537.8 L424.7 537.7 L425.4 537.6 L426.2 537.4 L427 537.2 L427.8 537 L428.6 536.8 L429.3 536.6 L430.1 536.4 L430.9 536.2 L431.7 536 L432.5 535.9 L433.3 535.7 L434 535.6 L434.8 535.5 L435.6 535.3 L436.4 535.2 L437.2 535.1 L438 535.1 L438.8 535 L439.6 534.9 L440.4 534.9 L441.2 534.9 L442.1 534.8 L442.9 534.8 L443.7 534.8 L444.5 534.7 L445.3 534.7 L446.1 534.7 L446.9 534.6 L447.7 534.6 L448.5 534.6 L449.3 534.6 L450.1 534.5 L450.9 534.5 L451.7 534.5 L452.5 534.5 L453.3 534.5 L454.1 534.4 L454.9 534.4 L455.7 534.4 L456.5 534.4 L457.3 534.4 L458.1 534.4 L459 534.4 L459.8 534.3 L460.6 534.3 L461.4 534.3 L462.2 534.3 L463 534.3 L463.8 534.3 L464.6 534.2 L465.4 534.2 L466.2 534.2 L467 534.2 L468.2 534.1 L469.4 534 L470.2 534 L470.6 533.9 L470.9 499.8 L470.9 499.8 L471.3 500.5 L471.9 501.6 L472.5 502.6 L472.8 503.3 L473.2 504 L473.6 504.7 L474 505.4 L474.4 506.1 L474.7 506.9 L475.1 507.6 L475.5 508.3 L475.8 509 L476.2 509.7 L476.6 510.4 L476.9 511.2 L477.2 511.9 L477.6 512.6 L478 513.3 L478.3 514.1 L478.7 514.8 L479.1 515.5 L479.5 516.1 L480 516.8 L480.5 517.5 L480.9 518.1 L481.5 518.7 L482 519.3 L482.9 520.1 L483.8 520.9 L484.8 521.5 L485.5 521.9 L486.3 522.2 L487 522.5 L487.7 522.8 L488.5 523.1 L489.2 523.5 L490 523.8 L490.7 524.1 L491.4 524.5 L492.1 524.8 L492.8 525.2 L493.6 525.6 L494.3 526 L495 526.3 L495.7 526.7 L496.4 527.1 L497.1 527.5 L497.8 527.9 L498.5 528.3 L499.5 529 L500.3 529.8 L501.1 530.7 L501.7 531.7 L502 532.8 L502.2 534 L502.3 535.2 L502.4 536 L502.4 536.8 L502.4 537.6 L502.5 538.4 L502.5 539.2 L502.5 540 L502.5 540.8 L502.5 541.6 L502.5 542.4 L502.5 543.2 L502.5 544.1 L502.6 544.9 L502.6 545.7 L502.6 546.5 L502.6 547.3 L502.6 548.1 L502.6 548.9 L502.6 549.7 L502.6 550.5 L502.6 551.3 L502.6 552.1 L502.7 552.9 L502.7 553.7 L502.7 554.5 L502.7 555.3 L502.7 556.1 L502.7 556.9 L502.7 557.7 L502.7 558.5 L502.7 559.3 L502.7 560.1 L502.7 561 L502.7 561.8 L502.8 562.6 L502.8 563.4 L502.8 564.2 L502.8 565 L502.8 565.8 L502.8 566.6 L502.8 567.4 L502.8 568.2 L502.8 569 L502.8 569.8 L502.8 570.6 L502.8 571.4 L502.8 572.2 L502.9 573 L502.9 573.8 L502.9 574.6 L502.9 575.4 L502.9 576.2 L502.9 577 L502.9 577.9 L502.9 578.7 L502.9 579.5 L502.9 580.3 L502.9 581.1 L502.9 581.9 L502.9 582.7 L502.9 583.5 L502.9 584.3 L503 585.1 L503 585.9 L503 586.7 L503 587.5 L503 588.3 L503 589.1 L503 589.9 L503 590.7 L503 591.9 L503 593.1 L503 593.9 L503 594.3 L503 594.3 L503.4 593.6 L503.6 592.4 L503.7 591.3 L503.9 590.1 L504 589.3 L504.1 588.5 L504.1 587.7 L504.2 586.9 L504.3 586.1 L504.4 585.3 L504.4 584.5 L504.5 583.7 L504.6 582.9 L504.6 582.1 L504.7 581.3 L504.7 580.5 L504.8 579.7 L504.9 578.9 L504.9 578.1 L505 577.3 L505 576.5 L505.1 575.7 L505.1 574.9 L505.2 574.1 L505.2 573.3 L505.3 572.5 L505.3 571.7 L505.3 570.9 L505.4 570.1 L505.4 569.3 L505.4 568.5 L505.4 567.7 L505.5 566.9 L505.5 566.1 L505.5 565.3 L505.5 564.5 L505.6 563.7 L505.6 562.9 L505.6 562.1 L505.6 561.3 L505.7 560.5 L505.7 559.7 L505.7 558.9 L505.7 558.1 L505.8 557.2 L505.8 556.4 L505.8 555.6 L505.8 554.8 L505.9 554 L505.9 553.2 L505.9 552.4 L505.9 551.6 L506 550.8 L506 550 L506 549.2 L506.1 548.4 L506.1 547.6 L506.1 546.8 L506.2 545.6 L506.3 544.5 L506.6 543.5 L507.2 542.8 L508.1 542.5 L509.3 542.4 L510.5 542.4 L511.3 542.4 L512.1 542.4 L512.9 542.4 L514 542.2 L515.2 542 L516 541.9 L516.8 541.7 L517.6 541.5 L518.3 541.3 L519.1 541.1 L519.9 540.9 L520.7 540.7 L521.5 540.6 L522.3 540.4 L523 540.2 L523.8 540.1 L524.6 539.9 L525.4 539.8 L526.2 539.7 L527 539.5 L527.8 539.4 L528.6 539.2 L529.4 539.1 L530.1 539 L530.9 538.9 L531.7 538.8 L532.5 538.7 L533.3 538.6 L534.1 538.5 L534.9 538.5 L535.7 538.4 L536.5 538.3 L537.3 538.3 L538.1 538.2 L538.9 538.2 L539.7 538.2 L540.5 538.1 L541.3 538.1 L542.1 538 L542.9 538 L543.7 537.9 L544.5 537.9 L545.3 537.9 L546.1 537.8 L546.9 537.8 L547.7 537.8 L548.5 537.7 L549.3 537.7 L550.1 537.7 L550.9 537.6 L551.7 537.6 L552.5 537.6 L553.3 537.5 L554.1 537.5 L555 537.5 L555.8 537.5 L556.6 537.4 L557.4 537.4 L558.2 537.4 L559 537.4 L559.8 537.4 L560.6 537.3 L561.4 537.3 L562.2 537.3 L563 537.3 L563.8 537.3 L564.6 537.3 L565.4 537.2 L566.2 537.2 L567 537.2 L567.8 537.2 L568.6 537.2 L569.4 537.2 L570.2 537.2 L571 537.2 L571.8 537.2 L572.6 537.1 L573.4 537.1 L574.2 537.1 L575 537.1 L575.8 537.1 L576.6 537.1 L577.4 537.1 L578.2 537.1 L579 537.1 L579.8 537.1 L580.6 537.1 L581.4 537.1 L582.2 537.1 L583 537.1 L583.8 537.1 L584.6 537.1 L585.4 537 L586.2 537 L587 537 L587.8 537 L588.6 537 L589.4 537 L590.2 537 L591 537 L591.8 537 L592.6 537 L593.4 537 L594.2 537 L595 537 L595.8 537 L596.7 537 L597.5 537 L598.3 537 L599.1 537 L599.9 537 L600.7 537 L601.5 537 L602.3 537 L603.1 537 L603.9 537 L604.7 537 L605.5 537 L606.3 536.9 L607.1 536.9 L607.9 536.9 L608.7 536.9 L609.5 536.9 L610.3 536.9 L611.1 536.9 L611.9 536.9 L613.1 536.9 L614.3 536.9 L615.4 536.9 L616.3 536.9" fill="none" stroke="#f39cc6" stroke-width="1.4" stroke-linejoin="round" stroke-linecap="round"/>
<path d="M349.8 538.2 L350.7 538.2 L351.8 538.2 L353 538.2 L354.2 538.2 L355 538.2 L355.8 538.2 L356.6 538.2 L357.4 538.2 L358.2 538.2 L359 538.2 L359.9 538.2 L360.7 538.2 L361.5 538.2 L362.3 538.2 L363.1 538.2 L363.9 538.2 L364.7 538.2 L365.5 538.2 L366.3 538.2 L367.1 538.2 L367.9 538.2 L368.7 538.2 L369.5 538.2 L370.3 538.2 L371.1 538.2 L371.9 538.2 L372.7 538.2 L373.5 538.2 L374.3 538.2 L375.1 538.2 L375.9 538.2 L376.7 538.2 L377.5 538.2 L378.4 538.2 L379.2 538.2 L380 538.2 L380.8 538.2 L381.6 538.2 L382.4 538.2 L383.2 538.2 L384 538.1 L384.8 538.1 L385.6 538.1 L386.4 538.1 L387.2 538.1 L388 538.1 L388.8 538.1 L389.6 538.1 L390.4 538.1 L391.2 538.1 L392 538.1 L392.8 538.1 L393.6 538.1 L394.4 538.1 L395.2 538.1 L396 538.1 L396.8 538.1 L397.7 538.1 L398.5 538.1 L399.3 538.1 L400.1 538.1 L400.9 538.1 L401.7 538.1 L402.5 538 L403.3 538 L404.1 538 L404.9 538 L405.7 538 L406.5 538 L407.3 538 L408.1 538 L408.9 538 L409.7 538 L410.5 538 L411.3 538 L412.1 538 L412.9 538 L413.7 538 L414.5 538 L415.3 538 L416.2 538 L417 538 L417.8 537.9 L418.6 537.9 L419.4 537.9 L420.2 537.9 L421 537.9 L421.8 537.9 L422.6 537.9 L423.4 537.9 L424.2 537.9 L425 537.9 L425.8 537.9 L426.6 537.9 L427.4 537.9 L428.2 537.9 L429 537.9 L429.8 537.9 L430.6 537.9 L431.4 537.9 L432.2 537.8 L433 537.8 L433.8 537.8 L434.6 537.8 L435.5 537.8 L436.3 537.8 L437.1 537.8 L437.9 537.8 L438.7 537.8 L439.5 537.8 L440.3 537.8 L441.1 537.8 L441.9 537.8 L442.7 537.7 L443.5 537.7 L444.3 537.7 L445.1 537.7 L445.9 537.7 L446.7 537.7 L447.5 537.7 L448.3 537.7 L449.1 537.7 L449.9 537.6 L450.7 537.6 L451.5 537.6 L452.3 537.6 L453.1 537.6 L453.9 537.6 L454.8 537.6 L455.6 537.5 L456.4 537.5 L457.2 537.5 L458 537.5 L458.8 537.5 L459.6 537.4 L460.4 537.4 L461.2 537.4 L462 537.4 L462.8 537.3 L463.6 537.3 L464.4 537.3 L465.2 537.3 L466 537.2 L466.8 537.2 L467.6 537.1 L468.4 537.1 L469.2 537 L470.4 536.7 L471.5 536.4 L472.3 536.1 L473 535.8 L473.7 535.5 L474.5 535.1 L475.2 534.7 L475.9 534.3 L476.5 533.9 L477.2 533.5 L477.9 533 L478.6 532.6 L479.2 532.1 L480.2 531.5 L481.2 530.8 L482.2 530.2 L482.6 529.9 L483 492.1 L483 492.1 L483.3 493 L483.6 494.1 L483.9 495.3 L484.2 496 L484.4 496.8 L484.6 497.6 L484.8 498.4 L485.1 499.1 L485.3 499.9 L485.6 500.7 L485.8 501.4 L486.1 502.2 L486.4 503 L486.7 503.7 L487 504.5 L487.3 505.2 L487.7 505.9 L488.1 506.7 L488.5 507.4 L488.9 508.1 L489.3 508.8 L489.7 509.4 L490.2 510.1 L490.7 510.8 L491.2 511.4 L491.7 512.1 L492.2 512.7 L492.7 513.3 L493.2 513.9 L493.8 514.5 L494.3 515.1 L494.9 515.7 L495.5 516.2 L496 516.8 L496.6 517.4 L497.2 517.9 L497.8 518.5 L498.4 519 L499 519.6 L499.7 520.1 L500.6 520.8 L501.6 521.5 L502.3 522 L502.3 522 L503.3 495.7 L503.3 495.7 L506.4 506.7 L506.7 577.8 L506.7 577.8 L506.9 576.9 L507.1 575.7 L507.2 574.6 L507.4 573.4 L507.6 572.6 L507.7 571.8 L507.8 571 L508 570.2 L508.1 569.4 L508.3 568.6 L508.4 567.8 L508.6 567.1 L508.7 566.3 L508.9 565.5 L509.1 564.7 L509.3 563.9 L509.5 563.1 L509.7 562.4 L510 561.6 L510.2 560.9 L510.5 560.1 L510.8 559.3 L511.1 558.6 L511.4 557.9 L511.8 557.1 L512.1 556.4 L512.5 555.7 L512.9 555 L513.3 554.3 L513.7 553.6 L514.1 552.9 L514.6 552.3 L515 551.6 L515.5 551 L516 550.4 L516.5 549.7 L517.1 549.1 L517.6 548.5 L518.2 548 L518.8 547.4 L519.4 546.9 L520 546.4 L520.6 545.9 L521.3 545.4 L522 545 L522.7 544.6 L523.4 544.3 L524.1 543.9 L524.8 543.6 L525.6 543.2 L526.3 542.9 L527.1 542.6 L527.8 542.3 L528.6 542.1 L529.3 541.8 L530.1 541.6 L530.9 541.4 L531.6 541.2 L532.4 541 L533.2 540.8 L534 540.7 L534.8 540.5 L535.6 540.4 L536.4 540.3 L537.2 540.2 L538 540.1 L538.8 540 L539.6 539.9 L540.4 539.8 L541.2 539.7 L542 539.6 L542.8 539.5 L543.6 539.4 L544.4 539.3 L545.2 539.3 L546 539.2 L546.8 539.1 L547.6 539 L548.4 539 L549.2 538.9 L550 538.8 L550.8 538.8 L551.6 538.7 L552.4 538.6 L553.2 538.6 L554 538.5 L554.8 538.5 L555.6 538.4 L556.4 538.3 L557.2 538.3 L558 538.2 L558.8 538.2 L559.6 538.2 L560.4 538.1 L561.2 538.1 L562 538 L562.8 538 L563.6 538 L564.4 537.9 L565.2 537.9 L566 537.9 L566.8 537.8 L567.6 537.8 L568.4 537.8 L569.2 537.8 L570.1 537.7 L570.9 537.7 L571.7 537.7 L572.5 537.7 L573.3 537.7 L574.1 537.6 L574.9 537.6 L575.7 537.6 L576.5 537.6 L577.3 537.6 L578.1 537.6 L578.9 537.5 L579.7 537.5 L580.5 537.5 L581.3 537.5 L582.1 537.5 L582.9 537.5 L583.7 537.5 L584.5 537.4 L585.3 537.4 L586.1 537.4 L586.9 537.4 L587.7 537.4 L588.6 537.4 L589.4 537.4 L590.2 537.4 L591 537.3 L591.8 537.3 L592.6 537.3 L593.4 537.3 L594.2 537.3 L595 537.3 L595.8 537.3 L596.6 537.3 L597.4 537.3 L598.2 537.3 L599 537.2 L599.8 537.2 L600.6 537.2 L601.4 537.2 L602.2 537.2 L603 537.2 L603.8 537.2 L604.6 537.2 L605.4 537.2 L606.2 537.2 L607 537.2 L607.9 537.2 L608.7 537.2 L609.5 537.2 L610.3 537.2 L611.1 537.2 L611.9 537.2 L612.7 537.2 L613.9 537.2 L615 537.2 L615.9 537.2 L616.3 537.2" fill="none" stroke="#b0b0a0" stroke-width="1.4" stroke-linejoin="round" stroke-linecap="round"/>
<path d="M349.8 473.6 V624.4 H616.3" fill="none" stroke="#3a3a3a" stroke-width="1.3"/>
<path d="M344.3 624.4H349.8M346.8 613.6H349.8M344.3 602.9H349.8M346.8 592.1H349.8M344.3 581.3H349.8M346.8 570.5H349.8M344.3 559.8H349.8M346.8 549H349.8M344.3 538.2H349.8M346.8 527.5H349.8M344.3 516.7H349.8M346.8 505.9H349.8M344.3 495.1H349.8M346.8 484.4H349.8M344.3 473.6H349.8M349.8 624.4V627.7M364.6 624.4V626.4M379.4 624.4V627.7M394.2 624.4V626.4M409 624.4V627.7M423.8 624.4V626.4M438.6 624.4V627.7M453.4 624.4V626.4M468.2 624.4V627.7M483 624.4V626.4M497.9 624.4V627.7M512.7 624.4V626.4M527.5 624.4V627.7M542.3 624.4V626.4M557.1 624.4V627.7M571.9 624.4V626.4M586.7 624.4V627.7M601.5 624.4V626.4M616.3 624.4V627.7" stroke="#3a3a3a" stroke-width="1.1"/>
<g font-family="Liberation Sans, sans-serif" font-weight="bold" font-size="7.4" fill="#1c1c24"><text x="342.4" y="625" text-anchor="end" dominant-baseline="central">-800</text><text x="342.4" y="603.5" text-anchor="end" dominant-baseline="central">-600</text><text x="342.4" y="581.9" text-anchor="end" dominant-baseline="central">-400</text><text x="342.4" y="560.4" text-anchor="end" dominant-baseline="central">-200</text><text x="342.4" y="538.8" text-anchor="end" dominant-baseline="central">0</text><text x="342.4" y="517.3" text-anchor="end" dominant-baseline="central">200</text><text x="342.4" y="495.7" text-anchor="end" dominant-baseline="central">400</text><text x="342.4" y="474.2" text-anchor="end" dominant-baseline="central">600</text><text x="349.8" y="633" text-anchor="middle" dominant-baseline="central">0.0</text><text x="379.4" y="633" text-anchor="middle" dominant-baseline="central">0.2</text><text x="409" y="633" text-anchor="middle" dominant-baseline="central">0.4</text><text x="438.6" y="633" text-anchor="middle" dominant-baseline="central">0.6</text><text x="468.2" y="633" text-anchor="middle" dominant-baseline="central">0.8</text><text x="497.9" y="633" text-anchor="middle" dominant-baseline="central">1.0</text><text x="527.5" y="633" text-anchor="middle" dominant-baseline="central">1.2</text><text x="557.1" y="633" text-anchor="middle" dominant-baseline="central">1.4</text><text x="586.7" y="633" text-anchor="middle" dominant-baseline="central">1.6</text><text x="616.3" y="633" text-anchor="middle" dominant-baseline="central">1.8</text></g>
<text x="343.5" y="463.2" font-family="Liberation Sans, sans-serif" font-weight="bold" font-size="7.4" fill="#1c1c24" text-anchor="middle" dominant-baseline="central">[W]</text>
<text x="618.7" y="621.6" font-family="Liberation Sans, sans-serif" font-weight="bold" font-size="7.4" fill="#1c1c24" dominant-baseline="central">x10<tspan font-size="5.2" dx="1.2" dy="-2.5">3</tspan></text>
<text x="481.7" y="640" font-family="Liberation Mono, monospace" font-size="6.5" fill="#333" text-anchor="middle" dominant-baseline="central">X Time [s]</text>
<rect x="526.8" y="461.7" width="87.8" height="64.9" fill="#fff" stroke="#2a2a2a" stroke-width="1.2"/>
<line x1="529.8" y1="468.5" x2="539.6" y2="468.5" stroke="#ee5555" stroke-width="1.5"/>
<text x="542" y="469.4" font-family="Liberation Mono, monospace" font-weight="bold" font-size="6.4" fill="#222" dominant-baseline="central" textLength="68.8" lengthAdjust="spacingAndGlyphs">heat flow rate 1 [W]</text>
<line x1="529.8" y1="478.8" x2="539.6" y2="478.8" stroke="#3d7fa6" stroke-width="1.5"/>
<text x="542" y="479.7" font-family="Liberation Mono, monospace" font-weight="bold" font-size="6.4" fill="#222" dominant-baseline="central" textLength="68.8" lengthAdjust="spacingAndGlyphs">heat flow rate 2 [W]</text>
<line x1="529.8" y1="489.2" x2="539.6" y2="489.2" stroke="#fbbd5a" stroke-width="1.5"/>
<text x="542" y="490.1" font-family="Liberation Mono, monospace" font-weight="bold" font-size="6.4" fill="#222" dominant-baseline="central" textLength="68.8" lengthAdjust="spacingAndGlyphs">heat flow rate 3 [W]</text>
<line x1="529.8" y1="499.5" x2="539.6" y2="499.5" stroke="#4cba5a" stroke-width="1.5"/>
<text x="542" y="500.4" font-family="Liberation Mono, monospace" font-weight="bold" font-size="6.4" fill="#222" dominant-baseline="central" textLength="68.8" lengthAdjust="spacingAndGlyphs">heat flow rate 4 [W]</text>
<line x1="529.8" y1="509.9" x2="539.6" y2="509.9" stroke="#f2a2c8" stroke-width="1.5"/>
<text x="542" y="510.8" font-family="Liberation Mono, monospace" font-weight="bold" font-size="6.4" fill="#222" dominant-baseline="central" textLength="68.8" lengthAdjust="spacingAndGlyphs">heat flow rate 5 [W]</text>
<line x1="529.8" y1="520.2" x2="539.6" y2="520.2" stroke="#b0b0a0" stroke-width="1.5"/>
<text x="542" y="521.1" font-family="Liberation Mono, monospace" font-weight="bold" font-size="6.4" fill="#222" dominant-baseline="central" textLength="68.8" lengthAdjust="spacingAndGlyphs">heat flow rate 6 [W]</text>
<line x1="624" y1="478.6" x2="634.1" y2="478.6" stroke="#ee5555" stroke-width="1.6"/>
<line x1="624" y1="485.5" x2="634.1" y2="485.5" stroke="#3d7fa6" stroke-width="1.6"/>
<line x1="624" y1="492.4" x2="634.1" y2="492.4" stroke="#fbbd5a" stroke-width="1.6"/>
<line x1="624" y1="499.3" x2="634.1" y2="499.3" stroke="#4cba5a" stroke-width="1.6"/>
<line x1="624" y1="506.2" x2="634.1" y2="506.2" stroke="#f2a2c8" stroke-width="1.6"/>
<line x1="624" y1="513.1" x2="634.1" y2="513.1" stroke="#b0b0a0" stroke-width="1.6"/>
<line x1="41.2" y1="703.9" x2="41.2" y2="854.5" stroke="#e2e2e2" stroke-width="0.9" stroke-dasharray="1 1"/>
<line x1="56" y1="703.9" x2="56" y2="854.5" stroke="#d8d8d8" stroke-width="0.9" stroke-dasharray="1 1"/>
<line x1="70.9" y1="703.9" x2="70.9" y2="854.5" stroke="#e2e2e2" stroke-width="0.9" stroke-dasharray="1 1"/>
<line x1="85.7" y1="703.9" x2="85.7" y2="854.5" stroke="#d8d8d8" stroke-width="0.9" stroke-dasharray="1 1"/>
<line x1="100.5" y1="703.9" x2="100.5" y2="854.5" stroke="#e2e2e2" stroke-width="0.9" stroke-dasharray="1 1"/>
<line x1="115.3" y1="703.9" x2="115.3" y2="854.5" stroke="#d8d8d8" stroke-width="0.9" stroke-dasharray="1 1"/>
<line x1="130.2" y1="703.9" x2="130.2" y2="854.5" stroke="#e2e2e2" stroke-width="0.9" stroke-dasharray="1 1"/>
<line x1="145" y1="703.9" x2="145" y2="854.5" stroke="#d8d8d8" stroke-width="0.9" stroke-dasharray="1 1"/>
<line x1="159.8" y1="703.9" x2="159.8" y2="854.5" stroke="#e2e2e2" stroke-width="0.9" stroke-dasharray="1 1"/>
<line x1="174.6" y1="703.9" x2="174.6" y2="854.5" stroke="#d8d8d8" stroke-width="0.9" stroke-dasharray="1 1"/>
<line x1="189.4" y1="703.9" x2="189.4" y2="854.5" stroke="#e2e2e2" stroke-width="0.9" stroke-dasharray="1 1"/>
<line x1="204.3" y1="703.9" x2="204.3" y2="854.5" stroke="#d8d8d8" stroke-width="0.9" stroke-dasharray="1 1"/>
<line x1="219.1" y1="703.9" x2="219.1" y2="854.5" stroke="#e2e2e2" stroke-width="0.9" stroke-dasharray="1 1"/>
<line x1="233.9" y1="703.9" x2="233.9" y2="854.5" stroke="#d8d8d8" stroke-width="0.9" stroke-dasharray="1 1"/>
<line x1="248.7" y1="703.9" x2="248.7" y2="854.5" stroke="#e2e2e2" stroke-width="0.9" stroke-dasharray="1 1"/>
<line x1="263.6" y1="703.9" x2="263.6" y2="854.5" stroke="#d8d8d8" stroke-width="0.9" stroke-dasharray="1 1"/>
<line x1="278.4" y1="703.9" x2="278.4" y2="854.5" stroke="#e2e2e2" stroke-width="0.9" stroke-dasharray="1 1"/>
<line x1="26.4" y1="850.2" x2="293.2" y2="850.2" stroke="#ececec" stroke-width="0.8" stroke-dasharray="1 1"/>
<line x1="26.4" y1="845.9" x2="293.2" y2="845.9" stroke="#ececec" stroke-width="0.8" stroke-dasharray="1 1"/>
<line x1="26.4" y1="841.6" x2="293.2" y2="841.6" stroke="#ececec" stroke-width="0.8" stroke-dasharray="1 1"/>
<line x1="26.4" y1="837.3" x2="293.2" y2="837.3" stroke="#ececec" stroke-width="0.8" stroke-dasharray="1 1"/>
<line x1="26.4" y1="833" x2="293.2" y2="833" stroke="#dcdcdc" stroke-width="0.8" stroke-dasharray="1 1"/>
<line x1="26.4" y1="828.7" x2="293.2" y2="828.7" stroke="#ececec" stroke-width="0.8" stroke-dasharray="1 1"/>
<line x1="26.4" y1="824.4" x2="293.2" y2="824.4" stroke="#ececec" stroke-width="0.8" stroke-dasharray="1 1"/>
<line x1="26.4" y1="820.1" x2="293.2" y2="820.1" stroke="#ececec" stroke-width="0.8" stroke-dasharray="1 1"/>
<line x1="26.4" y1="815.8" x2="293.2" y2="815.8" stroke="#ececec" stroke-width="0.8" stroke-dasharray="1 1"/>
<line x1="26.4" y1="811.5" x2="293.2" y2="811.5" stroke="#dcdcdc" stroke-width="0.8" stroke-dasharray="1 1"/>
<line x1="26.4" y1="807.2" x2="293.2" y2="807.2" stroke="#ececec" stroke-width="0.8" stroke-dasharray="1 1"/>
<line x1="26.4" y1="802.9" x2="293.2" y2="802.9" stroke="#ececec" stroke-width="0.8" stroke-dasharray="1 1"/>
<line x1="26.4" y1="798.6" x2="293.2" y2="798.6" stroke="#ececec" stroke-width="0.8" stroke-dasharray="1 1"/>
<line x1="26.4" y1="794.3" x2="293.2" y2="794.3" stroke="#ececec" stroke-width="0.8" stroke-dasharray="1 1"/>
<line x1="26.4" y1="790" x2="293.2" y2="790" stroke="#dcdcdc" stroke-width="0.8" stroke-dasharray="1 1"/>
<line x1="26.4" y1="785.7" x2="293.2" y2="785.7" stroke="#ececec" stroke-width="0.8" stroke-dasharray="1 1"/>
<line x1="26.4" y1="781.4" x2="293.2" y2="781.4" stroke="#ececec" stroke-width="0.8" stroke-dasharray="1 1"/>
<line x1="26.4" y1="777" x2="293.2" y2="777" stroke="#ececec" stroke-width="0.8" stroke-dasharray="1 1"/>
<line x1="26.4" y1="772.7" x2="293.2" y2="772.7" stroke="#ececec" stroke-width="0.8" stroke-dasharray="1 1"/>
<line x1="26.4" y1="768.4" x2="293.2" y2="768.4" stroke="#dcdcdc" stroke-width="0.8" stroke-dasharray="1 1"/>
<line x1="26.4" y1="764.1" x2="293.2" y2="764.1" stroke="#ececec" stroke-width="0.8" stroke-dasharray="1 1"/>
<line x1="26.4" y1="759.8" x2="293.2" y2="759.8" stroke="#ececec" stroke-width="0.8" stroke-dasharray="1 1"/>
<line x1="26.4" y1="755.5" x2="293.2" y2="755.5" stroke="#ececec" stroke-width="0.8" stroke-dasharray="1 1"/>
<line x1="26.4" y1="751.2" x2="293.2" y2="751.2" stroke="#ececec" stroke-width="0.8" stroke-dasharray="1 1"/>
<line x1="26.4" y1="746.9" x2="293.2" y2="746.9" stroke="#dcdcdc" stroke-width="0.8" stroke-dasharray="1 1"/>
<line x1="26.4" y1="742.6" x2="293.2" y2="742.6" stroke="#ececec" stroke-width="0.8" stroke-dasharray="1 1"/>
<line x1="26.4" y1="738.3" x2="293.2" y2="738.3" stroke="#ececec" stroke-width="0.8" stroke-dasharray="1 1"/>
<line x1="26.4" y1="734" x2="293.2" y2="734" stroke="#ececec" stroke-width="0.8" stroke-dasharray="1 1"/>
<line x1="26.4" y1="729.7" x2="293.2" y2="729.7" stroke="#ececec" stroke-width="0.8" stroke-dasharray="1 1"/>
<line x1="26.4" y1="725.4" x2="293.2" y2="725.4" stroke="#dcdcdc" stroke-width="0.8" stroke-dasharray="1 1"/>
<line x1="26.4" y1="721.1" x2="293.2" y2="721.1" stroke="#ececec" stroke-width="0.8" stroke-dasharray="1 1"/>
<line x1="26.4" y1="716.8" x2="293.2" y2="716.8" stroke="#ececec" stroke-width="0.8" stroke-dasharray="1 1"/>
<line x1="26.4" y1="712.5" x2="293.2" y2="712.5" stroke="#ececec" stroke-width="0.8" stroke-dasharray="1 1"/>
<line x1="26.4" y1="708.2" x2="293.2" y2="708.2" stroke="#ececec" stroke-width="0.8" stroke-dasharray="1 1"/>
<path d="M26.4 703.9 H293.2 V854.5" fill="none" stroke="#d4d4d4" stroke-width="1"/>
<path d="M26.4 845.9 L27.3 845.9 L28.4 845.9 L29.6 845.9 L30.8 845.9 L31.6 845.9 L32.4 845.9 L33.2 845.9 L34 845.9 L34.8 845.9 L35.6 845.8 L36.4 845.8 L37.3 845.8 L38.1 845.8 L38.9 845.8 L39.7 845.8 L40.5 845.8 L41.3 845.7 L42.1 845.7 L42.9 845.6 L43.7 845.5 L44.5 845.4 L45.3 845.3 L46 845.2 L46.8 845 L47.6 844.8 L48.4 844.6 L49.5 844.2 L50.6 843.7 L51.7 843.2 L52.4 842.7 L53 842.3 L53.7 841.8 L54.3 841.4 L55 840.9 L55.7 840.5 L56.3 840 L57 839.5 L57.6 839.1 L58.3 838.6 L58.9 838.1 L59.6 837.6 L60.2 837.1 L60.9 836.7 L61.5 836.2 L62.1 835.7 L62.8 835.2 L63.4 834.7 L64.1 834.2 L64.7 833.8 L65.4 833.3 L66 832.9 L66.7 832.4 L67.4 832 L68.1 831.6 L68.8 831.2 L69.5 830.7 L70.1 830.3 L70.8 829.9 L71.5 829.5 L72.2 829.1 L72.9 828.7 L73.6 828.3 L74.3 827.9 L75 827.6 L75.7 827.2 L76.4 826.8 L77.2 826.4 L77.9 826 L78.6 825.7 L79.3 825.3 L80 824.9 L80.7 824.5 L81.4 824.2 L82.1 823.8 L82.8 823.4 L83.6 823 L84.3 822.6 L85 822.2 L85.7 821.8 L86.3 821.4 L87 821 L87.7 820.6 L88.4 820.2 L89.1 819.8 L89.8 819.4 L90.5 819 L91.3 818.7 L92 818.3 L92.7 818 L93.4 817.7 L94.2 817.4 L94.9 817.1 L95.7 816.8 L96.4 816.5 L97.2 816.3 L98 816 L98.7 815.8 L99.5 815.5 L100.3 815.3 L101 815 L101.8 814.7 L102.5 814.4 L103.2 814 L104.3 813.4 L105.2 812.7 L106.1 812 L106.8 811 L107.4 810 L107.9 808.9 L108.2 807.7 L108.3 807 L108.5 806.2 L108.6 805.4 L108.6 804.6 L108.7 803.8 L108.8 803 L108.9 802.2 L108.9 801 L109 799.8 L109.1 799 L109.1 798.6 L109.6 768.4 L109.8 715.5 L109.8 715.5 L110 716.4 L110.1 717.5 L110.2 718.7 L110.4 719.9 L110.5 720.7 L110.6 721.5 L110.7 722.3 L110.8 723.1 L111 723.9 L111.1 724.7 L111.2 725.5 L111.3 726.3 L111.5 727 L111.6 727.8 L111.7 728.6 L111.9 729.4 L112 730.2 L112.2 731 L112.3 731.8 L112.5 732.6 L112.6 733.4 L112.8 734.2 L112.9 734.9 L113.1 735.7 L113.2 736.5 L113.4 737.3 L113.6 738.1 L113.8 738.9 L113.9 739.6 L114.2 740.4 L114.4 741.2 L114.6 742 L114.9 742.7 L115.2 743.5 L115.4 744.2 L115.7 745 L115.9 745.8 L116.2 746.5 L116.4 747.3 L116.6 748.1 L116.8 748.8 L117 749.6 L117.2 750.4 L117.4 751.2 L117.6 752 L117.8 752.7 L118.1 753.5 L118.3 754.3 L118.6 755 L118.8 755.8 L119.1 756.5 L119.3 757.3 L119.6 758.1 L119.9 758.8 L120.1 759.6 L120.4 760.3 L120.7 761.1 L121 761.8 L121.3 762.6 L121.6 763.3 L121.8 764.1 L122.1 764.8 L122.4 765.6 L122.7 766.3 L123.1 767.1 L123.4 767.8 L123.7 768.5 L124 769.3 L124.3 770 L124.6 770.7 L125 771.5 L125.3 772.2 L125.6 772.9 L126 773.7 L126.3 774.4 L126.7 775.1 L127.1 775.8 L127.4 776.5 L127.8 777.2 L128.2 777.9 L128.6 778.6 L129 779.3 L129.4 780 L129.8 780.7 L130.2 781.4 L130.6 782.1 L131 782.8 L131.5 783.5 L131.9 784.1 L132.3 784.8 L132.8 785.5 L133.2 786.1 L133.7 786.8 L134.2 787.4 L134.6 788.1 L135.1 788.7 L135.6 789.4 L136.1 790 L136.6 790.6 L137.1 791.3 L137.6 791.9 L138.2 792.5 L138.7 793 L139.3 793.6 L139.9 794.2 L140.5 794.7 L141.1 795.2 L141.7 795.8 L142.3 796.3 L142.9 796.8 L143.5 797.3 L144.2 797.8 L144.8 798.3 L145.4 798.8 L146 799.3 L146.7 799.8 L147.3 800.3 L147.9 800.9 L148.5 801.4 L149.1 801.9 L149.7 802.4 L150.3 803 L150.9 803.5 L151.5 804 L152.2 804.5 L152.8 805 L153.5 805.4 L154.1 805.9 L154.8 806.4 L155.4 806.8 L156.1 807.3 L156.8 807.7 L157.5 808.1 L158.2 808.5 L158.9 808.9 L159.6 809.3 L160.3 809.7 L161 810 L161.7 810.3 L162.5 810.7 L163.2 811 L164 811.3 L164.7 811.6 L165.5 811.8 L166.2 812.1 L167 812.4 L167.7 812.6 L168.5 812.9 L169.3 813.1 L170 813.3 L170.8 813.6 L171.6 813.8 L172.3 814.1 L173.1 814.3 L173.9 814.5 L174.6 814.8 L175.4 815 L176.2 815.3 L176.9 815.5 L177.7 815.8 L178.5 816 L179.2 816.3 L180 816.5 L180.7 816.7 L181.5 817 L182.3 817.2 L183 817.5 L183.8 817.7 L184.6 817.9 L185.4 818.1 L186.1 818.4 L186.9 818.6 L187.7 818.8 L188.5 819 L189.2 819.2 L190 819.3 L190.8 819.5 L191.6 819.7 L192.4 819.9 L193.2 820.1 L193.9 820.2 L194.7 820.4 L195.5 820.6 L196.3 820.7 L197.1 820.9 L197.9 821 L198.7 821.2 L199.4 821.3 L200.2 821.5 L201 821.6 L201.8 821.8 L202.6 821.9 L203.4 822 L204.2 822.1 L205 822.3 L205.8 822.4 L206.6 822.5 L207.4 822.5 L208.2 822.6 L209 822.7 L209.8 822.8 L210.6 822.8 L211.4 822.9 L212.2 822.9 L213 823 L213.8 823 L214.6 823.1 L215.4 823.1 L216.2 823.2 L217 823.2 L217.8 823.3 L218.6 823.3 L219.4 823.3 L220.2 823.4 L221 823.4 L221.8 823.5 L222.6 823.5 L223.4 823.5 L224.2 823.6 L225 823.6 L225.8 823.7 L226.6 823.7 L227.4 823.8 L228.2 823.8 L229 823.9 L229.8 824 L230.6 824.1 L231.4 824.2 L232.2 824.3 L233 824.4 L233.8 824.5 L235 824.7 L236.1 824.8 L237.3 825 L237.8 825.1 L237.8 825.1 L238.4 824.5 L239.3 823.7 L240.2 822.9 L240.8 822.4 L241.4 821.9 L242.1 821.5 L242.8 821 L243.4 820.6 L244.2 820.3 L244.9 819.9 L245.6 819.6 L246.4 819.4 L247.2 819.1 L247.9 818.9 L248.7 818.6 L249.5 818.4 L250.3 818.3 L251.1 818.1 L251.9 818 L252.7 817.9 L253.5 817.8 L254.3 817.7 L255.1 817.6 L255.9 817.6 L256.7 817.5 L257.5 817.5 L258.3 817.4 L259.1 817.4 L259.9 817.4 L260.7 817.3 L261.5 817.3 L262.3 817.4 L263.1 817.4 L263.9 817.4 L264.7 817.5 L265.6 817.5 L266.4 817.6 L267.2 817.7 L268 817.8 L268.8 817.8 L269.6 817.9 L270.4 818 L271.2 818.1 L272 818.2 L272.8 818.3 L273.6 818.4 L274.4 818.5 L275.2 818.5 L276 818.6 L276.8 818.7 L277.6 818.8 L278.4 818.9 L279.2 819 L280 819.1 L280.8 819.2 L281.6 819.3 L282.4 819.4 L283.2 819.5 L284 819.6 L284.8 819.7 L285.6 819.8 L286.4 819.9 L287.2 820 L288 820.2 L288.8 820.3 L289.6 820.4 L290.8 820.6 L292 820.7 L292.8 820.9 L293.2 820.9" fill="none" stroke="#ee3535" stroke-width="1.4" stroke-linejoin="round" stroke-linecap="round"/>
<path d="M26.4 845.9 L27.3 845.9 L28.4 845.9 L29.6 845.9 L30.8 845.9 L31.6 845.9 L32.4 845.9 L33.2 845.9 L34 845.9 L34.8 845.9 L35.6 845.9 L36.5 845.9 L37.3 845.9 L38.1 845.9 L38.9 845.9 L39.7 845.9 L40.5 845.9 L41.3 845.9 L42.1 845.9 L42.9 845.8 L43.7 845.8 L44.5 845.8 L45.3 845.8 L46.1 845.8 L46.9 845.8 L47.7 845.8 L48.5 845.8 L49.3 845.8 L50.1 845.7 L50.9 845.7 L51.7 845.6 L52.5 845.5 L53.3 845.4 L54.1 845.3 L54.9 845.2 L55.7 845.1 L56.5 845 L57.3 844.9 L58.1 844.9 L58.9 844.8 L59.7 844.7 L60.5 844.6 L61.3 844.5 L62.1 844.4 L62.9 844.3 L63.7 844.2 L64.5 844.1 L65.3 844 L66.1 843.9 L66.9 843.8 L67.7 843.7 L68.5 843.6 L69.3 843.5 L70.1 843.4 L70.9 843.3 L71.7 843.3 L72.5 843.2 L73.3 843.1 L74.1 843 L74.9 842.9 L75.7 842.9 L76.5 842.8 L77.3 842.7 L78.1 842.7 L78.9 842.6 L79.7 842.5 L80.5 842.5 L81.3 842.4 L82.1 842.4 L82.9 842.3 L83.7 842.3 L84.5 842.2 L85.3 842.2 L86.1 842.1 L86.9 842.1 L87.7 842 L88.5 842 L89.3 841.9 L90.1 841.8 L90.9 841.8 L91.7 841.7 L92.5 841.6 L93.3 841.6 L94.1 841.5 L94.9 841.4 L95.7 841.3 L96.5 841.2 L97.3 841.1 L98.1 841 L98.9 840.9 L99.7 840.8 L100.5 840.7 L101.3 840.6 L102.1 840.4 L102.9 840.3 L103.7 840.2 L104.5 840 L105.3 839.9 L106.4 839.6 L107.6 839.4 L108.4 839.3 L108.8 839.2 L108.8 839.2 L109.3 838.5 L110 837.5 L110.7 836.6 L111.4 835.6 L111.9 835 L112.4 834.3 L112.9 833.7 L113.3 833 L113.8 832.4 L114.3 831.8 L114.9 831.2 L115.4 830.6 L116 830 L116.6 829.5 L117.2 829 L117.8 828.5 L118.5 828 L119.2 827.6 L119.8 827.2 L120.5 826.8 L121.3 826.4 L122 826.1 L122.7 825.7 L123.5 825.4 L124.2 825.1 L125 824.9 L125.7 824.6 L126.5 824.3 L127.2 824.1 L128 823.9 L128.8 823.7 L129.6 823.5 L130.4 823.3 L131.1 823.1 L131.9 822.9 L132.7 822.7 L133.5 822.6 L134.3 822.4 L135.1 822.3 L135.9 822.1 L136.6 822 L137.4 821.8 L138.2 821.7 L139 821.5 L139.8 821.4 L140.6 821.3 L141.4 821.1 L142.2 821 L143 820.9 L143.8 820.8 L144.6 820.7 L145.4 820.6 L146.2 820.5 L147 820.4 L147.8 820.3 L148.6 820.2 L149.4 820.2 L150.2 820.1 L151 820.1 L151.8 820 L152.6 819.9 L153.4 819.9 L154.2 819.8 L155 819.8 L155.8 819.8 L156.6 819.7 L157.4 819.7 L158.2 819.6 L159 819.6 L159.8 819.5 L160.6 819.5 L161.4 819.5 L162.2 819.4 L163 819.4 L163.8 819.3 L164.6 819.3 L165.4 819.2 L166.2 819.2 L167 819.1 L167.8 819.1 L168.6 819.1 L169.4 819 L170.2 819 L171 818.9 L171.8 818.9 L172.6 818.9 L173.4 818.8 L174.2 818.8 L175.1 818.8 L175.9 818.8 L176.7 818.7 L177.5 818.7 L178.3 818.7 L179.1 818.7 L179.9 818.7 L180.7 818.6 L181.5 818.6 L182.3 818.6 L183.1 818.6 L183.9 818.6 L184.7 818.5 L185.5 818.5 L186.3 818.5 L187.1 818.5 L187.9 818.5 L188.7 818.5 L189.5 818.4 L190.3 818.4 L191.1 818.4 L191.9 818.4 L192.7 818.4 L193.5 818.4 L194.3 818.4 L195.1 818.3 L195.9 818.3 L196.7 818.3 L197.6 818.3 L198.4 818.3 L199.2 818.3 L200 818.3 L200.8 818.3 L201.6 818.2 L202.4 818.2 L203.2 818.2 L204 818.2 L204.8 818.2 L205.6 818.2 L206.4 818.2 L207.2 818.2 L208 818.2 L208.8 818.2 L209.6 818.2 L210.4 818.1 L211.2 818.1 L212 818.1 L212.8 818.1 L213.6 818.1 L214.4 818.1 L215.2 818.1 L216 818 L216.8 818 L217.6 818 L218.4 818 L219.2 817.9 L220 817.9 L220.9 817.8 L221.7 817.8 L222.5 817.7 L223.2 817.6 L224 817.5 L224.8 817.4 L225.6 817.2 L226.4 817.1 L227.2 816.9 L228 816.7 L228.8 816.5 L229.5 816.3 L230.3 816.1 L231.1 815.8 L232.2 815.4 L233.2 814.8 L234.1 814.1 L234.9 813.2 L235.6 812.2 L236.1 811.1 L236.4 810 L236.6 808.8 L236.8 808 L236.9 807.2 L236.9 806.4 L237 805.6 L237 804.8 L237.1 804 L237.1 803.2 L237.2 802.4 L237.2 801.6 L237.3 800.8 L237.3 800 L237.4 798.8 L237.5 797.7 L237.5 796.9 L237.5 796.4 L238 763.3 L238.7 738.8 L238.7 738.8 L238.9 739.6 L239.2 740.7 L239.5 741.9 L239.8 743 L240 743.8 L240.2 744.6 L240.4 745.4 L240.6 746.1 L240.8 746.9 L241.1 747.7 L241.3 748.4 L241.5 749.2 L241.8 750 L242 750.7 L242.3 751.5 L242.5 752.3 L242.8 753 L243.1 753.8 L243.3 754.6 L243.6 755.3 L243.9 756.1 L244.1 756.8 L244.4 757.6 L244.7 758.3 L245 759.1 L245.2 759.8 L245.5 760.6 L245.8 761.3 L246.1 762.1 L246.4 762.8 L246.7 763.6 L247 764.3 L247.3 765.1 L247.6 765.8 L247.9 766.6 L248.2 767.3 L248.6 768 L248.9 768.8 L249.2 769.5 L249.5 770.2 L249.9 771 L250.2 771.7 L250.6 772.4 L250.9 773.2 L251.3 773.9 L251.6 774.6 L252 775.3 L252.4 776 L252.7 776.7 L253.1 777.5 L253.5 778.2 L253.9 778.9 L254.3 779.6 L254.7 780.3 L255.1 780.9 L255.5 781.6 L255.9 782.3 L256.4 783 L256.8 783.7 L257.2 784.4 L257.7 785 L258.1 785.7 L258.6 786.4 L259 787 L259.5 787.7 L260 788.3 L260.5 789 L261 789.6 L261.5 790.2 L262 790.8 L262.5 791.4 L263.1 792 L263.6 792.6 L264.2 793.2 L264.7 793.7 L265.3 794.3 L265.9 794.9 L266.5 795.4 L267.1 796 L267.7 796.5 L268.3 797 L268.9 797.5 L269.5 798 L270.2 798.5 L270.8 799 L271.4 799.5 L272.1 800 L272.7 800.5 L273.4 800.9 L274.1 801.4 L274.7 801.8 L275.4 802.3 L276.1 802.7 L276.8 803.1 L277.5 803.4 L278.2 803.8 L278.9 804.2 L279.7 804.5 L280.4 804.8 L281.1 805.1 L281.9 805.4 L282.6 805.7 L283.4 806 L284.1 806.3 L284.9 806.6 L285.6 806.9 L286.4 807.2 L287.1 807.5 L287.9 807.7 L288.6 808 L289.4 808.3 L290.5 808.7 L291.6 809.1 L292.8 809.5 L293.2 809.6" fill="none" stroke="#2d7ba6" stroke-width="1.4" stroke-linejoin="round" stroke-linecap="round"/>
<path d="M26.4 845.9 L27.3 845.9 L28.4 845.9 L29.6 845.9 L30.8 845.9 L31.6 845.9 L32.4 845.9 L33.2 845.9 L34 845.9 L34.8 845.9 L35.6 845.9 L36.5 845.9 L37.3 845.9 L38.1 845.9 L38.9 845.9 L39.7 845.9 L40.5 845.9 L41.3 845.9 L42.1 845.9 L42.9 845.8 L43.7 845.8 L44.5 845.8 L45.3 845.8 L46.1 845.8 L46.9 845.8 L47.7 845.8 L48.5 845.8 L49.3 845.8 L50.1 845.7 L50.9 845.7 L51.7 845.6 L52.5 845.5 L53.3 845.4 L54.1 845.3 L54.9 845.2 L55.7 845.1 L56.5 845 L57.3 844.9 L58.1 844.9 L58.9 844.8 L59.7 844.7 L60.5 844.6 L61.3 844.5 L62.1 844.4 L62.9 844.3 L63.7 844.2 L64.5 844.1 L65.3 844 L66.1 843.9 L66.9 843.8 L67.7 843.7 L68.5 843.6 L69.3 843.5 L70.1 843.4 L70.9 843.3 L71.7 843.3 L72.5 843.2 L73.3 843.1 L74.1 843 L74.9 842.9 L75.7 842.9 L76.5 842.8 L77.3 842.7 L78.1 842.7 L78.9 842.6 L79.7 842.5 L80.5 842.5 L81.3 842.4 L82.1 842.4 L82.9 842.3 L83.7 842.3 L84.5 842.2 L85.3 842.2 L86.1 842.1 L86.9 842.1 L87.7 842 L88.5 842 L89.3 841.9 L90.1 841.8 L90.9 841.8 L91.7 841.7 L92.5 841.6 L93.3 841.6 L94.1 841.5 L94.9 841.4 L95.7 841.3 L96.5 841.2 L97.3 841.1 L98.1 841 L98.9 840.9 L99.7 840.8 L100.5 840.7 L101.3 840.6 L102.1 840.4 L102.9 840.3 L103.7 840.2 L104.5 840 L105.3 839.9 L106.4 839.6 L107.6 839.4 L108.4 839.3 L108.8 839.2 L108.8 839.2 L109.3 838.5 L110 837.5 L110.7 836.6 L111.4 835.6 L111.9 835 L112.4 834.3 L112.8 833.7 L113.3 833 L113.8 832.4 L114.3 831.8 L114.9 831.2 L115.4 830.6 L116 830.1 L116.6 829.5 L117.2 829 L117.8 828.5 L118.5 828 L119.1 827.6 L119.8 827.2 L120.5 826.8 L121.2 826.4 L122 826.1 L122.7 825.8 L123.4 825.4 L124.2 825.1 L124.9 824.9 L125.7 824.6 L126.4 824.4 L127.2 824.1 L128 823.9 L128.8 823.7 L129.5 823.5 L130.3 823.3 L131.1 823.1 L131.9 822.9 L132.7 822.8 L133.4 822.6 L134.2 822.4 L135 822.3 L135.8 822.1 L136.6 822 L137.4 821.8 L138.2 821.7 L139 821.5 L139.7 821.4 L140.5 821.3 L141.3 821.1 L142.1 821 L142.9 820.9 L143.7 820.7 L144.5 820.6 L145.3 820.5 L146.1 820.5 L146.9 820.4 L147.7 820.3 L148.5 820.3 L149.3 820.2 L150.1 820.2 L150.9 820.1 L151.7 820.1 L152.5 820.1 L153.3 820 L154.1 820 L154.9 820 L155.7 819.9 L156.5 819.9 L157.3 819.9 L158.1 819.9 L158.9 819.9 L159.7 819.9 L160.5 819.9 L161.3 819.9 L162.1 819.9 L162.9 819.9 L163.7 819.9 L164.5 819.9 L165.3 819.9 L166.1 819.9 L166.9 819.9 L167.7 819.9 L168.5 819.9 L169.3 820 L170.1 820 L170.9 820 L171.8 820 L172.6 820 L173.4 820 L174.2 820.1 L175 820.1 L175.8 820.1 L176.6 820.1 L177.4 820.2 L178.2 820.2 L179 820.3 L179.8 820.4 L180.6 820.4 L181.4 820.5 L182.2 820.6 L183 820.7 L183.8 820.7 L184.6 820.8 L185.4 820.9 L186.1 821 L186.9 821.1 L187.7 821.2 L188.5 821.3 L189.3 821.4 L190.1 821.4 L190.9 821.5 L191.7 821.6 L192.5 821.7 L193.3 821.8 L194.1 821.9 L194.9 822 L195.7 822.1 L196.5 822.2 L197.3 822.3 L198.1 822.4 L198.9 822.5 L199.7 822.6 L200.5 822.7 L201.3 822.9 L202.1 823 L202.9 823.1 L203.7 823.2 L204.5 823.3 L205.3 823.4 L206.1 823.5 L206.8 823.6 L207.6 823.7 L208.4 823.8 L209.2 824 L210 824.1 L210.8 824.2 L211.6 824.3 L212.4 824.4 L213.2 824.5 L214 824.6 L214.8 824.8 L215.6 824.9 L216.4 825 L217.2 825.1 L218 825.2 L218.8 825.3 L219.6 825.4 L220.4 825.5 L221.1 825.6 L221.9 825.8 L222.7 825.9 L223.5 826 L224.3 826.1 L225.1 826.2 L225.9 826.4 L226.7 826.5 L227.5 826.6 L228.3 826.7 L229.1 826.8 L229.9 827 L230.7 827.1 L231.5 827.2 L232.3 827.3 L233.1 827.4 L233.9 827.5 L234.6 827.6 L235.4 827.6 L236.2 827.7 L237 827.8 L237.8 827.8 L238.6 827.9 L239.4 827.9 L240.2 828 L241.1 828 L241.9 828 L242.7 828.1 L243.5 828.1 L244.3 828.2 L245.1 828.2 L245.9 828.2 L246.7 828.2 L247.5 828.2 L248.3 828.2 L249.1 828.2 L249.9 828.3 L250.7 828.3 L251.5 828.3 L252.3 828.3 L253.1 828.3 L253.9 828.3 L254.7 828.3 L255.5 828.3 L256.3 828.3 L257.1 828.3 L257.9 828.3 L258.7 828.3 L259.5 828.3 L260.3 828.3 L261.1 828.3 L261.9 828.3 L262.7 828.3 L263.5 828.3 L264.3 828.3 L265.1 828.3 L265.9 828.3 L266.7 828.3 L267.5 828.3 L268.3 828.3 L269.1 828.3 L269.9 828.3 L270.7 828.3 L271.5 828.3 L272.3 828.3 L273.1 828.3 L273.9 828.3 L274.7 828.3 L275.5 828.3 L276.4 828.3 L277.2 828.3 L278 828.3 L278.8 828.3 L279.6 828.3 L280.4 828.3 L281.2 828.3 L282 828.3 L282.8 828.3 L283.6 828.3 L284.4 828.3 L285.2 828.3 L286 828.3 L286.8 828.3 L287.6 828.3 L288.4 828.3 L289.2 828.3 L290.4 828.3 L291.6 828.3 L292.8 828.3 L293.2 828.3" fill="none" stroke="#eeae32" stroke-width="1.4" stroke-linejoin="round" stroke-linecap="round"/>
<path d="M26.4 845.9 L27.3 845.9 L28.4 845.9 L29.6 845.9 L30.8 845.9 L31.6 845.9 L32.4 845.9 L33.2 845.9 L34 845.9 L34.8 845.9 L35.6 845.9 L36.4 845.9 L37.2 845.9 L38 845.9 L38.8 845.9 L39.6 845.9 L40.4 845.9 L41.2 845.9 L42 845.9 L42.8 845.9 L43.6 845.9 L44.4 845.9 L45.3 845.9 L46.1 845.9 L46.9 845.9 L47.7 845.9 L48.5 845.9 L49.3 845.9 L50.1 845.9 L50.9 845.9 L51.7 845.9 L52.5 845.9 L53.3 845.9 L54.1 845.9 L54.9 845.9 L55.7 845.9 L56.5 845.9 L57.3 845.9 L58.1 845.9 L58.9 845.9 L59.7 845.9 L60.5 845.9 L61.3 845.9 L62.1 845.9 L62.9 845.9 L63.7 845.9 L64.5 845.9 L65.3 845.9 L66.1 845.9 L66.9 845.9 L67.7 845.9 L68.5 845.9 L69.3 845.9 L70.1 845.9 L70.9 845.9 L71.7 845.9 L72.5 845.9 L73.3 845.9 L74.1 845.9 L74.9 845.9 L75.7 845.8 L76.5 845.8 L77.3 845.8 L78.1 845.8 L78.9 845.8 L79.7 845.8 L80.5 845.8 L81.4 845.8 L82.2 845.8 L83 845.8 L83.8 845.8 L84.6 845.8 L85.4 845.8 L86.2 845.8 L87 845.8 L87.8 845.8 L88.6 845.8 L89.4 845.8 L90.2 845.8 L91 845.8 L91.8 845.8 L92.6 845.8 L93.4 845.8 L94.2 845.8 L95 845.8 L95.8 845.8 L96.6 845.8 L97.4 845.8 L98.2 845.8 L99 845.8 L99.8 845.8 L100.6 845.7 L101.4 845.7 L102.2 845.7 L103 845.6 L103.8 845.6 L104.6 845.5 L105.4 845.4 L106.2 845.3 L107 845.2 L107.8 845.1 L108.6 845 L109.4 844.9 L110.2 844.8 L111 844.6 L111.8 844.5 L112.5 844.4 L113.3 844.3 L114.1 844.1 L114.9 844 L115.7 843.8 L116.5 843.6 L117.3 843.4 L118 843.3 L118.8 843.1 L119.6 842.9 L120.4 842.7 L121.2 842.5 L121.9 842.3 L122.7 842.2 L123.5 842 L124.3 841.8 L125.1 841.7 L125.9 841.5 L126.7 841.4 L127.5 841.3 L128.2 841.1 L129 841 L129.8 840.9 L130.6 840.8 L131.4 840.7 L132.2 840.6 L133 840.5 L133.8 840.4 L134.6 840.3 L135.4 840.2 L136.2 840.1 L137 840 L137.8 839.9 L138.6 839.8 L139.4 839.7 L140.2 839.6 L141 839.5 L141.8 839.4 L142.6 839.3 L143.4 839.2 L144.2 839.1 L145 839 L145.8 838.9 L146.6 838.9 L147.4 838.8 L148.2 838.7 L148.9 838.6 L149.7 838.5 L150.5 838.4 L151.3 838.3 L152.1 838.2 L152.9 838.2 L153.7 838.1 L154.5 838 L155.3 837.9 L156.1 837.8 L156.9 837.7 L157.7 837.7 L158.5 837.6 L159.3 837.5 L160.1 837.4 L160.9 837.3 L161.7 837.2 L162.5 837.2 L163.3 837.1 L164.1 837 L164.9 836.9 L165.7 836.9 L166.5 836.8 L167.3 836.7 L168.1 836.6 L168.9 836.6 L169.7 836.5 L170.5 836.4 L171.3 836.3 L172.1 836.3 L172.9 836.2 L173.7 836.1 L174.5 836 L175.3 836 L176.1 835.9 L176.9 835.8 L177.7 835.8 L178.5 835.7 L179.3 835.6 L180.1 835.6 L180.9 835.5 L181.7 835.4 L182.5 835.3 L183.3 835.3 L184.1 835.2 L184.9 835.1 L185.7 835.1 L186.5 835 L187.3 834.9 L188.1 834.9 L188.9 834.8 L189.7 834.8 L190.5 834.7 L191.3 834.6 L192.1 834.6 L192.9 834.5 L193.7 834.5 L194.5 834.4 L195.3 834.3 L196.1 834.3 L196.9 834.2 L197.7 834.2 L198.5 834.1 L199.3 834.1 L200.1 834 L200.9 834 L201.7 834 L202.5 833.9 L203.3 833.9 L204.1 833.8 L204.9 833.8 L205.7 833.7 L206.5 833.7 L207.3 833.7 L208.1 833.6 L208.9 833.6 L209.7 833.5 L210.5 833.5 L211.3 833.5 L212.1 833.4 L212.9 833.4 L213.7 833.4 L214.5 833.4 L215.3 833.3 L216.1 833.3 L216.9 833.3 L217.7 833.3 L218.5 833.2 L219.3 833.2 L220.1 833.2 L220.9 833.2 L221.7 833.2 L222.5 833.2 L223.3 833.1 L224.1 833.1 L224.9 833.1 L225.7 833.1 L226.5 833.1 L227.3 833.1 L228.1 833.1 L228.9 833.1 L229.7 833 L230.5 833 L231.3 833 L232.1 833 L233 833 L233.8 833 L234.9 833 L236.1 833 L237.3 833 L237.8 833 L237.8 833 L238.5 832.6 L239.6 832.1 L240.7 831.6 L241.4 831.2 L242.2 830.9 L242.9 830.6 L243.6 830.3 L244.4 830 L245.1 829.7 L245.9 829.4 L246.6 829.1 L247.4 828.8 L248.2 828.5 L248.9 828.2 L249.7 828 L250.5 827.7 L251.2 827.5 L252 827.4 L252.8 827.2 L253.6 827.1 L254.4 827 L255.2 826.9 L256 826.8 L256.8 826.7 L257.6 826.6 L258.4 826.6 L259.2 826.5 L260 826.4 L260.9 826.4 L261.7 826.4 L262.5 826.3 L263.3 826.3 L264.1 826.3 L264.9 826.3 L265.7 826.3 L266.5 826.3 L267.3 826.3 L268.1 826.3 L268.9 826.3 L269.7 826.3 L270.6 826.3 L271.4 826.3 L272.2 826.3 L273 826.3 L273.8 826.3 L274.6 826.3 L275.4 826.3 L276.2 826.3 L277 826.3 L277.8 826.3 L278.6 826.3 L279.5 826.3 L280.3 826.3 L281.1 826.3 L281.9 826.3 L282.7 826.3 L283.5 826.3 L284.3 826.3 L285.1 826.3 L285.9 826.3 L286.7 826.3 L287.5 826.3 L288.3 826.3 L289.2 826.3 L290 826.3 L291.1 826.3 L292.3 826.3 L293.2 826.3" fill="none" stroke="#3cb64c" stroke-width="1.4" stroke-linejoin="round" stroke-linecap="round"/>
<path d="M26.4 845.9 L27.3 845.9 L28.4 845.9 L29.6 845.9 L30.8 845.9 L31.6 845.9 L32.4 845.9 L33.2 845.9 L34 845.9 L34.8 845.9 L35.6 845.9 L36.4 845.9 L37.2 845.9 L38 845.9 L38.8 845.9 L39.6 845.9 L40.4 845.9 L41.2 845.9 L42 845.9 L42.9 845.9 L43.7 845.9 L44.5 845.9 L45.3 845.9 L46.1 845.9 L46.9 845.9 L47.7 845.9 L48.5 845.9 L49.3 845.9 L50.1 845.9 L50.9 845.9 L51.7 845.9 L52.5 845.9 L53.3 845.9 L54.1 845.9 L54.9 845.9 L55.7 845.9 L56.5 845.9 L57.3 845.9 L58.1 845.9 L58.9 845.9 L59.7 845.9 L60.5 845.9 L61.3 845.9 L62.1 845.9 L62.9 845.9 L63.7 845.9 L64.5 845.9 L65.3 845.9 L66.1 845.9 L66.9 845.9 L67.7 845.9 L68.5 845.9 L69.3 845.9 L70.1 845.9 L70.9 845.9 L71.7 845.9 L72.5 845.9 L73.3 845.9 L74.1 845.9 L75 845.9 L75.8 845.9 L76.6 845.9 L77.4 845.9 L78.2 845.9 L79 845.9 L79.8 845.9 L80.6 845.9 L81.4 845.9 L82.2 845.8 L83 845.8 L83.8 845.8 L84.6 845.8 L85.4 845.8 L86.2 845.8 L87 845.8 L87.8 845.8 L88.6 845.8 L89.4 845.8 L90.2 845.8 L91 845.8 L91.8 845.8 L92.6 845.8 L93.4 845.8 L94.2 845.8 L95 845.8 L95.8 845.8 L96.6 845.8 L97.4 845.8 L98.2 845.8 L99 845.8 L99.8 845.8 L100.6 845.8 L101.4 845.8 L102.2 845.8 L103 845.7 L103.8 845.7 L104.6 845.6 L105.4 845.6 L106.2 845.5 L107 845.4 L107.8 845.3 L108.6 845.3 L109.4 845.2 L110.2 845.1 L111 845 L111.8 844.8 L112.6 844.7 L113.4 844.6 L114.2 844.5 L115 844.4 L115.8 844.2 L116.6 844.1 L117.4 844 L118.2 843.9 L119 843.7 L119.7 843.6 L120.5 843.5 L121.3 843.4 L122.1 843.3 L122.9 843.2 L123.7 843.1 L124.5 842.9 L125.3 842.8 L126.1 842.8 L126.9 842.7 L127.7 842.6 L128.5 842.5 L129.3 842.4 L130.1 842.3 L130.9 842.2 L131.7 842.1 L132.5 842 L133.3 842 L134.1 841.9 L134.9 841.8 L135.7 841.7 L136.5 841.6 L137.3 841.5 L138.1 841.5 L138.9 841.4 L139.7 841.3 L140.5 841.2 L141.3 841.2 L142.1 841.1 L142.9 841 L143.7 840.9 L144.5 840.9 L145.3 840.8 L146.1 840.8 L146.9 840.7 L147.7 840.6 L148.5 840.6 L149.3 840.5 L150.1 840.5 L150.9 840.4 L151.7 840.4 L152.5 840.3 L153.3 840.3 L154.1 840.2 L154.9 840.2 L155.7 840.1 L156.5 840.1 L157.3 840 L158.1 840 L158.9 839.9 L159.7 839.9 L160.5 839.8 L161.3 839.8 L162.1 839.8 L162.9 839.7 L163.7 839.7 L164.5 839.6 L165.3 839.6 L166.1 839.5 L166.9 839.5 L167.7 839.5 L168.5 839.4 L169.3 839.4 L170.1 839.3 L170.9 839.3 L171.7 839.2 L172.5 839.2 L173.3 839.1 L174.1 839.1 L174.9 839 L175.7 839 L176.5 838.9 L177.3 838.9 L178.1 838.8 L178.9 838.8 L179.7 838.7 L180.5 838.6 L181.3 838.6 L182.1 838.5 L182.9 838.5 L183.7 838.4 L184.5 838.4 L185.3 838.3 L186.1 838.3 L186.9 838.2 L187.7 838.2 L188.5 838.1 L189.3 838 L190.1 838 L190.9 837.9 L191.7 837.9 L192.5 837.8 L193.3 837.8 L194.1 837.7 L194.9 837.6 L195.7 837.6 L196.5 837.5 L197.3 837.5 L198.1 837.4 L198.9 837.4 L199.7 837.3 L200.5 837.2 L201.3 837.2 L202.1 837.1 L202.9 837.1 L203.7 837 L204.5 836.9 L205.3 836.9 L206.1 836.8 L206.9 836.7 L207.7 836.7 L208.5 836.6 L209.3 836.5 L210.1 836.5 L210.9 836.4 L211.7 836.4 L212.5 836.3 L213.3 836.2 L214.1 836.2 L214.9 836.1 L215.7 836.1 L216.5 836 L217.3 835.9 L218.1 835.9 L218.9 835.8 L219.7 835.8 L220.5 835.7 L221.3 835.7 L222.1 835.7 L222.9 835.6 L223.7 835.6 L224.5 835.5 L225.3 835.5 L226.1 835.4 L226.9 835.4 L227.7 835.4 L228.5 835.3 L229.3 835.3 L230.1 835.2 L230.9 835.2 L231.8 835.2 L232.6 835.1 L233.4 835.1 L234.6 835 L235.7 835 L236.9 835 L237.8 834.9 L237.8 834.9 L238.4 834.3 L239.3 833.5 L240.1 832.7 L240.8 832.2 L241.4 831.7 L242 831.2 L242.7 830.7 L243.3 830.3 L244 829.8 L244.7 829.4 L245.4 829 L246.1 828.6 L246.8 828.3 L247.5 827.9 L248.3 827.6 L249 827.3 L249.8 827 L250.5 826.7 L251.3 826.5 L252.1 826.2 L252.8 826 L253.6 825.8 L254.4 825.6 L255.2 825.4 L255.9 825.1 L256.7 825 L257.5 824.8 L258.3 824.6 L259.1 824.4 L259.9 824.3 L260.7 824.1 L261.4 824 L262.2 823.9 L263 823.7 L263.8 823.6 L264.6 823.5 L265.4 823.4 L266.2 823.3 L267 823.2 L267.8 823.1 L268.6 823.1 L269.4 823 L270.2 822.9 L271.1 822.8 L271.9 822.7 L272.7 822.7 L273.5 822.6 L274.3 822.6 L275.1 822.5 L275.9 822.5 L276.7 822.4 L277.5 822.4 L278.3 822.4 L279.1 822.3 L279.9 822.3 L280.7 822.3 L281.5 822.3 L282.3 822.3 L283.1 822.3 L283.9 822.3 L284.7 822.3 L285.5 822.3 L286.3 822.3 L287.2 822.2 L288 822.2 L288.8 822.2 L289.6 822.2 L290.8 822.2 L291.9 822.2 L292.8 822.2 L293.2 822.2" fill="none" stroke="#f39cc6" stroke-width="1.4" stroke-linejoin="round" stroke-linecap="round"/>
<path d="M26.4 845.9 L27.3 845.9 L28.4 845.9 L29.6 845.9 L30.8 845.9 L31.6 845.9 L32.4 845.9 L33.2 845.9 L34 845.9 L34.8 845.9 L35.6 845.9 L36.4 845.9 L37.2 845.9 L38 845.9 L38.8 845.9 L39.6 845.9 L40.4 845.9 L41.2 845.9 L42 845.9 L42.8 845.9 L43.6 845.9 L44.4 845.9 L45.2 845.9 L46 845.9 L46.8 845.9 L47.6 845.9 L48.5 845.9 L49.3 845.9 L50.1 845.9 L50.9 845.9 L51.7 845.9 L52.5 845.9 L53.3 845.9 L54.1 845.9 L54.9 845.9 L55.7 845.9 L56.5 845.9 L57.3 845.9 L58.1 845.9 L58.9 845.9 L59.7 845.9 L60.5 845.9 L61.3 845.9 L62.1 845.9 L62.9 845.9 L63.7 845.9 L64.5 845.9 L65.3 845.9 L66.1 845.9 L66.9 845.9 L67.7 845.9 L68.5 845.9 L69.3 845.8 L70.1 845.8 L70.9 845.8 L71.7 845.8 L72.5 845.8 L73.3 845.8 L74.1 845.8 L74.9 845.8 L75.7 845.8 L76.5 845.8 L77.3 845.8 L78.1 845.8 L78.9 845.8 L79.7 845.8 L80.5 845.8 L81.3 845.8 L82.1 845.8 L82.9 845.8 L83.7 845.8 L84.5 845.8 L85.3 845.8 L86.1 845.8 L86.9 845.8 L87.7 845.8 L88.5 845.8 L89.3 845.8 L90.1 845.8 L91 845.8 L91.8 845.8 L92.6 845.8 L93.4 845.8 L94.2 845.8 L95 845.8 L95.8 845.8 L96.6 845.8 L97.4 845.8 L98.2 845.8 L99 845.8 L99.8 845.8 L100.6 845.8 L101.4 845.8 L102.2 845.8 L103 845.8 L103.8 845.8 L104.6 845.7 L105.4 845.7 L106.2 845.7 L107 845.7 L107.8 845.7 L108.6 845.7 L109.4 845.7 L110.2 845.7 L111 845.7 L111.8 845.7 L112.6 845.7 L113.4 845.7 L114.2 845.7 L115 845.7 L115.8 845.7 L116.6 845.7 L117.4 845.6 L118.2 845.6 L119 845.6 L119.8 845.6 L120.6 845.6 L121.4 845.6 L122.2 845.6 L123 845.6 L123.8 845.6 L124.6 845.6 L125.4 845.6 L126.2 845.5 L127 845.5 L127.8 845.5 L128.6 845.5 L129.4 845.5 L130.2 845.5 L131 845.5 L131.8 845.5 L132.6 845.4 L133.4 845.4 L134.2 845.4 L135.1 845.4 L135.9 845.4 L136.7 845.4 L137.5 845.4 L138.3 845.3 L139.1 845.3 L139.9 845.3 L140.7 845.3 L141.5 845.3 L142.3 845.3 L143.1 845.2 L143.9 845.2 L144.7 845.2 L145.5 845.2 L146.3 845.2 L147.1 845.1 L147.9 845.1 L148.7 845.1 L149.5 845 L150.3 845 L151.1 845 L151.9 844.9 L152.7 844.9 L153.5 844.8 L154.3 844.8 L155.1 844.7 L155.9 844.7 L156.7 844.6 L157.5 844.5 L158.3 844.5 L159.1 844.4 L159.9 844.4 L160.7 844.3 L161.5 844.2 L162.3 844.2 L163.1 844.1 L163.9 844 L164.7 844 L165.5 843.9 L166.3 843.9 L167.1 843.8 L167.9 843.7 L168.7 843.7 L169.5 843.6 L170.3 843.6 L171.1 843.5 L171.9 843.5 L172.7 843.4 L173.5 843.4 L174.3 843.4 L175.1 843.3 L175.9 843.3 L176.7 843.2 L177.5 843.2 L178.3 843.2 L179.1 843.1 L179.9 843.1 L180.7 843.1 L181.5 843.1 L182.3 843 L183.1 843 L183.9 843 L184.7 842.9 L185.5 842.9 L186.3 842.9 L187.1 842.9 L187.9 842.8 L188.7 842.8 L189.5 842.8 L190.3 842.8 L191.1 842.7 L191.9 842.7 L192.7 842.7 L193.5 842.7 L194.3 842.6 L195.1 842.6 L195.9 842.6 L196.7 842.6 L197.5 842.5 L198.3 842.5 L199.1 842.5 L199.9 842.4 L200.7 842.4 L201.5 842.4 L202.3 842.4 L203.1 842.3 L203.9 842.3 L204.7 842.3 L205.5 842.2 L206.3 842.2 L207.1 842.2 L207.9 842.2 L208.7 842.1 L209.5 842.1 L210.3 842.1 L211.1 842 L211.9 842 L212.7 842 L213.5 841.9 L214.3 841.9 L215.1 841.9 L215.9 841.9 L216.8 841.8 L217.6 841.8 L218.4 841.8 L219.2 841.7 L220 841.7 L220.8 841.7 L221.6 841.6 L222.4 841.6 L223.2 841.6 L224 841.5 L224.8 841.5 L225.6 841.5 L226.4 841.5 L227.2 841.4 L228 841.4 L228.8 841.4 L229.6 841.3 L230.4 841.3 L231.2 841.2 L232 841.2 L232.8 841.2 L233.6 841.1 L234.4 841.1 L235.2 841.1 L236 841 L236.8 841 L237.6 841 L238.4 840.9 L239.2 840.9 L240 840.8 L240.8 840.8 L241.6 840.8 L242.4 840.7 L243.2 840.7 L244 840.6 L244.8 840.6 L245.6 840.6 L246.4 840.5 L247.2 840.5 L248 840.4 L248.8 840.4 L249.6 840.3 L250.4 840.3 L251.2 840.2 L252 840.2 L252.8 840.2 L253.6 840.1 L254.4 840.1 L255.2 840 L256 840 L256.8 839.9 L257.6 839.9 L258.4 839.8 L259.2 839.8 L260 839.7 L260.8 839.7 L261.6 839.6 L262.4 839.6 L263.2 839.5 L264 839.5 L264.8 839.4 L265.6 839.4 L266.4 839.3 L267.2 839.3 L268 839.2 L268.8 839.2 L269.6 839.1 L270.4 839.1 L271.2 839 L272 839 L272.8 838.9 L273.6 838.9 L274.4 838.8 L275.2 838.8 L276 838.7 L276.8 838.7 L277.6 838.6 L278.4 838.5 L279.2 838.5 L280 838.4 L280.8 838.4 L281.6 838.3 L282.4 838.3 L283.2 838.2 L284 838.1 L284.8 838.1 L285.6 838 L286.4 838 L287.2 837.9 L288 837.9 L288.8 837.8 L290 837.7 L291.2 837.6 L292.3 837.5 L293.2 837.5" fill="none" stroke="#b0b0a0" stroke-width="1.4" stroke-linejoin="round" stroke-linecap="round"/>
<path d="M26.4 703.9 V854.5 H293.2" fill="none" stroke="#3a3a3a" stroke-width="1.3"/>
<path d="M20.9 854.5H26.4M23.4 850.2H26.4M23.4 845.9H26.4M23.4 841.6H26.4M23.4 837.3H26.4M20.9 833H26.4M23.4 828.7H26.4M23.4 824.4H26.4M23.4 820.1H26.4M23.4 815.8H26.4M20.9 811.5H26.4M23.4 807.2H26.4M23.4 802.9H26.4M23.4 798.6H26.4M23.4 794.3H26.4M20.9 790H26.4M23.4 785.7H26.4M23.4 781.4H26.4M23.4 777H26.4M23.4 772.7H26.4M20.9 768.4H26.4M23.4 764.1H26.4M23.4 759.8H26.4M23.4 755.5H26.4M23.4 751.2H26.4M20.9 746.9H26.4M23.4 742.6H26.4M23.4 738.3H26.4M23.4 734H26.4M23.4 729.7H26.4M20.9 725.4H26.4M23.4 721.1H26.4M23.4 716.8H26.4M23.4 712.5H26.4M23.4 708.2H26.4M20.9 703.9H26.4M26.4 854.5V857.8M41.2 854.5V856.5M56 854.5V857.8M70.9 854.5V856.5M85.7 854.5V857.8M100.5 854.5V856.5M115.3 854.5V857.8M130.2 854.5V856.5M145 854.5V857.8M159.8 854.5V856.5M174.6 854.5V857.8M189.4 854.5V856.5M204.3 854.5V857.8M219.1 854.5V856.5M233.9 854.5V857.8M248.7 854.5V856.5M263.6 854.5V857.8M278.4 854.5V856.5M293.2 854.5V857.8" stroke="#3a3a3a" stroke-width="1.1"/>
<g font-family="Liberation Sans, sans-serif" font-weight="bold" font-size="7.4" fill="#1c1c24"><text x="18.8" y="855.1" text-anchor="end" dominant-baseline="central">0</text><text x="18.8" y="833.6" text-anchor="end" dominant-baseline="central">50</text><text x="18.8" y="812.1" text-anchor="end" dominant-baseline="central">100</text><text x="18.8" y="790.6" text-anchor="end" dominant-baseline="central">150</text><text x="18.8" y="769" text-anchor="end" dominant-baseline="central">200</text><text x="18.8" y="747.5" text-anchor="end" dominant-baseline="central">250</text><text x="18.8" y="726" text-anchor="end" dominant-baseline="central">300</text><text x="18.8" y="704.5" text-anchor="end" dominant-baseline="central">350</text><text x="26.4" y="863.5" text-anchor="middle" dominant-baseline="central">0.0</text><text x="56" y="863.5" text-anchor="middle" dominant-baseline="central">0.2</text><text x="85.7" y="863.5" text-anchor="middle" dominant-baseline="central">0.4</text><text x="115.3" y="863.5" text-anchor="middle" dominant-baseline="central">0.6</text><text x="145" y="863.5" text-anchor="middle" dominant-baseline="central">0.8</text><text x="174.6" y="863.5" text-anchor="middle" dominant-baseline="central">1.0</text><text x="204.3" y="863.5" text-anchor="middle" dominant-baseline="central">1.2</text><text x="233.9" y="863.5" text-anchor="middle" dominant-baseline="central">1.4</text><text x="263.6" y="863.5" text-anchor="middle" dominant-baseline="central">1.6</text><text x="293.2" y="863.5" text-anchor="middle" dominant-baseline="central">1.8</text></g>
<text x="15.8" y="693.6" font-family="Liberation Sans, sans-serif" font-weight="bold" font-size="7.4" fill="#1c1c24" text-anchor="middle" dominant-baseline="central">[degC]</text>
<text x="295.1" y="852" font-family="Liberation Sans, sans-serif" font-weight="bold" font-size="7.4" fill="#1c1c24" dominant-baseline="central">x10<tspan font-size="5.2" dx="1.2" dy="-2.5">3</tspan></text>
<text x="159.5" y="871" font-family="Liberation Mono, monospace" font-size="6.5" fill="#333" text-anchor="middle" dominant-baseline="central">X: Time [s]</text>
<rect x="127.5" y="687.5" width="105.1" height="65.4" fill="#fff" stroke="#2a2a2a" stroke-width="1.2"/>
<line x1="130.4" y1="694.5" x2="140.3" y2="694.5" stroke="#ee5555" stroke-width="1.5"/>
<text x="143" y="695.4" font-family="Liberation Mono, monospace" font-weight="bold" font-size="6.4" fill="#222" dominant-baseline="central" textLength="85.9" lengthAdjust="spacingAndGlyphs">cell 1 temperature [degC]</text>
<line x1="130.4" y1="704.9" x2="140.3" y2="704.9" stroke="#3d7fa6" stroke-width="1.5"/>
<text x="143" y="705.8" font-family="Liberation Mono, monospace" font-weight="bold" font-size="6.4" fill="#222" dominant-baseline="central" textLength="85.9" lengthAdjust="spacingAndGlyphs">cell 2 temperature [degC]</text>
<line x1="130.4" y1="715.2" x2="140.3" y2="715.2" stroke="#fbbd5a" stroke-width="1.5"/>
<text x="143" y="716.1" font-family="Liberation Mono, monospace" font-weight="bold" font-size="6.4" fill="#222" dominant-baseline="central" textLength="85.9" lengthAdjust="spacingAndGlyphs">cell 3 temperature [degC]</text>
<line x1="130.4" y1="725.5" x2="140.3" y2="725.5" stroke="#4cba5a" stroke-width="1.5"/>
<text x="143" y="726.4" font-family="Liberation Mono, monospace" font-weight="bold" font-size="6.4" fill="#222" dominant-baseline="central" textLength="85.9" lengthAdjust="spacingAndGlyphs">cell 4 temperature [degC]</text>
<line x1="130.4" y1="735.9" x2="140.3" y2="735.9" stroke="#f2a2c8" stroke-width="1.5"/>
<text x="143" y="736.8" font-family="Liberation Mono, monospace" font-weight="bold" font-size="6.4" fill="#222" dominant-baseline="central" textLength="85.9" lengthAdjust="spacingAndGlyphs">cell 5 temperature [degC]</text>
<line x1="130.4" y1="746.2" x2="140.3" y2="746.2" stroke="#b0b0a0" stroke-width="1.5"/>
<text x="143" y="747.1" font-family="Liberation Mono, monospace" font-weight="bold" font-size="6.4" fill="#222" dominant-baseline="central" textLength="85.9" lengthAdjust="spacingAndGlyphs">cell 6 temperature [degC]</text>
<line x1="300.8" y1="709" x2="311.3" y2="709" stroke="#ee5555" stroke-width="1.6"/>
<line x1="300.8" y1="715.9" x2="311.3" y2="715.9" stroke="#3d7fa6" stroke-width="1.6"/>
<line x1="300.8" y1="722.8" x2="311.3" y2="722.8" stroke="#fbbd5a" stroke-width="1.6"/>
<line x1="300.8" y1="729.7" x2="311.3" y2="729.7" stroke="#4cba5a" stroke-width="1.6"/>
<line x1="300.8" y1="736.6" x2="311.3" y2="736.6" stroke="#f2a2c8" stroke-width="1.6"/>
<line x1="300.8" y1="743.5" x2="311.3" y2="743.5" stroke="#b0b0a0" stroke-width="1.6"/>
<line x1="362.7" y1="704.1" x2="362.7" y2="855.1" stroke="#e2e2e2" stroke-width="0.9" stroke-dasharray="1 1"/>
<line x1="377.5" y1="704.1" x2="377.5" y2="855.1" stroke="#d8d8d8" stroke-width="0.9" stroke-dasharray="1 1"/>
<line x1="392.3" y1="704.1" x2="392.3" y2="855.1" stroke="#e2e2e2" stroke-width="0.9" stroke-dasharray="1 1"/>
<line x1="407.1" y1="704.1" x2="407.1" y2="855.1" stroke="#d8d8d8" stroke-width="0.9" stroke-dasharray="1 1"/>
<line x1="421.9" y1="704.1" x2="421.9" y2="855.1" stroke="#e2e2e2" stroke-width="0.9" stroke-dasharray="1 1"/>
<line x1="436.7" y1="704.1" x2="436.7" y2="855.1" stroke="#d8d8d8" stroke-width="0.9" stroke-dasharray="1 1"/>
<line x1="451.5" y1="704.1" x2="451.5" y2="855.1" stroke="#e2e2e2" stroke-width="0.9" stroke-dasharray="1 1"/>
<line x1="466.3" y1="704.1" x2="466.3" y2="855.1" stroke="#d8d8d8" stroke-width="0.9" stroke-dasharray="1 1"/>
<line x1="481.1" y1="704.1" x2="481.1" y2="855.1" stroke="#e2e2e2" stroke-width="0.9" stroke-dasharray="1 1"/>
<line x1="495.9" y1="704.1" x2="495.9" y2="855.1" stroke="#d8d8d8" stroke-width="0.9" stroke-dasharray="1 1"/>
<line x1="510.7" y1="704.1" x2="510.7" y2="855.1" stroke="#e2e2e2" stroke-width="0.9" stroke-dasharray="1 1"/>
<line x1="525.5" y1="704.1" x2="525.5" y2="855.1" stroke="#d8d8d8" stroke-width="0.9" stroke-dasharray="1 1"/>
<line x1="540.3" y1="704.1" x2="540.3" y2="855.1" stroke="#e2e2e2" stroke-width="0.9" stroke-dasharray="1 1"/>
<line x1="555.1" y1="704.1" x2="555.1" y2="855.1" stroke="#d8d8d8" stroke-width="0.9" stroke-dasharray="1 1"/>
<line x1="569.9" y1="704.1" x2="569.9" y2="855.1" stroke="#e2e2e2" stroke-width="0.9" stroke-dasharray="1 1"/>
<line x1="584.7" y1="704.1" x2="584.7" y2="855.1" stroke="#d8d8d8" stroke-width="0.9" stroke-dasharray="1 1"/>
<line x1="599.5" y1="704.1" x2="599.5" y2="855.1" stroke="#e2e2e2" stroke-width="0.9" stroke-dasharray="1 1"/>
<line x1="347.9" y1="842.5" x2="614.3" y2="842.5" stroke="#ececec" stroke-width="0.8" stroke-dasharray="1 1"/>
<line x1="347.9" y1="829.9" x2="614.3" y2="829.9" stroke="#dcdcdc" stroke-width="0.8" stroke-dasharray="1 1"/>
<line x1="347.9" y1="817.4" x2="614.3" y2="817.4" stroke="#ececec" stroke-width="0.8" stroke-dasharray="1 1"/>
<line x1="347.9" y1="804.8" x2="614.3" y2="804.8" stroke="#dcdcdc" stroke-width="0.8" stroke-dasharray="1 1"/>
<line x1="347.9" y1="792.2" x2="614.3" y2="792.2" stroke="#ececec" stroke-width="0.8" stroke-dasharray="1 1"/>
<line x1="347.9" y1="779.6" x2="614.3" y2="779.6" stroke="#dcdcdc" stroke-width="0.8" stroke-dasharray="1 1"/>
<line x1="347.9" y1="767" x2="614.3" y2="767" stroke="#ececec" stroke-width="0.8" stroke-dasharray="1 1"/>
<line x1="347.9" y1="754.4" x2="614.3" y2="754.4" stroke="#dcdcdc" stroke-width="0.8" stroke-dasharray="1 1"/>
<line x1="347.9" y1="741.9" x2="614.3" y2="741.9" stroke="#ececec" stroke-width="0.8" stroke-dasharray="1 1"/>
<line x1="347.9" y1="729.3" x2="614.3" y2="729.3" stroke="#dcdcdc" stroke-width="0.8" stroke-dasharray="1 1"/>
<line x1="347.9" y1="716.7" x2="614.3" y2="716.7" stroke="#ececec" stroke-width="0.8" stroke-dasharray="1 1"/>
<path d="M347.9 704.1 H614.3 V855.1" fill="none" stroke="#d4d4d4" stroke-width="1"/>
<path d="M347.9 754.4 L348.8 754.4 L349.9 754.3 L351.1 754.3 L351.9 754.2 L352.7 754.2 L353.5 754.1 L354.3 754 L355.2 754 L356 753.9 L356.8 753.8 L357.5 753.6 L358.3 753.5 L359.1 753.3 L359.9 753.1 L360.7 752.8 L361.4 752.6 L362.2 752.3 L362.9 752 L363.7 751.7 L364.4 751.3 L365.1 751 L365.8 750.5 L366.4 750.1 L367.3 749.3 L368.1 748.4 L368.6 747.7 L369.1 747.1 L369.5 746.4 L370 745.7 L370.4 745 L370.8 744.4 L371.2 743.7 L371.6 743 L372 742.3 L372.4 741.6 L372.8 740.9 L373.2 740.2 L373.6 739.4 L374 738.7 L374.4 738 L375.1 737.1 L375.9 736.3 L376.9 735.7 L378 735.2 L379.2 735 L380 734.8 L380.8 734.8 L381.6 734.8 L382.4 734.8 L383.2 734.9 L384 735 L384.8 735.1 L385.6 735.3 L386.3 735.5 L387.1 735.6 L387.9 735.8 L388.7 736 L389.5 736.2 L390.3 736.4 L391.1 736.6 L391.9 736.7 L392.6 736.9 L393.4 737 L394.2 737.1 L395 737.3 L395.8 737.4 L396.6 737.5 L397.4 737.6 L398.2 737.8 L399 737.9 L399.8 738 L400.6 738.1 L401.4 738.2 L402.2 738.4 L403 738.5 L403.8 738.6 L404.6 738.7 L405.4 738.8 L406.2 738.9 L407 739 L407.8 739.1 L408.6 739.2 L409.8 739.3 L411 739.5 L411.8 739.6 L411.8 739.6 L412.1 740.4 L412.4 741.5 L412.7 742.7 L412.8 743.5 L413 744.3 L413.1 745.1 L413.2 745.9 L413.3 746.7 L413.4 747.5 L413.6 748.3 L413.7 749.1 L413.8 749.9 L413.9 750.7 L414.1 751.5 L414.2 752.3 L414.4 753.1 L414.6 753.8 L414.7 754.6 L415 755.4 L415.4 756.5 L416 757.5 L416.8 758.4 L417.7 759.1 L418.7 759.8 L419.4 760.2 L420.2 760.5 L420.9 760.8 L421.7 761.1 L422.4 761.4 L423.2 761.7 L423.9 761.9 L424.7 762.1 L425.5 762.4 L426.2 762.6 L427.3 763.1 L428.3 763.8 L429 764.7 L429.5 765.7 L429.9 766.8 L430 768 L430.1 768.8 L430.2 769.6 L430.2 770.4 L430.2 771.3 L430.2 772.1 L430.3 772.9 L430.3 773.7 L430.3 774.5 L430.3 775.3 L430.3 776.1 L430.3 776.9 L430.4 777.7 L430.4 778.5 L430.4 779.3 L430.4 780.1 L430.4 780.9 L430.4 781.7 L430.4 782.6 L430.5 783.4 L430.5 784.2 L430.5 785 L430.5 785.8 L430.5 786.6 L430.5 787.4 L430.5 788.2 L430.6 789 L430.6 789.8 L430.6 790.6 L430.6 791.4 L430.6 792.2 L430.6 793.1 L430.6 793.9 L430.6 794.7 L430.6 795.5 L430.7 796.3 L430.7 797.1 L430.7 797.9 L430.7 798.7 L430.7 799.5 L430.7 800.3 L430.7 801.1 L430.7 802.3 L430.8 803.5 L430.8 804.3 L430.8 804.8 L431.2 837.7 L431.2 837.7 L431.3 836.9 L431.4 835.7 L431.5 834.5 L431.6 833.3 L431.7 832.5 L431.8 831.7 L431.9 831 L432 830.2 L432 829.4 L432.1 828.6 L432.2 827.8 L432.3 827 L432.4 826.2 L432.4 825.4 L432.5 824.6 L432.6 823.8 L432.7 823 L432.8 822.2 L432.9 821.4 L433 820.6 L433.1 819.8 L433.2 819 L433.3 818.2 L433.4 817.4 L433.5 816.6 L433.6 815.8 L433.7 815 L433.8 814.2 L434 813.4 L434.1 812.7 L434.2 811.9 L434.4 811.1 L434.5 810.3 L434.6 809.5 L434.8 808.7 L434.9 807.9 L435.1 807.1 L435.2 806.3 L435.4 805.6 L435.5 804.8 L435.7 804 L435.9 803.2 L436 802.4 L436.2 801.6 L436.4 800.8 L436.5 800.1 L436.7 799.3 L436.9 798.5 L437.1 797.7 L437.3 796.9 L437.5 796.2 L437.7 795.4 L437.9 794.6 L438.1 793.9 L438.4 793.1 L438.6 792.3 L438.8 791.6 L439.1 790.8 L439.4 790 L439.7 789.3 L439.9 788.5 L440.2 787.8 L440.5 787.1 L440.8 786.3 L441.2 785.6 L441.5 784.8 L441.8 784.1 L442.1 783.4 L442.5 782.7 L442.8 781.9 L443.2 781.2 L443.5 780.5 L443.9 779.8 L444.3 779.1 L444.7 778.4 L445.1 777.7 L445.5 777 L446 776.4 L446.5 775.7 L447.2 774.8 L448 773.9 L448.8 773 L449.4 772.5 L450 771.9 L450.6 771.4 L451.3 770.9 L451.9 770.4 L452.5 770 L453.2 769.5 L453.8 769 L454.5 768.6 L455.2 768.2 L455.9 767.7 L456.6 767.3 L457.3 766.9 L458 766.6 L458.7 766.2 L459.4 765.8 L460.1 765.5 L460.8 765.1 L461.6 764.8 L462.3 764.5 L463 764.2 L463.8 763.9 L464.5 763.6 L465.3 763.3 L466 763.1 L466.8 762.8 L467.6 762.6 L468.3 762.3 L469.1 762.1 L469.9 761.8 L470.6 761.6 L471.4 761.4 L472.2 761.2 L472.9 760.9 L473.7 760.7 L474.5 760.5 L475.3 760.3 L476 760.1 L476.8 759.9 L477.6 759.8 L478.4 759.6 L479.2 759.4 L479.9 759.2 L480.7 759.1 L481.5 758.9 L482.3 758.8 L483.1 758.7 L483.9 758.6 L484.7 758.4 L485.5 758.3 L486.3 758.3 L487.1 758.2 L487.9 758.1 L488.7 758 L489.5 757.9 L490.3 757.9 L491.1 757.8 L491.9 757.8 L492.7 757.7 L493.5 757.7 L494.3 757.6 L495.1 757.6 L495.9 757.5 L496.7 757.5 L497.5 757.4 L498.3 757.4 L499.1 757.3 L499.9 757.3 L500.7 757.3 L501.5 757.2 L502.3 757.2 L503.1 757.1 L503.9 757.1 L504.7 757 L505.5 756.9 L506.3 756.9 L507.1 756.8 L507.9 756.7 L508.7 756.6 L509.5 756.5 L510.3 756.4 L511 756.4 L511.8 756.3 L512.6 756.2 L513.4 756.1 L514.2 756.1 L515 756 L515.8 756 L516.6 756 L517.4 756 L518.2 755.9 L519 755.9 L519.8 755.9 L520.7 755.9 L521.5 755.9 L522.3 755.9 L523.1 755.9 L523.9 755.9 L524.7 755.9 L525.5 755.9 L526.3 756 L527.1 756 L527.9 756 L528.7 756 L529.5 756 L530.3 756 L531.1 756 L531.9 756 L532.7 756 L533.5 756 L534.3 756 L535.1 756 L535.9 756 L536.7 756 L537.5 756 L538.3 756 L539.1 756 L539.9 756 L540.7 756 L541.5 756 L542.3 756 L543.1 756 L543.9 756 L544.7 756.1 L545.5 756.1 L546.3 756.1 L547.1 756.1 L547.9 756.1 L548.7 756.1 L549.5 756.1 L550.3 756.1 L551.1 756.1 L551.9 756.1 L552.7 756.2 L553.5 756.2 L554.7 756.3 L555.9 756.4 L557.1 756.7 L558.2 757.1 L559.3 757.5 L560.4 757.9 L561.5 758.3 L562.7 758.6 L563.9 758.8 L565.1 759 L565.9 759 L566.7 759.1 L567.5 759.1 L568.3 759.2 L569.1 759.2 L569.9 759.2 L570.7 759.2 L571.5 759.2 L572.3 759.2 L573.1 759.2 L573.9 759.3 L574.7 759.3 L575.5 759.3 L576.3 759.3 L577.1 759.3 L577.9 759.3 L578.7 759.3 L579.5 759.3 L580.3 759.3 L581.1 759.3 L581.9 759.3 L582.7 759.3 L583.5 759.3 L584.3 759.3 L585.1 759.3 L585.9 759.3 L586.7 759.3 L587.5 759.3 L588.3 759.3 L589.1 759.3 L589.9 759.3 L590.7 759.3 L591.5 759.3 L592.3 759.3 L593.1 759.3 L593.9 759.3 L594.7 759.3 L595.5 759.3 L596.3 759.3 L597.1 759.2 L597.9 759.2 L598.7 759.2 L599.5 759.1 L600.3 759.1 L601.1 759 L601.9 759 L602.7 758.9 L603.5 758.9 L604.3 758.8 L605.1 758.7 L605.9 758.7 L606.7 758.6 L607.5 758.5 L608.3 758.4 L609.1 758.4 L609.9 758.3 L611.1 758.2 L612.3 758 L613.5 757.9 L614.3 757.8" fill="none" stroke="#ee3535" stroke-width="1.4" stroke-linejoin="round" stroke-linecap="round"/>
<path d="M347.9 754.4 L348.8 754.4 L349.9 754.4 L351.1 754.4 L352.3 754.4 L353.1 754.4 L353.9 754.4 L354.7 754.4 L355.5 754.4 L356.3 754.4 L357.1 754.4 L357.9 754.4 L358.7 754.4 L359.5 754.4 L360.4 754.3 L361.2 754.3 L362 754.3 L362.8 754.3 L363.6 754.3 L364.4 754.3 L365.2 754.2 L366 754.2 L366.8 754.2 L367.6 754.1 L368.4 754.1 L369.2 754 L370 754 L370.8 753.9 L371.6 753.9 L372.4 753.8 L373.2 753.8 L374 753.7 L374.8 753.6 L375.6 753.6 L376.4 753.5 L377.2 753.4 L378 753.4 L378.8 753.3 L379.6 753.2 L380.4 753.1 L381.2 753 L382 752.9 L382.8 752.8 L383.6 752.7 L384.4 752.6 L385.2 752.5 L386 752.4 L386.8 752.2 L387.5 752.1 L388.3 752 L389.1 751.9 L389.9 751.8 L390.7 751.7 L391.5 751.6 L392.3 751.6 L393.1 751.5 L393.9 751.4 L394.7 751.3 L395.5 751.3 L396.3 751.2 L397.1 751.1 L397.9 751.1 L398.7 751 L399.5 750.9 L400.3 750.9 L401.1 750.8 L401.9 750.8 L402.7 750.7 L403.5 750.6 L404.3 750.6 L405.1 750.5 L405.9 750.4 L406.7 750.4 L407.5 750.3 L408.3 750.3 L409.1 750.2 L409.9 750.1 L410.7 750.1 L411.5 750 L412.3 749.9 L413.1 749.8 L413.9 749.8 L414.7 749.7 L415.5 749.6 L416.3 749.6 L417.2 749.5 L418 749.5 L418.8 749.5 L419.6 749.4 L420.4 749.4 L421.2 749.3 L422 749.3 L422.8 749.2 L423.6 749.1 L424.4 749 L425.2 748.9 L425.9 748.8 L427.1 748.5 L428.2 748.1 L429 747.5 L429.6 746.7 L429.8 745.6 L430 744.4 L430.1 743.6 L430.1 742.8 L430.2 742 L430.2 741.2 L430.3 740.4 L430.3 739.6 L430.4 738.8 L430.4 738 L430.5 737.2 L430.5 736.4 L430.6 735.6 L430.6 734.8 L430.7 734 L430.7 733.2 L430.7 732.4 L430.8 731.6 L430.8 730.8 L430.9 730 L430.9 729.2 L430.9 728.4 L431 727.6 L431 726.8 L431 726 L431.1 725.2 L431.1 724.4 L431.1 723.6 L431.2 722.8 L431.2 722 L431.2 721.2 L431.3 720.4 L431.3 719.6 L431.3 718.8 L431.4 718 L431.4 717.2 L431.4 716 L431.5 714.8 L431.5 714 L431.5 713.5 L431.5 713.5 L431.8 714.3 L432.2 715.5 L432.6 716.6 L433 717.7 L433.3 718.4 L433.6 719.2 L433.9 719.9 L434.1 720.7 L434.4 721.4 L434.7 722.2 L435 722.9 L435.4 723.7 L435.7 724.4 L436 725.1 L436.3 725.9 L436.7 726.6 L437 727.3 L437.4 728 L437.8 728.7 L438.2 729.4 L438.6 730.1 L439 730.8 L439.4 731.5 L439.9 732.1 L440.4 732.7 L440.9 733.4 L441.4 734 L441.9 734.6 L442.5 735.2 L443 735.7 L443.6 736.3 L444.2 736.9 L444.8 737.4 L445.4 737.9 L446 738.5 L446.6 739 L447.2 739.5 L447.8 740 L448.4 740.5 L449.1 741 L449.7 741.5 L450.3 742 L451 742.5 L451.6 743 L452.2 743.5 L452.9 744 L453.5 744.4 L454.2 744.9 L454.9 745.3 L455.5 745.8 L456.2 746.2 L456.9 746.6 L457.6 747 L458.3 747.4 L459 747.8 L459.7 748.2 L460.4 748.6 L461.1 749 L461.8 749.3 L462.5 749.7 L463.3 750 L464 750.3 L464.7 750.7 L465.5 751 L466.2 751.2 L467 751.5 L467.7 751.8 L468.5 752 L469.3 752.2 L470 752.4 L470.8 752.6 L471.6 752.8 L472.4 753 L473.1 753.2 L473.9 753.4 L474.7 753.6 L475.5 753.8 L476.3 754 L477 754.2 L477.8 754.3 L478.6 754.5 L479.4 754.6 L480.2 754.8 L481 754.9 L481.8 755 L482.6 755.1 L483.4 755.2 L484.2 755.3 L485 755.3 L485.8 755.4 L486.6 755.4 L487.4 755.5 L488.2 755.5 L489 755.5 L489.8 755.5 L490.6 755.5 L491.4 755.6 L492.2 755.6 L493 755.6 L493.8 755.6 L494.6 755.6 L495.4 755.6 L496.2 755.7 L497 755.7 L497.8 755.7 L498.6 755.7 L499.4 755.7 L500.2 755.7 L501 755.7 L501.8 755.7 L502.6 755.7 L503.4 755.7 L504.2 755.7 L505 755.8 L505.8 755.8 L506.6 755.8 L507.4 755.8 L508.2 755.8 L509 755.8 L509.8 755.8 L510.6 755.8 L511.4 755.8 L512.2 755.8 L513 755.9 L513.8 755.9 L514.6 755.9 L515.4 755.9 L516.2 755.9 L517 755.9 L517.8 756 L518.6 756 L519.4 756 L520.3 756 L521.1 756 L521.9 756 L522.7 756.1 L523.5 756.1 L524.3 756.1 L525.1 756.1 L525.9 756.1 L526.7 756.1 L527.5 756.2 L528.3 756.2 L529.1 756.2 L529.9 756.2 L530.7 756.2 L531.5 756.3 L532.3 756.3 L533.1 756.3 L533.9 756.3 L534.7 756.4 L535.5 756.4 L536.3 756.4 L537.1 756.4 L537.9 756.5 L538.7 756.5 L539.5 756.5 L540.3 756.6 L541.1 756.6 L541.9 756.7 L542.7 756.7 L543.5 756.8 L544.3 756.8 L545.1 756.9 L545.9 756.9 L546.7 757 L547.5 757.1 L548.3 757.1 L549.1 757.2 L549.9 757.3 L550.7 757.3 L551.5 757.4 L552.3 757.5 L553.5 757.7 L554.6 757.9 L555.7 758.3 L556.6 759 L557.4 759.8 L557.9 760.9 L558.2 762 L558.3 763.2 L558.4 764.4 L558.5 765.2 L558.6 766 L558.6 766.8 L558.7 767.6 L558.7 768.4 L558.7 769.2 L558.8 770 L558.8 770.8 L558.9 771.6 L558.9 772.4 L558.9 773.2 L559 774 L559 774.8 L559.1 775.6 L559.1 776.4 L559.1 777.2 L559.2 778 L559.2 778.8 L559.2 779.6 L559.3 780.4 L559.3 781.2 L559.4 782 L559.4 782.8 L559.4 783.6 L559.5 784.4 L559.5 785.2 L559.5 786 L559.5 786.8 L559.6 787.6 L559.6 788.4 L559.6 789.2 L559.7 790 L559.7 790.8 L559.7 791.6 L559.8 792.4 L559.8 793.2 L559.8 794 L559.8 794.8 L559.9 796 L559.9 797.2 L560 798.4 L560 799.2 L560 799.2 L560.3 798.4 L560.8 797.3 L561.2 796.3 L561.5 795.5 L561.9 794.8 L562.2 794 L562.5 793.3 L562.9 792.6 L563.2 791.9 L563.6 791.1 L563.9 790.4 L564.3 789.7 L564.7 789 L565.1 788.3 L565.5 787.6 L565.9 786.9 L566.3 786.2 L566.7 785.5 L567.2 784.9 L567.6 784.2 L568 783.5 L568.5 782.8 L568.9 782.2 L569.4 781.5 L569.8 780.8 L570.3 780.2 L570.8 779.6 L571.3 778.9 L571.8 778.3 L572.4 777.7 L572.9 777.1 L573.5 776.6 L574.1 776 L574.7 775.5 L575.3 774.9 L575.9 774.4 L576.5 773.9 L577.1 773.4 L577.8 772.9 L578.4 772.4 L579 771.9 L579.7 771.4 L580.3 770.9 L581 770.5 L581.7 770 L582.3 769.6 L583 769.1 L583.7 768.7 L584.4 768.3 L585.1 767.9 L585.8 767.5 L586.5 767.1 L587.2 766.7 L587.9 766.4 L588.6 766 L589.3 765.7 L590.1 765.3 L590.8 765 L591.5 764.7 L592.3 764.4 L593 764.1 L593.8 763.8 L594.5 763.5 L595.3 763.2 L596 762.9 L596.8 762.6 L597.6 762.4 L598.3 762.1 L599.1 761.8 L599.8 761.5 L600.6 761.3 L601.4 761 L602.1 760.8 L602.9 760.6 L603.7 760.3 L604.4 760.1 L605.2 759.9 L606 759.7 L606.8 759.5 L607.6 759.3 L608.3 759.1 L609.1 759 L609.9 758.8 L610.7 758.7 L611.9 758.5 L613.1 758.3 L613.9 758.2 L614.3 758.2" fill="none" stroke="#2d7ba6" stroke-width="1.4" stroke-linejoin="round" stroke-linecap="round"/>
<path d="M347.9 754.4 L348.8 754.4 L349.9 754.4 L351.1 754.4 L352.3 754.4 L353.1 754.4 L353.9 754.4 L354.7 754.4 L355.5 754.4 L356.3 754.4 L357.1 754.4 L357.9 754.4 L358.7 754.4 L359.5 754.4 L360.4 754.3 L361.2 754.3 L362 754.3 L362.8 754.3 L363.6 754.3 L364.4 754.3 L365.2 754.2 L366 754.2 L366.8 754.2 L367.6 754.1 L368.4 754.1 L369.2 754 L370 754 L370.8 753.9 L371.6 753.9 L372.4 753.8 L373.2 753.8 L374 753.7 L374.8 753.6 L375.6 753.6 L376.4 753.5 L377.2 753.4 L378 753.4 L378.8 753.3 L379.6 753.2 L380.4 753.1 L381.2 753 L382 752.9 L382.8 752.8 L383.6 752.7 L384.4 752.6 L385.2 752.5 L386 752.4 L386.8 752.2 L387.5 752.1 L388.3 752 L389.1 751.9 L389.9 751.8 L390.7 751.7 L391.5 751.6 L392.3 751.6 L393.1 751.5 L393.9 751.4 L394.7 751.3 L395.5 751.3 L396.3 751.2 L397.1 751.1 L397.9 751.1 L398.7 751 L399.5 750.9 L400.3 750.9 L401.1 750.8 L401.9 750.8 L402.7 750.7 L403.5 750.6 L404.3 750.6 L405.1 750.5 L405.9 750.4 L406.7 750.4 L407.5 750.3 L408.3 750.3 L409.1 750.2 L409.9 750.1 L410.7 750.1 L411.5 750 L412.3 749.9 L413.1 749.8 L413.9 749.8 L414.7 749.7 L415.5 749.6 L416.3 749.6 L417.2 749.5 L418 749.5 L418.8 749.5 L419.6 749.4 L420.4 749.4 L421.2 749.3 L422 749.3 L422.8 749.2 L423.6 749.1 L424.4 749 L425.2 748.9 L425.9 748.8 L427.1 748.5 L428.2 748.1 L429 747.5 L429.6 746.7 L429.8 745.6 L430 744.4 L430.1 743.6 L430.1 742.8 L430.2 742 L430.2 741.2 L430.3 740.4 L430.3 739.6 L430.4 738.8 L430.4 738 L430.5 737.2 L430.5 736.4 L430.6 735.6 L430.6 734.8 L430.7 734 L430.7 733.2 L430.7 732.4 L430.8 731.6 L430.8 730.8 L430.9 730 L430.9 729.2 L430.9 728.4 L431 727.6 L431 726.8 L431 726 L431.1 725.2 L431.1 724.4 L431.1 723.6 L431.2 722.8 L431.2 722 L431.2 721.2 L431.3 720.4 L431.3 719.6 L431.3 718.8 L431.4 718 L431.4 717.2 L431.4 716 L431.5 714.8 L431.5 714 L431.5 713.5 L431.5 713.5 L431.8 714.3 L432.2 715.5 L432.6 716.6 L433 717.7 L433.3 718.4 L433.6 719.2 L433.9 719.9 L434.2 720.7 L434.4 721.4 L434.7 722.2 L435 722.9 L435.4 723.7 L435.7 724.4 L436 725.1 L436.3 725.9 L436.7 726.6 L437 727.3 L437.4 728 L437.8 728.7 L438.2 729.4 L438.6 730.1 L439 730.8 L439.5 731.5 L439.9 732.1 L440.4 732.8 L440.9 733.4 L441.4 734 L442 734.6 L442.5 735.2 L443.1 735.8 L443.6 736.3 L444.2 736.9 L444.8 737.4 L445.4 738 L446 738.5 L446.6 739 L447.2 739.5 L447.9 740 L448.5 740.5 L449.1 741.1 L449.7 741.6 L450.4 742.1 L451 742.5 L451.6 743 L452.3 743.5 L452.9 744 L453.6 744.5 L454.2 744.9 L454.9 745.4 L455.6 745.8 L456.2 746.2 L456.9 746.7 L457.6 747.1 L458.3 747.5 L459 747.9 L459.7 748.2 L460.4 748.6 L461.1 749 L461.9 749.4 L462.6 749.7 L463.3 750.1 L464 750.4 L464.8 750.7 L465.5 751 L466.3 751.3 L467 751.5 L467.8 751.8 L468.6 752 L469.3 752.2 L470.1 752.4 L470.9 752.6 L471.7 752.7 L472.5 752.9 L473.3 753.1 L474 753.3 L474.8 753.4 L475.6 753.6 L476.4 753.7 L477.2 753.9 L478 754 L478.8 754.1 L479.6 754.3 L480.4 754.4 L481.2 754.5 L482 754.6 L482.8 754.7 L483.6 754.8 L484.4 754.9 L485.2 754.9 L486 755 L486.8 755.1 L487.6 755.1 L488.4 755.2 L489.2 755.2 L490 755.3 L490.8 755.4 L491.6 755.4 L492.4 755.5 L493.2 755.5 L494 755.6 L494.8 755.6 L495.6 755.7 L496.4 755.7 L497.2 755.7 L498 755.8 L498.8 755.8 L499.6 755.8 L500.4 755.9 L501.2 755.9 L502 755.9 L502.8 755.9 L503.6 755.9 L504.4 755.9 L505.2 755.9 L506 755.9 L506.8 755.9 L507.6 755.9 L508.4 755.9 L509.2 755.9 L510 755.9 L510.8 755.9 L511.6 755.9 L512.4 755.9 L513.2 755.9 L514 755.9 L514.8 755.9 L515.6 755.9 L516.4 755.9 L517.2 755.9 L518 755.9 L518.8 755.9 L519.6 755.8 L520.5 755.8 L521.3 755.8 L522.1 755.8 L522.9 755.8 L523.7 755.8 L524.5 755.8 L525.3 755.8 L526.1 755.7 L526.9 755.7 L527.7 755.7 L528.5 755.7 L529.3 755.7 L530.1 755.7 L530.9 755.7 L531.7 755.6 L532.5 755.6 L533.3 755.6 L534.1 755.6 L534.9 755.6 L535.7 755.5 L536.5 755.5 L537.3 755.5 L538.1 755.5 L538.9 755.5 L539.7 755.5 L540.5 755.4 L541.3 755.4 L542.1 755.4 L542.9 755.3 L543.7 755.3 L544.5 755.3 L545.3 755.2 L546.1 755.2 L546.9 755.2 L547.7 755.1 L548.5 755.1 L549.3 755 L550.1 755 L550.9 754.9 L551.7 754.9 L552.6 754.8 L553.4 754.7 L554.2 754.7 L555 754.6 L555.8 754.6 L556.6 754.5 L557.4 754.4 L558.2 754.4 L559 754.3 L559.8 754.3 L560.6 754.2 L561.4 754.1 L562.2 754.1 L563 754 L563.8 753.9 L564.6 753.9 L565.4 753.8 L566.2 753.7 L567 753.6 L567.8 753.5 L568.6 753.5 L569.4 753.4 L570.2 753.3 L571 753.3 L571.8 753.2 L572.6 753.2 L573.4 753.2 L574.2 753.2 L575 753.2 L575.8 753.2 L576.6 753.2 L577.4 753.2 L578.2 753.2 L579 753.2 L579.8 753.2 L580.6 753.2 L581.4 753.2 L582.2 753.2 L583 753.2 L583.8 753.2 L584.6 753.2 L585.4 753.2 L586.2 753.2 L587 753.2 L587.8 753.2 L588.6 753.2 L589.4 753.2 L590.2 753.2 L591 753.2 L591.8 753.3 L592.6 753.3 L593.4 753.3 L594.2 753.3 L595 753.3 L595.8 753.3 L596.6 753.3 L597.5 753.4 L598.3 753.4 L599.1 753.4 L599.9 753.4 L600.7 753.4 L601.5 753.5 L602.3 753.5 L603.1 753.5 L603.9 753.5 L604.7 753.6 L605.5 753.6 L606.3 753.6 L607.1 753.7 L607.9 753.7 L608.7 753.7 L609.5 753.8 L610.3 753.8 L611.5 753.9 L612.7 754 L613.9 754 L614.3 754.1" fill="none" stroke="#eeae32" stroke-width="1.4" stroke-linejoin="round" stroke-linecap="round"/>
<path d="M347.9 754.4 L348.8 754.4 L349.9 754.4 L351.1 754.4 L352.3 754.4 L353.1 754.4 L353.9 754.4 L354.7 754.4 L355.5 754.4 L356.3 754.4 L357.1 754.4 L357.9 754.4 L358.7 754.4 L359.5 754.4 L360.3 754.4 L361.1 754.4 L361.9 754.4 L362.7 754.4 L363.5 754.4 L364.3 754.4 L365.1 754.4 L365.9 754.4 L366.7 754.4 L367.5 754.4 L368.3 754.4 L369.1 754.4 L369.9 754.4 L370.7 754.4 L371.6 754.4 L372.4 754.4 L373.2 754.4 L374 754.4 L374.8 754.4 L375.6 754.4 L376.4 754.4 L377.2 754.4 L378 754.4 L378.8 754.4 L379.6 754.4 L380.4 754.4 L381.2 754.4 L382 754.4 L382.8 754.3 L383.6 754.3 L384.4 754.3 L385.2 754.3 L386 754.3 L386.8 754.3 L387.6 754.3 L388.4 754.3 L389.2 754.3 L390 754.3 L390.8 754.3 L391.6 754.3 L392.4 754.3 L393.2 754.3 L394 754.3 L394.8 754.3 L395.6 754.3 L396.4 754.3 L397.2 754.3 L398 754.3 L398.8 754.3 L399.6 754.3 L400.4 754.3 L401.2 754.3 L402 754.3 L402.8 754.3 L403.6 754.2 L404.4 754.2 L405.2 754.2 L406 754.2 L406.8 754.2 L407.6 754.2 L408.4 754.2 L409.2 754.2 L410 754.2 L410.8 754.2 L411.6 754.2 L412.4 754.2 L413.2 754.2 L414 754.2 L414.8 754.1 L415.6 754.1 L416.4 754.1 L417.2 754.1 L418.1 754.1 L418.9 754.1 L419.7 754.1 L420.5 754.1 L421.3 754.1 L422.1 754 L422.9 754 L423.7 754 L424.5 754 L425.3 754 L426.1 753.9 L426.9 753.9 L427.7 753.9 L428.5 753.8 L429.3 753.8 L430.1 753.8 L430.9 753.8 L431.7 753.7 L432.5 753.7 L433.3 753.7 L434.1 753.6 L434.9 753.6 L435.7 753.5 L436.5 753.4 L437.3 753.3 L438.1 753.2 L438.8 753 L439.6 752.9 L440.4 752.7 L441.2 752.6 L442 752.4 L442.8 752.2 L443.6 752.1 L444.3 751.9 L445.1 751.8 L445.9 751.7 L446.7 751.5 L447.5 751.4 L448.3 751.4 L449.1 751.3 L449.9 751.2 L450.7 751.2 L451.5 751.1 L452.3 751 L453.1 751 L453.9 750.9 L454.7 750.9 L455.5 750.8 L456.3 750.8 L457.1 750.7 L457.9 750.7 L458.7 750.7 L459.5 750.6 L460.3 750.6 L461.1 750.6 L461.9 750.5 L462.7 750.5 L463.5 750.5 L464.3 750.5 L465.1 750.4 L465.9 750.4 L466.7 750.4 L467.5 750.4 L468.3 750.4 L469.1 750.4 L469.9 750.4 L470.7 750.4 L471.5 750.4 L472.3 750.4 L473.1 750.4 L473.9 750.4 L474.7 750.5 L475.5 750.5 L476.3 750.5 L477.1 750.5 L477.9 750.5 L478.7 750.5 L479.5 750.5 L480.4 750.6 L481.2 750.6 L482 750.6 L482.8 750.6 L483.6 750.6 L484.4 750.6 L485.2 750.7 L486 750.7 L486.8 750.7 L487.6 750.7 L488.4 750.7 L489.2 750.8 L490 750.8 L490.8 750.8 L491.6 750.8 L492.4 750.8 L493.2 750.9 L494 750.9 L494.8 750.9 L495.6 750.9 L496.4 751 L497.2 751 L498 751 L498.8 751 L499.6 751 L500.4 751.1 L501.2 751.1 L502 751.1 L502.8 751.1 L503.6 751.1 L504.4 751.1 L505.2 751.2 L506 751.2 L506.8 751.2 L507.6 751.2 L508.4 751.2 L509.2 751.2 L510 751.2 L510.8 751.2 L511.6 751.3 L512.4 751.3 L513.2 751.3 L514 751.3 L514.8 751.3 L515.6 751.3 L516.4 751.3 L517.2 751.3 L518 751.3 L518.8 751.3 L519.6 751.3 L520.4 751.3 L521.2 751.3 L522 751.3 L522.8 751.3 L523.6 751.3 L524.4 751.3 L525.2 751.3 L526 751.3 L526.8 751.3 L527.6 751.3 L528.4 751.2 L529.2 751.2 L530 751.2 L530.9 751.2 L531.7 751.2 L532.5 751.2 L533.3 751.2 L534.1 751.2 L534.9 751.1 L535.7 751.1 L536.5 751.1 L537.3 751.1 L538.1 751.1 L538.9 751 L539.7 751 L540.5 751 L541.3 751 L542.1 750.9 L542.9 750.9 L543.7 750.9 L544.5 750.8 L545.3 750.8 L546.1 750.7 L546.9 750.7 L547.7 750.7 L548.5 750.6 L549.3 750.6 L550.1 750.5 L550.9 750.5 L551.7 750.4 L552.5 750.3 L553.3 750.3 L554.5 750.2 L555.6 750 L556.6 749.7 L557.4 749 L557.9 748.1 L558.1 747 L558.3 745.8 L558.4 745 L558.5 744.2 L558.6 743.4 L558.7 742.6 L558.8 741.8 L558.9 741 L559 740.2 L559.1 739.4 L559.2 738.6 L559.2 737.9 L559.3 737.1 L559.4 736.3 L559.5 735.5 L559.6 734.7 L559.6 733.9 L559.7 733.1 L559.8 732.3 L559.8 731.5 L559.9 730.7 L560 729.9 L560.1 728.7 L560.2 727.5 L560.2 726.3 L560.3 725.9 L560.3 725.9 L560.8 726.6 L561.5 727.5 L562.2 728.5 L562.7 729.1 L563.2 729.7 L563.7 730.4 L564.2 731 L564.7 731.6 L565.2 732.2 L565.8 732.9 L566.3 733.5 L566.8 734.1 L567.4 734.7 L567.9 735.3 L568.5 735.8 L569 736.4 L569.6 737 L570.2 737.5 L570.8 738 L571.5 738.5 L572.1 739 L572.8 739.5 L573.4 739.9 L574.1 740.3 L574.8 740.7 L575.5 741.1 L576.2 741.5 L577 741.9 L577.7 742.2 L578.4 742.6 L579.1 742.9 L579.9 743.2 L580.6 743.6 L581.4 743.9 L582.1 744.2 L582.9 744.5 L583.6 744.8 L584.4 745 L585.1 745.3 L585.9 745.6 L586.7 745.8 L587.4 746 L588.2 746.3 L589 746.5 L589.8 746.7 L590.5 746.9 L591.3 747.1 L592.1 747.3 L592.9 747.5 L593.7 747.7 L594.4 747.9 L595.2 748.1 L596 748.3 L596.8 748.5 L597.6 748.7 L598.4 748.8 L599.2 749 L599.9 749.2 L600.7 749.3 L601.5 749.5 L602.3 749.7 L603.1 749.8 L603.9 750 L604.7 750.1 L605.5 750.2 L606.3 750.4 L607.1 750.5 L607.9 750.6 L608.7 750.7 L609.5 750.8 L610.3 750.9 L611.1 751 L612.3 751.1 L613.4 751.2 L614.3 751.3" fill="none" stroke="#3cb64c" stroke-width="1.4" stroke-linejoin="round" stroke-linecap="round"/>
<path d="M347.9 754.4 L348.8 754.4 L349.9 754.4 L351.1 754.4 L352.3 754.4 L353.1 754.4 L353.9 754.4 L354.7 754.4 L355.5 754.4 L356.3 754.4 L357.1 754.4 L357.9 754.4 L358.7 754.4 L359.5 754.4 L360.3 754.4 L361.1 754.4 L361.9 754.4 L362.7 754.4 L363.5 754.4 L364.3 754.4 L365.1 754.4 L365.9 754.4 L366.7 754.4 L367.5 754.4 L368.3 754.4 L369.2 754.4 L370 754.4 L370.8 754.4 L371.6 754.4 L372.4 754.4 L373.2 754.4 L374 754.4 L374.8 754.4 L375.6 754.4 L376.4 754.4 L377.2 754.4 L378 754.4 L378.8 754.4 L379.6 754.4 L380.4 754.4 L381.2 754.4 L382 754.4 L382.8 754.4 L383.6 754.4 L384.4 754.4 L385.2 754.4 L386 754.3 L386.8 754.3 L387.6 754.3 L388.4 754.3 L389.2 754.3 L390 754.3 L390.8 754.3 L391.6 754.3 L392.4 754.3 L393.2 754.3 L394 754.3 L394.8 754.3 L395.6 754.3 L396.4 754.3 L397.2 754.3 L398 754.3 L398.8 754.3 L399.6 754.3 L400.4 754.3 L401.2 754.3 L402 754.2 L402.8 754.2 L403.6 754.2 L404.4 754.2 L405.2 754.2 L406 754.2 L406.8 754.2 L407.6 754.2 L408.4 754.2 L409.2 754.2 L410 754.2 L410.9 754.2 L411.7 754.2 L412.5 754.2 L413.3 754.1 L414.1 754.1 L414.9 754.1 L415.7 754.1 L416.5 754.1 L417.3 754.1 L418.1 754.1 L418.9 754.1 L419.7 754.1 L420.5 754.1 L421.3 754.1 L422.1 754 L422.9 754 L423.7 754 L424.5 754 L425.3 754 L426.1 753.9 L426.9 753.9 L427.7 753.8 L428.5 753.8 L429.3 753.8 L430.1 753.7 L430.9 753.6 L431.7 753.6 L432.5 753.5 L433.3 753.4 L434.1 753.3 L434.9 753.2 L435.7 753.1 L436.4 752.9 L437.2 752.7 L438 752.5 L438.8 752.3 L439.5 752.1 L440.3 751.8 L441.1 751.6 L441.8 751.3 L442.6 751.1 L443.4 750.9 L444.1 750.7 L444.9 750.5 L445.7 750.3 L446.9 750.1 L448.1 750 L448.9 749.9 L449.7 749.9 L450.5 749.9 L451.3 749.9 L452.1 749.9 L452.9 749.9 L453.7 749.9 L454.5 749.9 L455.3 749.9 L456.1 749.9 L456.9 749.9 L457.7 749.9 L458.5 749.9 L459.3 749.9 L460.1 749.9 L460.9 749.9 L461.7 749.9 L462.5 749.9 L463.3 749.9 L464.1 749.9 L464.9 749.9 L465.7 749.9 L466.5 749.9 L467.3 749.9 L468.1 749.9 L468.9 749.9 L469.7 749.9 L470.5 749.9 L471.3 749.9 L472.1 749.9 L472.9 749.9 L473.7 749.9 L474.5 749.9 L475.3 749.9 L476.1 749.9 L476.9 749.9 L477.7 749.9 L478.5 749.9 L479.3 749.9 L480.1 749.9 L480.9 749.9 L481.7 749.9 L482.5 749.9 L483.3 749.9 L484.1 749.9 L484.9 749.9 L485.8 749.9 L486.6 749.9 L487.4 749.9 L488.2 749.9 L489 749.9 L489.8 750 L490.6 750 L491.4 750 L492.2 750 L493 750.1 L493.8 750.1 L494.6 750.1 L495.4 750.2 L496.2 750.2 L497 750.3 L497.8 750.3 L498.6 750.4 L499.4 750.4 L500.2 750.5 L501 750.5 L501.8 750.6 L502.6 750.6 L503.4 750.7 L504.2 750.8 L505 750.8 L505.8 750.9 L506.6 750.9 L507.4 751 L508.2 751 L509 751 L509.8 751.1 L510.6 751.1 L511.4 751.2 L512.2 751.2 L513 751.2 L513.8 751.2 L514.6 751.3 L515.4 751.3 L516.2 751.3 L517 751.3 L517.8 751.3 L518.6 751.3 L519.4 751.3 L520.2 751.3 L521 751.3 L521.8 751.3 L522.6 751.3 L523.4 751.3 L524.2 751.3 L525 751.3 L525.8 751.3 L526.6 751.3 L527.4 751.3 L528.2 751.3 L529 751.3 L529.8 751.3 L530.6 751.3 L531.4 751.3 L532.2 751.2 L533 751.2 L533.8 751.2 L534.6 751.2 L535.4 751.2 L536.2 751.2 L537 751.2 L537.8 751.2 L538.6 751.2 L539.4 751.2 L540.2 751.2 L541 751.1 L541.8 751.1 L542.6 751.1 L543.5 751.1 L544.3 751.1 L545.1 751.1 L545.9 751 L546.7 751 L547.5 751 L548.3 751 L549.1 751 L549.9 750.9 L550.7 750.9 L551.5 750.9 L552.3 750.9 L553.1 750.8 L554.3 750.8 L555.4 750.7 L556.5 750.4 L557.3 749.9 L557.7 749 L558 747.9 L558.2 746.7 L558.3 745.9 L558.4 745.1 L558.5 744.3 L558.6 743.5 L558.7 742.7 L558.8 742 L558.9 741.2 L559.1 740.4 L559.3 739.6 L559.5 738.4 L559.8 737.3 L560 736.1 L560.3 735.3 L560.3 735.3 L560.9 735.9 L561.7 736.8 L562.6 737.6 L563.2 738.2 L563.7 738.7 L564.3 739.3 L564.9 739.8 L565.5 740.4 L566.1 740.9 L566.8 741.4 L567.4 741.9 L568 742.4 L568.7 742.9 L569.3 743.4 L570 743.8 L570.7 744.2 L571.4 744.6 L572.1 745 L572.9 745.3 L573.6 745.6 L574.4 745.9 L575.1 746.2 L575.9 746.5 L576.6 746.7 L577.4 747 L578.2 747.2 L579 747.4 L579.8 747.6 L580.5 747.8 L581.3 748.1 L582.1 748.2 L582.9 748.4 L583.7 748.6 L584.5 748.8 L585.3 748.9 L586.1 749.1 L586.9 749.2 L587.7 749.3 L588.5 749.5 L589.3 749.6 L590.1 749.7 L590.9 749.8 L591.7 749.8 L592.5 749.9 L593.3 750 L594.1 750 L594.9 750.1 L595.7 750.2 L596.5 750.2 L597.3 750.3 L598.1 750.3 L598.9 750.4 L599.7 750.4 L600.5 750.5 L601.4 750.5 L602.2 750.6 L603 750.6 L603.8 750.6 L604.6 750.7 L605.4 750.7 L606.2 750.7 L607 750.8 L607.8 750.8 L608.6 750.8 L609.4 750.8 L610.3 750.9 L611.1 750.9 L612.2 750.9 L613.4 750.9 L614.3 750.9" fill="none" stroke="#f39cc6" stroke-width="1.4" stroke-linejoin="round" stroke-linecap="round"/>
<path d="M347.9 754.4 L348.8 754.4 L349.9 754.4 L351.1 754.4 L352.3 754.4 L353.1 754.4 L353.9 754.4 L354.7 754.4 L355.5 754.4 L356.3 754.4 L357.1 754.4 L357.9 754.4 L358.7 754.4 L359.5 754.4 L360.3 754.4 L361.1 754.4 L361.9 754.4 L362.7 754.4 L363.5 754.4 L364.3 754.4 L365.1 754.4 L365.9 754.4 L366.7 754.4 L367.5 754.4 L368.3 754.4 L369.1 754.4 L369.9 754.4 L370.7 754.4 L371.5 754.4 L372.3 754.4 L373.1 754.4 L373.9 754.4 L374.7 754.4 L375.5 754.4 L376.3 754.4 L377.1 754.4 L377.9 754.4 L378.8 754.4 L379.6 754.4 L380.4 754.4 L381.2 754.4 L382 754.4 L382.8 754.4 L383.6 754.4 L384.4 754.4 L385.2 754.4 L386 754.4 L386.8 754.4 L387.6 754.4 L388.4 754.4 L389.2 754.4 L390 754.4 L390.8 754.3 L391.6 754.3 L392.4 754.3 L393.2 754.3 L394 754.3 L394.8 754.3 L395.6 754.3 L396.4 754.3 L397.2 754.3 L398 754.3 L398.8 754.3 L399.6 754.3 L400.4 754.3 L401.2 754.3 L402 754.3 L402.8 754.3 L403.6 754.3 L404.4 754.3 L405.2 754.3 L406 754.3 L406.8 754.3 L407.6 754.3 L408.4 754.3 L409.2 754.3 L410 754.3 L410.8 754.2 L411.6 754.2 L412.4 754.2 L413.2 754.2 L414 754.2 L414.8 754.2 L415.6 754.2 L416.4 754.2 L417.2 754.2 L418 754.2 L418.8 754.2 L419.6 754.2 L420.4 754.2 L421.2 754.2 L422 754.2 L422.8 754.2 L423.6 754.2 L424.4 754.2 L425.2 754.1 L426 754.1 L426.8 754.1 L427.6 754.1 L428.4 754.1 L429.2 754.1 L430 754.1 L430.8 754.1 L431.6 754.1 L432.4 754.1 L433.2 754.1 L434 754.1 L434.8 754.1 L435.6 754.1 L436.4 754.1 L437.2 754 L438 754 L438.8 754 L439.6 754 L440.4 754 L441.2 754 L442.1 753.9 L442.9 753.9 L443.7 753.9 L444.5 753.9 L445.3 753.8 L446.1 753.8 L446.9 753.8 L447.7 753.7 L448.5 753.7 L449.3 753.6 L450.1 753.6 L450.9 753.6 L451.7 753.5 L452.5 753.5 L453.3 753.4 L454.1 753.4 L454.9 753.4 L455.7 753.3 L456.5 753.3 L457.3 753.2 L458.1 753.2 L458.9 753.2 L459.7 753.1 L460.5 753.1 L461.3 753.1 L462.1 753 L462.9 753 L463.7 753 L464.5 753 L465.3 753 L466.1 752.9 L466.9 752.9 L467.7 752.9 L468.5 752.9 L469.3 752.9 L470.1 752.9 L470.9 752.8 L471.7 752.8 L472.5 752.8 L473.3 752.8 L474.1 752.8 L474.9 752.8 L475.7 752.8 L476.5 752.7 L477.3 752.7 L478.1 752.7 L478.9 752.7 L479.7 752.7 L480.5 752.7 L481.3 752.7 L482.1 752.7 L482.9 752.6 L483.7 752.6 L484.5 752.6 L485.3 752.6 L486.1 752.6 L486.9 752.6 L487.7 752.6 L488.5 752.6 L489.3 752.6 L490.1 752.5 L490.9 752.5 L491.7 752.5 L492.5 752.5 L493.3 752.5 L494.1 752.5 L494.9 752.5 L495.7 752.5 L496.5 752.5 L497.3 752.5 L498.1 752.5 L498.9 752.4 L499.7 752.4 L500.5 752.4 L501.3 752.4 L502.1 752.4 L502.9 752.4 L503.7 752.4 L504.5 752.4 L505.3 752.4 L506.1 752.4 L506.9 752.4 L507.7 752.4 L508.5 752.3 L509.3 752.3 L510.1 752.3 L510.9 752.3 L511.7 752.3 L512.5 752.3 L513.3 752.3 L514.1 752.3 L514.9 752.3 L515.7 752.3 L516.5 752.3 L517.3 752.3 L518.1 752.2 L518.9 752.2 L519.8 752.2 L520.6 752.2 L521.4 752.2 L522.2 752.2 L523 752.2 L523.8 752.2 L524.6 752.2 L525.4 752.2 L526.2 752.2 L527 752.2 L527.8 752.1 L528.6 752.1 L529.4 752.1 L530.2 752.1 L531 752.1 L531.8 752.1 L532.6 752.1 L533.4 752.1 L534.2 752.1 L535 752.1 L535.8 752.1 L536.6 752 L537.4 752 L538.2 752 L539 752 L539.8 752 L540.6 752 L541.4 752 L542.2 752 L543 752 L543.8 752 L544.6 752 L545.4 752 L546.2 752 L547 751.9 L547.8 751.9 L548.6 751.9 L549.4 751.9 L550.2 751.9 L551 751.9 L551.8 751.9 L552.6 751.9 L553.4 751.9 L554.2 751.9 L555 751.9 L555.8 751.9 L556.6 751.8 L557.4 751.8 L558.2 751.8 L559 751.8 L559.8 751.8 L560.6 751.8 L561.4 751.8 L562.2 751.8 L563 751.8 L563.8 751.8 L564.6 751.8 L565.4 751.8 L566.2 751.8 L567 751.7 L567.8 751.7 L568.6 751.7 L569.4 751.7 L570.2 751.7 L571 751.7 L571.8 751.7 L572.6 751.7 L573.4 751.7 L574.2 751.7 L575 751.7 L575.8 751.7 L576.6 751.7 L577.4 751.6 L578.2 751.6 L579 751.6 L579.8 751.6 L580.6 751.6 L581.4 751.6 L582.2 751.6 L583.1 751.6 L583.9 751.6 L584.7 751.6 L585.5 751.6 L586.3 751.6 L587.1 751.5 L587.9 751.5 L588.7 751.5 L589.5 751.5 L590.3 751.5 L591.1 751.5 L591.9 751.5 L592.7 751.5 L593.5 751.5 L594.3 751.5 L595.1 751.5 L595.9 751.5 L596.7 751.5 L597.5 751.4 L598.3 751.4 L599.1 751.4 L599.9 751.4 L600.7 751.4 L601.5 751.4 L602.3 751.4 L603.1 751.4 L603.9 751.4 L604.7 751.4 L605.5 751.4 L606.3 751.4 L607.1 751.4 L607.9 751.3 L608.7 751.3 L609.5 751.3 L610.3 751.3 L611.5 751.3 L612.7 751.3 L613.9 751.3 L614.3 751.3" fill="none" stroke="#b0b0a0" stroke-width="1.4" stroke-linejoin="round" stroke-linecap="round"/>
<path d="M347.9 704.1 V855.1 H614.3" fill="none" stroke="#3a3a3a" stroke-width="1.3"/>
<path d="M342.4 855.1H347.9M344.9 842.5H347.9M342.4 829.9H347.9M344.9 817.4H347.9M342.4 804.8H347.9M344.9 792.2H347.9M342.4 779.6H347.9M344.9 767H347.9M342.4 754.4H347.9M344.9 741.9H347.9M342.4 729.3H347.9M344.9 716.7H347.9M342.4 704.1H347.9M347.9 855.1V858.4M362.7 855.1V857.1M377.5 855.1V858.4M392.3 855.1V857.1M407.1 855.1V858.4M421.9 855.1V857.1M436.7 855.1V858.4M451.5 855.1V857.1M466.3 855.1V858.4M481.1 855.1V857.1M495.9 855.1V858.4M510.7 855.1V857.1M525.5 855.1V858.4M540.3 855.1V857.1M555.1 855.1V858.4M569.9 855.1V857.1M584.7 855.1V858.4M599.5 855.1V857.1M614.3 855.1V858.4" stroke="#3a3a3a" stroke-width="1.1"/>
<g font-family="Liberation Sans, sans-serif" font-weight="bold" font-size="7.4" fill="#1c1c24"><text x="340.2" y="855.7" text-anchor="end" dominant-baseline="central">-800</text><text x="340.2" y="830.5" text-anchor="end" dominant-baseline="central">-600</text><text x="340.2" y="805.4" text-anchor="end" dominant-baseline="central">-400</text><text x="340.2" y="780.2" text-anchor="end" dominant-baseline="central">-200</text><text x="340.2" y="755" text-anchor="end" dominant-baseline="central">0</text><text x="340.2" y="729.9" text-anchor="end" dominant-baseline="central">200</text><text x="340.2" y="704.7" text-anchor="end" dominant-baseline="central">400</text><text x="347.9" y="863.6" text-anchor="middle" dominant-baseline="central">0.0</text><text x="377.5" y="863.6" text-anchor="middle" dominant-baseline="central">0.2</text><text x="407.1" y="863.6" text-anchor="middle" dominant-baseline="central">0.4</text><text x="436.7" y="863.6" text-anchor="middle" dominant-baseline="central">0.6</text><text x="466.3" y="863.6" text-anchor="middle" dominant-baseline="central">0.8</text><text x="495.9" y="863.6" text-anchor="middle" dominant-baseline="central">1.0</text><text x="525.5" y="863.6" text-anchor="middle" dominant-baseline="central">1.2</text><text x="555.1" y="863.6" text-anchor="middle" dominant-baseline="central">1.4</text><text x="584.7" y="863.6" text-anchor="middle" dominant-baseline="central">1.6</text><text x="614.3" y="863.6" text-anchor="middle" dominant-baseline="central">1.8</text></g>
<text x="341.7" y="693.6" font-family="Liberation Sans, sans-serif" font-weight="bold" font-size="7.4" fill="#1c1c24" text-anchor="middle" dominant-baseline="central">[W]</text>
<text x="616.3" y="851.5" font-family="Liberation Sans, sans-serif" font-weight="bold" font-size="7.4" fill="#1c1c24" dominant-baseline="central">x10<tspan font-size="5.2" dx="1.2" dy="-2.5">3</tspan></text>
<text x="480.2" y="871.2" font-family="Liberation Mono, monospace" font-size="6.5" fill="#333" text-anchor="middle" dominant-baseline="central">X: Time [s]</text>
<rect x="465.4" y="784.6" width="87.5" height="65" fill="#fff" stroke="#2a2a2a" stroke-width="1.2"/>
<line x1="468.4" y1="791.8" x2="478.7" y2="791.8" stroke="#ee5555" stroke-width="1.5"/>
<text x="480.2" y="792.7" font-family="Liberation Mono, monospace" font-weight="bold" font-size="6.4" fill="#222" dominant-baseline="central" textLength="69.6" lengthAdjust="spacingAndGlyphs">heat flow rate 1 [W]</text>
<line x1="468.4" y1="802.1" x2="478.7" y2="802.1" stroke="#3d7fa6" stroke-width="1.5"/>
<text x="480.2" y="803" font-family="Liberation Mono, monospace" font-weight="bold" font-size="6.4" fill="#222" dominant-baseline="central" textLength="69.6" lengthAdjust="spacingAndGlyphs">heat flow rate 2 [W]</text>
<line x1="468.4" y1="812.4" x2="478.7" y2="812.4" stroke="#fbbd5a" stroke-width="1.5"/>
<text x="480.2" y="813.3" font-family="Liberation Mono, monospace" font-weight="bold" font-size="6.4" fill="#222" dominant-baseline="central" textLength="69.6" lengthAdjust="spacingAndGlyphs">heat flow rate 3 [W]</text>
<line x1="468.4" y1="822.8" x2="478.7" y2="822.8" stroke="#4cba5a" stroke-width="1.5"/>
<text x="480.2" y="823.7" font-family="Liberation Mono, monospace" font-weight="bold" font-size="6.4" fill="#222" dominant-baseline="central" textLength="69.6" lengthAdjust="spacingAndGlyphs">heat flow rate 4 [W]</text>
<line x1="468.4" y1="833.1" x2="478.7" y2="833.1" stroke="#f2a2c8" stroke-width="1.5"/>
<text x="480.2" y="834" font-family="Liberation Mono, monospace" font-weight="bold" font-size="6.4" fill="#222" dominant-baseline="central" textLength="69.6" lengthAdjust="spacingAndGlyphs">heat flow rate 5 [W]</text>
<line x1="468.4" y1="843.4" x2="478.7" y2="843.4" stroke="#b0b0a0" stroke-width="1.5"/>
<text x="480.2" y="844.3" font-family="Liberation Mono, monospace" font-weight="bold" font-size="6.4" fill="#222" dominant-baseline="central" textLength="69.6" lengthAdjust="spacingAndGlyphs">heat flow rate 6 [W]</text>
<line x1="621.9" y1="708.8" x2="631.9" y2="708.8" stroke="#ee5555" stroke-width="1.6"/>
<line x1="621.9" y1="715.7" x2="631.9" y2="715.7" stroke="#3d7fa6" stroke-width="1.6"/>
<line x1="621.9" y1="722.7" x2="631.9" y2="722.7" stroke="#fbbd5a" stroke-width="1.6"/>
<line x1="621.9" y1="729.6" x2="631.9" y2="729.6" stroke="#4cba5a" stroke-width="1.6"/>
<line x1="621.9" y1="736.6" x2="631.9" y2="736.6" stroke="#f2a2c8" stroke-width="1.6"/>
<line x1="621.9" y1="743.5" x2="631.9" y2="743.5" stroke="#b0b0a0" stroke-width="1.6"/>
<text x="316.2" y="200.1" font-family="Liberation Serif, serif" font-size="15.5" fill="#111" text-anchor="middle" dominant-baseline="central">(<tspan font-weight="bold" dx="1.3">a</tspan><tspan dx="1.3">)</tspan></text>
<text x="316" y="431.3" font-family="Liberation Serif, serif" font-size="15.5" fill="#111" text-anchor="middle" dominant-baseline="central">(<tspan font-weight="bold" dx="1.3">b</tspan><tspan dx="1.3">)</tspan></text>
<text x="316" y="662" font-family="Liberation Serif, serif" font-size="15.5" fill="#111" text-anchor="middle" dominant-baseline="central">(<tspan font-weight="bold" dx="1.3">c</tspan><tspan dx="1.3">)</tspan></text>
<text x="315.7" y="893.4" font-family="Liberation Serif, serif" font-size="15.5" fill="#111" text-anchor="middle" dominant-baseline="central">(<tspan font-weight="bold" dx="1.3">d</tspan><tspan dx="1.3">)</tspan></text>
</svg>
</body></html>
